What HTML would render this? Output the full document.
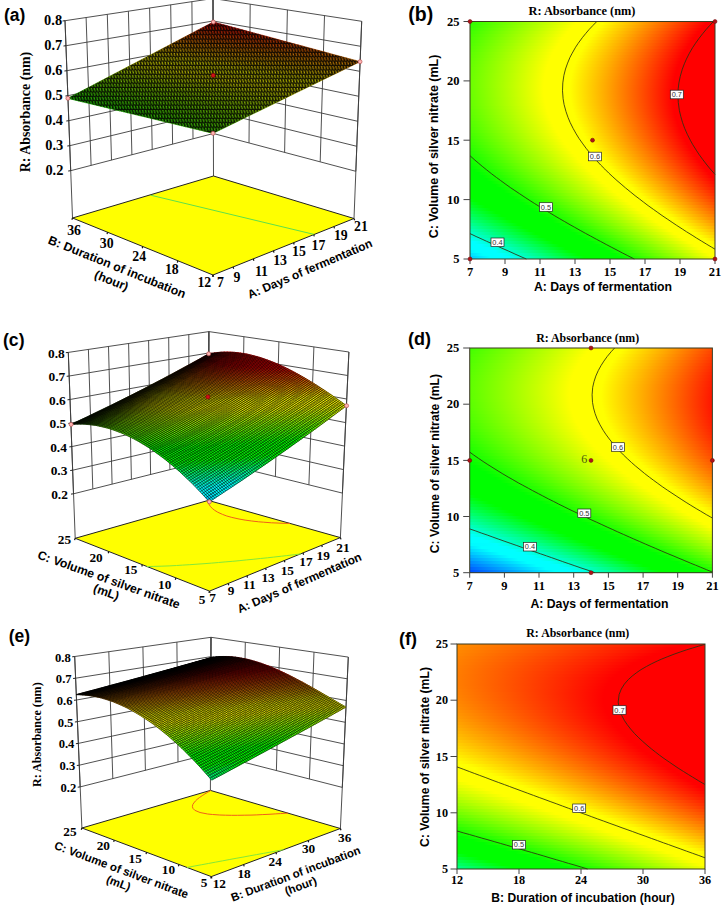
<!DOCTYPE html>
<html><head><meta charset="utf-8"><title>Response surface and contour plots</title>
<style>html,body{margin:0;padding:0;background:#fff}svg{display:block}</style></head>
<body><svg width="723" height="906" viewBox="0 0 723 906">
<defs><linearGradient id="a35" gradientUnits="userSpaceOnUse" x1="69.6" x2="215.1"><stop offset="0" stop-color="#14b800"/><stop offset=".232" stop-color="#66b800"/><stop offset=".453" stop-color="#b8b800"/><stop offset=".559" stop-color="#b8b800"/><stop offset=".775" stop-color="#b85c00"/><stop offset=".981" stop-color="#b80000"/><stop offset="1" stop-color="#b80000"/></linearGradient>
<linearGradient id="a34" gradientUnits="userSpaceOnUse" x1="73.2" x2="218.7"><stop offset="0" stop-color="#15b800"/><stop offset=".233" stop-color="#66b800"/><stop offset=".455" stop-color="#b8b800"/><stop offset=".562" stop-color="#b8b800"/><stop offset=".78" stop-color="#b85c00"/><stop offset=".988" stop-color="#b80000"/><stop offset="1" stop-color="#b80000"/></linearGradient>
<linearGradient id="a33" gradientUnits="userSpaceOnUse" x1="76.7" x2="222.4"><stop offset="0" stop-color="#16b800"/><stop offset=".234" stop-color="#67b800"/><stop offset=".457" stop-color="#b8b800"/><stop offset=".565" stop-color="#b8b800"/><stop offset=".785" stop-color="#b85c00"/><stop offset=".995" stop-color="#b80000"/><stop offset="1" stop-color="#b80000"/></linearGradient>
<linearGradient id="a32" gradientUnits="userSpaceOnUse" x1="80.3" x2="226.1"><stop offset="0" stop-color="#17b800"/><stop offset=".235" stop-color="#67b800"/><stop offset=".459" stop-color="#b8b800"/><stop offset=".568" stop-color="#b8b800"/><stop offset=".789" stop-color="#b85c00"/><stop offset="1" stop-color="#b80100"/></linearGradient>
<linearGradient id="a31" gradientUnits="userSpaceOnUse" x1="83.9" x2="229.8"><stop offset="0" stop-color="#18b800"/><stop offset=".236" stop-color="#68b800"/><stop offset=".461" stop-color="#b8b800"/><stop offset=".571" stop-color="#b8b800"/><stop offset=".791" stop-color="#b85e00"/><stop offset="1" stop-color="#b80400"/></linearGradient>
<linearGradient id="a30" gradientUnits="userSpaceOnUse" x1="87.5" x2="233.5"><stop offset="0" stop-color="#19b800"/><stop offset=".238" stop-color="#68b800"/><stop offset=".463" stop-color="#b8b800"/><stop offset=".574" stop-color="#b8b800"/><stop offset=".793" stop-color="#b85f00"/><stop offset="1" stop-color="#b80700"/></linearGradient>
<linearGradient id="a29" gradientUnits="userSpaceOnUse" x1="91.2" x2="237.2"><stop offset="0" stop-color="#1ab800"/><stop offset=".239" stop-color="#69b800"/><stop offset=".466" stop-color="#b8b800"/><stop offset=".578" stop-color="#b8b800"/><stop offset=".794" stop-color="#b86100"/><stop offset="1" stop-color="#b80a00"/></linearGradient>
<linearGradient id="a28" gradientUnits="userSpaceOnUse" x1="94.9" x2="241"><stop offset="0" stop-color="#1bb800"/><stop offset=".24" stop-color="#69b800"/><stop offset=".468" stop-color="#b8b800"/><stop offset=".581" stop-color="#b8b800"/><stop offset=".796" stop-color="#b86200"/><stop offset="1" stop-color="#b80d00"/></linearGradient>
<linearGradient id="a27" gradientUnits="userSpaceOnUse" x1="98.6" x2="244.8"><stop offset="0" stop-color="#1cb800"/><stop offset=".241" stop-color="#6ab800"/><stop offset=".47" stop-color="#b8b800"/><stop offset=".585" stop-color="#b8b800"/><stop offset=".797" stop-color="#b86400"/><stop offset="1" stop-color="#b81000"/></linearGradient>
<linearGradient id="a26" gradientUnits="userSpaceOnUse" x1="102.3" x2="248.7"><stop offset="0" stop-color="#1db800"/><stop offset=".242" stop-color="#6ab800"/><stop offset=".473" stop-color="#b8b800"/><stop offset=".588" stop-color="#b8b800"/><stop offset=".799" stop-color="#b86600"/><stop offset="1" stop-color="#b81400"/></linearGradient>
<linearGradient id="a25" gradientUnits="userSpaceOnUse" x1="106.1" x2="252.5"><stop offset="0" stop-color="#1db800"/><stop offset=".244" stop-color="#6bb800"/><stop offset=".475" stop-color="#b8b800"/><stop offset=".592" stop-color="#b8b800"/><stop offset=".801" stop-color="#b86700"/><stop offset="1" stop-color="#b81700"/></linearGradient>
<linearGradient id="a24" gradientUnits="userSpaceOnUse" x1="109.9" x2="256.4"><stop offset="0" stop-color="#1eb800"/><stop offset=".245" stop-color="#6bb800"/><stop offset=".477" stop-color="#b8b800"/><stop offset=".596" stop-color="#b8b800"/><stop offset=".803" stop-color="#b86900"/><stop offset="1" stop-color="#b81a00"/></linearGradient>
<linearGradient id="a23" gradientUnits="userSpaceOnUse" x1="113.7" x2="260.3"><stop offset="0" stop-color="#1fb800"/><stop offset=".246" stop-color="#6cb800"/><stop offset=".48" stop-color="#b8b800"/><stop offset=".599" stop-color="#b8b800"/><stop offset=".805" stop-color="#b86a00"/><stop offset="1" stop-color="#b81d00"/></linearGradient>
<linearGradient id="a22" gradientUnits="userSpaceOnUse" x1="117.6" x2="264.2"><stop offset="0" stop-color="#20b800"/><stop offset=".248" stop-color="#6cb800"/><stop offset=".482" stop-color="#b8b800"/><stop offset=".603" stop-color="#b8b800"/><stop offset=".806" stop-color="#b86c00"/><stop offset="1" stop-color="#b82000"/></linearGradient>
<linearGradient id="a21" gradientUnits="userSpaceOnUse" x1="121.5" x2="268.2"><stop offset="0" stop-color="#21b800"/><stop offset=".249" stop-color="#6cb800"/><stop offset=".485" stop-color="#b8b800"/><stop offset=".607" stop-color="#b8b800"/><stop offset=".808" stop-color="#b86d00"/><stop offset="1" stop-color="#b82300"/></linearGradient>
<linearGradient id="a20" gradientUnits="userSpaceOnUse" x1="125.4" x2="272.2"><stop offset="0" stop-color="#22b800"/><stop offset=".251" stop-color="#6db800"/><stop offset=".488" stop-color="#b8b800"/><stop offset=".611" stop-color="#b8b800"/><stop offset=".81" stop-color="#b86f00"/><stop offset="1" stop-color="#b82700"/></linearGradient>
<linearGradient id="a19" gradientUnits="userSpaceOnUse" x1="129.3" x2="276.2"><stop offset="0" stop-color="#23b800"/><stop offset=".252" stop-color="#6db800"/><stop offset=".49" stop-color="#b8b800"/><stop offset=".615" stop-color="#b8b800"/><stop offset=".812" stop-color="#b87100"/><stop offset="1" stop-color="#b82a00"/></linearGradient>
<linearGradient id="a18" gradientUnits="userSpaceOnUse" x1="133.3" x2="280.2"><stop offset="0" stop-color="#24b800"/><stop offset=".254" stop-color="#6eb800"/><stop offset=".493" stop-color="#b8b800"/><stop offset=".62" stop-color="#b8b800"/><stop offset=".814" stop-color="#b87200"/><stop offset="1" stop-color="#b82d00"/></linearGradient>
<linearGradient id="a17" gradientUnits="userSpaceOnUse" x1="137.3" x2="284.3"><stop offset="0" stop-color="#25b800"/><stop offset=".255" stop-color="#6eb800"/><stop offset=".496" stop-color="#b8b800"/><stop offset=".624" stop-color="#b8b800"/><stop offset=".816" stop-color="#b87400"/><stop offset="1" stop-color="#b83000"/></linearGradient>
<linearGradient id="a16" gradientUnits="userSpaceOnUse" x1="141.4" x2="288.3"><stop offset="0" stop-color="#26b800"/><stop offset=".257" stop-color="#6fb800"/><stop offset=".499" stop-color="#b8b800"/><stop offset=".628" stop-color="#b8b800"/><stop offset=".818" stop-color="#b87500"/><stop offset="1" stop-color="#b83300"/></linearGradient>
<linearGradient id="a15" gradientUnits="userSpaceOnUse" x1="145.5" x2="292.5"><stop offset="0" stop-color="#27b800"/><stop offset=".258" stop-color="#6fb800"/><stop offset=".502" stop-color="#b8b800"/><stop offset=".633" stop-color="#b8b800"/><stop offset=".821" stop-color="#b87700"/><stop offset="1" stop-color="#b83600"/></linearGradient>
<linearGradient id="a14" gradientUnits="userSpaceOnUse" x1="149.6" x2="296.6"><stop offset="0" stop-color="#28b800"/><stop offset=".26" stop-color="#70b800"/><stop offset=".505" stop-color="#b8b800"/><stop offset=".638" stop-color="#b8b800"/><stop offset=".823" stop-color="#b87900"/><stop offset="1" stop-color="#b83900"/></linearGradient>
<linearGradient id="a13" gradientUnits="userSpaceOnUse" x1="153.7" x2="300.8"><stop offset="0" stop-color="#29b800"/><stop offset=".262" stop-color="#70b800"/><stop offset=".508" stop-color="#b8b800"/><stop offset=".642" stop-color="#b8b800"/><stop offset=".825" stop-color="#b87a00"/><stop offset="1" stop-color="#b83d00"/></linearGradient>
<linearGradient id="a12" gradientUnits="userSpaceOnUse" x1="157.9" x2="305"><stop offset="0" stop-color="#2ab800"/><stop offset=".264" stop-color="#71b800"/><stop offset=".511" stop-color="#b8b800"/><stop offset=".647" stop-color="#b8b800"/><stop offset=".828" stop-color="#b87c00"/><stop offset="1" stop-color="#b84000"/></linearGradient>
<linearGradient id="a11" gradientUnits="userSpaceOnUse" x1="162.1" x2="309.2"><stop offset="0" stop-color="#2bb800"/><stop offset=".265" stop-color="#71b800"/><stop offset=".515" stop-color="#b8b800"/><stop offset=".652" stop-color="#b8b800"/><stop offset=".83" stop-color="#b87d00"/><stop offset="1" stop-color="#b84300"/></linearGradient>
<linearGradient id="a10" gradientUnits="userSpaceOnUse" x1="166.3" x2="313.5"><stop offset="0" stop-color="#2cb800"/><stop offset=".267" stop-color="#72b800"/><stop offset=".518" stop-color="#b8b800"/><stop offset=".657" stop-color="#b8b800"/><stop offset=".832" stop-color="#b87f00"/><stop offset="1" stop-color="#b84600"/></linearGradient>
<linearGradient id="a9" gradientUnits="userSpaceOnUse" x1="170.6" x2="317.8"><stop offset="0" stop-color="#2db800"/><stop offset=".269" stop-color="#72b800"/><stop offset=".522" stop-color="#b8b800"/><stop offset=".662" stop-color="#b8b800"/><stop offset=".835" stop-color="#b88000"/><stop offset="1" stop-color="#b84900"/></linearGradient>
<linearGradient id="a8" gradientUnits="userSpaceOnUse" x1="174.9" x2="322.1"><stop offset="0" stop-color="#2eb800"/><stop offset=".271" stop-color="#73b800"/><stop offset=".525" stop-color="#b8b800"/><stop offset=".668" stop-color="#b8b800"/><stop offset=".838" stop-color="#b88200"/><stop offset="1" stop-color="#b84c00"/></linearGradient>
<linearGradient id="a7" gradientUnits="userSpaceOnUse" x1="179.3" x2="326.4"><stop offset="0" stop-color="#2fb800"/><stop offset=".273" stop-color="#73b800"/><stop offset=".529" stop-color="#b8b800"/><stop offset=".673" stop-color="#b8b800"/><stop offset=".84" stop-color="#b88400"/><stop offset="1" stop-color="#b85000"/></linearGradient>
<linearGradient id="a6" gradientUnits="userSpaceOnUse" x1="183.6" x2="330.8"><stop offset="0" stop-color="#30b800"/><stop offset=".185" stop-color="#5db800"/><stop offset=".363" stop-color="#8ab800"/><stop offset=".533" stop-color="#b8b800"/><stop offset=".679" stop-color="#b8b800"/><stop offset=".843" stop-color="#b88500"/><stop offset="1" stop-color="#b85300"/></linearGradient>
<linearGradient id="a5" gradientUnits="userSpaceOnUse" x1="188.1" x2="335.2"><stop offset="0" stop-color="#31b800"/><stop offset=".187" stop-color="#5eb800"/><stop offset=".365" stop-color="#8bb800"/><stop offset=".537" stop-color="#b8b800"/><stop offset=".685" stop-color="#b8b800"/><stop offset=".846" stop-color="#b88700"/><stop offset="1" stop-color="#b85600"/></linearGradient>
<linearGradient id="a4" gradientUnits="userSpaceOnUse" x1="192.5" x2="339.7"><stop offset="0" stop-color="#32b800"/><stop offset=".188" stop-color="#5eb800"/><stop offset=".368" stop-color="#8bb800"/><stop offset=".541" stop-color="#b8b800"/><stop offset=".691" stop-color="#b8b800"/><stop offset=".849" stop-color="#b88800"/><stop offset="1" stop-color="#b85900"/></linearGradient>
<linearGradient id="a3" gradientUnits="userSpaceOnUse" x1="197" x2="344.1"><stop offset="0" stop-color="#33b800"/><stop offset=".19" stop-color="#5fb800"/><stop offset=".371" stop-color="#8bb800"/><stop offset=".545" stop-color="#b8b800"/><stop offset=".697" stop-color="#b8b800"/><stop offset=".852" stop-color="#b88a00"/><stop offset="1" stop-color="#b85c00"/></linearGradient>
<linearGradient id="a2" gradientUnits="userSpaceOnUse" x1="201.5" x2="348.6"><stop offset="0" stop-color="#34b800"/><stop offset=".191" stop-color="#60b800"/><stop offset=".374" stop-color="#8cb800"/><stop offset=".549" stop-color="#b8b800"/><stop offset=".703" stop-color="#b8b800"/><stop offset=".855" stop-color="#b88b00"/><stop offset="1" stop-color="#b85f00"/></linearGradient>
<linearGradient id="a1" gradientUnits="userSpaceOnUse" x1="206.1" x2="353.2"><stop offset="0" stop-color="#35b800"/><stop offset=".193" stop-color="#60b800"/><stop offset=".377" stop-color="#8cb800"/><stop offset=".553" stop-color="#b8b800"/><stop offset=".71" stop-color="#b8b800"/><stop offset=".858" stop-color="#b88d00"/><stop offset="1" stop-color="#b86200"/></linearGradient>
<linearGradient id="a0" gradientUnits="userSpaceOnUse" x1="210.7" x2="357.7"><stop offset="0" stop-color="#36b800"/><stop offset=".195" stop-color="#61b800"/><stop offset=".38" stop-color="#8cb800"/><stop offset=".558" stop-color="#b8b800"/><stop offset=".717" stop-color="#b8b800"/><stop offset=".861" stop-color="#b88f00"/><stop offset="1" stop-color="#b86600"/></linearGradient>
<pattern id="ha" width="2.9" height="8.8" patternUnits="userSpaceOnUse" patternTransform="skewX(16)"><path d="M0 0h1.6v4.4H0zM1.45 4.4h1.6v4.4h-1.6zM0 4.4h0.1499999999999999v4.4H0zM0 3.4000000000000004h2.9v1.0H0zM0 7.800000000000001h2.9v1.0H0z" fill="#000"/></pattern>
<linearGradient id="c39" gradientUnits="userSpaceOnUse" x1="72.6" x2="210.2"><stop offset="0" stop-color="#0a3400"/><stop offset=".234" stop-color="#274300"/><stop offset=".456" stop-color="#515100"/><stop offset=".564" stop-color="#585800"/><stop offset=".769" stop-color="#663500"/><stop offset=".964" stop-color="#750000"/><stop offset="1" stop-color="#700"/></linearGradient>
<linearGradient id="c38" gradientUnits="userSpaceOnUse" x1="75.6" x2="213.3"><stop offset="0" stop-color="#104500"/><stop offset=".222" stop-color="#325300"/><stop offset=".433" stop-color="#626200"/><stop offset=".542" stop-color="#696900"/><stop offset=".748" stop-color="#793e00"/><stop offset=".945" stop-color="#8a0000"/><stop offset="1" stop-color="#8f0000"/></linearGradient>
<linearGradient id="c37" gradientUnits="userSpaceOnUse" x1="78.7" x2="216.4"><stop offset="0" stop-color="#175500"/><stop offset=".211" stop-color="#3e6300"/><stop offset=".413" stop-color="#717100"/><stop offset=".522" stop-color="#797900"/><stop offset=".73" stop-color="#8a4700"/><stop offset=".928" stop-color="#9d0000"/><stop offset="1" stop-color="#a50000"/></linearGradient>
<linearGradient id="c36" gradientUnits="userSpaceOnUse" x1="81.7" x2="219.6"><stop offset="0" stop-color="#1f6500"/><stop offset=".201" stop-color="#4a7300"/><stop offset=".394" stop-color="#818100"/><stop offset=".504" stop-color="#898900"/><stop offset=".713" stop-color="#9b5000"/><stop offset=".913" stop-color="#af0000"/><stop offset="1" stop-color="#b90000"/></linearGradient>
<linearGradient id="c35" gradientUnits="userSpaceOnUse" x1="84.8" x2="222.8"><stop offset="0" stop-color="#277400"/><stop offset=".193" stop-color="#568200"/><stop offset=".378" stop-color="#909000"/><stop offset=".488" stop-color="#989800"/><stop offset=".699" stop-color="#ab5800"/><stop offset=".9" stop-color="#c00000"/><stop offset="1" stop-color="#cd0000"/></linearGradient>
<linearGradient id="c34" gradientUnits="userSpaceOnUse" x1="87.9" x2="226"><stop offset="0" stop-color="#2f8300"/><stop offset=".186" stop-color="#619100"/><stop offset=".364" stop-color="#9e9e00"/><stop offset=".475" stop-color="#a7a700"/><stop offset=".687" stop-color="#bb6000"/><stop offset=".888" stop-color="#d10000"/><stop offset="1" stop-color="#e00000"/></linearGradient>
<linearGradient id="c33" gradientUnits="userSpaceOnUse" x1="91" x2="229.2"><stop offset="0" stop-color="#379200"/><stop offset=".179" stop-color="#6da000"/><stop offset=".352" stop-color="#adad00"/><stop offset=".463" stop-color="#b6b600"/><stop offset=".676" stop-color="#ca6800"/><stop offset=".879" stop-color="#e10000"/><stop offset="1" stop-color="#f20000"/></linearGradient>
<linearGradient id="c32" gradientUnits="userSpaceOnUse" x1="94.2" x2="232.4"><stop offset="0" stop-color="#3fa000"/><stop offset=".175" stop-color="#78ae00"/><stop offset=".342" stop-color="#bb0"/><stop offset=".454" stop-color="#c5c500"/><stop offset=".668" stop-color="#d96f00"/><stop offset=".872" stop-color="#f10000"/><stop offset="1" stop-color="#f20000"/></linearGradient>
<linearGradient id="c31" gradientUnits="userSpaceOnUse" x1="97.4" x2="235.6"><stop offset="0" stop-color="#47af00"/><stop offset=".171" stop-color="#83bc00"/><stop offset=".335" stop-color="#caca00"/><stop offset=".447" stop-color="#d4d400"/><stop offset=".662" stop-color="#e87700"/><stop offset=".866" stop-color="#f20000"/><stop offset="1" stop-color="#f20000"/></linearGradient>
<linearGradient id="c30" gradientUnits="userSpaceOnUse" x1="100.6" x2="238.9"><stop offset="0" stop-color="#4ebd00"/><stop offset=".168" stop-color="#8ecb00"/><stop offset=".33" stop-color="#d8d800"/><stop offset=".442" stop-color="#e2e200"/><stop offset=".657" stop-color="#f27c00"/><stop offset=".862" stop-color="#f20000"/><stop offset="1" stop-color="#f20000"/></linearGradient>
<linearGradient id="c29" gradientUnits="userSpaceOnUse" x1="103.8" x2="242.2"><stop offset="0" stop-color="#54cb00"/><stop offset=".167" stop-color="#98d900"/><stop offset=".328" stop-color="#e7e700"/><stop offset=".439" stop-color="#f1f100"/><stop offset=".655" stop-color="#f27b00"/><stop offset=".86" stop-color="#f20000"/><stop offset="1" stop-color="#f20000"/></linearGradient>
<linearGradient id="c28" gradientUnits="userSpaceOnUse" x1="107.1" x2="245.5"><stop offset="0" stop-color="#59d800"/><stop offset=".167" stop-color="#a2e700"/><stop offset=".327" stop-color="#f2f200"/><stop offset=".439" stop-color="#f2f200"/><stop offset=".655" stop-color="#f27b00"/><stop offset=".86" stop-color="#f20000"/><stop offset="1" stop-color="#f20000"/></linearGradient>
<linearGradient id="c27" gradientUnits="userSpaceOnUse" x1="110.3" x2="248.8"><stop offset="0" stop-color="#5ee600"/><stop offset=".168" stop-color="#a9f200"/><stop offset=".329" stop-color="#f2f200"/><stop offset=".44" stop-color="#f2f200"/><stop offset=".656" stop-color="#f27b00"/><stop offset=".862" stop-color="#f20000"/><stop offset="1" stop-color="#f20000"/></linearGradient>
<linearGradient id="c26" gradientUnits="userSpaceOnUse" x1="113.6" x2="252.1"><stop offset="0" stop-color="#60f200"/><stop offset=".17" stop-color="#a8f200"/><stop offset=".333" stop-color="#f2f200"/><stop offset=".444" stop-color="#f2f200"/><stop offset=".66" stop-color="#f27b00"/><stop offset=".866" stop-color="#f20000"/><stop offset="1" stop-color="#f20000"/></linearGradient>
<linearGradient id="c25" gradientUnits="userSpaceOnUse" x1="117" x2="255.5"><stop offset="0" stop-color="#5df200"/><stop offset=".173" stop-color="#a6f200"/><stop offset=".339" stop-color="#f2f200"/><stop offset=".449" stop-color="#f2f200"/><stop offset=".666" stop-color="#f27a00"/><stop offset=".871" stop-color="#f20000"/><stop offset="1" stop-color="#f20000"/></linearGradient>
<linearGradient id="c24" gradientUnits="userSpaceOnUse" x1="120.3" x2="258.8"><stop offset="0" stop-color="#58f200"/><stop offset=".177" stop-color="#a4f200"/><stop offset=".348" stop-color="#f2f200"/><stop offset=".457" stop-color="#f2f200"/><stop offset=".673" stop-color="#f27a00"/><stop offset=".879" stop-color="#f20000"/><stop offset="1" stop-color="#f20000"/></linearGradient>
<linearGradient id="c23" gradientUnits="userSpaceOnUse" x1="123.7" x2="262.2"><stop offset="0" stop-color="#53f200"/><stop offset=".183" stop-color="#a1f200"/><stop offset=".358" stop-color="#f2f200"/><stop offset=".467" stop-color="#f2f200"/><stop offset=".683" stop-color="#f27a00"/><stop offset=".888" stop-color="#f20000"/><stop offset="1" stop-color="#f20000"/></linearGradient>
<linearGradient id="c22" gradientUnits="userSpaceOnUse" x1="127.1" x2="265.6"><stop offset="0" stop-color="#4cf200"/><stop offset=".189" stop-color="#9df200"/><stop offset=".37" stop-color="#f2f200"/><stop offset=".478" stop-color="#f2f200"/><stop offset=".694" stop-color="#f27a00"/><stop offset=".899" stop-color="#f20000"/><stop offset="1" stop-color="#f20000"/></linearGradient>
<linearGradient id="c21" gradientUnits="userSpaceOnUse" x1="130.5" x2="269"><stop offset="0" stop-color="#44f200"/><stop offset=".197" stop-color="#99f200"/><stop offset=".385" stop-color="#f2f200"/><stop offset=".492" stop-color="#f2f200"/><stop offset=".707" stop-color="#f27900"/><stop offset=".912" stop-color="#f20000"/><stop offset="1" stop-color="#f20000"/></linearGradient>
<linearGradient id="c20" gradientUnits="userSpaceOnUse" x1="133.9" x2="272.5"><stop offset="0" stop-color="#3bf200"/><stop offset=".205" stop-color="#95f200"/><stop offset=".401" stop-color="#f2f200"/><stop offset=".508" stop-color="#f2f200"/><stop offset=".722" stop-color="#f27900"/><stop offset=".926" stop-color="#f20000"/><stop offset="1" stop-color="#f20000"/></linearGradient>
<linearGradient id="c19" gradientUnits="userSpaceOnUse" x1="137.4" x2="275.9"><stop offset="0" stop-color="#32f200"/><stop offset=".215" stop-color="#90f200"/><stop offset=".42" stop-color="#f2f200"/><stop offset=".525" stop-color="#f2f200"/><stop offset=".739" stop-color="#f27900"/><stop offset=".942" stop-color="#f20000"/><stop offset="1" stop-color="#f20000"/></linearGradient>
<linearGradient id="c18" gradientUnits="userSpaceOnUse" x1="140.9" x2="279.4"><stop offset="0" stop-color="#27f200"/><stop offset=".226" stop-color="#8af200"/><stop offset=".44" stop-color="#f2f200"/><stop offset=".545" stop-color="#f2f200"/><stop offset=".758" stop-color="#f27800"/><stop offset=".961" stop-color="#f20000"/><stop offset="1" stop-color="#f20000"/></linearGradient>
<linearGradient id="c17" gradientUnits="userSpaceOnUse" x1="144.4" x2="282.9"><stop offset="0" stop-color="#1bf200"/><stop offset=".237" stop-color="#84f200"/><stop offset=".462" stop-color="#f2f200"/><stop offset=".566" stop-color="#f2f200"/><stop offset=".778" stop-color="#f27800"/><stop offset=".98" stop-color="#f20000"/><stop offset="1" stop-color="#f20000"/></linearGradient>
<linearGradient id="c16" gradientUnits="userSpaceOnUse" x1="147.9" x2="286.4"><stop offset="0" stop-color="#0ef200"/><stop offset=".25" stop-color="#7ef200"/><stop offset=".486" stop-color="#f2f200"/><stop offset=".588" stop-color="#f2f200"/><stop offset=".8" stop-color="#f27800"/><stop offset="1" stop-color="#f20100"/></linearGradient>
<linearGradient id="c15" gradientUnits="userSpaceOnUse" x1="151.5" x2="289.9"><stop offset="0" stop-color="#00f200"/><stop offset=".263" stop-color="#77f200"/><stop offset=".511" stop-color="#f2f200"/><stop offset=".613" stop-color="#f2f200"/><stop offset=".811" stop-color="#f27f00"/><stop offset="1" stop-color="#f20e00"/></linearGradient>
<linearGradient id="c14" gradientUnits="userSpaceOnUse" x1="155.1" x2="293.4"><stop offset="0" stop-color="#00f200"/><stop offset=".035" stop-color="#00f200"/><stop offset=".294" stop-color="#77f200"/><stop offset=".538" stop-color="#f2f200"/><stop offset=".639" stop-color="#f2f200"/><stop offset=".824" stop-color="#f28600"/><stop offset="1" stop-color="#f21d00"/></linearGradient>
<linearGradient id="c13" gradientUnits="userSpaceOnUse" x1="158.7" x2="297"><stop offset="0" stop-color="#00f200"/><stop offset=".072" stop-color="#00f200"/><stop offset=".326" stop-color="#77f200"/><stop offset=".567" stop-color="#f2f200"/><stop offset=".666" stop-color="#f2f200"/><stop offset=".837" stop-color="#f28e00"/><stop offset="1" stop-color="#f22c00"/></linearGradient>
<linearGradient id="c12" gradientUnits="userSpaceOnUse" x1="162.3" x2="300.5"><stop offset="0" stop-color="#00f200"/><stop offset=".11" stop-color="#00f200"/><stop offset=".36" stop-color="#77f200"/><stop offset=".596" stop-color="#f2f200"/><stop offset=".695" stop-color="#f2f200"/><stop offset=".85" stop-color="#f29600"/><stop offset="1" stop-color="#f23c00"/></linearGradient>
<linearGradient id="c11" gradientUnits="userSpaceOnUse" x1="166" x2="304.1"><stop offset="0" stop-color="#00f200"/><stop offset=".149" stop-color="#00f200"/><stop offset=".395" stop-color="#78f200"/><stop offset=".628" stop-color="#f2f200"/><stop offset=".725" stop-color="#f2f200"/><stop offset=".865" stop-color="#f29e00"/><stop offset="1" stop-color="#f24c00"/></linearGradient>
<linearGradient id="c10" gradientUnits="userSpaceOnUse" x1="169.6" x2="307.7"><stop offset="0" stop-color="#00f200"/><stop offset=".19" stop-color="#00f200"/><stop offset=".431" stop-color="#78f200"/><stop offset=".66" stop-color="#f2f200"/><stop offset=".756" stop-color="#f2f200"/><stop offset=".88" stop-color="#f2a700"/><stop offset="1" stop-color="#f25d00"/></linearGradient>
<linearGradient id="c9" gradientUnits="userSpaceOnUse" x1="173.3" x2="311.4"><stop offset="0" stop-color="#00f218"/><stop offset=".039" stop-color="#00f200"/><stop offset=".231" stop-color="#00f200"/><stop offset=".469" stop-color="#78f200"/><stop offset=".693" stop-color="#f2f200"/><stop offset=".788" stop-color="#f2f200"/><stop offset="1" stop-color="#f26f00"/></linearGradient>
<linearGradient id="c8" gradientUnits="userSpaceOnUse" x1="177" x2="315"><stop offset="0" stop-color="#00f236"/><stop offset=".086" stop-color="#00f200"/><stop offset=".274" stop-color="#00f200"/><stop offset=".507" stop-color="#78f200"/><stop offset=".727" stop-color="#f2f200"/><stop offset=".82" stop-color="#f2f200"/><stop offset="1" stop-color="#f28200"/></linearGradient>
<linearGradient id="c7" gradientUnits="userSpaceOnUse" x1="180.8" x2="318.7"><stop offset="0" stop-color="#00f256"/><stop offset=".134" stop-color="#00f200"/><stop offset=".317" stop-color="#00f200"/><stop offset=".546" stop-color="#78f200"/><stop offset=".762" stop-color="#f2f200"/><stop offset=".853" stop-color="#f2f200"/><stop offset="1" stop-color="#f29500"/></linearGradient>
<linearGradient id="c6" gradientUnits="userSpaceOnUse" x1="184.5" x2="322.3"><stop offset="0" stop-color="#00f277"/><stop offset=".183" stop-color="#00f200"/><stop offset=".362" stop-color="#00f200"/><stop offset=".585" stop-color="#78f200"/><stop offset=".797" stop-color="#f2f200"/><stop offset=".887" stop-color="#f2f200"/><stop offset="1" stop-color="#f2a800"/></linearGradient>
<linearGradient id="c5" gradientUnits="userSpaceOnUse" x1="188.3" x2="326"><stop offset="0" stop-color="#00f29a"/><stop offset=".232" stop-color="#00f200"/><stop offset=".407" stop-color="#00f200"/><stop offset=".625" stop-color="#78f200"/><stop offset=".832" stop-color="#f2f200"/><stop offset=".919" stop-color="#f2f200"/><stop offset="1" stop-color="#f2bc00"/></linearGradient>
<linearGradient id="c4" gradientUnits="userSpaceOnUse" x1="192.1" x2="329.7"><stop offset="0" stop-color="#00f2be"/><stop offset=".144" stop-color="#00f261"/><stop offset=".282" stop-color="#00f200"/><stop offset=".453" stop-color="#00f200"/><stop offset=".665" stop-color="#78f200"/><stop offset=".867" stop-color="#f2f200"/><stop offset=".952" stop-color="#f2f200"/><stop offset="1" stop-color="#f2d100"/></linearGradient>
<linearGradient id="c3" gradientUnits="userSpaceOnUse" x1="195.9" x2="333.4"><stop offset="0" stop-color="#00f2e4"/><stop offset=".17" stop-color="#00f274"/><stop offset=".333" stop-color="#00f200"/><stop offset=".498" stop-color="#00f200"/><stop offset=".705" stop-color="#78f200"/><stop offset=".901" stop-color="#f2f200"/><stop offset=".983" stop-color="#f2f200"/><stop offset="1" stop-color="#f2e600"/></linearGradient>
<linearGradient id="c2" gradientUnits="userSpaceOnUse" x1="199.8" x2="337.2"><stop offset="0" stop-color="#00f2f2"/><stop offset=".039" stop-color="#00f2f2"/><stop offset=".215" stop-color="#00f27b"/><stop offset=".383" stop-color="#00f200"/><stop offset=".544" stop-color="#00f200"/><stop offset=".744" stop-color="#77f200"/><stop offset=".934" stop-color="#f2f200"/><stop offset="1" stop-color="#f2f200"/></linearGradient>
<linearGradient id="c1" gradientUnits="userSpaceOnUse" x1="203.6" x2="340.9"><stop offset="0" stop-color="#00ecf2"/><stop offset=".1" stop-color="#00f2f2"/><stop offset=".271" stop-color="#00f27b"/><stop offset=".434" stop-color="#00f200"/><stop offset=".59" stop-color="#00f200"/><stop offset=".782" stop-color="#77f200"/><stop offset=".966" stop-color="#f2f200"/><stop offset="1" stop-color="#f2f200"/></linearGradient>
<linearGradient id="c0" gradientUnits="userSpaceOnUse" x1="207.5" x2="344.7"><stop offset="0" stop-color="#00ccf2"/><stop offset=".076" stop-color="#00f2f2"/><stop offset=".162" stop-color="#00f2f2"/><stop offset=".326" stop-color="#00f27b"/><stop offset=".484" stop-color="#00f200"/><stop offset=".635" stop-color="#00f200"/><stop offset=".819" stop-color="#77f200"/><stop offset=".996" stop-color="#f2f200"/><stop offset="1" stop-color="#f2f200"/></linearGradient>
<linearGradient id="e39" gradientUnits="userSpaceOnUse" x1="77.7" x2="212.4"><stop offset="0" stop-color="#110c00"/><stop offset=".247" stop-color="#000"/><stop offset=".481" stop-color="#000"/><stop offset=".703" stop-color="#000"/><stop offset=".913" stop-color="#000"/><stop offset="1" stop-color="#000"/></linearGradient>
<linearGradient id="e38" gradientUnits="userSpaceOnUse" x1="80.7" x2="215.4"><stop offset="0" stop-color="#271a00"/><stop offset=".232" stop-color="#110900"/><stop offset=".452" stop-color="#000"/><stop offset=".661" stop-color="#000"/><stop offset=".86" stop-color="#000"/><stop offset="1" stop-color="#000"/></linearGradient>
<linearGradient id="e37" gradientUnits="userSpaceOnUse" x1="83.7" x2="218.5"><stop offset="0" stop-color="#3b2500"/><stop offset=".219" stop-color="#281300"/><stop offset=".427" stop-color="#150700"/><stop offset=".626" stop-color="#000"/><stop offset=".815" stop-color="#000"/><stop offset="1" stop-color="#000"/></linearGradient>
<linearGradient id="e36" gradientUnits="userSpaceOnUse" x1="86.6" x2="221.6"><stop offset="0" stop-color="#4d2f00"/><stop offset=".208" stop-color="#3c1c00"/><stop offset=".406" stop-color="#2c0e00"/><stop offset=".596" stop-color="#1c0500"/><stop offset=".777" stop-color="#100000"/><stop offset="1" stop-color="#050000"/></linearGradient>
<linearGradient id="e35" gradientUnits="userSpaceOnUse" x1="89.7" x2="224.6"><stop offset="0" stop-color="#5e3800"/><stop offset=".263" stop-color="#491e00"/><stop offset=".511" stop-color="#360b00"/><stop offset=".745" stop-color="#280000"/><stop offset=".874" stop-color="#200"/><stop offset="1" stop-color="#200000"/></linearGradient>
<linearGradient id="e34" gradientUnits="userSpaceOnUse" x1="92.7" x2="227.8"><stop offset="0" stop-color="#6f4100"/><stop offset=".253" stop-color="#5b2400"/><stop offset=".493" stop-color="#490f00"/><stop offset=".719" stop-color="#3c0000"/><stop offset=".862" stop-color="#360000"/><stop offset="1" stop-color="#350000"/></linearGradient>
<linearGradient id="e33" gradientUnits="userSpaceOnUse" x1="95.8" x2="230.9"><stop offset="0" stop-color="#7f4a00"/><stop offset=".246" stop-color="#6c2a00"/><stop offset=".479" stop-color="#5b1200"/><stop offset=".699" stop-color="#4e0000"/><stop offset=".852" stop-color="#480000"/><stop offset="1" stop-color="#470000"/></linearGradient>
<linearGradient id="e32" gradientUnits="userSpaceOnUse" x1="98.8" x2="234"><stop offset="0" stop-color="#8f5300"/><stop offset=".241" stop-color="#7c3100"/><stop offset=".469" stop-color="#6b1500"/><stop offset=".685" stop-color="#5e0000"/><stop offset=".846" stop-color="#590000"/><stop offset="1" stop-color="#580000"/></linearGradient>
<linearGradient id="e31" gradientUnits="userSpaceOnUse" x1="102" x2="237.2"><stop offset="0" stop-color="#9f5d00"/><stop offset=".238" stop-color="#8c3700"/><stop offset=".463" stop-color="#7b1800"/><stop offset=".676" stop-color="#6e0000"/><stop offset=".842" stop-color="#680000"/><stop offset="1" stop-color="#670000"/></linearGradient>
<linearGradient id="e30" gradientUnits="userSpaceOnUse" x1="105.1" x2="240.4"><stop offset="0" stop-color="#ae6800"/><stop offset=".236" stop-color="#9c3e00"/><stop offset=".461" stop-color="#8a1b00"/><stop offset=".673" stop-color="#7d0000"/><stop offset=".84" stop-color="#760000"/><stop offset="1" stop-color="#750000"/></linearGradient>
<linearGradient id="e29" gradientUnits="userSpaceOnUse" x1="108.2" x2="243.6"><stop offset="0" stop-color="#be7400"/><stop offset=".237" stop-color="#aa4500"/><stop offset=".462" stop-color="#991e00"/><stop offset=".675" stop-color="#8b0000"/><stop offset=".841" stop-color="#840000"/><stop offset="1" stop-color="#830000"/></linearGradient>
<linearGradient id="e28" gradientUnits="userSpaceOnUse" x1="111.4" x2="246.8"><stop offset="0" stop-color="#cd8100"/><stop offset=".24" stop-color="#b94d00"/><stop offset=".467" stop-color="#a72200"/><stop offset=".682" stop-color="#900"/><stop offset=".844" stop-color="#920000"/><stop offset="1" stop-color="#8f0000"/></linearGradient>
<linearGradient id="e27" gradientUnits="userSpaceOnUse" x1="114.6" x2="250"><stop offset="0" stop-color="#dc8f00"/><stop offset=".244" stop-color="#c75500"/><stop offset=".475" stop-color="#b52600"/><stop offset=".694" stop-color="#a60000"/><stop offset=".85" stop-color="#9e0000"/><stop offset="1" stop-color="#9b0000"/></linearGradient>
<linearGradient id="e26" gradientUnits="userSpaceOnUse" x1="117.9" x2="253.3"><stop offset="0" stop-color="#ea9f00"/><stop offset=".251" stop-color="#d55f00"/><stop offset=".487" stop-color="#c22a00"/><stop offset=".711" stop-color="#b20000"/><stop offset=".858" stop-color="#a00"/><stop offset="1" stop-color="#a70000"/></linearGradient>
<linearGradient id="e25" gradientUnits="userSpaceOnUse" x1="121.1" x2="256.5"><stop offset="0" stop-color="#f2ac00"/><stop offset=".259" stop-color="#e36900"/><stop offset=".503" stop-color="#ce2e00"/><stop offset=".733" stop-color="#bd0000"/><stop offset=".869" stop-color="#b60000"/><stop offset="1" stop-color="#b20000"/></linearGradient>
<linearGradient id="e24" gradientUnits="userSpaceOnUse" x1="124.4" x2="259.8"><stop offset="0" stop-color="#f2b500"/><stop offset=".269" stop-color="#f07500"/><stop offset=".522" stop-color="#da3200"/><stop offset=".76" stop-color="#c80000"/><stop offset=".882" stop-color="#c10000"/><stop offset="1" stop-color="#bc0000"/></linearGradient>
<linearGradient id="e23" gradientUnits="userSpaceOnUse" x1="127.7" x2="263.1"><stop offset="0" stop-color="#f2bf00"/><stop offset=".213" stop-color="#f28c00"/><stop offset=".415" stop-color="#f15900"/><stop offset=".608" stop-color="#e02700"/><stop offset=".792" stop-color="#d20000"/><stop offset="1" stop-color="#c60000"/></linearGradient>
<linearGradient id="e22" gradientUnits="userSpaceOnUse" x1="131" x2="266.4"><stop offset="0" stop-color="#f2cb00"/><stop offset=".224" stop-color="#f29400"/><stop offset=".436" stop-color="#f25e00"/><stop offset=".638" stop-color="#eb2a00"/><stop offset=".83" stop-color="#db0000"/><stop offset="1" stop-color="#d00000"/></linearGradient>
<linearGradient id="e21" gradientUnits="userSpaceOnUse" x1="134.4" x2="269.8"><stop offset="0" stop-color="#f2d700"/><stop offset=".237" stop-color="#f29b00"/><stop offset=".461" stop-color="#f26100"/><stop offset=".674" stop-color="#f22c00"/><stop offset=".876" stop-color="#e30000"/><stop offset="1" stop-color="#d90000"/></linearGradient>
<linearGradient id="e20" gradientUnits="userSpaceOnUse" x1="137.7" x2="273.1"><stop offset="0" stop-color="#f2e500"/><stop offset=".253" stop-color="#f2a300"/><stop offset=".492" stop-color="#f26400"/><stop offset=".717" stop-color="#f22c00"/><stop offset=".93" stop-color="#e80000"/><stop offset="1" stop-color="#e30000"/></linearGradient>
<linearGradient id="e19" gradientUnits="userSpaceOnUse" x1="141.1" x2="276.5"><stop offset="0" stop-color="#f2f200"/><stop offset=".277" stop-color="#f2aa00"/><stop offset=".532" stop-color="#f26600"/><stop offset=".771" stop-color="#f22b00"/><stop offset=".997" stop-color="#ec0000"/><stop offset="1" stop-color="#eb0000"/></linearGradient>
<linearGradient id="e18" gradientUnits="userSpaceOnUse" x1="144.5" x2="279.9"><stop offset="0" stop-color="#f2f200"/><stop offset=".065" stop-color="#f2f200"/><stop offset=".32" stop-color="#f2ad00"/><stop offset=".56" stop-color="#f26b00"/><stop offset=".786" stop-color="#f23400"/><stop offset="1" stop-color="#f20c00"/></linearGradient>
<linearGradient id="e17" gradientUnits="userSpaceOnUse" x1="148" x2="283.3"><stop offset="0" stop-color="#f2f200"/><stop offset=".126" stop-color="#f2f200"/><stop offset=".363" stop-color="#f2b000"/><stop offset=".587" stop-color="#f27200"/><stop offset=".799" stop-color="#f23e00"/><stop offset="1" stop-color="#f21800"/></linearGradient>
<linearGradient id="e16" gradientUnits="userSpaceOnUse" x1="151.4" x2="286.7"><stop offset="0" stop-color="#f2f200"/><stop offset=".187" stop-color="#f2f200"/><stop offset=".406" stop-color="#f2b300"/><stop offset=".615" stop-color="#f27a00"/><stop offset=".812" stop-color="#f24900"/><stop offset="1" stop-color="#f22600"/></linearGradient>
<linearGradient id="e15" gradientUnits="userSpaceOnUse" x1="154.9" x2="290.2"><stop offset="0" stop-color="#e5f200"/><stop offset=".052" stop-color="#f2f200"/><stop offset=".249" stop-color="#f2f200"/><stop offset=".451" stop-color="#f2b700"/><stop offset=".643" stop-color="#f28200"/><stop offset=".826" stop-color="#f25500"/><stop offset="1" stop-color="#f23400"/></linearGradient>
<linearGradient id="e14" gradientUnits="userSpaceOnUse" x1="158.4" x2="293.6"><stop offset="0" stop-color="#d1f200"/><stop offset=".121" stop-color="#f2f200"/><stop offset=".312" stop-color="#f2f200"/><stop offset=".555" stop-color="#f2ab00"/><stop offset=".784" stop-color="#f26e00"/><stop offset="1" stop-color="#f24300"/></linearGradient>
<linearGradient id="e13" gradientUnits="userSpaceOnUse" x1="162" x2="297.1"><stop offset="0" stop-color="#bdf200"/><stop offset=".19" stop-color="#f2f200"/><stop offset=".377" stop-color="#f2f200"/><stop offset=".596" stop-color="#f2b100"/><stop offset=".803" stop-color="#f27a00"/><stop offset="1" stop-color="#f25200"/></linearGradient>
<linearGradient id="e12" gradientUnits="userSpaceOnUse" x1="165.5" x2="300.6"><stop offset="0" stop-color="#a8f200"/><stop offset=".259" stop-color="#f2f200"/><stop offset=".443" stop-color="#f2f200"/><stop offset=".638" stop-color="#f2b800"/><stop offset=".823" stop-color="#f28700"/><stop offset="1" stop-color="#f26200"/></linearGradient>
<linearGradient id="e11" gradientUnits="userSpaceOnUse" x1="169.1" x2="304.1"><stop offset="0" stop-color="#91f200"/><stop offset=".168" stop-color="#c2f200"/><stop offset=".329" stop-color="#f2f200"/><stop offset=".51" stop-color="#f2f200"/><stop offset=".68" stop-color="#f2bf00"/><stop offset=".844" stop-color="#f29400"/><stop offset="1" stop-color="#f27200"/></linearGradient>
<linearGradient id="e10" gradientUnits="userSpaceOnUse" x1="172.7" x2="307.7"><stop offset="0" stop-color="#7af200"/><stop offset=".204" stop-color="#b7f200"/><stop offset=".399" stop-color="#f2f200"/><stop offset=".578" stop-color="#f2f200"/><stop offset=".795" stop-color="#f2b300"/><stop offset="1" stop-color="#f28300"/></linearGradient>
<linearGradient id="e9" gradientUnits="userSpaceOnUse" x1="176.3" x2="311.2"><stop offset="0" stop-color="#61f200"/><stop offset=".242" stop-color="#abf200"/><stop offset=".47" stop-color="#f2f200"/><stop offset=".648" stop-color="#f2f200"/><stop offset=".828" stop-color="#f2bd00"/><stop offset="1" stop-color="#f29300"/></linearGradient>
<linearGradient id="e8" gradientUnits="userSpaceOnUse" x1="179.9" x2="314.8"><stop offset="0" stop-color="#48f200"/><stop offset=".189" stop-color="#82f200"/><stop offset=".369" stop-color="#bcf200"/><stop offset=".542" stop-color="#f2f200"/><stop offset=".719" stop-color="#f2f200"/><stop offset=".862" stop-color="#f2c800"/><stop offset="1" stop-color="#f2a500"/></linearGradient>
<linearGradient id="e7" gradientUnits="userSpaceOnUse" x1="183.6" x2="318.4"><stop offset="0" stop-color="#2df200"/><stop offset=".215" stop-color="#71f200"/><stop offset=".419" stop-color="#b4f200"/><stop offset=".613" stop-color="#f2f200"/><stop offset=".789" stop-color="#f2f200"/><stop offset="1" stop-color="#f2b600"/></linearGradient>
<linearGradient id="e6" gradientUnits="userSpaceOnUse" x1="187.3" x2="322"><stop offset="0" stop-color="#12f200"/><stop offset=".241" stop-color="#5ff200"/><stop offset=".469" stop-color="#abf200"/><stop offset=".684" stop-color="#f2f200"/><stop offset=".857" stop-color="#f2f200"/><stop offset="1" stop-color="#f2c800"/></linearGradient>
<linearGradient id="e5" gradientUnits="userSpaceOnUse" x1="191" x2="325.6"><stop offset="0" stop-color="#00f200"/><stop offset=".035" stop-color="#00f200"/><stop offset=".289" stop-color="#54f200"/><stop offset=".528" stop-color="#a6f200"/><stop offset=".753" stop-color="#f2f200"/><stop offset=".922" stop-color="#f2f200"/><stop offset="1" stop-color="#f2da00"/></linearGradient>
<linearGradient id="e4" gradientUnits="userSpaceOnUse" x1="194.7" x2="329.3"><stop offset="0" stop-color="#00f200"/><stop offset=".125" stop-color="#00f200"/><stop offset=".37" stop-color="#54f200"/><stop offset=".601" stop-color="#a6f200"/><stop offset=".819" stop-color="#f2f200"/><stop offset=".981" stop-color="#f2f200"/><stop offset="1" stop-color="#f2ec00"/></linearGradient>
<linearGradient id="e3" gradientUnits="userSpaceOnUse" x1="198.5" x2="333"><stop offset="0" stop-color="#00f200"/><stop offset=".212" stop-color="#00f200"/><stop offset=".447" stop-color="#54f200"/><stop offset=".669" stop-color="#a6f200"/><stop offset=".879" stop-color="#f2f200"/><stop offset="1" stop-color="#f2f200"/></linearGradient>
<linearGradient id="e2" gradientUnits="userSpaceOnUse" x1="202.2" x2="336.7"><stop offset="0" stop-color="#00f215"/><stop offset=".044" stop-color="#00f200"/><stop offset=".297" stop-color="#00f200"/><stop offset=".52" stop-color="#53f200"/><stop offset=".732" stop-color="#a5f200"/><stop offset=".933" stop-color="#f2f200"/><stop offset="1" stop-color="#f2f200"/></linearGradient>
<linearGradient id="e1" gradientUnits="userSpaceOnUse" x1="206" x2="340.4"><stop offset="0" stop-color="#00f244"/><stop offset=".137" stop-color="#00f200"/><stop offset=".379" stop-color="#00f200"/><stop offset=".59" stop-color="#52f200"/><stop offset=".789" stop-color="#a3f200"/><stop offset=".979" stop-color="#f2f200"/><stop offset="1" stop-color="#f2f200"/></linearGradient>
<linearGradient id="e0" gradientUnits="userSpaceOnUse" x1="209.8" x2="344.1"><stop offset="0" stop-color="#00f274"/><stop offset=".227" stop-color="#00f200"/><stop offset=".458" stop-color="#00f200"/><stop offset=".647" stop-color="#4ef200"/><stop offset=".828" stop-color="#9cf200"/><stop offset="1" stop-color="#eaf200"/></linearGradient>
<linearGradient id="b0"><stop offset="0" stop-color="#2fff00"/><stop offset=".144" stop-color="#71ff00"/><stop offset=".288" stop-color="#b7ff00"/><stop offset=".432" stop-color="#ff0"/><stop offset=".54" stop-color="#ff0"/><stop offset=".681" stop-color="#ffad00"/><stop offset=".822" stop-color="#ff5800"/><stop offset=".963" stop-color="#f00"/><stop offset="1" stop-color="#f00"/></linearGradient>
<linearGradient id="b1"><stop offset="0" stop-color="#35ff00"/><stop offset=".14" stop-color="#75ff00"/><stop offset=".28" stop-color="#b9ff00"/><stop offset=".42" stop-color="#ff0"/><stop offset=".528" stop-color="#ff0"/><stop offset=".669" stop-color="#ffad00"/><stop offset=".811" stop-color="#ff5800"/><stop offset=".952" stop-color="#f00"/><stop offset="1" stop-color="#f00"/></linearGradient>
<linearGradient id="b2"><stop offset="0" stop-color="#3aff00"/><stop offset=".136" stop-color="#79ff00"/><stop offset=".272" stop-color="#baff00"/><stop offset=".409" stop-color="#ff0"/><stop offset=".517" stop-color="#ff0"/><stop offset=".658" stop-color="#ffad00"/><stop offset=".8" stop-color="#ff5800"/><stop offset=".941" stop-color="#f00"/><stop offset="1" stop-color="#f00"/></linearGradient>
<linearGradient id="b3"><stop offset="0" stop-color="#3fff00"/><stop offset=".199" stop-color="#9cff00"/><stop offset=".398" stop-color="#ff0"/><stop offset=".506" stop-color="#ff0"/><stop offset=".648" stop-color="#ffad00"/><stop offset=".789" stop-color="#ff5800"/><stop offset=".931" stop-color="#f00"/><stop offset="1" stop-color="#f00"/></linearGradient>
<linearGradient id="b4"><stop offset="0" stop-color="#4f0"/><stop offset=".194" stop-color="#9fff00"/><stop offset=".388" stop-color="#ff0"/><stop offset=".496" stop-color="#ff0"/><stop offset=".638" stop-color="#ffad00"/><stop offset=".779" stop-color="#ff5800"/><stop offset=".921" stop-color="#f00"/><stop offset="1" stop-color="#f00"/></linearGradient>
<linearGradient id="b5"><stop offset="0" stop-color="#48ff00"/><stop offset=".189" stop-color="#a1ff00"/><stop offset=".378" stop-color="#ff0"/><stop offset=".486" stop-color="#ff0"/><stop offset=".628" stop-color="#ffad00"/><stop offset=".77" stop-color="#ff5800"/><stop offset=".912" stop-color="#f00"/><stop offset="1" stop-color="#f00"/></linearGradient>
<linearGradient id="b6"><stop offset="0" stop-color="#4dff00"/><stop offset=".185" stop-color="#a3ff00"/><stop offset=".369" stop-color="#ff0"/><stop offset=".477" stop-color="#ff0"/><stop offset=".619" stop-color="#ffad00"/><stop offset=".761" stop-color="#ff5800"/><stop offset=".903" stop-color="#f00"/><stop offset="1" stop-color="#f00"/></linearGradient>
<linearGradient id="b7"><stop offset="0" stop-color="#50ff00"/><stop offset=".18" stop-color="#a5ff00"/><stop offset=".361" stop-color="#ff0"/><stop offset=".469" stop-color="#ff0"/><stop offset=".611" stop-color="#ffad00"/><stop offset=".753" stop-color="#ff5800"/><stop offset=".895" stop-color="#f00"/><stop offset="1" stop-color="#f00"/></linearGradient>
<linearGradient id="b8"><stop offset="0" stop-color="#54ff00"/><stop offset=".176" stop-color="#a7ff00"/><stop offset=".353" stop-color="#ff0"/><stop offset=".461" stop-color="#ff0"/><stop offset=".603" stop-color="#ffad00"/><stop offset=".745" stop-color="#ff5800"/><stop offset=".887" stop-color="#f00"/><stop offset="1" stop-color="#f00"/></linearGradient>
<linearGradient id="b9"><stop offset="0" stop-color="#57ff00"/><stop offset=".173" stop-color="#a9ff00"/><stop offset=".345" stop-color="#ff0"/><stop offset=".454" stop-color="#ff0"/><stop offset=".596" stop-color="#ffad00"/><stop offset=".737" stop-color="#ff5800"/><stop offset=".879" stop-color="#f00"/><stop offset="1" stop-color="#f00"/></linearGradient>
<linearGradient id="b10"><stop offset="0" stop-color="#5bff00"/><stop offset=".169" stop-color="#abff00"/><stop offset=".338" stop-color="#ff0"/><stop offset=".447" stop-color="#ff0"/><stop offset=".589" stop-color="#ffad00"/><stop offset=".73" stop-color="#ff5800"/><stop offset=".872" stop-color="#f00"/><stop offset="1" stop-color="#f00"/></linearGradient>
<linearGradient id="b11"><stop offset="0" stop-color="#5dff00"/><stop offset=".166" stop-color="#acff00"/><stop offset=".332" stop-color="#ff0"/><stop offset=".441" stop-color="#ff0"/><stop offset=".582" stop-color="#ffad00"/><stop offset=".724" stop-color="#ff5800"/><stop offset=".866" stop-color="#f00"/><stop offset="1" stop-color="#f00"/></linearGradient>
<linearGradient id="b12"><stop offset="0" stop-color="#60ff00"/><stop offset=".163" stop-color="#adff00"/><stop offset=".327" stop-color="#ff0"/><stop offset=".435" stop-color="#ff0"/><stop offset=".577" stop-color="#ffad00"/><stop offset=".718" stop-color="#ff5800"/><stop offset=".86" stop-color="#f00"/><stop offset="1" stop-color="#f00"/></linearGradient>
<linearGradient id="b13"><stop offset="0" stop-color="#62ff00"/><stop offset=".161" stop-color="#afff00"/><stop offset=".322" stop-color="#ff0"/><stop offset=".43" stop-color="#ff0"/><stop offset=".571" stop-color="#ffad00"/><stop offset=".713" stop-color="#ff5800"/><stop offset=".855" stop-color="#f00"/><stop offset="1" stop-color="#f00"/></linearGradient>
<linearGradient id="b14"><stop offset="0" stop-color="#64ff00"/><stop offset=".159" stop-color="#b0ff00"/><stop offset=".317" stop-color="#ff0"/><stop offset=".425" stop-color="#ff0"/><stop offset=".567" stop-color="#ffad00"/><stop offset=".708" stop-color="#ff5800"/><stop offset=".85" stop-color="#f00"/><stop offset="1" stop-color="#f00"/></linearGradient>
<linearGradient id="b15"><stop offset="0" stop-color="#6f0"/><stop offset=".157" stop-color="#b0ff00"/><stop offset=".313" stop-color="#ff0"/><stop offset=".421" stop-color="#ff0"/><stop offset=".562" stop-color="#ffad00"/><stop offset=".704" stop-color="#ff5800"/><stop offset=".845" stop-color="#f00"/><stop offset="1" stop-color="#f00"/></linearGradient>
<linearGradient id="b16"><stop offset="0" stop-color="#67ff00"/><stop offset=".155" stop-color="#b1ff00"/><stop offset=".31" stop-color="#ff0"/><stop offset=".417" stop-color="#ff0"/><stop offset=".559" stop-color="#ffad00"/><stop offset=".7" stop-color="#ff5800"/><stop offset=".841" stop-color="#f00"/><stop offset="1" stop-color="#f00"/></linearGradient>
<linearGradient id="b17"><stop offset="0" stop-color="#68ff00"/><stop offset=".153" stop-color="#b2ff00"/><stop offset=".307" stop-color="#ff0"/><stop offset=".414" stop-color="#ff0"/><stop offset=".556" stop-color="#ffad00"/><stop offset=".697" stop-color="#ff5800"/><stop offset=".838" stop-color="#f00"/><stop offset="1" stop-color="#f00"/></linearGradient>
<linearGradient id="b18"><stop offset="0" stop-color="#69ff00"/><stop offset=".152" stop-color="#b2ff00"/><stop offset=".305" stop-color="#ff0"/><stop offset=".412" stop-color="#ff0"/><stop offset=".553" stop-color="#ffad00"/><stop offset=".694" stop-color="#ff5800"/><stop offset=".835" stop-color="#f00"/><stop offset="1" stop-color="#f00"/></linearGradient>
<linearGradient id="b19"><stop offset="0" stop-color="#6aff00"/><stop offset=".151" stop-color="#b2ff00"/><stop offset=".303" stop-color="#ff0"/><stop offset=".41" stop-color="#ff0"/><stop offset=".551" stop-color="#ffad00"/><stop offset=".691" stop-color="#ff5800"/><stop offset=".832" stop-color="#f00"/><stop offset="1" stop-color="#f00"/></linearGradient>
<linearGradient id="b20"><stop offset="0" stop-color="#6aff00"/><stop offset=".151" stop-color="#b3ff00"/><stop offset=".302" stop-color="#ff0"/><stop offset=".409" stop-color="#ff0"/><stop offset=".549" stop-color="#ffad00"/><stop offset=".69" stop-color="#ff5800"/><stop offset=".83" stop-color="#f00"/><stop offset="1" stop-color="#f00"/></linearGradient>
<linearGradient id="b21"><stop offset="0" stop-color="#6aff00"/><stop offset=".15" stop-color="#b3ff00"/><stop offset=".301" stop-color="#ff0"/><stop offset=".408" stop-color="#ff0"/><stop offset=".548" stop-color="#ffad00"/><stop offset=".688" stop-color="#ff5800"/><stop offset=".829" stop-color="#f00"/><stop offset="1" stop-color="#f00"/></linearGradient>
<linearGradient id="b22"><stop offset="0" stop-color="#69ff00"/><stop offset=".15" stop-color="#b2ff00"/><stop offset=".301" stop-color="#ff0"/><stop offset=".408" stop-color="#ff0"/><stop offset=".548" stop-color="#ffad00"/><stop offset=".687" stop-color="#ff5800"/><stop offset=".827" stop-color="#f00"/><stop offset="1" stop-color="#f00"/></linearGradient>
<linearGradient id="b23"><stop offset="0" stop-color="#69ff00"/><stop offset=".151" stop-color="#b2ff00"/><stop offset=".301" stop-color="#ff0"/><stop offset=".408" stop-color="#ff0"/><stop offset=".547" stop-color="#ffad00"/><stop offset=".687" stop-color="#ff5800"/><stop offset=".827" stop-color="#f00"/><stop offset="1" stop-color="#f00"/></linearGradient>
<linearGradient id="b24"><stop offset="0" stop-color="#68ff00"/><stop offset=".151" stop-color="#b2ff00"/><stop offset=".302" stop-color="#ff0"/><stop offset=".409" stop-color="#ff0"/><stop offset=".548" stop-color="#ffad00"/><stop offset=".687" stop-color="#ff5800"/><stop offset=".827" stop-color="#f00"/><stop offset="1" stop-color="#f00"/></linearGradient>
<linearGradient id="b25"><stop offset="0" stop-color="#67ff00"/><stop offset=".152" stop-color="#b1ff00"/><stop offset=".304" stop-color="#ff0"/><stop offset=".41" stop-color="#ff0"/><stop offset=".549" stop-color="#ffad00"/><stop offset=".688" stop-color="#ff5800"/><stop offset=".827" stop-color="#f00"/><stop offset="1" stop-color="#f00"/></linearGradient>
<linearGradient id="b26"><stop offset="0" stop-color="#65ff00"/><stop offset=".153" stop-color="#b0ff00"/><stop offset=".306" stop-color="#ff0"/><stop offset=".412" stop-color="#ff0"/><stop offset=".55" stop-color="#ffad00"/><stop offset=".689" stop-color="#ff5800"/><stop offset=".828" stop-color="#f00"/><stop offset="1" stop-color="#f00"/></linearGradient>
<linearGradient id="b27"><stop offset="0" stop-color="#64ff00"/><stop offset=".154" stop-color="#b0ff00"/><stop offset=".309" stop-color="#ff0"/><stop offset=".414" stop-color="#ff0"/><stop offset=".552" stop-color="#ffad00"/><stop offset=".691" stop-color="#ff5800"/><stop offset=".829" stop-color="#f00"/><stop offset="1" stop-color="#f00"/></linearGradient>
<linearGradient id="b28"><stop offset="0" stop-color="#62ff00"/><stop offset=".156" stop-color="#aeff00"/><stop offset=".312" stop-color="#ff0"/><stop offset=".417" stop-color="#ff0"/><stop offset=".555" stop-color="#ffad00"/><stop offset=".693" stop-color="#ff5800"/><stop offset=".831" stop-color="#f00"/><stop offset="1" stop-color="#f00"/></linearGradient>
<linearGradient id="b29"><stop offset="0" stop-color="#5fff00"/><stop offset=".158" stop-color="#adff00"/><stop offset=".315" stop-color="#ff0"/><stop offset=".42" stop-color="#ff0"/><stop offset=".558" stop-color="#ffad00"/><stop offset=".695" stop-color="#ff5800"/><stop offset=".833" stop-color="#f00"/><stop offset="1" stop-color="#f00"/></linearGradient>
<linearGradient id="b30"><stop offset="0" stop-color="#5dff00"/><stop offset=".16" stop-color="#acff00"/><stop offset=".319" stop-color="#ff0"/><stop offset=".424" stop-color="#ff0"/><stop offset=".561" stop-color="#ffad00"/><stop offset=".698" stop-color="#ff5800"/><stop offset=".835" stop-color="#f00"/><stop offset="1" stop-color="#f00"/></linearGradient>
<linearGradient id="b31"><stop offset="0" stop-color="#5aff00"/><stop offset=".162" stop-color="#af0"/><stop offset=".324" stop-color="#ff0"/><stop offset=".428" stop-color="#ff0"/><stop offset=".565" stop-color="#ffad00"/><stop offset=".702" stop-color="#ff5800"/><stop offset=".838" stop-color="#f00"/><stop offset="1" stop-color="#f00"/></linearGradient>
<linearGradient id="b32"><stop offset="0" stop-color="#57ff00"/><stop offset=".165" stop-color="#a9ff00"/><stop offset=".329" stop-color="#ff0"/><stop offset=".433" stop-color="#ff0"/><stop offset=".569" stop-color="#ffad00"/><stop offset=".706" stop-color="#ff5800"/><stop offset=".842" stop-color="#f00"/><stop offset="1" stop-color="#f00"/></linearGradient>
<linearGradient id="b33"><stop offset="0" stop-color="#53ff00"/><stop offset=".167" stop-color="#a7ff00"/><stop offset=".335" stop-color="#ff0"/><stop offset=".438" stop-color="#ff0"/><stop offset=".574" stop-color="#ffad00"/><stop offset=".71" stop-color="#ff5800"/><stop offset=".846" stop-color="#f00"/><stop offset="1" stop-color="#f00"/></linearGradient>
<linearGradient id="b34"><stop offset="0" stop-color="#50ff00"/><stop offset=".17" stop-color="#a5ff00"/><stop offset=".341" stop-color="#ff0"/><stop offset=".444" stop-color="#ff0"/><stop offset=".579" stop-color="#ffad00"/><stop offset=".715" stop-color="#ff5800"/><stop offset=".85" stop-color="#f00"/><stop offset="1" stop-color="#f00"/></linearGradient>
<linearGradient id="b35"><stop offset="0" stop-color="#4cff00"/><stop offset=".174" stop-color="#a3ff00"/><stop offset=".347" stop-color="#ff0"/><stop offset=".45" stop-color="#ff0"/><stop offset=".585" stop-color="#ffad00"/><stop offset=".72" stop-color="#ff5800"/><stop offset=".855" stop-color="#f00"/><stop offset="1" stop-color="#f00"/></linearGradient>
<linearGradient id="b36"><stop offset="0" stop-color="#48ff00"/><stop offset=".177" stop-color="#a1ff00"/><stop offset=".355" stop-color="#ff0"/><stop offset=".457" stop-color="#ff0"/><stop offset=".591" stop-color="#ffad00"/><stop offset=".726" stop-color="#ff5800"/><stop offset=".86" stop-color="#f00"/><stop offset="1" stop-color="#f00"/></linearGradient>
<linearGradient id="b37"><stop offset="0" stop-color="#43ff00"/><stop offset=".181" stop-color="#9eff00"/><stop offset=".362" stop-color="#ff0"/><stop offset=".464" stop-color="#ff0"/><stop offset=".598" stop-color="#ffad00"/><stop offset=".732" stop-color="#ff5800"/><stop offset=".866" stop-color="#f00"/><stop offset="1" stop-color="#f00"/></linearGradient>
<linearGradient id="b38"><stop offset="0" stop-color="#3eff00"/><stop offset=".185" stop-color="#9cff00"/><stop offset=".37" stop-color="#ff0"/><stop offset=".471" stop-color="#ff0"/><stop offset=".605" stop-color="#ffad00"/><stop offset=".738" stop-color="#ff5800"/><stop offset=".872" stop-color="#f00"/><stop offset="1" stop-color="#f00"/></linearGradient>
<linearGradient id="b39"><stop offset="0" stop-color="#39ff00"/><stop offset=".189" stop-color="#9f0"/><stop offset=".379" stop-color="#ff0"/><stop offset=".479" stop-color="#ff0"/><stop offset=".679" stop-color="#ff8300"/><stop offset=".879" stop-color="#f00"/><stop offset="1" stop-color="#f00"/></linearGradient>
<linearGradient id="b40"><stop offset="0" stop-color="#34ff00"/><stop offset=".194" stop-color="#96ff00"/><stop offset=".387" stop-color="#ff0"/><stop offset=".488" stop-color="#ff0"/><stop offset=".687" stop-color="#ff8300"/><stop offset=".885" stop-color="#f00"/><stop offset="1" stop-color="#f00"/></linearGradient>
<linearGradient id="b41"><stop offset="0" stop-color="#2eff00"/><stop offset=".198" stop-color="#93ff00"/><stop offset=".397" stop-color="#ff0"/><stop offset=".497" stop-color="#ff0"/><stop offset=".695" stop-color="#ff8300"/><stop offset=".893" stop-color="#f00"/><stop offset="1" stop-color="#f00"/></linearGradient>
<linearGradient id="b42"><stop offset="0" stop-color="#28ff00"/><stop offset=".136" stop-color="#6dff00"/><stop offset=".271" stop-color="#b5ff00"/><stop offset=".407" stop-color="#ff0"/><stop offset=".506" stop-color="#ff0"/><stop offset=".703" stop-color="#ff8300"/><stop offset=".9" stop-color="#f00"/><stop offset="1" stop-color="#f00"/></linearGradient>
<linearGradient id="b43"><stop offset="0" stop-color="#2f0"/><stop offset=".139" stop-color="#69ff00"/><stop offset=".278" stop-color="#b2ff00"/><stop offset=".417" stop-color="#ff0"/><stop offset=".516" stop-color="#ff0"/><stop offset=".712" stop-color="#ff8300"/><stop offset=".909" stop-color="#f00"/><stop offset="1" stop-color="#f00"/></linearGradient>
<linearGradient id="b44"><stop offset="0" stop-color="#1bff00"/><stop offset=".143" stop-color="#64ff00"/><stop offset=".285" stop-color="#b0ff00"/><stop offset=".428" stop-color="#ff0"/><stop offset=".526" stop-color="#ff0"/><stop offset=".721" stop-color="#ff8300"/><stop offset=".917" stop-color="#f00"/><stop offset="1" stop-color="#f00"/></linearGradient>
<linearGradient id="b45"><stop offset="0" stop-color="#15ff00"/><stop offset=".146" stop-color="#5fff00"/><stop offset=".292" stop-color="#aeff00"/><stop offset=".439" stop-color="#ff0"/><stop offset=".537" stop-color="#ff0"/><stop offset=".731" stop-color="#ff8300"/><stop offset=".926" stop-color="#f00"/><stop offset="1" stop-color="#f00"/></linearGradient>
<linearGradient id="b46"><stop offset="0" stop-color="#0dff00"/><stop offset=".15" stop-color="#5bff00"/><stop offset=".3" stop-color="#abff00"/><stop offset=".45" stop-color="#ff0"/><stop offset=".548" stop-color="#ff0"/><stop offset=".741" stop-color="#ff8300"/><stop offset=".935" stop-color="#f00"/><stop offset="1" stop-color="#f00"/></linearGradient>
<linearGradient id="b47"><stop offset="0" stop-color="#06ff00"/><stop offset=".154" stop-color="#5f0"/><stop offset=".308" stop-color="#a8ff00"/><stop offset=".462" stop-color="#ff0"/><stop offset=".559" stop-color="#ff0"/><stop offset=".752" stop-color="#ff8300"/><stop offset=".945" stop-color="#f00"/><stop offset="1" stop-color="#f00"/></linearGradient>
<linearGradient id="b48"><stop offset="0" stop-color="#0f0"/><stop offset=".16" stop-color="#51ff00"/><stop offset=".317" stop-color="#a6ff00"/><stop offset=".474" stop-color="#ff0"/><stop offset=".571" stop-color="#ff0"/><stop offset=".763" stop-color="#ff8300"/><stop offset=".955" stop-color="#f00"/><stop offset="1" stop-color="#f00"/></linearGradient>
<linearGradient id="b49"><stop offset="0" stop-color="#0f0"/><stop offset=".019" stop-color="#0f0"/><stop offset=".175" stop-color="#51ff00"/><stop offset=".331" stop-color="#a6ff00"/><stop offset=".487" stop-color="#ff0"/><stop offset=".583" stop-color="#ff0"/><stop offset=".774" stop-color="#ff8300"/><stop offset=".965" stop-color="#f00"/><stop offset="1" stop-color="#f00"/></linearGradient>
<linearGradient id="b50"><stop offset="0" stop-color="#0f0"/><stop offset=".035" stop-color="#0f0"/><stop offset=".19" stop-color="#51ff00"/><stop offset=".345" stop-color="#a6ff00"/><stop offset=".5" stop-color="#ff0"/><stop offset=".596" stop-color="#ff0"/><stop offset=".786" stop-color="#ff8200"/><stop offset=".976" stop-color="#f00"/><stop offset="1" stop-color="#f00"/></linearGradient>
<linearGradient id="b51"><stop offset="0" stop-color="#0f0"/><stop offset=".051" stop-color="#0f0"/><stop offset=".205" stop-color="#51ff00"/><stop offset=".359" stop-color="#a6ff00"/><stop offset=".514" stop-color="#ff0"/><stop offset=".609" stop-color="#ff0"/><stop offset=".798" stop-color="#ff8200"/><stop offset=".987" stop-color="#f00"/><stop offset="1" stop-color="#f00"/></linearGradient>
<linearGradient id="b52"><stop offset="0" stop-color="#0f0"/><stop offset=".068" stop-color="#0f0"/><stop offset=".221" stop-color="#51ff00"/><stop offset=".374" stop-color="#a6ff00"/><stop offset=".528" stop-color="#ff0"/><stop offset=".622" stop-color="#ff0"/><stop offset=".81" stop-color="#ff8200"/><stop offset=".999" stop-color="#f00"/><stop offset="1" stop-color="#f00"/></linearGradient>
<linearGradient id="b53"><stop offset="0" stop-color="#0f0"/><stop offset=".085" stop-color="#0f0"/><stop offset=".237" stop-color="#51ff00"/><stop offset=".39" stop-color="#a6ff00"/><stop offset=".542" stop-color="#ff0"/><stop offset=".636" stop-color="#ff0"/><stop offset=".818" stop-color="#ff8600"/><stop offset="1" stop-color="#ff0800"/></linearGradient>
<linearGradient id="b54"><stop offset="0" stop-color="#0f0"/><stop offset=".103" stop-color="#0f0"/><stop offset=".254" stop-color="#51ff00"/><stop offset=".405" stop-color="#a6ff00"/><stop offset=".556" stop-color="#ff0"/><stop offset=".65" stop-color="#ff0"/><stop offset=".825" stop-color="#ff8a00"/><stop offset="1" stop-color="#ff1000"/></linearGradient>
<linearGradient id="b55"><stop offset="0" stop-color="#0f0"/><stop offset=".121" stop-color="#0f0"/><stop offset=".271" stop-color="#52ff00"/><stop offset=".421" stop-color="#a7ff00"/><stop offset=".571" stop-color="#ff0"/><stop offset=".664" stop-color="#ff0"/><stop offset=".832" stop-color="#ff8e00"/><stop offset="1" stop-color="#ff1900"/></linearGradient>
<linearGradient id="b56"><stop offset="0" stop-color="#0f0"/><stop offset=".139" stop-color="#0f0"/><stop offset=".288" stop-color="#52ff00"/><stop offset=".437" stop-color="#a7ff00"/><stop offset=".587" stop-color="#ff0"/><stop offset=".679" stop-color="#ff0"/><stop offset=".839" stop-color="#ff9300"/><stop offset="1" stop-color="#ff2300"/></linearGradient>
<linearGradient id="b57"><stop offset="0" stop-color="#0f0"/><stop offset=".157" stop-color="#0f0"/><stop offset=".306" stop-color="#52ff00"/><stop offset=".454" stop-color="#a7ff00"/><stop offset=".602" stop-color="#ff0"/><stop offset=".694" stop-color="#ff0"/><stop offset=".847" stop-color="#ff9800"/><stop offset="1" stop-color="#ff2c00"/></linearGradient>
<linearGradient id="b58"><stop offset="0" stop-color="#0f0"/><stop offset=".176" stop-color="#0f0"/><stop offset=".324" stop-color="#52ff00"/><stop offset=".471" stop-color="#a7ff00"/><stop offset=".618" stop-color="#ff0"/><stop offset=".709" stop-color="#ff0"/><stop offset=".855" stop-color="#ff9c00"/><stop offset="1" stop-color="#ff3600"/></linearGradient>
<linearGradient id="b59"><stop offset="0" stop-color="#00ff0e"/><stop offset=".02" stop-color="#0f0"/><stop offset=".196" stop-color="#0f0"/><stop offset=".342" stop-color="#52ff00"/><stop offset=".488" stop-color="#a7ff00"/><stop offset=".635" stop-color="#ff0"/><stop offset=".725" stop-color="#ff0"/><stop offset=".863" stop-color="#ffa100"/><stop offset="1" stop-color="#ff4000"/></linearGradient>
<linearGradient id="b60"><stop offset="0" stop-color="#00ff1e"/><stop offset=".041" stop-color="#0f0"/><stop offset=".215" stop-color="#0f0"/><stop offset=".361" stop-color="#52ff00"/><stop offset=".506" stop-color="#a7ff00"/><stop offset=".651" stop-color="#ff0"/><stop offset=".741" stop-color="#ff0"/><stop offset=".871" stop-color="#ffa600"/><stop offset="1" stop-color="#ff4b00"/></linearGradient>
<linearGradient id="b61"><stop offset="0" stop-color="#00ff2e"/><stop offset=".062" stop-color="#0f0"/><stop offset=".235" stop-color="#0f0"/><stop offset=".38" stop-color="#52ff00"/><stop offset=".524" stop-color="#a7ff00"/><stop offset=".668" stop-color="#ff0"/><stop offset=".758" stop-color="#ff0"/><stop offset=".879" stop-color="#ffac00"/><stop offset="1" stop-color="#ff5600"/></linearGradient>
<linearGradient id="b62"><stop offset="0" stop-color="#00ff3f"/><stop offset=".084" stop-color="#0f0"/><stop offset=".256" stop-color="#0f0"/><stop offset=".399" stop-color="#52ff00"/><stop offset=".542" stop-color="#a7ff00"/><stop offset=".685" stop-color="#ff0"/><stop offset=".774" stop-color="#ff0"/><stop offset=".887" stop-color="#ffb100"/><stop offset="1" stop-color="#ff6100"/></linearGradient>
<linearGradient id="b63"><stop offset="0" stop-color="#00ff4f"/><stop offset=".106" stop-color="#0f0"/><stop offset=".276" stop-color="#0f0"/><stop offset=".418" stop-color="#52ff00"/><stop offset=".561" stop-color="#a7ff00"/><stop offset=".703" stop-color="#ff0"/><stop offset=".792" stop-color="#ff0"/><stop offset=".896" stop-color="#ffb600"/><stop offset="1" stop-color="#ff6c00"/></linearGradient>
<linearGradient id="b64"><stop offset="0" stop-color="#00ff61"/><stop offset=".128" stop-color="#0f0"/><stop offset=".297" stop-color="#0f0"/><stop offset=".438" stop-color="#52ff00"/><stop offset=".58" stop-color="#a7ff00"/><stop offset=".721" stop-color="#ff0"/><stop offset=".809" stop-color="#ff0"/><stop offset="1" stop-color="#ff7800"/></linearGradient>
<linearGradient id="b65"><stop offset="0" stop-color="#00ff72"/><stop offset=".15" stop-color="#0f0"/><stop offset=".318" stop-color="#0f0"/><stop offset=".458" stop-color="#52ff00"/><stop offset=".599" stop-color="#a7ff00"/><stop offset=".739" stop-color="#ff0"/><stop offset=".827" stop-color="#ff0"/><stop offset="1" stop-color="#ff8400"/></linearGradient>
<linearGradient id="b66"><stop offset="0" stop-color="#00ff84"/><stop offset=".173" stop-color="#0f0"/><stop offset=".339" stop-color="#0f0"/><stop offset=".479" stop-color="#52ff00"/><stop offset=".618" stop-color="#a7ff00"/><stop offset=".758" stop-color="#ff0"/><stop offset=".845" stop-color="#ff0"/><stop offset="1" stop-color="#ff9000"/></linearGradient>
<linearGradient id="b67"><stop offset="0" stop-color="#00ff97"/><stop offset=".196" stop-color="#0f0"/><stop offset=".361" stop-color="#0f0"/><stop offset=".5" stop-color="#52ff00"/><stop offset=".638" stop-color="#a7ff00"/><stop offset=".776" stop-color="#ff0"/><stop offset=".863" stop-color="#ff0"/><stop offset="1" stop-color="#ff9d00"/></linearGradient>
<linearGradient id="b68"><stop offset="0" stop-color="#00ffa9"/><stop offset=".11" stop-color="#00ff56"/><stop offset=".22" stop-color="#0f0"/><stop offset=".383" stop-color="#0f0"/><stop offset=".521" stop-color="#52ff00"/><stop offset=".658" stop-color="#a7ff00"/><stop offset=".795" stop-color="#ff0"/><stop offset=".881" stop-color="#ff0"/><stop offset="1" stop-color="#fa0"/></linearGradient>
<linearGradient id="b69"><stop offset="0" stop-color="#00ffbd"/><stop offset=".122" stop-color="#00ff60"/><stop offset=".243" stop-color="#0f0"/><stop offset=".405" stop-color="#0f0"/><stop offset=".542" stop-color="#52ff00"/><stop offset=".678" stop-color="#a7ff00"/><stop offset=".815" stop-color="#ff0"/><stop offset=".9" stop-color="#ff0"/><stop offset="1" stop-color="#ffb700"/></linearGradient>
<linearGradient id="b70"><stop offset="0" stop-color="#00ffd0"/><stop offset=".133" stop-color="#00ff6a"/><stop offset=".267" stop-color="#0f0"/><stop offset=".428" stop-color="#0f0"/><stop offset=".563" stop-color="#52ff00"/><stop offset=".699" stop-color="#a7ff00"/><stop offset=".834" stop-color="#ff0"/><stop offset=".919" stop-color="#ff0"/><stop offset="1" stop-color="#ffc500"/></linearGradient>
<linearGradient id="b71"><stop offset="0" stop-color="#00ffe4"/><stop offset=".145" stop-color="#00ff74"/><stop offset=".291" stop-color="#0f0"/><stop offset=".451" stop-color="#0f0"/><stop offset=".585" stop-color="#52ff00"/><stop offset=".72" stop-color="#a7ff00"/><stop offset=".854" stop-color="#ff0"/><stop offset=".939" stop-color="#ff0"/><stop offset="1" stop-color="#ffd200"/></linearGradient>
<linearGradient id="b72"><stop offset="0" stop-color="#00fff9"/><stop offset=".158" stop-color="#00ff7f"/><stop offset=".315" stop-color="#0f0"/><stop offset=".474" stop-color="#0f0"/><stop offset=".607" stop-color="#52ff00"/><stop offset=".741" stop-color="#a7ff00"/><stop offset=".874" stop-color="#ff0"/><stop offset=".958" stop-color="#ff0"/><stop offset="1" stop-color="#ffe000"/></linearGradient>
<linearGradient id="b73"><stop offset="0" stop-color="#0ff"/><stop offset=".019" stop-color="#0ff"/><stop offset=".179" stop-color="#00ff82"/><stop offset=".34" stop-color="#0f0"/><stop offset=".497" stop-color="#0f0"/><stop offset=".696" stop-color="#7cff00"/><stop offset=".895" stop-color="#ff0"/><stop offset=".978" stop-color="#ff0"/><stop offset="1" stop-color="#ffef00"/></linearGradient>
<linearGradient id="b74"><stop offset="0" stop-color="#0ff"/><stop offset=".047" stop-color="#0ff"/><stop offset=".206" stop-color="#00ff82"/><stop offset=".364" stop-color="#0f0"/><stop offset=".52" stop-color="#0f0"/><stop offset=".718" stop-color="#7cff00"/><stop offset=".916" stop-color="#ff0"/><stop offset=".998" stop-color="#ff0"/><stop offset="1" stop-color="#fffe00"/></linearGradient>
<linearGradient id="b75"><stop offset="0" stop-color="#0ff"/><stop offset=".075" stop-color="#0ff"/><stop offset=".232" stop-color="#00ff82"/><stop offset=".389" stop-color="#0f0"/><stop offset=".544" stop-color="#0f0"/><stop offset=".74" stop-color="#7dff00"/><stop offset=".936" stop-color="#ff0"/><stop offset="1" stop-color="#ff0"/></linearGradient>
<linearGradient id="b76"><stop offset="0" stop-color="#00f1ff"/><stop offset=".024" stop-color="#0ff"/><stop offset=".103" stop-color="#0ff"/><stop offset=".259" stop-color="#00ff82"/><stop offset=".415" stop-color="#0f0"/><stop offset=".568" stop-color="#0f0"/><stop offset=".763" stop-color="#7dff00"/><stop offset=".958" stop-color="#ff0"/><stop offset="1" stop-color="#ff0"/></linearGradient>
<linearGradient id="b77"><stop offset="0" stop-color="#00dfff"/><stop offset=".053" stop-color="#0ff"/><stop offset=".131" stop-color="#0ff"/><stop offset=".286" stop-color="#00ff82"/><stop offset=".44" stop-color="#0f0"/><stop offset=".592" stop-color="#0f0"/><stop offset=".785" stop-color="#7dff00"/><stop offset=".979" stop-color="#ff0"/><stop offset="1" stop-color="#ff0"/></linearGradient>
<linearGradient id="b78"><stop offset="0" stop-color="#00ceff"/><stop offset=".082" stop-color="#0ff"/><stop offset=".159" stop-color="#0ff"/><stop offset=".312" stop-color="#00ff82"/><stop offset=".466" stop-color="#0f0"/><stop offset=".616" stop-color="#0f0"/><stop offset=".808" stop-color="#7cff00"/><stop offset="1" stop-color="#ff0"/></linearGradient>
<linearGradient id="d0"><stop offset="0" stop-color="#43ff00"/><stop offset=".165" stop-color="#7eff00"/><stop offset=".331" stop-color="#bcff00"/><stop offset=".496" stop-color="#ff0"/><stop offset=".629" stop-color="#ff0"/><stop offset=".814" stop-color="#ffa600"/><stop offset="1" stop-color="#ff4800"/></linearGradient>
<linearGradient id="d1"><stop offset="0" stop-color="#47ff00"/><stop offset=".162" stop-color="#80ff00"/><stop offset=".323" stop-color="#beff00"/><stop offset=".485" stop-color="#ff0"/><stop offset=".618" stop-color="#ff0"/><stop offset=".809" stop-color="#ffa400"/><stop offset="1" stop-color="#ff4200"/></linearGradient>
<linearGradient id="d2"><stop offset="0" stop-color="#4bff00"/><stop offset=".158" stop-color="#83ff00"/><stop offset=".316" stop-color="#bfff00"/><stop offset=".475" stop-color="#ff0"/><stop offset=".607" stop-color="#ff0"/><stop offset=".804" stop-color="#ffa100"/><stop offset="1" stop-color="#ff3d00"/></linearGradient>
<linearGradient id="d3"><stop offset="0" stop-color="#4eff00"/><stop offset=".155" stop-color="#85ff00"/><stop offset=".31" stop-color="#c0ff00"/><stop offset=".465" stop-color="#ff0"/><stop offset=".598" stop-color="#ff0"/><stop offset=".732" stop-color="#ffc000"/><stop offset=".866" stop-color="#ff7d00"/><stop offset="1" stop-color="#ff3800"/></linearGradient>
<linearGradient id="d4"><stop offset="0" stop-color="#51ff00"/><stop offset=".152" stop-color="#8f0"/><stop offset=".304" stop-color="#c2ff00"/><stop offset=".456" stop-color="#ff0"/><stop offset=".589" stop-color="#ff0"/><stop offset=".726" stop-color="#ffbe00"/><stop offset=".863" stop-color="#ff7a00"/><stop offset="1" stop-color="#ff3400"/></linearGradient>
<linearGradient id="d5"><stop offset="0" stop-color="#54ff00"/><stop offset=".149" stop-color="#8aff00"/><stop offset=".299" stop-color="#c3ff00"/><stop offset=".448" stop-color="#ff0"/><stop offset=".581" stop-color="#ff0"/><stop offset=".721" stop-color="#ffbd00"/><stop offset=".86" stop-color="#ff7800"/><stop offset="1" stop-color="#ff2f00"/></linearGradient>
<linearGradient id="d6"><stop offset="0" stop-color="#56ff00"/><stop offset=".147" stop-color="#8bff00"/><stop offset=".294" stop-color="#c4ff00"/><stop offset=".441" stop-color="#ff0"/><stop offset=".574" stop-color="#ff0"/><stop offset=".716" stop-color="#ffbc00"/><stop offset=".858" stop-color="#ff7500"/><stop offset="1" stop-color="#ff2b00"/></linearGradient>
<linearGradient id="d7"><stop offset="0" stop-color="#58ff00"/><stop offset=".145" stop-color="#8dff00"/><stop offset=".29" stop-color="#c4ff00"/><stop offset=".434" stop-color="#ff0"/><stop offset=".567" stop-color="#ff0"/><stop offset=".711" stop-color="#ffba00"/><stop offset=".856" stop-color="#ff7300"/><stop offset="1" stop-color="#ff2800"/></linearGradient>
<linearGradient id="d8"><stop offset="0" stop-color="#5aff00"/><stop offset=".143" stop-color="#8eff00"/><stop offset=".286" stop-color="#c5ff00"/><stop offset=".429" stop-color="#ff0"/><stop offset=".561" stop-color="#ff0"/><stop offset=".708" stop-color="#ffb900"/><stop offset=".854" stop-color="#ff7100"/><stop offset="1" stop-color="#ff2400"/></linearGradient>
<linearGradient id="d9"><stop offset="0" stop-color="#5cff00"/><stop offset=".141" stop-color="#8fff00"/><stop offset=".283" stop-color="#c6ff00"/><stop offset=".424" stop-color="#ff0"/><stop offset=".556" stop-color="#ff0"/><stop offset=".704" stop-color="#ffb900"/><stop offset=".852" stop-color="#ff6f00"/><stop offset="1" stop-color="#ff2100"/></linearGradient>
<linearGradient id="d10"><stop offset="0" stop-color="#5dff00"/><stop offset=".14" stop-color="#90ff00"/><stop offset=".28" stop-color="#c6ff00"/><stop offset=".42" stop-color="#ff0"/><stop offset=".552" stop-color="#ff0"/><stop offset=".701" stop-color="#ffb800"/><stop offset=".851" stop-color="#ff6d00"/><stop offset="1" stop-color="#ff1f00"/></linearGradient>
<linearGradient id="d11"><stop offset="0" stop-color="#5eff00"/><stop offset=".139" stop-color="#91ff00"/><stop offset=".278" stop-color="#c6ff00"/><stop offset=".416" stop-color="#ff0"/><stop offset=".548" stop-color="#ff0"/><stop offset=".699" stop-color="#ffb700"/><stop offset=".849" stop-color="#ff6c00"/><stop offset="1" stop-color="#ff1c00"/></linearGradient>
<linearGradient id="d12"><stop offset="0" stop-color="#5eff00"/><stop offset=".138" stop-color="#91ff00"/><stop offset=".276" stop-color="#c7ff00"/><stop offset=".414" stop-color="#ff0"/><stop offset=".545" stop-color="#ff0"/><stop offset=".697" stop-color="#ffb600"/><stop offset=".848" stop-color="#ff6a00"/><stop offset="1" stop-color="#ff1b00"/></linearGradient>
<linearGradient id="d13"><stop offset="0" stop-color="#5fff00"/><stop offset=".137" stop-color="#91ff00"/><stop offset=".275" stop-color="#c7ff00"/><stop offset=".412" stop-color="#ff0"/><stop offset=".543" stop-color="#ff0"/><stop offset=".695" stop-color="#ffb600"/><stop offset=".848" stop-color="#ff6900"/><stop offset="1" stop-color="#ff1900"/></linearGradient>
<linearGradient id="d14"><stop offset="0" stop-color="#5fff00"/><stop offset=".137" stop-color="#91ff00"/><stop offset=".274" stop-color="#c7ff00"/><stop offset=".411" stop-color="#ff0"/><stop offset=".542" stop-color="#ff0"/><stop offset=".694" stop-color="#ffb500"/><stop offset=".847" stop-color="#ff6800"/><stop offset="1" stop-color="#ff1800"/></linearGradient>
<linearGradient id="d15"><stop offset="0" stop-color="#5eff00"/><stop offset=".137" stop-color="#91ff00"/><stop offset=".274" stop-color="#c7ff00"/><stop offset=".41" stop-color="#ff0"/><stop offset=".541" stop-color="#ff0"/><stop offset=".694" stop-color="#ffb500"/><stop offset=".847" stop-color="#ff6800"/><stop offset="1" stop-color="#ff1700"/></linearGradient>
<linearGradient id="d16"><stop offset="0" stop-color="#5eff00"/><stop offset=".137" stop-color="#91ff00"/><stop offset=".274" stop-color="#c6ff00"/><stop offset=".411" stop-color="#ff0"/><stop offset=".541" stop-color="#ff0"/><stop offset=".694" stop-color="#ffb500"/><stop offset=".847" stop-color="#ff6700"/><stop offset="1" stop-color="#ff1600"/></linearGradient>
<linearGradient id="d17"><stop offset="0" stop-color="#5dff00"/><stop offset=".137" stop-color="#90ff00"/><stop offset=".274" stop-color="#c6ff00"/><stop offset=".412" stop-color="#ff0"/><stop offset=".542" stop-color="#ff0"/><stop offset=".694" stop-color="#ffb500"/><stop offset=".847" stop-color="#ff6700"/><stop offset="1" stop-color="#ff1600"/></linearGradient>
<linearGradient id="d18"><stop offset="0" stop-color="#5bff00"/><stop offset=".138" stop-color="#8fff00"/><stop offset=".276" stop-color="#c6ff00"/><stop offset=".414" stop-color="#ff0"/><stop offset=".543" stop-color="#ff0"/><stop offset=".695" stop-color="#ffb500"/><stop offset=".848" stop-color="#ff6700"/><stop offset="1" stop-color="#ff1600"/></linearGradient>
<linearGradient id="d19"><stop offset="0" stop-color="#5aff00"/><stop offset=".139" stop-color="#8eff00"/><stop offset=".277" stop-color="#c5ff00"/><stop offset=".416" stop-color="#ff0"/><stop offset=".545" stop-color="#ff0"/><stop offset=".697" stop-color="#ffb500"/><stop offset=".848" stop-color="#ff6700"/><stop offset="1" stop-color="#ff1600"/></linearGradient>
<linearGradient id="d20"><stop offset="0" stop-color="#58ff00"/><stop offset=".14" stop-color="#8dff00"/><stop offset=".28" stop-color="#c4ff00"/><stop offset=".419" stop-color="#ff0"/><stop offset=".548" stop-color="#ff0"/><stop offset=".699" stop-color="#ffb500"/><stop offset=".849" stop-color="#ff6800"/><stop offset="1" stop-color="#ff1700"/></linearGradient>
<linearGradient id="d21"><stop offset="0" stop-color="#56ff00"/><stop offset=".141" stop-color="#8bff00"/><stop offset=".282" stop-color="#c4ff00"/><stop offset=".423" stop-color="#ff0"/><stop offset=".551" stop-color="#ff0"/><stop offset=".701" stop-color="#ffb500"/><stop offset=".85" stop-color="#ff6800"/><stop offset="1" stop-color="#ff1800"/></linearGradient>
<linearGradient id="d22"><stop offset="0" stop-color="#53ff00"/><stop offset=".143" stop-color="#89ff00"/><stop offset=".285" stop-color="#c3ff00"/><stop offset=".428" stop-color="#ff0"/><stop offset=".555" stop-color="#ff0"/><stop offset=".704" stop-color="#ffb600"/><stop offset=".852" stop-color="#ff6900"/><stop offset="1" stop-color="#ff1900"/></linearGradient>
<linearGradient id="d23"><stop offset="0" stop-color="#50ff00"/><stop offset=".144" stop-color="#87ff00"/><stop offset=".289" stop-color="#c2ff00"/><stop offset=".433" stop-color="#ff0"/><stop offset=".56" stop-color="#ff0"/><stop offset=".707" stop-color="#ffb600"/><stop offset=".853" stop-color="#ff6a00"/><stop offset="1" stop-color="#ff1b00"/></linearGradient>
<linearGradient id="d24"><stop offset="0" stop-color="#4dff00"/><stop offset=".146" stop-color="#85ff00"/><stop offset=".293" stop-color="#c1ff00"/><stop offset=".439" stop-color="#ff0"/><stop offset=".565" stop-color="#ff0"/><stop offset=".71" stop-color="#ffb700"/><stop offset=".855" stop-color="#ff6c00"/><stop offset="1" stop-color="#ff1d00"/></linearGradient>
<linearGradient id="d25"><stop offset="0" stop-color="#49ff00"/><stop offset=".149" stop-color="#83ff00"/><stop offset=".297" stop-color="#bfff00"/><stop offset=".446" stop-color="#ff0"/><stop offset=".572" stop-color="#ff0"/><stop offset=".714" stop-color="#ffb800"/><stop offset=".857" stop-color="#ff6d00"/><stop offset="1" stop-color="#ff1f00"/></linearGradient>
<linearGradient id="d26"><stop offset="0" stop-color="#46ff00"/><stop offset=".151" stop-color="#80ff00"/><stop offset=".302" stop-color="#beff00"/><stop offset=".453" stop-color="#ff0"/><stop offset=".578" stop-color="#ff0"/><stop offset=".719" stop-color="#ffb800"/><stop offset=".859" stop-color="#ff6f00"/><stop offset="1" stop-color="#f20"/></linearGradient>
<linearGradient id="d27"><stop offset="0" stop-color="#42ff00"/><stop offset=".154" stop-color="#7dff00"/><stop offset=".307" stop-color="#bcff00"/><stop offset=".461" stop-color="#ff0"/><stop offset=".586" stop-color="#ff0"/><stop offset=".724" stop-color="#ffb900"/><stop offset=".862" stop-color="#ff7100"/><stop offset="1" stop-color="#ff2500"/></linearGradient>
<linearGradient id="d28"><stop offset="0" stop-color="#3dff00"/><stop offset=".157" stop-color="#7aff00"/><stop offset=".313" stop-color="#bf0"/><stop offset=".47" stop-color="#ff0"/><stop offset=".593" stop-color="#ff0"/><stop offset=".729" stop-color="#ffba00"/><stop offset=".864" stop-color="#ff7300"/><stop offset="1" stop-color="#ff2800"/></linearGradient>
<linearGradient id="d29"><stop offset="0" stop-color="#38ff00"/><stop offset=".16" stop-color="#7f0"/><stop offset=".319" stop-color="#b9ff00"/><stop offset=".479" stop-color="#ff0"/><stop offset=".602" stop-color="#ff0"/><stop offset=".801" stop-color="#f90"/><stop offset="1" stop-color="#ff2c00"/></linearGradient>
<linearGradient id="d30"><stop offset="0" stop-color="#3f0"/><stop offset=".163" stop-color="#73ff00"/><stop offset=".326" stop-color="#b7ff00"/><stop offset=".489" stop-color="#ff0"/><stop offset=".611" stop-color="#ff0"/><stop offset=".806" stop-color="#ff9b00"/><stop offset="1" stop-color="#ff3000"/></linearGradient>
<linearGradient id="d31"><stop offset="0" stop-color="#2eff00"/><stop offset=".166" stop-color="#70ff00"/><stop offset=".333" stop-color="#b5ff00"/><stop offset=".499" stop-color="#ff0"/><stop offset=".621" stop-color="#ff0"/><stop offset=".81" stop-color="#ff9d00"/><stop offset="1" stop-color="#ff3500"/></linearGradient>
<linearGradient id="d32"><stop offset="0" stop-color="#28ff00"/><stop offset=".17" stop-color="#6cff00"/><stop offset=".34" stop-color="#b3ff00"/><stop offset=".51" stop-color="#ff0"/><stop offset=".631" stop-color="#ff0"/><stop offset=".816" stop-color="#ff9f00"/><stop offset="1" stop-color="#ff3900"/></linearGradient>
<linearGradient id="d33"><stop offset="0" stop-color="#2f0"/><stop offset=".174" stop-color="#68ff00"/><stop offset=".348" stop-color="#b1ff00"/><stop offset=".522" stop-color="#ff0"/><stop offset=".642" stop-color="#ff0"/><stop offset=".821" stop-color="#ffa100"/><stop offset="1" stop-color="#ff3e00"/></linearGradient>
<linearGradient id="d34"><stop offset="0" stop-color="#1cff00"/><stop offset=".178" stop-color="#63ff00"/><stop offset=".356" stop-color="#afff00"/><stop offset=".534" stop-color="#ff0"/><stop offset=".653" stop-color="#ff0"/><stop offset=".827" stop-color="#ffa400"/><stop offset="1" stop-color="#f40"/></linearGradient>
<linearGradient id="d35"><stop offset="0" stop-color="#16ff00"/><stop offset=".182" stop-color="#5fff00"/><stop offset=".364" stop-color="#acff00"/><stop offset=".547" stop-color="#ff0"/><stop offset=".665" stop-color="#ff0"/><stop offset=".833" stop-color="#ffa600"/><stop offset="1" stop-color="#ff4900"/></linearGradient>
<linearGradient id="d36"><stop offset="0" stop-color="#0fff00"/><stop offset=".187" stop-color="#5aff00"/><stop offset=".373" stop-color="#af0"/><stop offset=".56" stop-color="#ff0"/><stop offset=".678" stop-color="#ff0"/><stop offset=".839" stop-color="#ffa900"/><stop offset="1" stop-color="#ff4f00"/></linearGradient>
<linearGradient id="d37"><stop offset="0" stop-color="#07ff00"/><stop offset=".191" stop-color="#5f0"/><stop offset=".382" stop-color="#a7ff00"/><stop offset=".574" stop-color="#ff0"/><stop offset=".691" stop-color="#ff0"/><stop offset=".845" stop-color="#ffac00"/><stop offset="1" stop-color="#ff5600"/></linearGradient>
<linearGradient id="d38"><stop offset="0" stop-color="#0f0"/><stop offset=".196" stop-color="#4fff00"/><stop offset=".392" stop-color="#a4ff00"/><stop offset=".588" stop-color="#ff0"/><stop offset=".704" stop-color="#ff0"/><stop offset=".852" stop-color="#ffaf00"/><stop offset="1" stop-color="#ff5c00"/></linearGradient>
<linearGradient id="d39"><stop offset="0" stop-color="#0f0"/><stop offset=".02" stop-color="#0f0"/><stop offset=".214" stop-color="#50ff00"/><stop offset=".409" stop-color="#a5ff00"/><stop offset=".603" stop-color="#ff0"/><stop offset=".718" stop-color="#ff0"/><stop offset=".859" stop-color="#ffb300"/><stop offset="1" stop-color="#ff6300"/></linearGradient>
<linearGradient id="d40"><stop offset="0" stop-color="#0f0"/><stop offset=".041" stop-color="#0f0"/><stop offset=".233" stop-color="#50ff00"/><stop offset=".426" stop-color="#a5ff00"/><stop offset=".618" stop-color="#ff0"/><stop offset=".733" stop-color="#ff0"/><stop offset=".866" stop-color="#ffb600"/><stop offset="1" stop-color="#ff6b00"/></linearGradient>
<linearGradient id="d41"><stop offset="0" stop-color="#0f0"/><stop offset=".062" stop-color="#0f0"/><stop offset=".252" stop-color="#50ff00"/><stop offset=".443" stop-color="#a5ff00"/><stop offset=".634" stop-color="#ff0"/><stop offset=".748" stop-color="#ff0"/><stop offset=".874" stop-color="#ffba00"/><stop offset="1" stop-color="#ff7200"/></linearGradient>
<linearGradient id="d42"><stop offset="0" stop-color="#0f0"/><stop offset=".083" stop-color="#0f0"/><stop offset=".272" stop-color="#50ff00"/><stop offset=".461" stop-color="#a5ff00"/><stop offset=".65" stop-color="#ff0"/><stop offset=".763" stop-color="#ff0"/><stop offset=".882" stop-color="#ffbe00"/><stop offset="1" stop-color="#ff7a00"/></linearGradient>
<linearGradient id="d43"><stop offset="0" stop-color="#0f0"/><stop offset=".105" stop-color="#0f0"/><stop offset=".292" stop-color="#50ff00"/><stop offset=".48" stop-color="#a5ff00"/><stop offset=".667" stop-color="#ff0"/><stop offset=".779" stop-color="#ff0"/><stop offset=".89" stop-color="#ffc200"/><stop offset="1" stop-color="#ff8300"/></linearGradient>
<linearGradient id="d44"><stop offset="0" stop-color="#0f0"/><stop offset=".127" stop-color="#0f0"/><stop offset=".313" stop-color="#50ff00"/><stop offset=".499" stop-color="#a5ff00"/><stop offset=".684" stop-color="#ff0"/><stop offset=".796" stop-color="#ff0"/><stop offset=".898" stop-color="#ffc600"/><stop offset="1" stop-color="#ff8c00"/></linearGradient>
<linearGradient id="d45"><stop offset="0" stop-color="#0f0"/><stop offset=".15" stop-color="#0f0"/><stop offset=".334" stop-color="#50ff00"/><stop offset=".518" stop-color="#a5ff00"/><stop offset=".702" stop-color="#ff0"/><stop offset=".812" stop-color="#ff0"/><stop offset="1" stop-color="#ff9500"/></linearGradient>
<linearGradient id="d46"><stop offset="0" stop-color="#0f0"/><stop offset=".173" stop-color="#0f0"/><stop offset=".355" stop-color="#50ff00"/><stop offset=".538" stop-color="#a5ff00"/><stop offset=".72" stop-color="#ff0"/><stop offset=".83" stop-color="#ff0"/><stop offset="1" stop-color="#ff9e00"/></linearGradient>
<linearGradient id="d47"><stop offset="0" stop-color="#0f0"/><stop offset=".197" stop-color="#0f0"/><stop offset=".377" stop-color="#50ff00"/><stop offset=".558" stop-color="#a5ff00"/><stop offset=".739" stop-color="#ff0"/><stop offset=".848" stop-color="#ff0"/><stop offset="1" stop-color="#ffa800"/></linearGradient>
<linearGradient id="d48"><stop offset="0" stop-color="#0f0"/><stop offset=".11" stop-color="#0f0"/><stop offset=".221" stop-color="#0f0"/><stop offset=".4" stop-color="#50ff00"/><stop offset=".579" stop-color="#a5ff00"/><stop offset=".758" stop-color="#ff0"/><stop offset=".866" stop-color="#ff0"/><stop offset="1" stop-color="#ffb200"/></linearGradient>
<linearGradient id="d49"><stop offset="0" stop-color="#00ff0e"/><stop offset=".024" stop-color="#0f0"/><stop offset=".134" stop-color="#0f0"/><stop offset=".245" stop-color="#0f0"/><stop offset=".422" stop-color="#50ff00"/><stop offset=".6" stop-color="#a5ff00"/><stop offset=".777" stop-color="#ff0"/><stop offset=".884" stop-color="#ff0"/><stop offset="1" stop-color="#ffbc00"/></linearGradient>
<linearGradient id="d50"><stop offset="0" stop-color="#00ff1e"/><stop offset=".051" stop-color="#0f0"/><stop offset=".16" stop-color="#0f0"/><stop offset=".27" stop-color="#0f0"/><stop offset=".445" stop-color="#51ff00"/><stop offset=".621" stop-color="#a6ff00"/><stop offset=".797" stop-color="#ff0"/><stop offset=".903" stop-color="#ff0"/><stop offset="1" stop-color="#ffc700"/></linearGradient>
<linearGradient id="d51"><stop offset="0" stop-color="#00ff2e"/><stop offset=".078" stop-color="#0f0"/><stop offset=".187" stop-color="#0f0"/><stop offset=".295" stop-color="#0f0"/><stop offset=".469" stop-color="#51ff00"/><stop offset=".643" stop-color="#a6ff00"/><stop offset=".817" stop-color="#ff0"/><stop offset=".922" stop-color="#ff0"/><stop offset="1" stop-color="#ffd200"/></linearGradient>
<linearGradient id="d52"><stop offset="0" stop-color="#00ff3f"/><stop offset=".106" stop-color="#0f0"/><stop offset=".213" stop-color="#0f0"/><stop offset=".32" stop-color="#0f0"/><stop offset=".493" stop-color="#51ff00"/><stop offset=".665" stop-color="#a6ff00"/><stop offset=".837" stop-color="#ff0"/><stop offset=".942" stop-color="#ff0"/><stop offset="1" stop-color="#fd0"/></linearGradient>
<linearGradient id="d53"><stop offset="0" stop-color="#00ff50"/><stop offset=".135" stop-color="#0f0"/><stop offset=".24" stop-color="#0f0"/><stop offset=".346" stop-color="#0f0"/><stop offset=".517" stop-color="#51ff00"/><stop offset=".688" stop-color="#a6ff00"/><stop offset=".858" stop-color="#ff0"/><stop offset=".962" stop-color="#ff0"/><stop offset="1" stop-color="#ffe900"/></linearGradient>
<linearGradient id="d54"><stop offset="0" stop-color="#00ff62"/><stop offset=".163" stop-color="#0f0"/><stop offset=".268" stop-color="#0f0"/><stop offset=".372" stop-color="#0f0"/><stop offset=".541" stop-color="#51ff00"/><stop offset=".71" stop-color="#a6ff00"/><stop offset=".88" stop-color="#ff0"/><stop offset=".983" stop-color="#ff0"/><stop offset="1" stop-color="#fff500"/></linearGradient>
<linearGradient id="d55"><stop offset="0" stop-color="#00ff74"/><stop offset=".192" stop-color="#0f0"/><stop offset=".295" stop-color="#0f0"/><stop offset=".398" stop-color="#0f0"/><stop offset=".566" stop-color="#51ff00"/><stop offset=".734" stop-color="#a6ff00"/><stop offset=".901" stop-color="#ff0"/><stop offset="1" stop-color="#ff0"/></linearGradient>
<linearGradient id="d56"><stop offset="0" stop-color="#00ff87"/><stop offset=".111" stop-color="#00ff45"/><stop offset=".221" stop-color="#0f0"/><stop offset=".323" stop-color="#0f0"/><stop offset=".425" stop-color="#0f0"/><stop offset=".591" stop-color="#51ff00"/><stop offset=".757" stop-color="#a6ff00"/><stop offset=".923" stop-color="#ff0"/><stop offset="1" stop-color="#ff0"/></linearGradient>
<linearGradient id="d57"><stop offset="0" stop-color="#00ff9a"/><stop offset=".125" stop-color="#00ff4f"/><stop offset=".25" stop-color="#0f0"/><stop offset=".351" stop-color="#0f0"/><stop offset=".452" stop-color="#0f0"/><stop offset=".617" stop-color="#51ff00"/><stop offset=".781" stop-color="#a6ff00"/><stop offset=".946" stop-color="#ff0"/><stop offset="1" stop-color="#ff0"/></linearGradient>
<linearGradient id="d58"><stop offset="0" stop-color="#00ffad"/><stop offset=".14" stop-color="#00ff59"/><stop offset=".28" stop-color="#0f0"/><stop offset=".479" stop-color="#0f0"/><stop offset=".642" stop-color="#51ff00"/><stop offset=".805" stop-color="#a6ff00"/><stop offset=".968" stop-color="#ff0"/><stop offset="1" stop-color="#ff0"/></linearGradient>
<linearGradient id="d59"><stop offset="0" stop-color="#00ffc1"/><stop offset=".155" stop-color="#00ff63"/><stop offset=".31" stop-color="#0f0"/><stop offset=".507" stop-color="#0f0"/><stop offset=".668" stop-color="#51ff00"/><stop offset=".83" stop-color="#a6ff00"/><stop offset=".991" stop-color="#ff0"/><stop offset="1" stop-color="#ff0"/></linearGradient>
<linearGradient id="d60"><stop offset="0" stop-color="#00ffd6"/><stop offset=".17" stop-color="#00ff6e"/><stop offset=".34" stop-color="#0f0"/><stop offset=".535" stop-color="#0f0"/><stop offset=".69" stop-color="#4fff00"/><stop offset=".845" stop-color="#a1ff00"/><stop offset="1" stop-color="#f7ff00"/></linearGradient>
<linearGradient id="d61"><stop offset="0" stop-color="#00ffeb"/><stop offset=".185" stop-color="#00ff79"/><stop offset=".37" stop-color="#0f0"/><stop offset=".563" stop-color="#0f0"/><stop offset=".708" stop-color="#4bff00"/><stop offset=".854" stop-color="#9f0"/><stop offset="1" stop-color="#e9ff00"/></linearGradient>
<linearGradient id="d62"><stop offset="0" stop-color="#0ff"/><stop offset=".201" stop-color="#00ff84"/><stop offset=".401" stop-color="#0f0"/><stop offset=".591" stop-color="#0f0"/><stop offset=".727" stop-color="#47ff00"/><stop offset=".864" stop-color="#90ff00"/><stop offset="1" stop-color="#dcff00"/></linearGradient>
<linearGradient id="d63"><stop offset="0" stop-color="#0ff"/><stop offset=".037" stop-color="#0ff"/><stop offset=".234" stop-color="#00ff84"/><stop offset=".431" stop-color="#0f0"/><stop offset=".62" stop-color="#0f0"/><stop offset=".81" stop-color="#64ff00"/><stop offset="1" stop-color="#ceff00"/></linearGradient>
<linearGradient id="d64"><stop offset="0" stop-color="#0ff"/><stop offset=".074" stop-color="#0ff"/><stop offset=".268" stop-color="#00ff83"/><stop offset=".462" stop-color="#0f0"/><stop offset=".648" stop-color="#0f0"/><stop offset=".824" stop-color="#5dff00"/><stop offset="1" stop-color="#bfff00"/></linearGradient>
<linearGradient id="d65"><stop offset="0" stop-color="#00faff"/><stop offset=".11" stop-color="#0ff"/><stop offset=".302" stop-color="#00ff83"/><stop offset=".493" stop-color="#0f0"/><stop offset=".677" stop-color="#0f0"/><stop offset=".839" stop-color="#56ff00"/><stop offset="1" stop-color="#b1ff00"/></linearGradient>
<linearGradient id="d66"><stop offset="0" stop-color="#00e8ff"/><stop offset=".048" stop-color="#0ff"/><stop offset=".146" stop-color="#0ff"/><stop offset=".335" stop-color="#00ff83"/><stop offset=".525" stop-color="#0f0"/><stop offset=".707" stop-color="#0f0"/><stop offset=".853" stop-color="#4fff00"/><stop offset="1" stop-color="#a2ff00"/></linearGradient>
<linearGradient id="d67"><stop offset="0" stop-color="#00d6ff"/><stop offset=".086" stop-color="#0ff"/><stop offset=".182" stop-color="#0ff"/><stop offset=".369" stop-color="#00ff83"/><stop offset=".556" stop-color="#0f0"/><stop offset=".736" stop-color="#0f0"/><stop offset=".868" stop-color="#48ff00"/><stop offset="1" stop-color="#92ff00"/></linearGradient>
<linearGradient id="d68"><stop offset="0" stop-color="#00c4ff"/><stop offset=".124" stop-color="#0ff"/><stop offset=".219" stop-color="#0ff"/><stop offset=".403" stop-color="#00ff83"/><stop offset=".588" stop-color="#0f0"/><stop offset=".766" stop-color="#0f0"/><stop offset=".883" stop-color="#40ff00"/><stop offset="1" stop-color="#83ff00"/></linearGradient>
<linearGradient id="d69"><stop offset="0" stop-color="#00b1ff"/><stop offset=".162" stop-color="#0ff"/><stop offset=".255" stop-color="#0ff"/><stop offset=".437" stop-color="#00ff83"/><stop offset=".619" stop-color="#0f0"/><stop offset=".796" stop-color="#0f0"/><stop offset=".898" stop-color="#39ff00"/><stop offset="1" stop-color="#73ff00"/></linearGradient>
<linearGradient id="d70"><stop offset="0" stop-color="#009eff"/><stop offset=".2" stop-color="#0ff"/><stop offset=".292" stop-color="#0ff"/><stop offset=".471" stop-color="#00ff83"/><stop offset=".651" stop-color="#0f0"/><stop offset=".826" stop-color="#0f0"/><stop offset="1" stop-color="#62ff00"/></linearGradient>
<linearGradient id="d71"><stop offset="0" stop-color="#008aff"/><stop offset=".119" stop-color="#00c4ff"/><stop offset=".237" stop-color="#0ff"/><stop offset=".328" stop-color="#0ff"/><stop offset=".506" stop-color="#00ff83"/><stop offset=".683" stop-color="#0f0"/><stop offset=".856" stop-color="#0f0"/><stop offset="1" stop-color="#52ff00"/></linearGradient>
<linearGradient id="d72"><stop offset="0" stop-color="#07f"/><stop offset=".138" stop-color="#00b9ff"/><stop offset=".275" stop-color="#0ff"/><stop offset=".365" stop-color="#0ff"/><stop offset=".54" stop-color="#00ff83"/><stop offset=".716" stop-color="#0f0"/><stop offset=".886" stop-color="#0f0"/><stop offset="1" stop-color="#41ff00"/></linearGradient>
<linearGradient id="d73"><stop offset="0" stop-color="#0062ff"/><stop offset=".157" stop-color="#00afff"/><stop offset=".313" stop-color="#0ff"/><stop offset=".401" stop-color="#0ff"/><stop offset=".575" stop-color="#00ff83"/><stop offset=".748" stop-color="#0f0"/><stop offset=".917" stop-color="#0f0"/><stop offset="1" stop-color="#30ff00"/></linearGradient>
<linearGradient id="d74"><stop offset="0" stop-color="#004eff"/><stop offset=".176" stop-color="#00a4ff"/><stop offset=".351" stop-color="#0ff"/><stop offset=".438" stop-color="#0ff"/><stop offset=".609" stop-color="#00ff83"/><stop offset=".781" stop-color="#0f0"/><stop offset=".948" stop-color="#0f0"/><stop offset="1" stop-color="#1eff00"/></linearGradient>
<linearGradient id="f0"><stop offset="0" stop-color="#ff8e00"/><stop offset=".18" stop-color="#ff7400"/><stop offset=".361" stop-color="#ff5900"/><stop offset=".541" stop-color="#ff3d00"/><stop offset=".722" stop-color="#ff1f00"/><stop offset=".902" stop-color="#f00"/><stop offset="1" stop-color="#f00"/></linearGradient>
<linearGradient id="f1"><stop offset="0" stop-color="#ff8b00"/><stop offset=".173" stop-color="#ff7100"/><stop offset=".345" stop-color="#ff5700"/><stop offset=".518" stop-color="#ff3b00"/><stop offset=".69" stop-color="#ff1e00"/><stop offset=".863" stop-color="#f00"/><stop offset="1" stop-color="#f00"/></linearGradient>
<linearGradient id="f2"><stop offset="0" stop-color="#f80"/><stop offset=".165" stop-color="#ff6f00"/><stop offset=".331" stop-color="#f50"/><stop offset=".496" stop-color="#ff3900"/><stop offset=".661" stop-color="#ff1d00"/><stop offset=".827" stop-color="#f00"/><stop offset="1" stop-color="#f00"/></linearGradient>
<linearGradient id="f3"><stop offset="0" stop-color="#ff8600"/><stop offset=".198" stop-color="#f60"/><stop offset=".397" stop-color="#ff4600"/><stop offset=".595" stop-color="#ff2400"/><stop offset=".794" stop-color="#f00"/><stop offset=".897" stop-color="#f00"/><stop offset="1" stop-color="#f00"/></linearGradient>
<linearGradient id="f4"><stop offset="0" stop-color="#ff8300"/><stop offset=".191" stop-color="#ff6400"/><stop offset=".382" stop-color="#f40"/><stop offset=".573" stop-color="#ff2300"/><stop offset=".764" stop-color="#f00"/><stop offset=".882" stop-color="#f00"/><stop offset="1" stop-color="#f00"/></linearGradient>
<linearGradient id="f5"><stop offset="0" stop-color="#ff8100"/><stop offset=".184" stop-color="#ff6300"/><stop offset=".368" stop-color="#ff4300"/><stop offset=".553" stop-color="#f20"/><stop offset=".737" stop-color="#f00"/><stop offset=".868" stop-color="#f00"/><stop offset="1" stop-color="#f00"/></linearGradient>
<linearGradient id="f6"><stop offset="0" stop-color="#ff8000"/><stop offset=".178" stop-color="#ff6100"/><stop offset=".356" stop-color="#ff4200"/><stop offset=".534" stop-color="#f20"/><stop offset=".712" stop-color="#f00"/><stop offset=".856" stop-color="#f00"/><stop offset="1" stop-color="#f00"/></linearGradient>
<linearGradient id="f7"><stop offset="0" stop-color="#ff7e00"/><stop offset=".173" stop-color="#ff6000"/><stop offset=".345" stop-color="#ff4100"/><stop offset=".518" stop-color="#ff2100"/><stop offset=".691" stop-color="#f00"/><stop offset=".845" stop-color="#f00"/><stop offset="1" stop-color="#f00"/></linearGradient>
<linearGradient id="f8"><stop offset="0" stop-color="#ff7d00"/><stop offset=".168" stop-color="#ff5f00"/><stop offset=".336" stop-color="#ff4100"/><stop offset=".504" stop-color="#ff2100"/><stop offset=".671" stop-color="#f00"/><stop offset=".836" stop-color="#f00"/><stop offset="1" stop-color="#f00"/></linearGradient>
<linearGradient id="f9"><stop offset="0" stop-color="#ff7d00"/><stop offset=".164" stop-color="#ff5f00"/><stop offset=".327" stop-color="#ff4000"/><stop offset=".491" stop-color="#ff2100"/><stop offset=".655" stop-color="#f00"/><stop offset=".827" stop-color="#f00"/><stop offset="1" stop-color="#f00"/></linearGradient>
<linearGradient id="f10"><stop offset="0" stop-color="#ff7c00"/><stop offset=".16" stop-color="#ff5f00"/><stop offset=".32" stop-color="#ff4000"/><stop offset=".48" stop-color="#ff2000"/><stop offset=".64" stop-color="#f00"/><stop offset=".82" stop-color="#f00"/><stop offset="1" stop-color="#f00"/></linearGradient>
<linearGradient id="f11"><stop offset="0" stop-color="#ff7c00"/><stop offset=".157" stop-color="#ff5f00"/><stop offset=".314" stop-color="#ff4000"/><stop offset=".47" stop-color="#ff2000"/><stop offset=".627" stop-color="#f00"/><stop offset=".814" stop-color="#f00"/><stop offset="1" stop-color="#f00"/></linearGradient>
<linearGradient id="f12"><stop offset="0" stop-color="#ff7d00"/><stop offset=".154" stop-color="#ff5f00"/><stop offset=".308" stop-color="#ff4000"/><stop offset=".463" stop-color="#ff2000"/><stop offset=".617" stop-color="#f00"/><stop offset=".808" stop-color="#f00"/><stop offset="1" stop-color="#f00"/></linearGradient>
<linearGradient id="f13"><stop offset="0" stop-color="#ff7d00"/><stop offset=".152" stop-color="#ff5f00"/><stop offset=".304" stop-color="#ff4000"/><stop offset=".456" stop-color="#ff2100"/><stop offset=".608" stop-color="#f00"/><stop offset=".804" stop-color="#f00"/><stop offset="1" stop-color="#f00"/></linearGradient>
<linearGradient id="f14"><stop offset="0" stop-color="#ff7e00"/><stop offset=".15" stop-color="#ff6000"/><stop offset=".301" stop-color="#ff4100"/><stop offset=".451" stop-color="#ff2100"/><stop offset=".601" stop-color="#f00"/><stop offset=".801" stop-color="#f00"/><stop offset="1" stop-color="#f00"/></linearGradient>
<linearGradient id="f15"><stop offset="0" stop-color="#ff8000"/><stop offset=".199" stop-color="#ff5600"/><stop offset=".397" stop-color="#ff2c00"/><stop offset=".596" stop-color="#f00"/><stop offset=".731" stop-color="#f00"/><stop offset=".865" stop-color="#f00"/><stop offset="1" stop-color="#f00"/></linearGradient>
<linearGradient id="f16"><stop offset="0" stop-color="#ff8100"/><stop offset=".198" stop-color="#ff5800"/><stop offset=".395" stop-color="#ff2c00"/><stop offset=".593" stop-color="#f00"/><stop offset=".728" stop-color="#f00"/><stop offset=".864" stop-color="#f00"/><stop offset="1" stop-color="#f00"/></linearGradient>
<linearGradient id="f17"><stop offset="0" stop-color="#ff8300"/><stop offset=".197" stop-color="#ff5900"/><stop offset=".394" stop-color="#ff2d00"/><stop offset=".591" stop-color="#f00"/><stop offset=".727" stop-color="#f00"/><stop offset=".864" stop-color="#f00"/><stop offset="1" stop-color="#f00"/></linearGradient>
<linearGradient id="f18"><stop offset="0" stop-color="#ff8500"/><stop offset=".197" stop-color="#ff5a00"/><stop offset=".393" stop-color="#ff2e00"/><stop offset=".59" stop-color="#f00"/><stop offset=".727" stop-color="#f00"/><stop offset=".863" stop-color="#f00"/><stop offset="1" stop-color="#f00"/></linearGradient>
<linearGradient id="f19"><stop offset="0" stop-color="#f80"/><stop offset=".197" stop-color="#ff5c00"/><stop offset=".394" stop-color="#ff2f00"/><stop offset=".591" stop-color="#f00"/><stop offset=".727" stop-color="#f00"/><stop offset=".864" stop-color="#f00"/><stop offset="1" stop-color="#f00"/></linearGradient>
<linearGradient id="f20"><stop offset="0" stop-color="#ff8b00"/><stop offset=".198" stop-color="#ff5e00"/><stop offset=".395" stop-color="#ff3000"/><stop offset=".593" stop-color="#f00"/><stop offset=".729" stop-color="#f00"/><stop offset=".864" stop-color="#f00"/><stop offset="1" stop-color="#f00"/></linearGradient>
<linearGradient id="f21"><stop offset="0" stop-color="#ff8e00"/><stop offset=".199" stop-color="#ff6000"/><stop offset=".398" stop-color="#ff3100"/><stop offset=".597" stop-color="#f00"/><stop offset=".731" stop-color="#f00"/><stop offset=".866" stop-color="#f00"/><stop offset="1" stop-color="#f00"/></linearGradient>
<linearGradient id="f22"><stop offset="0" stop-color="#ff9200"/><stop offset=".15" stop-color="#ff6f00"/><stop offset=".301" stop-color="#ff4b00"/><stop offset=".451" stop-color="#ff2600"/><stop offset=".601" stop-color="#f00"/><stop offset=".801" stop-color="#f00"/><stop offset="1" stop-color="#f00"/></linearGradient>
<linearGradient id="f23"><stop offset="0" stop-color="#ff9600"/><stop offset=".152" stop-color="#ff7200"/><stop offset=".303" stop-color="#ff4d00"/><stop offset=".455" stop-color="#ff2700"/><stop offset=".607" stop-color="#f00"/><stop offset=".803" stop-color="#f00"/><stop offset="1" stop-color="#f00"/></linearGradient>
<linearGradient id="f24"><stop offset="0" stop-color="#ff9a00"/><stop offset=".153" stop-color="#ff7500"/><stop offset=".307" stop-color="#ff4f00"/><stop offset=".46" stop-color="#ff2800"/><stop offset=".614" stop-color="#f00"/><stop offset=".807" stop-color="#f00"/><stop offset="1" stop-color="#f00"/></linearGradient>
<linearGradient id="f25"><stop offset="0" stop-color="#ff9f00"/><stop offset=".155" stop-color="#ff7800"/><stop offset=".311" stop-color="#ff5100"/><stop offset=".466" stop-color="#ff2900"/><stop offset=".622" stop-color="#f00"/><stop offset=".811" stop-color="#f00"/><stop offset="1" stop-color="#f00"/></linearGradient>
<linearGradient id="f26"><stop offset="0" stop-color="#ffa400"/><stop offset=".158" stop-color="#ff7c00"/><stop offset=".315" stop-color="#ff5400"/><stop offset=".473" stop-color="#ff2a00"/><stop offset=".63" stop-color="#f00"/><stop offset=".815" stop-color="#f00"/><stop offset="1" stop-color="#f00"/></linearGradient>
<linearGradient id="f27"><stop offset="0" stop-color="#ffa900"/><stop offset=".16" stop-color="#ff8000"/><stop offset=".32" stop-color="#ff5600"/><stop offset=".48" stop-color="#ff2c00"/><stop offset=".64" stop-color="#f00"/><stop offset=".82" stop-color="#f00"/><stop offset="1" stop-color="#f00"/></linearGradient>
<linearGradient id="f28"><stop offset="0" stop-color="#ffaf00"/><stop offset=".163" stop-color="#ff8400"/><stop offset=".325" stop-color="#ff5900"/><stop offset=".488" stop-color="#ff2d00"/><stop offset=".651" stop-color="#f00"/><stop offset=".825" stop-color="#f00"/><stop offset="1" stop-color="#f00"/></linearGradient>
<linearGradient id="f29"><stop offset="0" stop-color="#ffb500"/><stop offset=".166" stop-color="#ff8900"/><stop offset=".331" stop-color="#ff5c00"/><stop offset=".497" stop-color="#ff2f00"/><stop offset=".662" stop-color="#f00"/><stop offset=".831" stop-color="#f00"/><stop offset="1" stop-color="#f00"/></linearGradient>
<linearGradient id="f30"><stop offset="0" stop-color="#fb0"/><stop offset=".169" stop-color="#ff8e00"/><stop offset=".337" stop-color="#ff5f00"/><stop offset=".506" stop-color="#ff3000"/><stop offset=".674" stop-color="#f00"/><stop offset=".837" stop-color="#f00"/><stop offset="1" stop-color="#f00"/></linearGradient>
<linearGradient id="f31"><stop offset="0" stop-color="#ffc100"/><stop offset=".172" stop-color="#ff9300"/><stop offset=".344" stop-color="#ff6300"/><stop offset=".516" stop-color="#ff3200"/><stop offset=".687" stop-color="#f00"/><stop offset=".844" stop-color="#f00"/><stop offset="1" stop-color="#f00"/></linearGradient>
<linearGradient id="f32"><stop offset="0" stop-color="#ffc800"/><stop offset=".175" stop-color="#ff9800"/><stop offset=".351" stop-color="#f60"/><stop offset=".526" stop-color="#ff3400"/><stop offset=".701" stop-color="#f00"/><stop offset=".851" stop-color="#f00"/><stop offset="1" stop-color="#f00"/></linearGradient>
<linearGradient id="f33"><stop offset="0" stop-color="#ffd000"/><stop offset=".179" stop-color="#ff9d00"/><stop offset=".358" stop-color="#ff6a00"/><stop offset=".537" stop-color="#ff3600"/><stop offset=".716" stop-color="#f00"/><stop offset=".858" stop-color="#f00"/><stop offset="1" stop-color="#f00"/></linearGradient>
<linearGradient id="f34"><stop offset="0" stop-color="#ffd700"/><stop offset=".183" stop-color="#ffa300"/><stop offset=".365" stop-color="#ff6e00"/><stop offset=".548" stop-color="#ff3800"/><stop offset=".731" stop-color="#f00"/><stop offset=".865" stop-color="#f00"/><stop offset="1" stop-color="#f00"/></linearGradient>
<linearGradient id="f35"><stop offset="0" stop-color="#ffdf00"/><stop offset=".187" stop-color="#ffa900"/><stop offset=".373" stop-color="#ff7200"/><stop offset=".56" stop-color="#ff3a00"/><stop offset=".746" stop-color="#f00"/><stop offset=".873" stop-color="#f00"/><stop offset="1" stop-color="#f00"/></linearGradient>
<linearGradient id="f36"><stop offset="0" stop-color="#ffe700"/><stop offset=".191" stop-color="#ffb000"/><stop offset=".381" stop-color="#ff7600"/><stop offset=".572" stop-color="#ff3c00"/><stop offset=".763" stop-color="#f00"/><stop offset=".881" stop-color="#f00"/><stop offset="1" stop-color="#f00"/></linearGradient>
<linearGradient id="f37"><stop offset="0" stop-color="#fff000"/><stop offset=".195" stop-color="#ffb600"/><stop offset=".39" stop-color="#ff7b00"/><stop offset=".585" stop-color="#ff3e00"/><stop offset=".78" stop-color="#f00"/><stop offset=".89" stop-color="#f00"/><stop offset="1" stop-color="#f00"/></linearGradient>
<linearGradient id="f38"><stop offset="0" stop-color="#fff900"/><stop offset=".199" stop-color="#ffbd00"/><stop offset=".399" stop-color="#ff7f00"/><stop offset=".598" stop-color="#ff4000"/><stop offset=".797" stop-color="#f00"/><stop offset=".899" stop-color="#f00"/><stop offset="1" stop-color="#f00"/></linearGradient>
<linearGradient id="f39"><stop offset="0" stop-color="#ff0"/><stop offset=".171" stop-color="#ffce00"/><stop offset=".332" stop-color="#ff9c00"/><stop offset=".493" stop-color="#ff6900"/><stop offset=".654" stop-color="#ff3500"/><stop offset=".815" stop-color="#f00"/><stop offset="1" stop-color="#f00"/></linearGradient>
<linearGradient id="f40"><stop offset="0" stop-color="#ff0"/><stop offset=".041" stop-color="#ff0"/><stop offset=".239" stop-color="#ffc100"/><stop offset=".437" stop-color="#ff8200"/><stop offset=".635" stop-color="#ff4200"/><stop offset=".834" stop-color="#f00"/><stop offset="1" stop-color="#f00"/></linearGradient>
<linearGradient id="f41"><stop offset="0" stop-color="#ff0"/><stop offset=".072" stop-color="#ff0"/><stop offset=".267" stop-color="#ffc100"/><stop offset=".462" stop-color="#ff8200"/><stop offset=".657" stop-color="#ff4200"/><stop offset=".853" stop-color="#f00"/><stop offset="1" stop-color="#f00"/></linearGradient>
<linearGradient id="f42"><stop offset="0" stop-color="#ff0"/><stop offset=".104" stop-color="#ff0"/><stop offset=".296" stop-color="#ffc100"/><stop offset=".488" stop-color="#ff8200"/><stop offset=".68" stop-color="#ff4200"/><stop offset=".872" stop-color="#f00"/><stop offset="1" stop-color="#f00"/></linearGradient>
<linearGradient id="f43"><stop offset="0" stop-color="#ff0"/><stop offset=".135" stop-color="#ff0"/><stop offset=".324" stop-color="#ffc100"/><stop offset=".513" stop-color="#ff8200"/><stop offset=".703" stop-color="#ff4200"/><stop offset=".892" stop-color="#f00"/><stop offset="1" stop-color="#f00"/></linearGradient>
<linearGradient id="f44"><stop offset="0" stop-color="#ff0"/><stop offset=".167" stop-color="#ff0"/><stop offset=".353" stop-color="#ffc100"/><stop offset=".539" stop-color="#ff8200"/><stop offset=".726" stop-color="#ff4200"/><stop offset=".912" stop-color="#f00"/><stop offset="1" stop-color="#f00"/></linearGradient>
<linearGradient id="f45"><stop offset="0" stop-color="#faff00"/><stop offset=".016" stop-color="#ff0"/><stop offset=".198" stop-color="#ff0"/><stop offset=".382" stop-color="#ffc100"/><stop offset=".565" stop-color="#ff8200"/><stop offset=".749" stop-color="#ff4200"/><stop offset=".933" stop-color="#f00"/><stop offset="1" stop-color="#f00"/></linearGradient>
<linearGradient id="f46"><stop offset="0" stop-color="#efff00"/><stop offset=".051" stop-color="#ff0"/><stop offset=".23" stop-color="#ff0"/><stop offset=".411" stop-color="#ffc100"/><stop offset=".592" stop-color="#ff8200"/><stop offset=".773" stop-color="#ff4200"/><stop offset=".954" stop-color="#f00"/><stop offset="1" stop-color="#f00"/></linearGradient>
<linearGradient id="f47"><stop offset="0" stop-color="#e4ff00"/><stop offset=".085" stop-color="#ff0"/><stop offset=".262" stop-color="#ff0"/><stop offset=".44" stop-color="#ffc100"/><stop offset=".619" stop-color="#ff8200"/><stop offset=".797" stop-color="#ff4100"/><stop offset=".975" stop-color="#f00"/><stop offset="1" stop-color="#f00"/></linearGradient>
<linearGradient id="f48"><stop offset="0" stop-color="#d9ff00"/><stop offset=".12" stop-color="#ff0"/><stop offset=".293" stop-color="#ff0"/><stop offset=".469" stop-color="#ffc100"/><stop offset=".645" stop-color="#ff8200"/><stop offset=".821" stop-color="#ff4100"/><stop offset=".997" stop-color="#f00"/><stop offset="1" stop-color="#f00"/></linearGradient>
<linearGradient id="f49"><stop offset="0" stop-color="#cdff00"/><stop offset=".154" stop-color="#ff0"/><stop offset=".325" stop-color="#ff0"/><stop offset=".494" stop-color="#ffc300"/><stop offset=".663" stop-color="#ff8500"/><stop offset=".831" stop-color="#ff4700"/><stop offset="1" stop-color="#ff0700"/></linearGradient>
<linearGradient id="f50"><stop offset="0" stop-color="#c1ff00"/><stop offset=".189" stop-color="#ff0"/><stop offset=".358" stop-color="#ff0"/><stop offset=".518" stop-color="#ffc500"/><stop offset=".679" stop-color="#ff8900"/><stop offset=".839" stop-color="#ff4d00"/><stop offset="1" stop-color="#ff1000"/></linearGradient>
<linearGradient id="f51"><stop offset="0" stop-color="#b5ff00"/><stop offset=".112" stop-color="#daff00"/><stop offset=".224" stop-color="#ff0"/><stop offset=".39" stop-color="#ff0"/><stop offset=".542" stop-color="#ffc700"/><stop offset=".695" stop-color="#ff8e00"/><stop offset=".847" stop-color="#ff5400"/><stop offset="1" stop-color="#ff1900"/></linearGradient>
<linearGradient id="f52"><stop offset="0" stop-color="#a8ff00"/><stop offset=".129" stop-color="#d3ff00"/><stop offset=".258" stop-color="#ff0"/><stop offset=".422" stop-color="#ff0"/><stop offset=".615" stop-color="#ffb700"/><stop offset=".807" stop-color="#ff6d00"/><stop offset="1" stop-color="#ff2300"/></linearGradient>
<linearGradient id="f53"><stop offset="0" stop-color="#9bff00"/><stop offset=".146" stop-color="#cdff00"/><stop offset=".293" stop-color="#ff0"/><stop offset=".454" stop-color="#ff0"/><stop offset=".636" stop-color="#ffba00"/><stop offset=".818" stop-color="#ff7400"/><stop offset="1" stop-color="#ff2c00"/></linearGradient>
<linearGradient id="f54"><stop offset="0" stop-color="#8eff00"/><stop offset=".164" stop-color="#c6ff00"/><stop offset=".327" stop-color="#ff0"/><stop offset=".486" stop-color="#ff0"/><stop offset=".658" stop-color="#ffbd00"/><stop offset=".829" stop-color="#ff7a00"/><stop offset="1" stop-color="#ff3600"/></linearGradient>
<linearGradient id="f55"><stop offset="0" stop-color="#80ff00"/><stop offset=".181" stop-color="#bfff00"/><stop offset=".362" stop-color="#ff0"/><stop offset=".519" stop-color="#ff0"/><stop offset=".679" stop-color="#ffc100"/><stop offset=".84" stop-color="#ff8100"/><stop offset="1" stop-color="#ff4100"/></linearGradient>
<linearGradient id="f56"><stop offset="0" stop-color="#72ff00"/><stop offset=".198" stop-color="#b8ff00"/><stop offset=".397" stop-color="#ff0"/><stop offset=".551" stop-color="#ff0"/><stop offset=".701" stop-color="#ffc400"/><stop offset=".85" stop-color="#f80"/><stop offset="1" stop-color="#ff4c00"/></linearGradient>
<linearGradient id="f57"><stop offset="0" stop-color="#64ff00"/><stop offset=".144" stop-color="#97ff00"/><stop offset=".288" stop-color="#cbff00"/><stop offset=".431" stop-color="#ff0"/><stop offset=".584" stop-color="#ff0"/><stop offset=".723" stop-color="#ffc800"/><stop offset=".861" stop-color="#ff8f00"/><stop offset="1" stop-color="#ff5700"/></linearGradient>
<linearGradient id="f58"><stop offset="0" stop-color="#5f0"/><stop offset=".155" stop-color="#8dff00"/><stop offset=".311" stop-color="#c6ff00"/><stop offset=".466" stop-color="#ff0"/><stop offset=".617" stop-color="#ff0"/><stop offset=".808" stop-color="#ffb100"/><stop offset="1" stop-color="#ff6200"/></linearGradient>
<linearGradient id="f59"><stop offset="0" stop-color="#47ff00"/><stop offset=".167" stop-color="#83ff00"/><stop offset=".334" stop-color="#c1ff00"/><stop offset=".501" stop-color="#ff0"/><stop offset=".649" stop-color="#ff0"/><stop offset=".825" stop-color="#ffb700"/><stop offset="1" stop-color="#ff6e00"/></linearGradient>
<linearGradient id="f60"><stop offset="0" stop-color="#37ff00"/><stop offset=".178" stop-color="#79ff00"/><stop offset=".357" stop-color="#bf0"/><stop offset=".535" stop-color="#ff0"/><stop offset=".682" stop-color="#ff0"/><stop offset=".841" stop-color="#ffbd00"/><stop offset="1" stop-color="#ff7a00"/></linearGradient>
<linearGradient id="f61"><stop offset="0" stop-color="#28ff00"/><stop offset=".19" stop-color="#6eff00"/><stop offset=".38" stop-color="#b6ff00"/><stop offset=".57" stop-color="#ff0"/><stop offset=".715" stop-color="#ff0"/><stop offset=".857" stop-color="#ffc300"/><stop offset="1" stop-color="#ff8600"/></linearGradient>
<linearGradient id="f62"><stop offset="0" stop-color="#18ff00"/><stop offset=".151" stop-color="#51ff00"/><stop offset=".302" stop-color="#8aff00"/><stop offset=".453" stop-color="#c4ff00"/><stop offset=".605" stop-color="#ff0"/><stop offset=".747" stop-color="#ff0"/><stop offset=".874" stop-color="#ffc900"/><stop offset="1" stop-color="#ff9300"/></linearGradient>
<linearGradient id="f63"><stop offset="0" stop-color="#08ff00"/><stop offset=".16" stop-color="#45ff00"/><stop offset=".32" stop-color="#82ff00"/><stop offset=".479" stop-color="#c0ff00"/><stop offset=".639" stop-color="#ff0"/><stop offset=".78" stop-color="#ff0"/><stop offset=".89" stop-color="#ffd000"/><stop offset="1" stop-color="#ffa000"/></linearGradient>
<linearGradient id="f64"><stop offset="0" stop-color="#0f0"/><stop offset=".022" stop-color="#0f0"/><stop offset=".185" stop-color="#3eff00"/><stop offset=".348" stop-color="#7eff00"/><stop offset=".511" stop-color="#beff00"/><stop offset=".674" stop-color="#ff0"/><stop offset=".813" stop-color="#ff0"/><stop offset="1" stop-color="#ffad00"/></linearGradient>
<linearGradient id="f65"><stop offset="0" stop-color="#0f0"/><stop offset=".065" stop-color="#0f0"/><stop offset=".226" stop-color="#3eff00"/><stop offset=".387" stop-color="#7eff00"/><stop offset=".548" stop-color="#beff00"/><stop offset=".708" stop-color="#ff0"/><stop offset=".846" stop-color="#ff0"/><stop offset="1" stop-color="#fb0"/></linearGradient>
<linearGradient id="f66"><stop offset="0" stop-color="#0f0"/><stop offset=".108" stop-color="#0f0"/><stop offset=".267" stop-color="#3eff00"/><stop offset=".425" stop-color="#7eff00"/><stop offset=".584" stop-color="#beff00"/><stop offset=".743" stop-color="#ff0"/><stop offset=".879" stop-color="#ff0"/><stop offset="1" stop-color="#ffc900"/></linearGradient>
<linearGradient id="f67"><stop offset="0" stop-color="#0f0"/><stop offset=".15" stop-color="#0f0"/><stop offset=".307" stop-color="#3eff00"/><stop offset=".464" stop-color="#7eff00"/><stop offset=".621" stop-color="#beff00"/><stop offset=".778" stop-color="#ff0"/><stop offset=".912" stop-color="#ff0"/><stop offset="1" stop-color="#ffd700"/></linearGradient>
<linearGradient id="f68"><stop offset="0" stop-color="#0f0"/><stop offset=".193" stop-color="#0f0"/><stop offset=".348" stop-color="#3fff00"/><stop offset=".503" stop-color="#7eff00"/><stop offset=".658" stop-color="#beff00"/><stop offset=".812" stop-color="#ff0"/><stop offset=".945" stop-color="#ff0"/><stop offset="1" stop-color="#ffe600"/></linearGradient>
<linearGradient id="f69"><stop offset="0" stop-color="#00ff01"/><stop offset=".119" stop-color="#0f0"/><stop offset=".235" stop-color="#0f0"/><stop offset=".388" stop-color="#3fff00"/><stop offset=".541" stop-color="#7eff00"/><stop offset=".694" stop-color="#beff00"/><stop offset=".847" stop-color="#ff0"/><stop offset=".978" stop-color="#ff0"/><stop offset="1" stop-color="#fff500"/></linearGradient>
<linearGradient id="f70"><stop offset="0" stop-color="#00ff1b"/><stop offset=".047" stop-color="#0f0"/><stop offset=".162" stop-color="#0f0"/><stop offset=".277" stop-color="#0f0"/><stop offset=".429" stop-color="#3fff00"/><stop offset=".58" stop-color="#7eff00"/><stop offset=".731" stop-color="#beff00"/><stop offset=".882" stop-color="#ff0"/><stop offset="1" stop-color="#ff0"/></linearGradient>
<linearGradient id="f71"><stop offset="0" stop-color="#00ff35"/><stop offset=".092" stop-color="#0f0"/><stop offset=".206" stop-color="#0f0"/><stop offset=".319" stop-color="#0f0"/><stop offset=".518" stop-color="#54ff00"/><stop offset=".717" stop-color="#a9ff00"/><stop offset=".916" stop-color="#ff0"/><stop offset="1" stop-color="#ff0"/></linearGradient>
<linearGradient id="f72"><stop offset="0" stop-color="#00ff50"/><stop offset=".137" stop-color="#0f0"/><stop offset=".249" stop-color="#0f0"/><stop offset=".361" stop-color="#0f0"/><stop offset=".558" stop-color="#54ff00"/><stop offset=".755" stop-color="#a9ff00"/><stop offset=".951" stop-color="#ff0"/><stop offset="1" stop-color="#ff0"/></linearGradient>
<linearGradient id="f73"><stop offset="0" stop-color="#00ff6b"/><stop offset=".181" stop-color="#0f0"/><stop offset=".292" stop-color="#0f0"/><stop offset=".403" stop-color="#0f0"/><stop offset=".597" stop-color="#54ff00"/><stop offset=".792" stop-color="#a9ff00"/><stop offset=".986" stop-color="#ff0"/><stop offset="1" stop-color="#ff0"/></linearGradient>
<linearGradient id="f74"><stop offset="0" stop-color="#00ff87"/><stop offset=".113" stop-color="#0f4"/><stop offset=".225" stop-color="#0f0"/><stop offset=".335" stop-color="#0f0"/><stop offset=".444" stop-color="#0f0"/><stop offset=".63" stop-color="#51ff00"/><stop offset=".815" stop-color="#a3ff00"/><stop offset="1" stop-color="#f6ff00"/></linearGradient></defs>
<rect width="723" height="906" fill="#fff"/>
<g><path d="M70.7 170.7L213.4 133.5L355.8 171.3M69.8 145.7L213.3 111L356.8 146.3M68.8 120.7L213.3 88.5L357.8 121.3M67.9 95.7L213.2 66L358.8 96.3M66.9 70.7L213.1 43.5L359.7 71.3M66 45.7L213.1 21L360.7 46.3M65 20.7L213 -1.5L361.7 21.3M70.7 170.7L65 20.7M91.1 165.4L86.1 17.5M111.5 160.1L107.3 14.4M131.9 154.8L128.4 11.2M152.2 149.4L149.6 8M172.6 144.1L170.7 4.8M193 138.8L191.9 1.7M213.4 133.5L213 -1.5M355.8 171.3L361.7 21.3M320.2 161.8L324.5 15.6M284.6 152.4L287.4 9.9M249 142.9L250.2 4.2M213.4 133.5L213 -1.5M72.5 218L65 20.7M213.5 176L213 -1.5M354 218.5L361.7 21.3" fill="none" stroke="#3c3c3c" stroke-width=".9"/><path d="M72.5 218L213.5 176L354 218.5L213 275Z" fill="#ff0" stroke="#222" stroke-width="1"/><path d="M150.7 195.2L314 234.4" fill="none" stroke="#5ee04a" stroke-width="1"/><path d="M213 275L213.6 276.8" stroke="#111" stroke-width="1.2"/><text x="220.4" y="286.6" font-family="Liberation Serif,serif" font-weight="bold" font-size="13.8" text-anchor="middle">7</text><path d="M233.1 266.9L233.7 268.7" stroke="#111" stroke-width="1.2"/><text x="236.9" y="281.5" font-family="Liberation Serif,serif" font-weight="bold" font-size="13.8" text-anchor="middle">9</text><path d="M253.3 258.9L253.9 260.7" stroke="#111" stroke-width="1.2"/><text x="261.5" y="275.9" font-family="Liberation Serif,serif" font-weight="bold" font-size="13.8" text-anchor="middle">11</text><path d="M273.4 250.8L274 252.6" stroke="#111" stroke-width="1.2"/><text x="280.1" y="265.1" font-family="Liberation Serif,serif" font-weight="bold" font-size="13.8" text-anchor="middle">13</text><path d="M293.6 242.7L294.2 244.5" stroke="#111" stroke-width="1.2"/><text x="298.9" y="255.5" font-family="Liberation Serif,serif" font-weight="bold" font-size="13.8" text-anchor="middle">15</text><path d="M313.7 234.6L314.3 236.4" stroke="#111" stroke-width="1.2"/><text x="318.4" y="249.5" font-family="Liberation Serif,serif" font-weight="bold" font-size="13.8" text-anchor="middle">17</text><path d="M333.9 226.6L334.5 228.4" stroke="#111" stroke-width="1.2"/><text x="340.8" y="239.9" font-family="Liberation Serif,serif" font-weight="bold" font-size="13.8" text-anchor="middle">19</text><path d="M354 218.5L354.6 220.3" stroke="#111" stroke-width="1.2"/><text x="360.9" y="231.1" font-family="Liberation Serif,serif" font-weight="bold" font-size="13.8" text-anchor="middle">21</text><path d="M213 275L212.4 276.8" stroke="#111" stroke-width="1.2"/><text x="204.3" y="287" font-family="Liberation Serif,serif" font-weight="bold" font-size="13.8" text-anchor="middle">12</text><path d="M177.9 260.8L177.3 262.6" stroke="#111" stroke-width="1.2"/><text x="171.8" y="274" font-family="Liberation Serif,serif" font-weight="bold" font-size="13.8" text-anchor="middle">18</text><path d="M142.8 246.5L142.2 248.3" stroke="#111" stroke-width="1.2"/><text x="139.2" y="260.9" font-family="Liberation Serif,serif" font-weight="bold" font-size="13.8" text-anchor="middle">24</text><path d="M107.6 232.2L107 234.1" stroke="#111" stroke-width="1.2"/><text x="106.7" y="247.9" font-family="Liberation Serif,serif" font-weight="bold" font-size="13.8" text-anchor="middle">30</text><path d="M72.5 218L71.9 219.8" stroke="#111" stroke-width="1.2"/><text x="74.1" y="234.8" font-family="Liberation Serif,serif" font-weight="bold" font-size="13.8" text-anchor="middle">36</text><text x="63.4" y="175" font-family="Liberation Serif,serif" font-weight="bold" font-size="14.4" text-anchor="end">0.2</text><path d="M68.2 171L70.7 170.7" stroke="#222" stroke-width="1"/><text x="63.2" y="150" font-family="Liberation Serif,serif" font-weight="bold" font-size="14.4" text-anchor="end">0.3</text><path d="M67.3 146L69.8 145.7" stroke="#222" stroke-width="1"/><text x="63" y="125" font-family="Liberation Serif,serif" font-weight="bold" font-size="14.4" text-anchor="end">0.4</text><path d="M66.3 121L68.8 120.7" stroke="#222" stroke-width="1"/><text x="62.8" y="100" font-family="Liberation Serif,serif" font-weight="bold" font-size="14.4" text-anchor="end">0.5</text><path d="M65.4 96L67.9 95.7" stroke="#222" stroke-width="1"/><text x="62.5" y="75" font-family="Liberation Serif,serif" font-weight="bold" font-size="14.4" text-anchor="end">0.6</text><path d="M64.4 71L66.9 70.7" stroke="#222" stroke-width="1"/><text x="62.3" y="50" font-family="Liberation Serif,serif" font-weight="bold" font-size="14.4" text-anchor="end">0.7</text><path d="M63.5 46L66 45.7" stroke="#222" stroke-width="1"/><text x="62.1" y="25" font-family="Liberation Serif,serif" font-weight="bold" font-size="14.4" text-anchor="end">0.8</text><path d="M62.5 21L65 20.7" stroke="#222" stroke-width="1"/><g stroke-width=".7" stroke-linejoin="round"><path d="M71.4 99.2l5.8 -3l5.7 -3l5.7 -3l5.6 -3l5.6 -2.9l5.6 -2.9l5.5 -2.9l5.4 -2.8l5.4 -2.9l5.4 -2.8l5.3 -2.8l5.3 -2.7l5.2 -2.8l5.2 -2.7l5.2 -2.7l5.1 -2.7l5.1 -2.6l5 -2.7l5.1 -2.6l4.9 -2.6l4.9 -2.6l4.9 -2.5l4.9 -2.6l4.8 -2.5l4.8 -2.5l4.7 -2.5l4.7 -2.4l4.7 -2.5l-3.6 -1l-4.7 2.5l-4.7 2.5l-4.8 2.4l-4.7 2.5l-4.8 2.6l-4.9 2.5l-4.9 2.6l-4.9 2.6l-5 2.6l-5 2.6l-5 2.6l-5.1 2.7l-5.1 2.7l-5.1 2.7l-5.2 2.7l-5.3 2.8l-5.3 2.7l-5.3 2.8l-5.3 2.8l-5.5 2.9l-5.4 2.8l-5.5 2.9l-5.5 2.9l-5.6 3l-5.7 2.9l-5.6 3l-5.8 3l-5.7 3z" fill="url(#a35)" stroke="url(#a35)"/><path d="M74.9 100l5.8 -3l5.8 -3l5.6 -3l5.7 -2.9l5.6 -2.9l5.5 -2.9l5.5 -2.9l5.5 -2.8l5.4 -2.9l5.4 -2.8l5.3 -2.8l5.3 -2.7l5.3 -2.8l5.2 -2.7l5.1 -2.7l5.1 -2.7l5.1 -2.6l5.1 -2.6l5 -2.7l4.9 -2.6l5 -2.5l4.9 -2.6l4.8 -2.5l4.8 -2.5l4.8 -2.5l4.8 -2.5l4.7 -2.5l4.6 -2.4l-3.6 -1l-4.7 2.5l-4.7 2.4l-4.7 2.5l-4.8 2.5l-4.8 2.5l-4.9 2.6l-4.9 2.5l-4.9 2.6l-4.9 2.6l-5.1 2.6l-5 2.7l-5.1 2.6l-5.1 2.7l-5.2 2.7l-5.2 2.7l-5.2 2.8l-5.3 2.7l-5.3 2.8l-5.4 2.8l-5.4 2.9l-5.4 2.8l-5.5 2.9l-5.6 2.9l-5.6 2.9l-5.6 3l-5.7 3l-5.7 3l-5.8 3z" fill="url(#a34)" stroke="url(#a34)"/><path d="M78.5 100.9l5.8 -3l5.7 -3l5.7 -3l5.7 -2.9l5.6 -2.9l5.5 -2.9l5.5 -2.9l5.5 -2.9l5.4 -2.8l5.4 -2.8l5.4 -2.8l5.2 -2.7l5.3 -2.8l5.2 -2.7l5.2 -2.7l5.1 -2.6l5.1 -2.7l5 -2.6l5 -2.6l5 -2.6l4.9 -2.6l4.9 -2.5l4.9 -2.6l4.8 -2.5l4.8 -2.4l4.7 -2.5l4.7 -2.5l4.7 -2.4l-3.7 -1l-4.6 2.4l-4.7 2.5l-4.8 2.5l-4.8 2.5l-4.8 2.5l-4.8 2.5l-4.9 2.6l-5 2.5l-4.9 2.6l-5 2.7l-5.1 2.6l-5.1 2.6l-5.1 2.7l-5.1 2.7l-5.2 2.7l-5.3 2.8l-5.3 2.7l-5.3 2.8l-5.4 2.8l-5.4 2.9l-5.5 2.8l-5.5 2.9l-5.5 2.9l-5.6 2.9l-5.7 2.9l-5.6 3l-5.8 3l-5.8 3z" fill="url(#a33)" stroke="url(#a33)"/><path d="M82.1 101.8l5.8 -3.1l5.7 -2.9l5.7 -3l5.7 -2.9l5.6 -3l5.6 -2.8l5.5 -2.9l5.5 -2.9l5.4 -2.8l5.4 -2.8l5.3 -2.8l5.3 -2.7l5.3 -2.7l5.2 -2.7l5.1 -2.7l5.2 -2.7l5.1 -2.6l5 -2.7l5 -2.6l5 -2.5l4.9 -2.6l4.9 -2.6l4.9 -2.5l4.8 -2.5l4.8 -2.5l4.7 -2.4l4.7 -2.5l4.7 -2.4l-3.7 -1l-4.7 2.4l-4.7 2.5l-4.7 2.5l-4.8 2.4l-4.8 2.5l-4.9 2.6l-4.9 2.5l-4.9 2.6l-5 2.6l-5 2.6l-5 2.6l-5.1 2.7l-5.1 2.6l-5.2 2.7l-5.2 2.7l-5.3 2.8l-5.2 2.7l-5.4 2.8l-5.4 2.8l-5.4 2.8l-5.5 2.9l-5.5 2.9l-5.5 2.9l-5.6 2.9l-5.7 2.9l-5.7 3l-5.7 3l-5.8 3z" fill="url(#a32)" stroke="url(#a32)"/><path d="M85.7 102.6l5.8 -3l5.8 -3l5.7 -2.9l5.6 -3l5.7 -2.9l5.5 -2.9l5.5 -2.8l5.5 -2.9l5.5 -2.8l5.3 -2.8l5.4 -2.7l5.3 -2.8l5.2 -2.7l5.3 -2.7l5.1 -2.7l5.2 -2.7l5.1 -2.6l5 -2.6l5 -2.6l5 -2.6l4.9 -2.5l4.9 -2.6l4.9 -2.5l4.8 -2.5l4.8 -2.5l4.7 -2.4l4.7 -2.5l4.7 -2.4l-3.7 -1l-4.7 2.4l-4.7 2.5l-4.7 2.4l-4.8 2.5l-4.8 2.5l-4.9 2.5l-4.9 2.6l-4.9 2.6l-5 2.5l-5 2.6l-5 2.7l-5.1 2.6l-5.2 2.7l-5.1 2.7l-5.2 2.7l-5.3 2.7l-5.3 2.7l-5.3 2.8l-5.4 2.8l-5.4 2.8l-5.5 2.9l-5.5 2.9l-5.6 2.8l-5.6 3l-5.7 2.9l-5.7 3l-5.7 2.9l-5.8 3.1z" fill="url(#a31)" stroke="url(#a31)"/><path d="M89.3 103.5l5.9 -3l5.7 -3l5.7 -2.9l5.7 -3l5.6 -2.9l5.6 -2.9l5.5 -2.8l5.5 -2.8l5.4 -2.9l5.4 -2.7l5.4 -2.8l5.3 -2.8l5.3 -2.7l5.2 -2.7l5.2 -2.6l5.1 -2.7l5.1 -2.6l5 -2.7l5.1 -2.5l4.9 -2.6l5 -2.6l4.9 -2.5l4.8 -2.5l4.8 -2.5l4.8 -2.5l4.8 -2.4l4.7 -2.5l4.7 -2.4l-3.8 -1l-4.7 2.4l-4.7 2.5l-4.7 2.4l-4.8 2.5l-4.8 2.5l-4.9 2.5l-4.9 2.6l-4.9 2.5l-5 2.6l-5 2.6l-5 2.6l-5.1 2.6l-5.2 2.7l-5.1 2.7l-5.3 2.7l-5.2 2.7l-5.3 2.8l-5.4 2.7l-5.3 2.8l-5.5 2.8l-5.5 2.9l-5.5 2.8l-5.5 2.9l-5.7 2.9l-5.6 3l-5.7 2.9l-5.8 3l-5.8 3z" fill="url(#a30)" stroke="url(#a30)"/><path d="M93 104.4l5.8 -3l5.8 -3l5.7 -2.9l5.7 -3l5.6 -2.9l5.6 -2.8l5.5 -2.9l5.5 -2.8l5.5 -2.8l5.4 -2.8l5.3 -2.8l5.3 -2.7l5.3 -2.7l5.2 -2.7l5.2 -2.7l5.1 -2.6l5.1 -2.7l5.1 -2.6l5 -2.6l5 -2.5l4.9 -2.6l4.9 -2.5l4.9 -2.5l4.8 -2.5l4.8 -2.5l4.7 -2.4l4.8 -2.5l4.6 -2.4l-3.7 -1l-4.7 2.4l-4.7 2.5l-4.8 2.4l-4.8 2.5l-4.8 2.5l-4.8 2.5l-4.9 2.5l-5 2.6l-4.9 2.6l-5.1 2.5l-5 2.7l-5.1 2.6l-5.1 2.7l-5.2 2.6l-5.2 2.7l-5.3 2.7l-5.3 2.8l-5.4 2.8l-5.4 2.7l-5.4 2.9l-5.5 2.8l-5.5 2.8l-5.6 2.9l-5.6 2.9l-5.7 3l-5.7 2.9l-5.7 3l-5.9 3z" fill="url(#a29)" stroke="url(#a29)"/><path d="M96.7 105.3l5.9 -3l5.7 -3l5.8 -2.9l5.6 -3l5.7 -2.9l5.5 -2.8l5.6 -2.9l5.5 -2.8l5.4 -2.8l5.4 -2.8l5.4 -2.7l5.3 -2.8l5.3 -2.7l5.2 -2.7l5.2 -2.6l5.1 -2.7l5.1 -2.6l5.1 -2.6l5 -2.6l5 -2.6l4.9 -2.5l4.9 -2.5l4.9 -2.5l4.8 -2.5l4.8 -2.5l4.7 -2.4l4.7 -2.4l4.7 -2.5l-3.8 -1l-4.6 2.4l-4.8 2.5l-4.7 2.4l-4.8 2.5l-4.8 2.5l-4.9 2.5l-4.9 2.5l-4.9 2.6l-5 2.5l-5 2.6l-5.1 2.6l-5.1 2.7l-5.1 2.6l-5.2 2.7l-5.2 2.7l-5.3 2.7l-5.3 2.7l-5.3 2.8l-5.4 2.8l-5.5 2.8l-5.5 2.8l-5.5 2.9l-5.6 2.8l-5.6 2.9l-5.7 3l-5.7 2.9l-5.8 3l-5.8 3z" fill="url(#a28)" stroke="url(#a28)"/><path d="M100.5 106.2l5.8 -3l5.8 -3l5.7 -2.9l5.7 -2.9l5.6 -2.9l5.6 -2.9l5.6 -2.8l5.4 -2.9l5.5 -2.8l5.4 -2.7l5.4 -2.8l5.3 -2.7l5.2 -2.7l5.3 -2.7l5.2 -2.7l5.1 -2.6l5.1 -2.6l5.1 -2.6l5 -2.6l5 -2.6l4.9 -2.5l4.9 -2.5l4.9 -2.5l4.8 -2.5l4.8 -2.5l4.7 -2.4l4.8 -2.4l4.6 -2.4l-3.8 -1.1l-4.7 2.5l-4.7 2.4l-4.7 2.4l-4.8 2.5l-4.8 2.5l-4.9 2.5l-4.9 2.5l-4.9 2.5l-5 2.6l-5 2.6l-5.1 2.6l-5.1 2.6l-5.1 2.7l-5.2 2.6l-5.2 2.7l-5.3 2.7l-5.3 2.8l-5.4 2.7l-5.4 2.8l-5.4 2.8l-5.5 2.8l-5.6 2.9l-5.5 2.8l-5.7 2.9l-5.6 3l-5.8 2.9l-5.7 3l-5.9 3z" fill="url(#a27)" stroke="url(#a27)"/><path d="M104.2 107.1l5.8 -3l5.8 -3l5.8 -2.9l5.7 -2.9l5.6 -2.9l5.6 -2.9l5.5 -2.8l5.5 -2.8l5.5 -2.8l5.4 -2.8l5.4 -2.7l5.3 -2.8l5.3 -2.7l5.2 -2.6l5.2 -2.7l5.1 -2.6l5.1 -2.7l5.1 -2.6l5 -2.5l5 -2.6l5 -2.5l4.9 -2.5l4.8 -2.5l4.8 -2.5l4.8 -2.4l4.8 -2.5l4.7 -2.4l4.7 -2.4l-3.9 -1l-4.6 2.4l-4.8 2.4l-4.7 2.4l-4.8 2.5l-4.8 2.5l-4.9 2.5l-4.9 2.5l-4.9 2.5l-5 2.6l-5 2.6l-5.1 2.6l-5.1 2.6l-5.1 2.6l-5.2 2.7l-5.3 2.7l-5.2 2.7l-5.3 2.7l-5.4 2.8l-5.4 2.7l-5.5 2.8l-5.4 2.9l-5.6 2.8l-5.6 2.9l-5.6 2.9l-5.7 2.9l-5.7 2.9l-5.8 3l-5.8 3z" fill="url(#a26)" stroke="url(#a26)"/><path d="M108 108l5.8 -3l5.8 -2.9l5.8 -3l5.7 -2.9l5.6 -2.9l5.6 -2.8l5.6 -2.9l5.5 -2.8l5.4 -2.8l5.4 -2.7l5.4 -2.8l5.3 -2.7l5.3 -2.7l5.2 -2.7l5.2 -2.6l5.2 -2.7l5.1 -2.6l5.1 -2.6l5 -2.5l5 -2.6l4.9 -2.5l4.9 -2.5l4.9 -2.5l4.8 -2.5l4.8 -2.4l4.7 -2.4l4.8 -2.4l4.6 -2.4l-3.8 -1.1l-4.7 2.4l-4.7 2.4l-4.8 2.5l-4.8 2.4l-4.8 2.5l-4.8 2.5l-4.9 2.5l-5 2.5l-5 2.6l-5 2.5l-5.1 2.6l-5.1 2.7l-5.1 2.6l-5.2 2.7l-5.2 2.6l-5.3 2.7l-5.3 2.8l-5.4 2.7l-5.4 2.8l-5.5 2.8l-5.5 2.8l-5.5 2.8l-5.6 2.9l-5.6 2.9l-5.7 2.9l-5.8 2.9l-5.8 3l-5.8 3z" fill="url(#a25)" stroke="url(#a25)"/><path d="M111.8 108.9l5.9 -3l5.8 -2.9l5.7 -2.9l5.7 -3l5.7 -2.8l5.6 -2.9l5.5 -2.8l5.5 -2.8l5.5 -2.8l5.4 -2.8l5.4 -2.7l5.3 -2.7l5.3 -2.7l5.2 -2.7l5.2 -2.6l5.2 -2.7l5.1 -2.6l5 -2.6l5.1 -2.5l5 -2.6l4.9 -2.5l4.9 -2.5l4.9 -2.5l4.8 -2.4l4.8 -2.5l4.7 -2.4l4.8 -2.4l4.6 -2.4l-3.9 -1l-4.6 2.4l-4.8 2.4l-4.7 2.4l-4.8 2.4l-4.8 2.5l-4.9 2.5l-4.9 2.5l-4.9 2.5l-5 2.6l-5 2.5l-5.1 2.6l-5.1 2.6l-5.2 2.7l-5.2 2.6l-5.2 2.7l-5.3 2.7l-5.3 2.7l-5.4 2.8l-5.4 2.7l-5.4 2.8l-5.5 2.8l-5.6 2.9l-5.6 2.8l-5.6 2.9l-5.7 2.9l-5.8 3l-5.8 2.9l-5.8 3z" fill="url(#a24)" stroke="url(#a24)"/><path d="M115.7 109.9l5.8 -3l5.8 -3l5.8 -2.9l5.7 -2.9l5.6 -2.9l5.6 -2.8l5.6 -2.9l5.5 -2.8l5.5 -2.8l5.4 -2.7l5.4 -2.7l5.3 -2.8l5.3 -2.6l5.2 -2.7l5.2 -2.7l5.2 -2.6l5.1 -2.6l5.1 -2.6l5 -2.5l5 -2.6l4.9 -2.5l4.9 -2.5l4.9 -2.4l4.8 -2.5l4.8 -2.4l4.8 -2.5l4.7 -2.4l4.6 -2.3l-3.9 -1.1l-4.6 2.4l-4.8 2.4l-4.7 2.4l-4.8 2.5l-4.8 2.4l-4.9 2.5l-4.9 2.5l-4.9 2.5l-5 2.6l-5.1 2.5l-5 2.6l-5.1 2.6l-5.2 2.7l-5.2 2.6l-5.2 2.7l-5.3 2.7l-5.3 2.7l-5.4 2.7l-5.4 2.8l-5.5 2.8l-5.5 2.8l-5.5 2.8l-5.6 2.9l-5.7 2.8l-5.7 3l-5.7 2.9l-5.8 2.9l-5.9 3z" fill="url(#a23)" stroke="url(#a23)"/><path d="M119.5 110.8l5.9 -3l5.8 -2.9l5.8 -3l5.7 -2.9l5.6 -2.8l5.6 -2.9l5.6 -2.8l5.5 -2.8l5.5 -2.8l5.4 -2.7l5.4 -2.8l5.3 -2.7l5.3 -2.7l5.3 -2.6l5.2 -2.7l5.1 -2.6l5.1 -2.6l5.1 -2.5l5 -2.6l5 -2.5l5 -2.5l4.9 -2.5l4.8 -2.5l4.9 -2.5l4.7 -2.4l4.8 -2.4l4.7 -2.4l4.7 -2.4l-4 -1l-4.6 2.3l-4.7 2.4l-4.8 2.5l-4.8 2.4l-4.8 2.5l-4.9 2.4l-4.9 2.5l-4.9 2.5l-5 2.6l-5 2.5l-5.1 2.6l-5.1 2.6l-5.2 2.6l-5.2 2.7l-5.2 2.7l-5.3 2.6l-5.3 2.8l-5.4 2.7l-5.4 2.7l-5.5 2.8l-5.5 2.8l-5.6 2.9l-5.6 2.8l-5.6 2.9l-5.7 2.9l-5.8 2.9l-5.8 3l-5.8 3z" fill="url(#a22)" stroke="url(#a22)"/><path d="M123.4 111.7l5.9 -2.9l5.8 -3l5.8 -2.9l5.7 -2.9l5.7 -2.9l5.6 -2.8l5.5 -2.8l5.6 -2.8l5.4 -2.8l5.5 -2.8l5.3 -2.7l5.4 -2.7l5.3 -2.7l5.2 -2.6l5.2 -2.7l5.2 -2.6l5.1 -2.6l5.1 -2.5l5 -2.6l5 -2.5l4.9 -2.5l4.9 -2.5l4.9 -2.5l4.8 -2.4l4.8 -2.4l4.8 -2.4l4.7 -2.4l4.7 -2.4l-4 -1.1l-4.7 2.4l-4.7 2.4l-4.8 2.4l-4.7 2.4l-4.9 2.5l-4.8 2.5l-4.9 2.5l-5 2.5l-5 2.5l-5 2.6l-5.1 2.5l-5.1 2.6l-5.1 2.6l-5.2 2.7l-5.3 2.6l-5.3 2.7l-5.3 2.7l-5.4 2.8l-5.4 2.7l-5.5 2.8l-5.5 2.8l-5.6 2.8l-5.6 2.9l-5.6 2.8l-5.7 2.9l-5.8 3l-5.8 2.9l-5.9 3z" fill="url(#a21)" stroke="url(#a21)"/><path d="M127.4 112.7l5.8 -3l5.9 -2.9l5.7 -3l5.8 -2.8l5.6 -2.9l5.6 -2.9l5.6 -2.8l5.5 -2.8l5.5 -2.7l5.4 -2.8l5.4 -2.7l5.4 -2.7l5.3 -2.7l5.2 -2.6l5.2 -2.6l5.2 -2.6l5.1 -2.6l5 -2.6l5.1 -2.5l5 -2.6l4.9 -2.5l4.9 -2.4l4.9 -2.5l4.8 -2.4l4.8 -2.5l4.8 -2.4l4.7 -2.4l4.7 -2.3l-4 -1.1l-4.7 2.4l-4.7 2.4l-4.8 2.4l-4.8 2.4l-4.8 2.4l-4.9 2.5l-4.9 2.5l-4.9 2.5l-5 2.5l-5 2.6l-5.1 2.5l-5.1 2.6l-5.2 2.6l-5.2 2.7l-5.2 2.6l-5.3 2.7l-5.4 2.7l-5.3 2.7l-5.5 2.8l-5.4 2.8l-5.6 2.8l-5.5 2.8l-5.6 2.8l-5.7 2.9l-5.7 2.9l-5.8 2.9l-5.8 3l-5.9 2.9z" fill="url(#a20)" stroke="url(#a20)"/><path d="M131.3 113.6l5.9 -2.9l5.8 -3l5.8 -2.9l5.7 -2.9l5.7 -2.8l5.6 -2.9l5.6 -2.8l5.5 -2.8l5.5 -2.7l5.5 -2.8l5.3 -2.7l5.4 -2.7l5.3 -2.7l5.2 -2.6l5.2 -2.6l5.2 -2.6l5.1 -2.6l5.1 -2.6l5 -2.5l5 -2.5l4.9 -2.5l5 -2.5l4.8 -2.4l4.8 -2.5l4.8 -2.4l4.8 -2.4l4.7 -2.4l4.7 -2.3l-4 -1.1l-4.7 2.3l-4.7 2.4l-4.8 2.4l-4.8 2.5l-4.8 2.4l-4.9 2.5l-4.9 2.4l-4.9 2.5l-5 2.6l-5.1 2.5l-5 2.6l-5.1 2.6l-5.2 2.6l-5.2 2.6l-5.2 2.6l-5.3 2.7l-5.4 2.7l-5.4 2.7l-5.4 2.8l-5.5 2.7l-5.5 2.8l-5.6 2.8l-5.6 2.9l-5.6 2.9l-5.8 2.8l-5.7 3l-5.9 2.9l-5.8 3z" fill="url(#a19)" stroke="url(#a19)"/><path d="M135.3 114.6l5.9 -3l5.8 -2.9l5.8 -2.9l5.8 -2.9l5.6 -2.9l5.7 -2.8l5.5 -2.8l5.6 -2.8l5.5 -2.7l5.4 -2.8l5.4 -2.7l5.3 -2.7l5.3 -2.6l5.3 -2.7l5.2 -2.6l5.1 -2.6l5.1 -2.6l5.1 -2.5l5.1 -2.6l4.9 -2.5l5 -2.5l4.9 -2.4l4.9 -2.5l4.8 -2.4l4.8 -2.4l4.7 -2.4l4.8 -2.4l4.6 -2.3l-4 -1.1l-4.7 2.3l-4.7 2.4l-4.8 2.4l-4.8 2.4l-4.8 2.5l-4.8 2.4l-5 2.5l-4.9 2.5l-5 2.5l-5 2.5l-5.1 2.6l-5.1 2.6l-5.2 2.6l-5.2 2.6l-5.2 2.6l-5.3 2.7l-5.4 2.7l-5.3 2.7l-5.5 2.8l-5.5 2.7l-5.5 2.8l-5.6 2.8l-5.6 2.9l-5.7 2.8l-5.7 2.9l-5.8 2.9l-5.8 3l-5.9 2.9z" fill="url(#a18)" stroke="url(#a18)"/><path d="M139.4 115.6l5.8 -3l5.9 -2.9l5.8 -2.9l5.7 -2.9l5.7 -2.9l5.6 -2.8l5.6 -2.8l5.5 -2.8l5.5 -2.7l5.5 -2.8l5.3 -2.7l5.4 -2.6l5.3 -2.7l5.2 -2.6l5.2 -2.7l5.2 -2.6l5.1 -2.5l5.1 -2.6l5 -2.5l5 -2.5l5 -2.5l4.9 -2.5l4.8 -2.4l4.9 -2.4l4.8 -2.4l4.7 -2.4l4.7 -2.4l4.7 -2.3l-4.1 -1.1l-4.6 2.3l-4.8 2.4l-4.7 2.4l-4.8 2.4l-4.8 2.4l-4.9 2.5l-4.9 2.4l-5 2.5l-4.9 2.5l-5.1 2.6l-5.1 2.5l-5.1 2.6l-5.1 2.6l-5.2 2.6l-5.3 2.7l-5.3 2.6l-5.3 2.7l-5.4 2.7l-5.4 2.8l-5.5 2.7l-5.6 2.8l-5.5 2.8l-5.7 2.8l-5.6 2.9l-5.8 2.9l-5.8 2.9l-5.8 2.9l-5.9 3z" fill="url(#a17)" stroke="url(#a17)"/><path d="M143.4 116.5l5.9 -2.9l5.9 -2.9l5.7 -2.9l5.8 -2.9l5.7 -2.9l5.6 -2.8l5.6 -2.8l5.5 -2.8l5.5 -2.7l5.4 -2.7l5.4 -2.7l5.4 -2.7l5.3 -2.7l5.2 -2.6l5.2 -2.6l5.2 -2.6l5.1 -2.6l5.1 -2.5l5 -2.5l5 -2.5l5 -2.5l4.9 -2.5l4.9 -2.4l4.8 -2.4l4.8 -2.4l4.7 -2.4l4.7 -2.4l4.7 -2.3l-4.1 -1.1l-4.7 2.3l-4.7 2.4l-4.7 2.4l-4.8 2.4l-4.9 2.4l-4.8 2.4l-4.9 2.5l-5 2.5l-5 2.5l-5 2.5l-5.1 2.6l-5.1 2.5l-5.2 2.6l-5.2 2.7l-5.2 2.6l-5.3 2.7l-5.4 2.6l-5.3 2.7l-5.5 2.8l-5.5 2.7l-5.5 2.8l-5.6 2.8l-5.6 2.8l-5.7 2.9l-5.7 2.9l-5.8 2.9l-5.9 2.9l-5.8 3z" fill="url(#a16)" stroke="url(#a16)"/><path d="M147.5 117.5l5.9 -2.9l5.9 -2.9l5.7 -2.9l5.8 -2.9l5.7 -2.9l5.6 -2.8l5.6 -2.8l5.5 -2.7l5.5 -2.8l5.5 -2.7l5.4 -2.7l5.3 -2.7l5.3 -2.6l5.3 -2.7l5.2 -2.6l5.1 -2.6l5.2 -2.5l5 -2.6l5.1 -2.5l5 -2.5l4.9 -2.4l4.9 -2.5l4.9 -2.4l4.8 -2.4l4.8 -2.4l4.8 -2.4l4.7 -2.4l4.6 -2.3l-4.1 -1.1l-4.7 2.3l-4.7 2.4l-4.7 2.4l-4.8 2.4l-4.8 2.4l-4.9 2.4l-4.9 2.5l-5 2.5l-5 2.5l-5 2.5l-5.1 2.5l-5.1 2.6l-5.2 2.6l-5.2 2.6l-5.2 2.6l-5.3 2.7l-5.4 2.7l-5.4 2.7l-5.4 2.7l-5.5 2.7l-5.5 2.8l-5.6 2.8l-5.6 2.8l-5.7 2.9l-5.8 2.9l-5.7 2.9l-5.9 2.9l-5.9 2.9z" fill="url(#a15)" stroke="url(#a15)"/><path d="M151.6 118.5l5.9 -2.9l5.9 -2.9l5.8 -2.9l5.7 -2.9l5.7 -2.8l5.7 -2.9l5.6 -2.8l5.5 -2.7l5.5 -2.8l5.4 -2.7l5.4 -2.7l5.4 -2.6l5.3 -2.7l5.2 -2.6l5.2 -2.6l5.2 -2.6l5.1 -2.5l5.1 -2.6l5 -2.5l5 -2.5l5 -2.5l4.9 -2.4l4.9 -2.4l4.8 -2.4l4.8 -2.4l4.7 -2.4l4.7 -2.4l4.7 -2.3l-4.2 -1.1l-4.6 2.3l-4.7 2.4l-4.8 2.4l-4.8 2.4l-4.8 2.4l-4.9 2.4l-4.9 2.5l-4.9 2.4l-5 2.5l-5.1 2.5l-5 2.6l-5.2 2.5l-5.1 2.6l-5.2 2.6l-5.3 2.7l-5.3 2.6l-5.3 2.7l-5.4 2.7l-5.5 2.7l-5.5 2.8l-5.5 2.7l-5.6 2.8l-5.6 2.8l-5.7 2.9l-5.8 2.9l-5.7 2.9l-5.9 2.9l-5.9 2.9z" fill="url(#a14)" stroke="url(#a14)"/><path d="M155.8 119.5l5.9 -2.9l5.9 -2.9l5.8 -2.9l5.7 -2.9l5.7 -2.8l5.6 -2.8l5.6 -2.8l5.6 -2.8l5.5 -2.7l5.4 -2.7l5.4 -2.7l5.4 -2.7l5.3 -2.6l5.2 -2.7l5.2 -2.5l5.2 -2.6l5.1 -2.6l5.1 -2.5l5 -2.5l5 -2.5l5 -2.5l4.9 -2.4l4.9 -2.4l4.8 -2.4l4.8 -2.4l4.7 -2.4l4.7 -2.3l4.7 -2.4l-4.2 -1.1l-4.7 2.3l-4.7 2.4l-4.7 2.4l-4.8 2.4l-4.8 2.4l-4.9 2.4l-4.9 2.4l-5 2.5l-5 2.5l-5 2.5l-5.1 2.6l-5.1 2.5l-5.2 2.6l-5.2 2.6l-5.2 2.6l-5.3 2.7l-5.4 2.6l-5.4 2.7l-5.4 2.7l-5.5 2.8l-5.5 2.7l-5.6 2.8l-5.7 2.9l-5.7 2.8l-5.7 2.9l-5.8 2.9l-5.9 2.9l-5.9 2.9z" fill="url(#a13)" stroke="url(#a13)"/><path d="M160 120.5l5.9 -2.9l5.9 -2.9l5.8 -2.9l5.7 -2.9l5.7 -2.8l5.7 -2.8l5.6 -2.8l5.5 -2.7l5.5 -2.8l5.4 -2.7l5.4 -2.7l5.4 -2.6l5.3 -2.7l5.3 -2.6l5.2 -2.6l5.1 -2.5l5.2 -2.6l5 -2.5l5.1 -2.5l5 -2.5l4.9 -2.5l4.9 -2.4l4.9 -2.4l4.8 -2.4l4.8 -2.4l4.7 -2.4l4.7 -2.3l4.7 -2.3l-4.2 -1.2l-4.7 2.4l-4.7 2.3l-4.7 2.4l-4.8 2.4l-4.8 2.4l-4.9 2.4l-4.9 2.4l-5 2.5l-5 2.5l-5 2.5l-5.1 2.5l-5.1 2.6l-5.2 2.6l-5.2 2.5l-5.2 2.7l-5.3 2.6l-5.4 2.7l-5.4 2.7l-5.4 2.7l-5.5 2.7l-5.6 2.8l-5.6 2.8l-5.6 2.8l-5.7 2.8l-5.7 2.9l-5.8 2.9l-5.9 2.9l-5.9 2.9z" fill="url(#a12)" stroke="url(#a12)"/><path d="M164.2 121.6l5.9 -3l5.9 -2.9l5.8 -2.9l5.7 -2.8l5.8 -2.9l5.6 -2.8l5.6 -2.7l5.6 -2.8l5.4 -2.7l5.5 -2.7l5.4 -2.7l5.3 -2.7l5.4 -2.6l5.2 -2.6l5.2 -2.6l5.2 -2.6l5.1 -2.5l5.1 -2.5l5 -2.5l5 -2.5l5 -2.5l4.9 -2.4l4.8 -2.4l4.9 -2.4l4.7 -2.4l4.8 -2.3l4.7 -2.4l4.6 -2.3l-4.2 -1.1l-4.7 2.3l-4.7 2.3l-4.7 2.4l-4.8 2.4l-4.8 2.4l-4.9 2.4l-4.9 2.4l-4.9 2.5l-5 2.5l-5.1 2.5l-5 2.5l-5.2 2.6l-5.1 2.5l-5.2 2.6l-5.3 2.6l-5.3 2.7l-5.4 2.6l-5.4 2.7l-5.4 2.7l-5.5 2.8l-5.5 2.7l-5.6 2.8l-5.7 2.8l-5.7 2.8l-5.7 2.9l-5.8 2.9l-5.9 2.9l-5.9 2.9z" fill="url(#a11)" stroke="url(#a11)"/><path d="M168.5 122.6l5.9 -3l5.9 -2.9l5.8 -2.8l5.7 -2.9l5.7 -2.8l5.7 -2.8l5.6 -2.8l5.5 -2.7l5.5 -2.8l5.5 -2.7l5.4 -2.6l5.3 -2.7l5.3 -2.6l5.3 -2.6l5.2 -2.6l5.2 -2.6l5.1 -2.5l5.1 -2.5l5 -2.5l5 -2.5l4.9 -2.4l5 -2.5l4.8 -2.4l4.8 -2.4l4.8 -2.3l4.8 -2.4l4.7 -2.3l4.6 -2.3l-4.3 -1.2l-4.6 2.3l-4.7 2.4l-4.8 2.3l-4.7 2.4l-4.9 2.4l-4.8 2.4l-4.9 2.4l-5 2.5l-5 2.5l-5 2.5l-5.1 2.5l-5.1 2.5l-5.2 2.6l-5.2 2.6l-5.2 2.6l-5.4 2.6l-5.3 2.7l-5.4 2.7l-5.5 2.7l-5.4 2.7l-5.6 2.8l-5.6 2.7l-5.6 2.8l-5.8 2.9l-5.7 2.8l-5.8 2.9l-5.9 2.9l-5.9 3z" fill="url(#a10)" stroke="url(#a10)"/><path d="M172.8 123.6l5.9 -2.9l5.9 -2.9l5.8 -2.9l5.7 -2.8l5.7 -2.9l5.7 -2.8l5.6 -2.7l5.5 -2.8l5.5 -2.7l5.5 -2.7l5.4 -2.7l5.4 -2.6l5.3 -2.6l5.2 -2.6l5.2 -2.6l5.2 -2.6l5.1 -2.5l5.1 -2.5l5 -2.5l5 -2.5l5 -2.4l4.9 -2.4l4.8 -2.4l4.8 -2.4l4.8 -2.4l4.8 -2.3l4.7 -2.3l4.6 -2.4l-4.3 -1.1l-4.6 2.3l-4.7 2.3l-4.8 2.4l-4.8 2.3l-4.8 2.4l-4.8 2.4l-5 2.5l-4.9 2.4l-5 2.5l-5 2.5l-5.1 2.5l-5.1 2.5l-5.2 2.6l-5.2 2.6l-5.3 2.6l-5.3 2.6l-5.3 2.7l-5.4 2.6l-5.5 2.7l-5.5 2.8l-5.5 2.7l-5.6 2.8l-5.7 2.8l-5.7 2.8l-5.7 2.9l-5.8 2.8l-5.9 2.9l-5.9 3z" fill="url(#a9)" stroke="url(#a9)"/><path d="M177.1 124.7l5.9 -3l5.9 -2.9l5.8 -2.8l5.8 -2.9l5.7 -2.8l5.6 -2.8l5.6 -2.8l5.6 -2.7l5.5 -2.7l5.5 -2.7l5.4 -2.7l5.3 -2.6l5.3 -2.6l5.3 -2.6l5.2 -2.6l5.2 -2.6l5.1 -2.5l5 -2.5l5.1 -2.5l5 -2.4l4.9 -2.5l4.9 -2.4l4.9 -2.4l4.8 -2.4l4.8 -2.3l4.7 -2.4l4.7 -2.3l4.7 -2.3l-4.4 -1.2l-4.6 2.4l-4.7 2.3l-4.8 2.3l-4.8 2.4l-4.8 2.4l-4.8 2.4l-4.9 2.4l-5 2.4l-5 2.5l-5 2.5l-5.1 2.5l-5.1 2.5l-5.2 2.6l-5.2 2.6l-5.2 2.6l-5.3 2.6l-5.4 2.6l-5.4 2.7l-5.5 2.7l-5.5 2.7l-5.5 2.8l-5.6 2.7l-5.7 2.8l-5.7 2.9l-5.7 2.8l-5.8 2.9l-5.9 2.9l-5.9 2.9z" fill="url(#a8)" stroke="url(#a8)"/><path d="M181.4 125.7l6 -2.9l5.9 -2.9l5.8 -2.9l5.7 -2.8l5.8 -2.8l5.6 -2.8l5.6 -2.8l5.6 -2.7l5.5 -2.7l5.4 -2.7l5.4 -2.7l5.4 -2.6l5.3 -2.6l5.3 -2.6l5.2 -2.6l5.1 -2.5l5.2 -2.6l5 -2.5l5.1 -2.4l4.9 -2.5l5 -2.4l4.9 -2.4l4.8 -2.4l4.9 -2.4l4.7 -2.4l4.8 -2.3l4.7 -2.3l4.6 -2.3l-4.3 -1.2l-4.7 2.3l-4.7 2.3l-4.7 2.4l-4.8 2.3l-4.8 2.4l-4.9 2.4l-4.9 2.4l-4.9 2.5l-5 2.4l-5.1 2.5l-5 2.5l-5.1 2.5l-5.2 2.6l-5.2 2.6l-5.3 2.6l-5.3 2.6l-5.3 2.6l-5.4 2.7l-5.5 2.7l-5.5 2.7l-5.6 2.7l-5.6 2.8l-5.6 2.8l-5.7 2.8l-5.8 2.9l-5.8 2.8l-5.9 2.9l-5.9 3z" fill="url(#a7)" stroke="url(#a7)"/><path d="M185.8 126.8l6 -2.9l5.9 -2.9l5.8 -2.9l5.8 -2.8l5.7 -2.9l5.6 -2.7l5.6 -2.8l5.6 -2.7l5.5 -2.7l5.5 -2.7l5.4 -2.7l5.3 -2.6l5.3 -2.6l5.3 -2.6l5.2 -2.6l5.2 -2.5l5.1 -2.5l5 -2.5l5.1 -2.5l5 -2.5l4.9 -2.4l4.9 -2.4l4.9 -2.4l4.8 -2.3l4.7 -2.4l4.8 -2.3l4.7 -2.3l4.6 -2.3l-4.4 -1.2l-4.6 2.3l-4.7 2.3l-4.8 2.3l-4.7 2.4l-4.9 2.4l-4.8 2.4l-4.9 2.4l-5 2.4l-4.9 2.5l-5.1 2.4l-5 2.5l-5.2 2.6l-5.1 2.5l-5.2 2.6l-5.3 2.6l-5.3 2.6l-5.4 2.6l-5.4 2.7l-5.4 2.7l-5.5 2.7l-5.6 2.7l-5.6 2.8l-5.6 2.8l-5.8 2.8l-5.7 2.8l-5.8 2.9l-5.9 2.9l-6 2.9z" fill="url(#a6)" stroke="url(#a6)"/><path d="M190.3 127.8l5.9 -2.9l5.9 -2.9l5.8 -2.8l5.8 -2.9l5.7 -2.8l5.7 -2.7l5.6 -2.8l5.5 -2.7l5.6 -2.7l5.4 -2.7l5.4 -2.7l5.4 -2.6l5.3 -2.6l5.2 -2.6l5.2 -2.5l5.2 -2.6l5.1 -2.5l5.1 -2.5l5 -2.5l5 -2.4l4.9 -2.4l4.9 -2.4l4.9 -2.4l4.8 -2.4l4.8 -2.3l4.7 -2.3l4.7 -2.3l4.6 -2.3l-4.4 -1.2l-4.6 2.3l-4.7 2.3l-4.8 2.3l-4.7 2.4l-4.8 2.3l-4.9 2.4l-4.9 2.4l-4.9 2.4l-5 2.5l-5.1 2.5l-5 2.5l-5.1 2.5l-5.2 2.5l-5.2 2.6l-5.3 2.6l-5.3 2.6l-5.3 2.6l-5.4 2.7l-5.5 2.7l-5.5 2.7l-5.6 2.7l-5.6 2.8l-5.6 2.7l-5.7 2.9l-5.8 2.8l-5.8 2.9l-5.9 2.9l-6 2.9z" fill="url(#a5)" stroke="url(#a5)"/><path d="M194.8 128.9l5.9 -2.9l5.9 -2.9l5.8 -2.8l5.8 -2.9l5.7 -2.8l5.7 -2.7l5.6 -2.8l5.5 -2.7l5.5 -2.7l5.5 -2.7l5.4 -2.6l5.4 -2.7l5.3 -2.6l5.2 -2.6l5.2 -2.5l5.2 -2.5l5.1 -2.5l5.1 -2.5l5 -2.5l5 -2.4l4.9 -2.5l4.9 -2.4l4.9 -2.3l4.8 -2.4l4.7 -2.3l4.8 -2.3l4.6 -2.3l4.7 -2.3l-4.5 -1.2l-4.6 2.3l-4.7 2.3l-4.7 2.3l-4.8 2.3l-4.8 2.4l-4.9 2.4l-4.9 2.4l-4.9 2.4l-5 2.4l-5 2.5l-5.1 2.5l-5.1 2.5l-5.2 2.6l-5.2 2.5l-5.2 2.6l-5.3 2.6l-5.4 2.6l-5.4 2.7l-5.4 2.7l-5.6 2.7l-5.5 2.7l-5.6 2.8l-5.7 2.7l-5.7 2.8l-5.8 2.9l-5.8 2.8l-5.9 2.9l-5.9 2.9z" fill="url(#a4)" stroke="url(#a4)"/><path d="M199.3 130l5.9 -2.9l5.9 -2.9l5.8 -2.8l5.8 -2.9l5.7 -2.8l5.7 -2.7l5.6 -2.8l5.6 -2.7l5.5 -2.7l5.4 -2.7l5.4 -2.6l5.4 -2.6l5.3 -2.6l5.2 -2.6l5.2 -2.6l5.2 -2.5l5.1 -2.5l5.1 -2.5l5 -2.4l5 -2.5l4.9 -2.4l4.9 -2.4l4.9 -2.3l4.8 -2.4l4.7 -2.3l4.8 -2.3l4.6 -2.3l4.7 -2.3l-4.5 -1.2l-4.7 2.3l-4.6 2.3l-4.8 2.3l-4.7 2.3l-4.8 2.4l-4.9 2.3l-4.9 2.4l-4.9 2.5l-5 2.4l-5 2.5l-5.1 2.5l-5.1 2.5l-5.2 2.5l-5.2 2.5l-5.2 2.6l-5.3 2.6l-5.4 2.7l-5.4 2.6l-5.5 2.7l-5.5 2.7l-5.5 2.7l-5.6 2.8l-5.7 2.7l-5.7 2.8l-5.8 2.9l-5.8 2.8l-5.9 2.9l-5.9 2.9z" fill="url(#a3)" stroke="url(#a3)"/><path d="M203.8 131.1l6 -2.9l5.8 -2.9l5.9 -2.8l5.8 -2.9l5.7 -2.8l5.6 -2.7l5.7 -2.8l5.5 -2.7l5.5 -2.7l5.5 -2.6l5.4 -2.7l5.3 -2.6l5.3 -2.6l5.3 -2.6l5.2 -2.5l5.2 -2.5l5.1 -2.5l5 -2.5l5.1 -2.5l4.9 -2.4l5 -2.4l4.9 -2.4l4.8 -2.4l4.8 -2.3l4.8 -2.3l4.7 -2.3l4.7 -2.3l4.6 -2.3l-4.5 -1.2l-4.7 2.3l-4.6 2.3l-4.8 2.3l-4.7 2.3l-4.8 2.4l-4.9 2.3l-4.9 2.4l-4.9 2.4l-5 2.5l-5 2.4l-5.1 2.5l-5.1 2.5l-5.2 2.5l-5.2 2.6l-5.2 2.6l-5.3 2.6l-5.4 2.6l-5.4 2.6l-5.4 2.7l-5.5 2.7l-5.6 2.7l-5.6 2.8l-5.7 2.7l-5.7 2.8l-5.8 2.9l-5.8 2.8l-5.9 2.9l-5.9 2.9z" fill="url(#a2)" stroke="url(#a2)"/><path d="M208.4 132.2l5.9 -2.9l5.9 -2.9l5.9 -2.8l5.8 -2.8l5.7 -2.8l5.6 -2.8l5.7 -2.7l5.5 -2.7l5.5 -2.7l5.5 -2.7l5.4 -2.6l5.3 -2.6l5.3 -2.6l5.3 -2.6l5.2 -2.5l5.2 -2.6l5.1 -2.5l5 -2.4l5 -2.5l5 -2.4l4.9 -2.4l4.9 -2.4l4.9 -2.4l4.8 -2.3l4.7 -2.3l4.7 -2.3l4.7 -2.3l4.6 -2.3l-4.5 -1.2l-4.6 2.3l-4.7 2.3l-4.7 2.3l-4.8 2.3l-4.8 2.3l-4.8 2.4l-4.9 2.4l-5 2.4l-4.9 2.4l-5.1 2.5l-5 2.5l-5.1 2.5l-5.2 2.5l-5.2 2.5l-5.3 2.6l-5.3 2.6l-5.3 2.6l-5.4 2.7l-5.5 2.6l-5.5 2.7l-5.5 2.7l-5.7 2.8l-5.6 2.7l-5.7 2.8l-5.8 2.9l-5.9 2.8l-5.8 2.9l-6 2.9z" fill="url(#a1)" stroke="url(#a1)"/><path d="M213 133.3l6 -2.9l5.9 -2.8l5.8 -2.9l5.8 -2.8l5.7 -2.8l5.7 -2.8l5.6 -2.7l5.5 -2.7l5.6 -2.7l5.4 -2.6l5.4 -2.7l5.4 -2.6l5.3 -2.6l5.2 -2.5l5.2 -2.6l5.2 -2.5l5.1 -2.5l5 -2.4l5.1 -2.5l4.9 -2.4l5 -2.4l4.8 -2.4l4.9 -2.3l4.8 -2.4l4.7 -2.3l4.7 -2.3l4.7 -2.3l4.6 -2.2l-4.6 -1.3l-4.6 2.3l-4.7 2.3l-4.7 2.3l-4.7 2.3l-4.8 2.3l-4.9 2.4l-4.9 2.4l-4.9 2.4l-5 2.4l-5 2.5l-5 2.4l-5.1 2.5l-5.2 2.6l-5.2 2.5l-5.3 2.6l-5.3 2.6l-5.3 2.6l-5.4 2.6l-5.5 2.7l-5.5 2.7l-5.5 2.7l-5.7 2.7l-5.6 2.8l-5.7 2.8l-5.8 2.8l-5.9 2.8l-5.9 2.9l-5.9 2.9z" fill="url(#a0)" stroke="url(#a0)"/></g><g fill="none" stroke="#000" stroke-width="0.7" stroke-opacity="0.2"><path d="M213 133.3l-40.2 -9.7l-37.5 -9l-34.8 -8.4l-32.6 -7.9M226.3 126.9l-40.3 -9.8l-37.6 -9.1l-35 -8.5l-32.7 -7.9M239.2 120.5l-40.3 -9.8l-37.6 -9.2l-35.1 -8.5l-32.8 -8M251.9 114.4l-40.4 -10l-37.6 -9.2l-35.2 -8.7l-32.9 -8M264.3 108.3l-40.4 -10l-37.7 -9.3l-35.2 -8.8l-33.1 -8.1M276.5 102.4l-40.4 -10.1l-37.8 -9.4l-35.3 -8.8l-33.1 -8.3M288.4 96.6l-40.4 -10.2l-37.8 -9.5l-35.3 -8.9l-33.2 -8.4M300 90.9l-40.3 -10.3l-37.8 -9.6l-35.4 -9l-33.3 -8.4M311.4 85.4l-40.3 -10.4l-37.8 -9.7l-35.4 -9.1l-33.4 -8.6M322.6 79.9l-40.3 -10.5l-37.8 -9.8l-35.4 -9.2l-33.4 -8.6M333.6 74.6l-40.3 -10.6l-37.7 -9.9l-35.5 -9.3l-33.4 -8.8M344.3 69.3l-40.2 -10.6l-37.7 -10.1l-35.5 -9.4l-33.5 -8.9M354.8 64.2l-40.1 -10.8l-37.7 -10.1l-35.5 -9.5l-33.5 -9"/><path d="M216.4 131.7l-40.3 -9.7l-37.5 -9.1l-34.9 -8.4l-32.6 -7.9M229.5 125.3l-40.3 -9.8l-37.5 -9.1l-35 -8.5l-32.8 -8M242.4 119l-40.3 -9.9l-37.6 -9.2l-35.2 -8.5l-32.8 -8.1M255 112.8l-40.3 -9.9l-37.7 -9.3l-35.2 -8.6l-33 -8.2M267.4 106.8l-40.4 -10l-37.7 -9.4l-35.3 -8.7l-33.1 -8.2M279.5 100.9l-40.4 -10.1l-37.8 -9.4l-35.3 -8.9l-33.1 -8.3M291.3 95.2l-40.4 -10.2l-37.7 -9.6l-35.4 -8.9l-33.2 -8.4M302.9 89.5l-40.4 -10.3l-37.7 -9.6l-35.5 -9l-33.2 -8.5M314.3 84l-40.4 -10.4l-37.8 -9.7l-35.4 -9.2l-33.4 -8.6M325.4 78.6l-40.3 -10.5l-37.8 -9.9l-35.5 -9.2l-33.3 -8.7M336.3 73.3l-40.3 -10.6l-37.7 -10l-35.5 -9.3l-33.4 -8.8M347 68l-40.2 -10.7l-37.8 -10l-35.5 -9.5l-33.4 -8.9M357.4 62.9l-40.1 -10.8l-37.7 -10.1l-35.5 -9.6l-33.4 -9"/><path d="M219.7 130.1l-40.3 -9.8l-37.5 -9l-34.9 -8.5l-32.7 -7.9M232.8 123.7l-40.4 -9.8l-37.5 -9.2l-35 -8.5l-32.8 -7.9M245.6 117.4l-40.4 -9.8l-37.6 -9.3l-35.1 -8.6l-32.9 -8M258.2 111.3l-40.4 -9.9l-37.7 -9.3l-35.2 -8.7l-33 -8.2M270.4 105.3l-40.4 -10l-37.7 -9.4l-35.3 -8.8l-33.1 -8.2M282.5 99.5l-40.4 -10.2l-37.8 -9.4l-35.3 -8.9l-33.2 -8.3M294.2 93.7l-40.4 -10.2l-37.7 -9.5l-35.4 -9l-33.3 -8.4M305.8 88.1l-40.4 -10.3l-37.8 -9.7l-35.4 -9l-33.3 -8.5M317.1 82.6l-40.4 -10.4l-37.7 -9.8l-35.5 -9.1l-33.4 -8.6M328.1 77.2l-40.3 -10.5l-37.7 -9.9l-35.5 -9.2l-33.4 -8.7M339 71.9l-40.3 -10.6l-37.7 -9.9l-35.5 -9.4l-33.4 -8.8M349.6 66.8l-40.2 -10.8l-37.7 -10l-35.5 -9.5l-33.4 -8.9M360 61.7l-40.1 -10.9l-37.7 -10.1l-35.5 -9.6l-33.4 -9.1"/><path d="M223 128.5l-40.3 -9.8l-37.5 -9.1l-35 -8.4l-32.7 -7.9M236 122.1l-40.3 -9.8l-37.6 -9.2l-35.1 -8.5l-32.8 -8M248.8 115.9l-40.4 -9.9l-37.6 -9.2l-35.2 -8.7l-32.9 -8M261.3 109.8l-40.4 -10l-37.7 -9.3l-35.3 -8.7l-33 -8.2M273.5 103.9l-40.4 -10.1l-37.8 -9.4l-35.3 -8.8l-33.1 -8.3M285.4 98l-40.4 -10.1l-37.7 -9.5l-35.4 -8.9l-33.2 -8.4M297.1 92.3l-40.3 -10.2l-37.8 -9.6l-35.4 -9l-33.3 -8.4M308.6 86.7l-40.3 -10.3l-37.8 -9.7l-35.5 -9.1l-33.3 -8.5M319.8 81.3l-40.3 -10.5l-37.7 -9.8l-35.5 -9.2l-33.4 -8.6M330.9 75.9l-40.3 -10.5l-37.8 -9.9l-35.5 -9.3l-33.4 -8.8M341.7 70.6l-40.3 -10.6l-37.7 -10l-35.5 -9.4l-33.4 -8.9M352.2 65.5l-40.1 -10.8l-37.7 -10.1l-35.5 -9.5l-33.5 -8.9"/><path d="M213 133.3l40.5 -19.7l37.8 -18.4l35.5 -17.3l33.2 -16.2M199.8 130.1l40.4 -19.8l37.9 -18.5l35.5 -17.3l33.3 -16.4M186.9 127l40.4 -19.8l37.8 -18.6l35.6 -17.5l33.4 -16.4M174.3 124l40.4 -19.9l37.8 -18.7l35.5 -17.6l33.5 -16.5M162 121l40.3 -20l37.8 -18.8l35.5 -17.6l33.5 -16.7M150 118.1l40.2 -20.1l37.8 -18.8l35.5 -17.8l33.5 -16.7M138.2 115.3l40.2 -20.2l37.7 -18.9l35.5 -17.9l33.6 -16.8M126.7 112.5l40.1 -20.2l37.7 -19.1l35.5 -17.9l33.5 -17M115.5 109.8l39.9 -20.3l37.7 -19.2l35.5 -18l33.5 -17.1M104.5 107.2l39.9 -20.4l37.5 -19.3l35.5 -18.1l33.5 -17.2M93.8 104.6l39.7 -20.5l37.5 -19.3l35.4 -18.3l33.5 -17.3M83.2 102l39.7 -20.5l37.3 -19.4l35.4 -18.4l33.5 -17.4M72.9 99.6l39.5 -20.7l37.3 -19.5l35.3 -18.5l33.5 -17.5"/><path d="M209.7 132.5l40.4 -19.7l37.9 -18.5l35.4 -17.3l33.3 -16.2M196.6 129.4l40.4 -19.9l37.8 -18.5l35.5 -17.4l33.4 -16.3M183.7 126.3l40.4 -19.9l37.9 -18.6l35.5 -17.5l33.4 -16.5M171.2 123.2l40.3 -19.9l37.9 -18.7l35.5 -17.6l33.5 -16.6M159 120.3l40.2 -20l37.8 -18.8l35.6 -17.7l33.5 -16.7M147 117.4l40.2 -20.1l37.8 -18.9l35.5 -17.8l33.5 -16.7M135.3 114.6l40.1 -20.2l37.8 -19l35.5 -17.9l33.5 -16.8M123.9 111.8l40 -20.2l37.7 -19.1l35.5 -18l33.5 -17M112.7 109.1l40 -20.3l37.6 -19.2l35.4 -18l33.6 -17.1M101.8 106.5l39.8 -20.4l37.5 -19.3l35.5 -18.2l33.5 -17.1M91.1 103.9l39.7 -20.5l37.5 -19.3l35.4 -18.3l33.5 -17.3M80.6 101.4l39.6 -20.6l37.4 -19.4l35.3 -18.4l33.5 -17.4M70.4 98.9l39.5 -20.6l37.2 -19.6l35.3 -18.4l33.5 -17.6"/><path d="M206.4 131.7l40.4 -19.7l37.9 -18.5l35.4 -17.3l33.3 -16.3M193.3 128.6l40.4 -19.9l37.9 -18.5l35.5 -17.4l33.4 -16.4M180.6 125.5l40.3 -19.9l37.9 -18.6l35.5 -17.6l33.4 -16.4M168.1 122.5l40.3 -20l37.9 -18.7l35.5 -17.6l33.5 -16.6M156 119.6l40.2 -20.1l37.8 -18.8l35.5 -17.7l33.5 -16.7M144.1 116.7l40.1 -20.1l37.8 -18.9l35.5 -17.9l33.6 -16.7M132.4 113.9l40.1 -20.2l37.7 -19l35.6 -17.9l33.5 -16.9M121.1 111.2l40 -20.3l37.6 -19.1l35.5 -18l33.6 -17M110 108.5l39.9 -20.4l37.6 -19.2l35.4 -18.1l33.6 -17.1M99.1 105.9l39.8 -20.5l37.5 -19.3l35.4 -18.2l33.6 -17.2M88.5 103.3l39.6 -20.5l37.5 -19.4l35.4 -18.3l33.5 -17.3M78.1 100.8l39.5 -20.6l37.4 -19.5l35.3 -18.4l33.5 -17.4M67.9 98.3l39.4 -20.7l37.3 -19.5l35.2 -18.5l33.5 -17.6"/><path d="M203.1 130.9l40.4 -19.7l37.9 -18.5l35.4 -17.4l33.4 -16.3M190.1 127.8l40.4 -19.8l37.9 -18.6l35.5 -17.5l33.4 -16.4M177.4 124.7l40.4 -19.9l37.8 -18.6l35.6 -17.6l33.4 -16.5M165.1 121.8l40.3 -20l37.8 -18.8l35.5 -17.6l33.5 -16.6M153 118.8l40.2 -20l37.8 -18.9l35.5 -17.7l33.5 -16.7M141.1 116l40.2 -20.2l37.7 -18.9l35.6 -17.8l33.5 -16.8M129.6 113.2l40.1 -20.2l37.6 -19l35.6 -18l33.5 -16.9M118.3 110.5l40 -20.3l37.6 -19.1l35.5 -18.1l33.5 -17M107.2 107.8l39.9 -20.4l37.6 -19.2l35.4 -18.1l33.6 -17.1M96.4 105.2l39.8 -20.4l37.5 -19.3l35.4 -18.3l33.5 -17.2M85.8 102.7l39.7 -20.6l37.4 -19.4l35.4 -18.3l33.5 -17.4M75.5 100.2l39.5 -20.7l37.3 -19.4l35.4 -18.5l33.4 -17.4"/></g><path d="M67.9 98.3L213.3 22L360 61.7L213 133.3Z" fill="url(#ha)" fill-opacity="0.88"/><circle cx="67.9" cy="98.3" r="2" fill="#ffb4b4" stroke="#b85050" stroke-width=".7"/><circle cx="213.3" cy="22" r="2" fill="#ffb4b4" stroke="#b85050" stroke-width=".7"/><circle cx="360" cy="61.7" r="2" fill="#ffb4b4" stroke="#b85050" stroke-width=".7"/><circle cx="213" cy="133.3" r="2" fill="#ffb4b4" stroke="#b85050" stroke-width=".7"/><circle cx="213.2" cy="75.4" r="2.1" fill="#d01018" stroke="#700" stroke-width=".6"/><text transform="translate(311.5 272.5) rotate(-23.1)" font-family="Liberation Sans,sans-serif" font-weight="bold" font-size="11.9" text-anchor="middle">A: Days of fermentation</text><text transform="translate(115.5 270.7) rotate(22)" font-family="Liberation Sans,sans-serif" font-weight="bold" font-size="12.25" text-anchor="middle">B: Duration of incubation</text><text transform="translate(110 284.5) rotate(22)" font-family="Liberation Sans,sans-serif" font-weight="bold" font-size="12.25" text-anchor="middle">(hour)</text><text transform="translate(30.4 112) rotate(-90)" font-family="Liberation Serif,serif" font-weight="bold" font-size="13.9" text-anchor="middle">R: Absorbance (nm)</text><text x="4" y="21.3" font-family="Liberation Sans,sans-serif" font-weight="bold" font-size="17.5">(a)</text></g>
<g><path d="M73.5 493.8L208.4 460L342.4 493.1M72.7 470.2L208.5 438.6L343.5 469.6M71.8 446.6L208.6 417.2L344.6 446.1M70.9 423.1L208.7 395.8L345.7 422.6M70 399.5L208.7 374.4L346.7 399M69.2 376L208.8 353L347.8 375.5M68.3 352.4L208.9 331.6L348.9 352M73.5 493.8L68.3 352.4M92.8 488.9L88.4 349.4M112.1 484.1L108.5 346.5M131.4 479.3L128.6 343.5M150.6 474.5L148.6 340.5M169.9 469.6L168.7 337.5M189.2 464.8L188.8 334.6M208.4 460L208.9 331.6M342.4 493.1L348.9 352M308.9 484.8L313.9 346.9M275.4 476.6L278.9 341.8M241.9 468.3L243.9 336.7M208.4 460L208.9 331.6M75.2 538.3L68.3 352.4M208.3 500.4L208.9 331.6M340.4 537.6L348.9 352" fill="none" stroke="#3c3c3c" stroke-width=".9"/><path d="M75.2 538.3L208.3 500.4L340.4 537.6L209.5 591.1Z" fill="#ff0" stroke="#222" stroke-width="1"/><path d="M146.7 566.6L153.6 566.4L161.1 566.2L169.1 565.9L176.5 565.5L182.7 565.1L189.8 564.7L198 564.1L204 563.7L211.7 563.1L218.6 562.5L225.2 561.9L232.8 561.3L239.1 560.7L246.7 559.9L253.1 559.3L260.3 558.5L267.4 557.8L273.6 557.1L281.5 556.2L286.7 555.6L294.4 554.7L301.2 553.9" fill="none" stroke="#84e838" stroke-width="1"/><path d="M207.4 499.5L207.7 501.2L208.3 502.9L209.4 505L210.6 506.7L212.7 508.8L214.7 510.3L217.7 512.2L222.5 514.4L226.8 516L231.8 517.4L239 519L245.1 520.1L251.7 521L258.7 521.8L263.7 522.2L271.5 522.8L277 523L283 523.3L289.9 523.4" fill="none" stroke="#f0601a" stroke-width="1"/><path d="M209.5 591.1L210.1 592.9" stroke="#111" stroke-width="1.2"/><text x="212.5" y="602.1" font-family="Liberation Serif,serif" font-weight="bold" font-size="13.3" text-anchor="middle">7</text><path d="M228.2 583.5L228.8 585.3" stroke="#111" stroke-width="1.2"/><text x="231.2" y="595.4" font-family="Liberation Serif,serif" font-weight="bold" font-size="13.3" text-anchor="middle">9</text><path d="M246.9 575.8L247.5 577.6" stroke="#111" stroke-width="1.2"/><text x="249.4" y="589.3" font-family="Liberation Serif,serif" font-weight="bold" font-size="13.3" text-anchor="middle">11</text><path d="M265.6 568.2L266.2 570" stroke="#111" stroke-width="1.2"/><text x="268.1" y="581.6" font-family="Liberation Serif,serif" font-weight="bold" font-size="13.3" text-anchor="middle">13</text><path d="M284.3 560.5L284.9 562.3" stroke="#111" stroke-width="1.2"/><text x="287.3" y="574.6" font-family="Liberation Serif,serif" font-weight="bold" font-size="13.3" text-anchor="middle">15</text><path d="M303 552.9L303.6 554.7" stroke="#111" stroke-width="1.2"/><text x="306" y="566.4" font-family="Liberation Serif,serif" font-weight="bold" font-size="13.3" text-anchor="middle">17</text><path d="M321.7 545.2L322.3 547" stroke="#111" stroke-width="1.2"/><text x="323.2" y="559.9" font-family="Liberation Serif,serif" font-weight="bold" font-size="13.3" text-anchor="middle">19</text><path d="M340.4 537.6L341 539.4" stroke="#111" stroke-width="1.2"/><text x="342.9" y="552.1" font-family="Liberation Serif,serif" font-weight="bold" font-size="13.3" text-anchor="middle">21</text><path d="M209.5 591.1L208.9 592.9" stroke="#111" stroke-width="1.2"/><text x="202" y="603.9" font-family="Liberation Serif,serif" font-weight="bold" font-size="13.3" text-anchor="middle">5</text><path d="M175.9 577.9L175.3 579.7" stroke="#111" stroke-width="1.2"/><text x="164.7" y="589.2" font-family="Liberation Serif,serif" font-weight="bold" font-size="13.3" text-anchor="middle">10</text><path d="M142.3 564.7L141.8 566.5" stroke="#111" stroke-width="1.2"/><text x="130.8" y="574" font-family="Liberation Serif,serif" font-weight="bold" font-size="13.3" text-anchor="middle">15</text><path d="M108.8 551.5L108.2 553.3" stroke="#111" stroke-width="1.2"/><text x="96.1" y="561.8" font-family="Liberation Serif,serif" font-weight="bold" font-size="13.3" text-anchor="middle">20</text><path d="M75.2 538.3L74.6 540.1" stroke="#111" stroke-width="1.2"/><text x="64.5" y="544.4" font-family="Liberation Serif,serif" font-weight="bold" font-size="13.3" text-anchor="middle">25</text><text x="67.9" y="498.9" font-family="Liberation Serif,serif" font-weight="bold" font-size="13.4" text-anchor="end">0.2</text><path d="M71 494.1L73.5 493.8" stroke="#222" stroke-width="1"/><text x="67.4" y="475.3" font-family="Liberation Serif,serif" font-weight="bold" font-size="13.4" text-anchor="end">0.3</text><path d="M70.2 470.5L72.7 470.2" stroke="#222" stroke-width="1"/><text x="66.9" y="451.8" font-family="Liberation Serif,serif" font-weight="bold" font-size="13.4" text-anchor="end">0.4</text><path d="M69.3 446.9L71.8 446.6" stroke="#222" stroke-width="1"/><text x="66.3" y="428.2" font-family="Liberation Serif,serif" font-weight="bold" font-size="13.4" text-anchor="end">0.5</text><path d="M68.4 423.4L70.9 423.1" stroke="#222" stroke-width="1"/><text x="65.8" y="404.7" font-family="Liberation Serif,serif" font-weight="bold" font-size="13.4" text-anchor="end">0.6</text><path d="M67.5 399.8L70 399.5" stroke="#222" stroke-width="1"/><text x="65.2" y="381.1" font-family="Liberation Serif,serif" font-weight="bold" font-size="13.4" text-anchor="end">0.7</text><path d="M66.7 376.3L69.2 376" stroke="#222" stroke-width="1"/><text x="64.7" y="357.5" font-family="Liberation Serif,serif" font-weight="bold" font-size="13.4" text-anchor="end">0.8</text><path d="M65.8 352.7L68.3 352.4" stroke="#222" stroke-width="1"/><g stroke-width=".7" stroke-linejoin="round"><path d="M74.1 424.1l5.5 -2.6l5.4 -2.5l5.4 -2.6l5.4 -2.6l5.3 -2.5l5.2 -2.6l5.3 -2.6l5.1 -2.5l5.2 -2.6l5 -2.5l5.1 -2.6l5 -2.5l4.9 -2.5l5 -2.6l4.8 -2.5l4.9 -2.5l4.8 -2.5l4.7 -2.6l4.8 -2.5l4.6 -2.5l4.7 -2.5l4.6 -2.5l4.6 -2.5l4.5 -2.5l4.5 -2.5l4.5 -2.5l4.4 -2.5l4.5 -2.5l-3.1 .6l-4.5 2.5l-4.4 2.5l-4.5 2.5l-4.5 2.5l-4.5 2.4l-4.6 2.5l-4.6 2.5l-4.6 2.5l-4.7 2.5l-4.7 2.5l-4.8 2.5l-4.8 2.5l-4.8 2.5l-4.9 2.6l-4.9 2.5l-5 2.5l-5 2.5l-5 2.5l-5.1 2.6l-5.1 2.5l-5.2 2.6l-5.2 2.5l-5.2 2.5l-5.3 2.6l-5.4 2.6l-5.4 2.5l-5.4 2.6l-5.5 2.6z" fill="url(#c39)" stroke="url(#c39)"/><path d="M77.1 424l5.5 -2.6l5.5 -2.6l5.4 -2.6l5.3 -2.6l5.3 -2.6l5.3 -2.5l5.2 -2.6l5.2 -2.6l5.1 -2.5l5.1 -2.6l5.1 -2.5l5 -2.6l4.9 -2.5l4.9 -2.6l4.9 -2.5l4.9 -2.6l4.8 -2.5l4.7 -2.5l4.8 -2.6l4.6 -2.5l4.7 -2.5l4.6 -2.5l4.6 -2.5l4.5 -2.5l4.5 -2.5l4.5 -2.5l4.5 -2.5l4.4 -2.5l-3.1 .4l-4.5 2.5l-4.4 2.5l-4.5 2.5l-4.5 2.5l-4.5 2.5l-4.6 2.5l-4.6 2.5l-4.7 2.5l-4.6 2.5l-4.8 2.5l-4.7 2.6l-4.8 2.5l-4.9 2.5l-4.8 2.5l-5 2.6l-4.9 2.5l-5 2.5l-5.1 2.6l-5 2.5l-5.2 2.6l-5.1 2.5l-5.3 2.6l-5.2 2.6l-5.3 2.5l-5.4 2.6l-5.4 2.6l-5.4 2.5l-5.5 2.6z" fill="url(#c38)" stroke="url(#c38)"/><path d="M80.2 424l5.5 -2.6l5.4 -2.6l5.4 -2.7l5.4 -2.6l5.3 -2.6l5.3 -2.5l5.2 -2.6l5.2 -2.6l5.1 -2.6l5.1 -2.6l5 -2.5l5.1 -2.6l4.9 -2.6l4.9 -2.5l4.9 -2.6l4.9 -2.5l4.8 -2.6l4.7 -2.5l4.8 -2.5l4.7 -2.6l4.6 -2.5l4.6 -2.5l4.6 -2.5l4.6 -2.6l4.5 -2.5l4.5 -2.5l4.4 -2.5l4.4 -2.5l-3.1 .4l-4.4 2.5l-4.5 2.5l-4.5 2.5l-4.5 2.5l-4.5 2.5l-4.6 2.5l-4.6 2.5l-4.7 2.5l-4.6 2.5l-4.8 2.6l-4.7 2.5l-4.8 2.5l-4.9 2.6l-4.9 2.5l-4.9 2.6l-4.9 2.5l-5 2.6l-5.1 2.5l-5.1 2.6l-5.1 2.5l-5.2 2.6l-5.2 2.6l-5.3 2.5l-5.3 2.6l-5.3 2.6l-5.4 2.6l-5.5 2.6l-5.5 2.6z" fill="url(#c37)" stroke="url(#c37)"/><path d="M83.3 424.1l5.5 -2.7l5.4 -2.6l5.4 -2.6l5.4 -2.6l5.3 -2.7l5.3 -2.6l5.2 -2.6l5.2 -2.6l5.1 -2.6l5.1 -2.6l5.1 -2.5l5 -2.6l4.9 -2.6l5 -2.6l4.9 -2.5l4.8 -2.6l4.8 -2.5l4.8 -2.6l4.7 -2.5l4.7 -2.6l4.7 -2.5l4.6 -2.5l4.6 -2.6l4.5 -2.5l4.5 -2.5l4.5 -2.5l4.5 -2.5l4.4 -2.5l-3.2 .2l-4.4 2.5l-4.4 2.5l-4.5 2.5l-4.5 2.5l-4.6 2.6l-4.6 2.5l-4.6 2.5l-4.6 2.5l-4.7 2.6l-4.8 2.5l-4.7 2.5l-4.8 2.6l-4.9 2.5l-4.9 2.6l-4.9 2.5l-4.9 2.6l-5.1 2.6l-5 2.5l-5.1 2.6l-5.1 2.6l-5.2 2.6l-5.2 2.6l-5.3 2.5l-5.3 2.6l-5.4 2.6l-5.4 2.7l-5.4 2.6l-5.5 2.6z" fill="url(#c36)" stroke="url(#c36)"/><path d="M86.3 424.2l5.6 -2.6l5.4 -2.7l5.4 -2.6l5.4 -2.6l5.3 -2.7l5.3 -2.6l5.2 -2.6l5.2 -2.6l5.2 -2.6l5 -2.6l5.1 -2.6l5 -2.6l5 -2.6l4.9 -2.6l4.9 -2.6l4.9 -2.5l4.8 -2.6l4.7 -2.6l4.8 -2.5l4.7 -2.6l4.6 -2.5l4.7 -2.5l4.5 -2.6l4.6 -2.5l4.5 -2.5l4.5 -2.6l4.4 -2.5l4.5 -2.5l-3.2 .2l-4.4 2.5l-4.5 2.5l-4.5 2.5l-4.5 2.5l-4.5 2.5l-4.6 2.6l-4.6 2.5l-4.7 2.5l-4.7 2.6l-4.7 2.5l-4.8 2.6l-4.8 2.5l-4.8 2.6l-4.9 2.5l-5 2.6l-4.9 2.6l-5 2.6l-5.1 2.5l-5.1 2.6l-5.1 2.6l-5.2 2.6l-5.2 2.6l-5.3 2.6l-5.3 2.7l-5.4 2.6l-5.4 2.6l-5.4 2.6l-5.5 2.7z" fill="url(#c35)" stroke="url(#c35)"/><path d="M89.5 424.5l5.5 -2.7l5.4 -2.6l5.5 -2.7l5.3 -2.6l5.4 -2.7l5.2 -2.6l5.3 -2.6l5.2 -2.7l5.1 -2.6l5.1 -2.6l5.1 -2.6l5 -2.6l5 -2.6l4.9 -2.6l4.9 -2.6l4.8 -2.6l4.8 -2.6l4.8 -2.5l4.8 -2.6l4.7 -2.6l4.6 -2.5l4.6 -2.6l4.6 -2.5l4.6 -2.5l4.5 -2.6l4.5 -2.5l4.4 -2.5l4.5 -2.5l-3.2 0l-4.5 2.5l-4.4 2.5l-4.5 2.6l-4.5 2.5l-4.6 2.5l-4.5 2.6l-4.7 2.5l-4.6 2.5l-4.7 2.6l-4.8 2.5l-4.7 2.6l-4.8 2.6l-4.9 2.5l-4.9 2.6l-4.9 2.6l-5 2.6l-5 2.6l-5.1 2.6l-5 2.6l-5.2 2.6l-5.2 2.6l-5.2 2.6l-5.3 2.6l-5.3 2.7l-5.4 2.6l-5.4 2.6l-5.4 2.7l-5.6 2.6z" fill="url(#c34)" stroke="url(#c34)"/><path d="M92.6 424.9l5.5 -2.7l5.5 -2.7l5.4 -2.6l5.4 -2.7l5.3 -2.7l5.3 -2.6l5.2 -2.7l5.2 -2.6l5.2 -2.7l5.1 -2.6l5 -2.6l5.1 -2.6l4.9 -2.7l5 -2.6l4.9 -2.6l4.8 -2.6l4.8 -2.5l4.8 -2.6l4.8 -2.6l4.7 -2.6l4.6 -2.5l4.7 -2.6l4.5 -2.5l4.6 -2.5l4.5 -2.6l4.5 -2.5l4.5 -2.5l4.4 -2.5l-3.2 -.1l-4.5 2.5l-4.4 2.5l-4.5 2.5l-4.5 2.6l-4.6 2.5l-4.6 2.5l-4.6 2.6l-4.6 2.5l-4.7 2.6l-4.8 2.6l-4.8 2.5l-4.8 2.6l-4.8 2.6l-4.9 2.6l-4.9 2.6l-5 2.6l-5 2.6l-5.1 2.6l-5.1 2.6l-5.1 2.6l-5.2 2.7l-5.3 2.6l-5.2 2.6l-5.4 2.7l-5.3 2.6l-5.5 2.7l-5.4 2.6l-5.5 2.7z" fill="url(#c33)" stroke="url(#c33)"/><path d="M95.8 425.4l5.5 -2.7l5.5 -2.7l5.4 -2.7l5.4 -2.7l5.3 -2.7l5.3 -2.7l5.2 -2.6l5.2 -2.7l5.2 -2.6l5.1 -2.7l5.1 -2.6l5 -2.7l5 -2.6l4.9 -2.6l4.9 -2.6l4.8 -2.6l4.9 -2.6l4.7 -2.6l4.8 -2.6l4.7 -2.5l4.7 -2.6l4.6 -2.6l4.6 -2.5l4.5 -2.5l4.5 -2.6l4.5 -2.5l4.5 -2.5l4.4 -2.5l-3.2 -.2l-4.4 2.5l-4.5 2.5l-4.5 2.5l-4.5 2.6l-4.6 2.5l-4.5 2.5l-4.7 2.6l-4.6 2.5l-4.7 2.6l-4.8 2.6l-4.8 2.6l-4.8 2.5l-4.8 2.6l-4.9 2.6l-5 2.6l-4.9 2.7l-5.1 2.6l-5 2.6l-5.1 2.6l-5.2 2.7l-5.2 2.6l-5.2 2.7l-5.3 2.6l-5.3 2.7l-5.4 2.7l-5.4 2.6l-5.5 2.7l-5.5 2.7z" fill="url(#c32)" stroke="url(#c32)"/><path d="M99 426l5.5 -2.7l5.5 -2.8l5.4 -2.7l5.4 -2.7l5.3 -2.7l5.3 -2.7l5.3 -2.7l5.2 -2.6l5.1 -2.7l5.1 -2.7l5.1 -2.6l5 -2.7l5 -2.6l4.9 -2.6l4.9 -2.7l4.9 -2.6l4.8 -2.6l4.8 -2.6l4.7 -2.6l4.7 -2.5l4.7 -2.6l4.6 -2.6l4.6 -2.5l4.6 -2.5l4.5 -2.6l4.5 -2.5l4.4 -2.5l4.5 -2.5l-3.3 -.3l-4.4 2.5l-4.5 2.5l-4.5 2.5l-4.5 2.6l-4.5 2.5l-4.6 2.5l-4.6 2.6l-4.7 2.6l-4.7 2.5l-4.8 2.6l-4.7 2.6l-4.9 2.6l-4.8 2.6l-4.9 2.6l-4.9 2.6l-5 2.6l-5 2.7l-5.1 2.6l-5.1 2.7l-5.2 2.6l-5.2 2.7l-5.2 2.6l-5.3 2.7l-5.3 2.7l-5.4 2.7l-5.4 2.7l-5.5 2.7l-5.5 2.7z" fill="url(#c31)" stroke="url(#c31)"/><path d="M102.2 426.7l5.5 -2.8l5.5 -2.7l5.4 -2.7l5.4 -2.8l5.4 -2.7l5.2 -2.7l5.3 -2.7l5.2 -2.7l5.2 -2.7l5.1 -2.6l5 -2.7l5.1 -2.7l4.9 -2.6l5 -2.7l4.9 -2.6l4.8 -2.6l4.9 -2.6l4.7 -2.6l4.8 -2.6l4.7 -2.6l4.7 -2.6l4.6 -2.6l4.6 -2.5l4.5 -2.5l4.6 -2.6l4.5 -2.5l4.4 -2.5l4.4 -2.5l-3.2 -.4l-4.5 2.5l-4.4 2.5l-4.5 2.5l-4.5 2.6l-4.6 2.5l-4.6 2.5l-4.6 2.6l-4.7 2.6l-4.7 2.5l-4.7 2.6l-4.8 2.6l-4.8 2.6l-4.9 2.6l-4.9 2.7l-4.9 2.6l-5 2.6l-5 2.7l-5.1 2.6l-5.1 2.7l-5.1 2.7l-5.2 2.6l-5.3 2.7l-5.3 2.7l-5.3 2.7l-5.4 2.7l-5.4 2.7l-5.5 2.8l-5.5 2.7z" fill="url(#c30)" stroke="url(#c30)"/><path d="M105.4 427.5l5.6 -2.8l5.4 -2.7l5.5 -2.8l5.4 -2.7l5.3 -2.8l5.3 -2.7l5.3 -2.7l5.2 -2.7l5.1 -2.7l5.1 -2.7l5.1 -2.7l5 -2.7l5 -2.6l5 -2.7l4.9 -2.6l4.8 -2.7l4.8 -2.6l4.8 -2.6l4.8 -2.6l4.7 -2.6l4.7 -2.6l4.6 -2.5l4.6 -2.6l4.5 -2.5l4.6 -2.6l4.4 -2.5l4.5 -2.5l4.4 -2.5l-3.3 -.5l-4.4 2.5l-4.4 2.5l-4.5 2.5l-4.6 2.6l-4.5 2.5l-4.6 2.5l-4.6 2.6l-4.7 2.6l-4.7 2.6l-4.8 2.6l-4.7 2.6l-4.9 2.6l-4.8 2.6l-4.9 2.6l-5 2.7l-4.9 2.6l-5.1 2.7l-5 2.7l-5.1 2.6l-5.2 2.7l-5.2 2.7l-5.3 2.7l-5.2 2.7l-5.4 2.7l-5.4 2.8l-5.4 2.7l-5.5 2.7l-5.5 2.8z" fill="url(#c29)" stroke="url(#c29)"/><path d="M108.7 428.4l5.5 -2.8l5.5 -2.8l5.5 -2.7l5.4 -2.8l5.3 -2.8l5.3 -2.7l5.2 -2.7l5.2 -2.8l5.2 -2.7l5.1 -2.7l5.1 -2.7l5 -2.7l5 -2.7l5 -2.6l4.9 -2.7l4.8 -2.6l4.8 -2.7l4.8 -2.6l4.8 -2.6l4.7 -2.6l4.7 -2.6l4.6 -2.5l4.6 -2.6l4.5 -2.5l4.6 -2.6l4.4 -2.5l4.5 -2.5l4.4 -2.5l-3.3 -.6l-4.4 2.5l-4.5 2.5l-4.4 2.5l-4.6 2.6l-4.5 2.5l-4.6 2.6l-4.6 2.5l-4.7 2.6l-4.7 2.6l-4.8 2.6l-4.8 2.6l-4.8 2.6l-4.8 2.7l-4.9 2.6l-5 2.7l-5 2.6l-5 2.7l-5.1 2.7l-5.1 2.7l-5.1 2.7l-5.2 2.7l-5.3 2.7l-5.3 2.7l-5.3 2.8l-5.4 2.7l-5.5 2.8l-5.4 2.7l-5.6 2.8z" fill="url(#c28)" stroke="url(#c28)"/><path d="M112 429.4l5.5 -2.8l5.5 -2.8l5.5 -2.8l5.3 -2.8l5.4 -2.7l5.3 -2.8l5.2 -2.8l5.3 -2.7l5.1 -2.7l5.1 -2.8l5.1 -2.7l5 -2.7l5 -2.7l5 -2.7l4.9 -2.6l4.8 -2.7l4.9 -2.6l4.8 -2.7l4.7 -2.6l4.7 -2.6l4.7 -2.6l4.6 -2.5l4.6 -2.6l4.6 -2.5l4.5 -2.6l4.5 -2.5l4.4 -2.5l4.4 -2.4l-3.3 -.8l-4.4 2.5l-4.5 2.5l-4.4 2.5l-4.6 2.6l-4.5 2.5l-4.6 2.6l-4.6 2.5l-4.7 2.6l-4.7 2.6l-4.8 2.6l-4.8 2.6l-4.8 2.7l-4.8 2.6l-4.9 2.7l-5 2.6l-5 2.7l-5 2.7l-5.1 2.7l-5.1 2.7l-5.2 2.7l-5.2 2.8l-5.2 2.7l-5.3 2.7l-5.3 2.8l-5.4 2.8l-5.5 2.7l-5.5 2.8l-5.5 2.8z" fill="url(#c27)" stroke="url(#c27)"/><path d="M115.3 430.6l5.5 -2.9l5.5 -2.8l5.5 -2.8l5.4 -2.8l5.3 -2.8l5.3 -2.8l5.3 -2.8l5.2 -2.7l5.1 -2.8l5.2 -2.7l5 -2.8l5.1 -2.7l5 -2.7l4.9 -2.7l4.9 -2.7l4.9 -2.6l4.8 -2.7l4.8 -2.6l4.7 -2.6l4.8 -2.6l4.6 -2.6l4.7 -2.6l4.5 -2.6l4.6 -2.5l4.5 -2.5l4.5 -2.6l4.5 -2.4l4.4 -2.5l-3.4 -.8l-4.4 2.4l-4.4 2.5l-4.5 2.5l-4.5 2.6l-4.6 2.5l-4.6 2.6l-4.6 2.5l-4.7 2.6l-4.7 2.6l-4.7 2.6l-4.8 2.7l-4.9 2.6l-4.8 2.7l-4.9 2.6l-5 2.7l-5 2.7l-5 2.7l-5.1 2.7l-5.1 2.8l-5.1 2.7l-5.3 2.7l-5.2 2.8l-5.3 2.8l-5.4 2.7l-5.3 2.8l-5.5 2.8l-5.5 2.8l-5.5 2.8z" fill="url(#c26)" stroke="url(#c26)"/><path d="M118.6 431.8l5.6 -2.8l5.5 -2.9l5.4 -2.8l5.4 -2.8l5.4 -2.9l5.3 -2.8l5.2 -2.8l5.2 -2.7l5.2 -2.8l5.1 -2.8l5.1 -2.7l5 -2.8l5 -2.7l5 -2.7l4.9 -2.7l4.8 -2.7l4.9 -2.6l4.8 -2.7l4.7 -2.6l4.7 -2.6l4.7 -2.6l4.6 -2.6l4.6 -2.6l4.6 -2.5l4.5 -2.5l4.5 -2.5l4.4 -2.5l4.4 -2.5l-3.3 -.9l-4.4 2.5l-4.5 2.4l-4.5 2.6l-4.5 2.5l-4.6 2.5l-4.5 2.6l-4.7 2.6l-4.6 2.6l-4.8 2.6l-4.7 2.6l-4.8 2.6l-4.8 2.7l-4.9 2.6l-4.9 2.7l-4.9 2.7l-5 2.7l-5.1 2.7l-5 2.8l-5.2 2.7l-5.1 2.8l-5.2 2.7l-5.3 2.8l-5.3 2.8l-5.3 2.8l-5.4 2.8l-5.5 2.8l-5.5 2.8l-5.5 2.9z" fill="url(#c25)" stroke="url(#c25)"/><path d="M122 433.2l5.5 -2.9l5.5 -2.9l5.5 -2.8l5.4 -2.9l5.3 -2.8l5.3 -2.8l5.3 -2.9l5.2 -2.8l5.2 -2.8l5.1 -2.7l5.1 -2.8l5 -2.7l5 -2.8l5 -2.7l4.9 -2.7l4.8 -2.7l4.9 -2.7l4.7 -2.6l4.8 -2.7l4.7 -2.6l4.7 -2.6l4.6 -2.6l4.6 -2.6l4.5 -2.5l4.6 -2.5l4.4 -2.5l4.5 -2.5l4.4 -2.5l-3.4 -1l-4.4 2.5l-4.4 2.5l-4.5 2.5l-4.5 2.5l-4.6 2.5l-4.6 2.6l-4.6 2.6l-4.7 2.6l-4.7 2.6l-4.7 2.6l-4.8 2.7l-4.9 2.6l-4.8 2.7l-4.9 2.7l-5 2.7l-5 2.7l-5 2.8l-5.1 2.7l-5.1 2.8l-5.2 2.8l-5.2 2.7l-5.2 2.8l-5.3 2.8l-5.4 2.9l-5.4 2.8l-5.4 2.8l-5.5 2.9l-5.6 2.8z" fill="url(#c24)" stroke="url(#c24)"/><path d="M125.4 434.6l5.5 -2.9l5.5 -2.8l5.5 -2.9l5.4 -2.9l5.3 -2.9l5.3 -2.8l5.3 -2.8l5.2 -2.9l5.2 -2.8l5.1 -2.8l5.1 -2.8l5 -2.7l5 -2.8l5 -2.7l4.9 -2.7l4.8 -2.7l4.9 -2.7l4.7 -2.7l4.8 -2.7l4.7 -2.6l4.7 -2.6l4.6 -2.6l4.6 -2.6l4.5 -2.5l4.6 -2.5l4.4 -2.5l4.5 -2.5l4.4 -2.5l-3.4 -1.1l-4.4 2.5l-4.5 2.5l-4.4 2.5l-4.6 2.5l-4.5 2.5l-4.6 2.6l-4.6 2.6l-4.7 2.6l-4.7 2.6l-4.8 2.7l-4.7 2.6l-4.9 2.7l-4.8 2.7l-4.9 2.7l-5 2.7l-5 2.8l-5 2.7l-5.1 2.8l-5.1 2.7l-5.2 2.8l-5.2 2.8l-5.3 2.9l-5.3 2.8l-5.3 2.8l-5.4 2.9l-5.5 2.8l-5.5 2.9l-5.5 2.9z" fill="url(#c23)" stroke="url(#c23)"/><path d="M128.8 436.2l5.5 -2.9l5.5 -2.9l5.5 -2.9l5.4 -2.9l5.3 -2.9l5.4 -2.9l5.2 -2.8l5.2 -2.9l5.2 -2.8l5.1 -2.8l5.1 -2.8l5 -2.8l5 -2.8l5 -2.7l4.9 -2.8l4.8 -2.7l4.9 -2.7l4.8 -2.7l4.7 -2.6l4.7 -2.7l4.7 -2.6l4.6 -2.6l4.6 -2.6l4.6 -2.5l4.5 -2.5l4.5 -2.5l4.4 -2.5l4.4 -2.5l-3.4 -1.2l-4.4 2.5l-4.5 2.5l-4.4 2.5l-4.6 2.5l-4.5 2.5l-4.6 2.6l-4.6 2.6l-4.7 2.6l-4.7 2.6l-4.8 2.7l-4.7 2.7l-4.9 2.7l-4.8 2.7l-4.9 2.7l-5 2.7l-5 2.8l-5 2.7l-5.1 2.8l-5.1 2.8l-5.2 2.8l-5.2 2.9l-5.3 2.8l-5.3 2.8l-5.3 2.9l-5.4 2.9l-5.5 2.9l-5.5 2.8l-5.5 2.9z" fill="url(#c22)" stroke="url(#c22)"/><path d="M132.2 437.9l5.6 -2.9l5.5 -2.9l5.4 -3l5.4 -2.9l5.4 -2.9l5.3 -2.9l5.2 -2.9l5.3 -2.8l5.1 -2.9l5.2 -2.8l5 -2.9l5.1 -2.8l5 -2.7l4.9 -2.8l4.9 -2.8l4.9 -2.7l4.8 -2.7l4.8 -2.7l4.7 -2.7l4.7 -2.6l4.7 -2.7l4.6 -2.6l4.6 -2.6l4.6 -2.5l4.5 -2.5l4.5 -2.6l4.4 -2.4l4.4 -2.5l-3.4 -1.3l-4.4 2.5l-4.4 2.5l-4.5 2.5l-4.5 2.5l-4.6 2.5l-4.6 2.6l-4.6 2.6l-4.7 2.6l-4.7 2.7l-4.7 2.6l-4.8 2.7l-4.9 2.7l-4.8 2.7l-4.9 2.8l-5 2.7l-5 2.8l-5 2.8l-5.1 2.8l-5.1 2.8l-5.2 2.8l-5.2 2.9l-5.2 2.8l-5.4 2.9l-5.3 2.9l-5.4 2.9l-5.5 2.9l-5.5 2.9l-5.5 2.9z" fill="url(#c21)" stroke="url(#c21)"/><path d="M135.7 439.8l5.5 -3l5.5 -3l5.5 -2.9l5.4 -3l5.3 -2.9l5.3 -2.9l5.3 -2.9l5.2 -2.9l5.2 -2.9l5.1 -2.8l5.1 -2.9l5 -2.8l5 -2.8l5 -2.8l4.9 -2.8l4.8 -2.7l4.9 -2.8l4.8 -2.7l4.7 -2.6l4.7 -2.7l4.7 -2.6l4.6 -2.7l4.6 -2.6l4.5 -2.5l4.6 -2.6l4.4 -2.5l4.5 -2.5l4.4 -2.4l-3.5 -1.4l-4.4 2.5l-4.4 2.4l-4.5 2.6l-4.5 2.5l-4.6 2.5l-4.6 2.6l-4.6 2.6l-4.7 2.7l-4.7 2.6l-4.7 2.7l-4.8 2.7l-4.8 2.7l-4.9 2.7l-4.9 2.8l-4.9 2.8l-5 2.7l-5.1 2.8l-5 2.9l-5.2 2.8l-5.1 2.9l-5.3 2.8l-5.2 2.9l-5.3 2.9l-5.4 2.9l-5.4 2.9l-5.4 3l-5.5 2.9l-5.6 2.9z" fill="url(#c20)" stroke="url(#c20)"/><path d="M139.1 441.7l5.6 -3l5.5 -3l5.5 -3l5.4 -2.9l5.3 -3l5.3 -2.9l5.3 -3l5.2 -2.9l5.2 -2.9l5.1 -2.8l5.1 -2.9l5 -2.9l5 -2.8l5 -2.8l4.9 -2.8l4.8 -2.7l4.8 -2.8l4.8 -2.7l4.8 -2.7l4.7 -2.7l4.6 -2.6l4.7 -2.7l4.6 -2.6l4.5 -2.5l4.5 -2.6l4.5 -2.5l4.4 -2.5l4.4 -2.5l-3.4 -1.4l-4.4 2.4l-4.5 2.5l-4.4 2.5l-4.6 2.6l-4.5 2.5l-4.6 2.6l-4.6 2.7l-4.7 2.6l-4.7 2.7l-4.7 2.6l-4.8 2.7l-4.9 2.8l-4.8 2.7l-4.9 2.8l-5 2.8l-5 2.8l-5 2.8l-5.1 2.9l-5.1 2.8l-5.2 2.9l-5.2 2.9l-5.3 2.9l-5.3 2.9l-5.3 2.9l-5.4 3l-5.5 2.9l-5.5 3l-5.5 3z" fill="url(#c19)" stroke="url(#c19)"/><path d="M142.6 443.7l5.6 -3l5.5 -3l5.5 -3l5.4 -3l5.3 -3l5.3 -2.9l5.3 -3l5.2 -2.9l5.2 -2.9l5.1 -2.9l5.1 -2.9l5 -2.9l5 -2.8l5 -2.9l4.9 -2.8l4.8 -2.8l4.8 -2.7l4.8 -2.8l4.8 -2.7l4.7 -2.7l4.6 -2.6l4.7 -2.7l4.5 -2.6l4.6 -2.6l4.5 -2.5l4.5 -2.5l4.4 -2.5l4.4 -2.5l-3.5 -1.6l-4.4 2.5l-4.4 2.5l-4.5 2.5l-4.5 2.6l-4.5 2.5l-4.6 2.6l-4.7 2.7l-4.6 2.6l-4.7 2.7l-4.8 2.7l-4.8 2.7l-4.8 2.8l-4.8 2.7l-4.9 2.8l-5 2.8l-5 2.8l-5 2.9l-5.1 2.9l-5.1 2.8l-5.2 2.9l-5.2 2.9l-5.3 3l-5.3 2.9l-5.3 3l-5.4 2.9l-5.5 3l-5.5 3l-5.6 3z" fill="url(#c18)" stroke="url(#c18)"/><path d="M146.2 445.9l5.5 -3l5.5 -3.1l5.5 -3l5.4 -3l5.3 -3l5.4 -3l5.2 -3l5.2 -3l5.2 -2.9l5.1 -2.9l5.1 -2.9l5 -2.9l5 -2.9l5 -2.8l4.9 -2.9l4.8 -2.8l4.9 -2.7l4.7 -2.8l4.8 -2.7l4.7 -2.7l4.6 -2.7l4.7 -2.7l4.6 -2.6l4.5 -2.6l4.5 -2.6l4.5 -2.5l4.4 -2.5l4.4 -2.5l-3.5 -1.6l-4.4 2.5l-4.4 2.5l-4.5 2.5l-4.5 2.5l-4.6 2.6l-4.5 2.6l-4.7 2.7l-4.6 2.6l-4.7 2.7l-4.8 2.7l-4.8 2.8l-4.8 2.7l-4.8 2.8l-4.9 2.8l-5 2.9l-5 2.8l-5 2.9l-5.1 2.9l-5.1 2.9l-5.2 2.9l-5.2 2.9l-5.3 3l-5.3 2.9l-5.3 3l-5.4 3l-5.5 3l-5.5 3l-5.6 3z" fill="url(#c17)" stroke="url(#c17)"/><path d="M149.7 448.2l5.6 -3.1l5.5 -3l5.4 -3.1l5.4 -3l5.4 -3.1l5.3 -3l5.3 -3l5.2 -3l5.1 -2.9l5.2 -3l5 -2.9l5.1 -2.9l5 -2.9l4.9 -2.9l4.9 -2.8l4.9 -2.9l4.8 -2.8l4.8 -2.7l4.7 -2.8l4.7 -2.7l4.7 -2.7l4.6 -2.7l4.6 -2.6l4.5 -2.6l4.5 -2.6l4.5 -2.6l4.4 -2.5l4.4 -2.5l-3.5 -1.7l-4.4 2.5l-4.4 2.5l-4.5 2.5l-4.5 2.6l-4.5 2.6l-4.6 2.6l-4.7 2.7l-4.6 2.7l-4.7 2.7l-4.8 2.7l-4.7 2.8l-4.9 2.7l-4.8 2.8l-4.9 2.9l-5 2.8l-5 2.9l-5 2.9l-5.1 2.9l-5.1 2.9l-5.2 2.9l-5.2 3l-5.2 3l-5.4 3l-5.3 3l-5.4 3l-5.5 3l-5.5 3.1l-5.5 3z" fill="url(#c16)" stroke="url(#c16)"/><path d="M153.3 450.6l5.5 -3.1l5.5 -3.1l5.5 -3.1l5.4 -3l5.4 -3.1l5.3 -3l5.2 -3.1l5.2 -3l5.2 -3l5.1 -2.9l5.1 -3l5 -2.9l5 -2.9l5 -2.9l4.9 -2.9l4.8 -2.8l4.8 -2.9l4.8 -2.8l4.8 -2.7l4.7 -2.8l4.6 -2.7l4.6 -2.7l4.6 -2.6l4.6 -2.7l4.5 -2.6l4.4 -2.5l4.5 -2.6l4.4 -2.5l-3.6 -1.8l-4.4 2.5l-4.4 2.5l-4.5 2.6l-4.5 2.6l-4.5 2.6l-4.6 2.6l-4.6 2.7l-4.7 2.7l-4.7 2.7l-4.7 2.8l-4.8 2.7l-4.8 2.8l-4.9 2.9l-4.9 2.8l-4.9 2.9l-5 2.9l-5.1 2.9l-5 2.9l-5.2 3l-5.1 2.9l-5.2 3l-5.3 3l-5.3 3l-5.4 3.1l-5.4 3l-5.4 3.1l-5.5 3l-5.6 3.1z" fill="url(#c15)" stroke="url(#c15)"/><path d="M156.9 453.2l5.5 -3.2l5.5 -3.1l5.5 -3.1l5.4 -3.1l5.3 -3.1l5.4 -3.1l5.2 -3l5.2 -3.1l5.2 -3l5.1 -3l5.1 -3l5 -2.9l5 -3l4.9 -2.9l4.9 -2.9l4.9 -2.8l4.8 -2.9l4.8 -2.8l4.7 -2.8l4.7 -2.8l4.7 -2.7l4.6 -2.7l4.6 -2.7l4.5 -2.6l4.5 -2.6l4.5 -2.6l4.4 -2.6l4.4 -2.5l-3.5 -1.9l-4.4 2.5l-4.5 2.6l-4.4 2.5l-4.5 2.6l-4.6 2.7l-4.6 2.6l-4.6 2.7l-4.6 2.7l-4.7 2.8l-4.8 2.7l-4.8 2.8l-4.8 2.9l-4.8 2.8l-4.9 2.9l-5 2.9l-5 2.9l-5 2.9l-5.1 3l-5.1 2.9l-5.2 3l-5.2 3l-5.2 3.1l-5.3 3l-5.4 3.1l-5.4 3l-5.5 3.1l-5.5 3.1l-5.5 3.1z" fill="url(#c14)" stroke="url(#c14)"/><path d="M160.5 455.8l5.5 -3.2l5.6 -3.1l5.4 -3.1l5.4 -3.2l5.4 -3.1l5.3 -3.1l5.2 -3.1l5.2 -3l5.2 -3.1l5.1 -3l5.1 -3l5 -3l5 -3l4.9 -2.9l4.9 -2.9l4.9 -2.9l4.8 -2.9l4.8 -2.8l4.7 -2.8l4.7 -2.8l4.7 -2.8l4.6 -2.7l4.5 -2.7l4.6 -2.7l4.5 -2.6l4.4 -2.6l4.5 -2.6l4.4 -2.6l-3.6 -1.9l-4.4 2.5l-4.4 2.6l-4.5 2.6l-4.5 2.6l-4.5 2.6l-4.6 2.7l-4.6 2.7l-4.7 2.7l-4.7 2.8l-4.7 2.8l-4.8 2.8l-4.8 2.9l-4.9 2.8l-4.9 2.9l-4.9 2.9l-5 3l-5 2.9l-5.1 3l-5.1 3l-5.2 3l-5.2 3.1l-5.2 3l-5.4 3.1l-5.3 3.1l-5.4 3.1l-5.5 3.1l-5.5 3.1l-5.5 3.2z" fill="url(#c13)" stroke="url(#c13)"/><path d="M164.1 458.6l5.6 -3.2l5.5 -3.2l5.4 -3.2l5.4 -3.1l5.4 -3.2l5.3 -3.1l5.2 -3.1l5.3 -3.1l5.1 -3.1l5.1 -3l5.1 -3l5 -3.1l5 -3l5 -2.9l4.8 -3l4.9 -2.9l4.8 -2.9l4.8 -2.8l4.7 -2.9l4.7 -2.8l4.7 -2.8l4.6 -2.8l4.5 -2.7l4.6 -2.7l4.5 -2.6l4.4 -2.7l4.5 -2.6l4.3 -2.5l-3.5 -2.1l-4.4 2.6l-4.5 2.6l-4.4 2.6l-4.5 2.6l-4.6 2.7l-4.5 2.7l-4.6 2.7l-4.7 2.8l-4.7 2.8l-4.7 2.8l-4.8 2.8l-4.8 2.9l-4.9 2.9l-4.9 2.9l-4.9 2.9l-5 3l-5 3l-5.1 3l-5.1 3l-5.2 3.1l-5.2 3l-5.2 3.1l-5.3 3.1l-5.4 3.1l-5.4 3.2l-5.4 3.1l-5.6 3.1l-5.5 3.2z" fill="url(#c12)" stroke="url(#c12)"/><path d="M167.8 461.5l5.5 -3.2l5.5 -3.2l5.5 -3.2l5.4 -3.2l5.3 -3.2l5.3 -3.2l5.3 -3.1l5.2 -3.1l5.2 -3.1l5.1 -3.1l5 -3.1l5.1 -3l4.9 -3l5 -3l4.9 -3l4.8 -3l4.8 -2.9l4.8 -2.9l4.7 -2.8l4.7 -2.9l4.7 -2.8l4.6 -2.8l4.6 -2.7l4.5 -2.8l4.5 -2.7l4.4 -2.6l4.5 -2.7l4.3 -2.6l-3.6 -2l-4.3 2.5l-4.5 2.6l-4.4 2.7l-4.5 2.6l-4.6 2.7l-4.5 2.7l-4.6 2.8l-4.7 2.8l-4.7 2.8l-4.7 2.9l-4.8 2.8l-4.8 2.9l-4.9 2.9l-4.8 3l-5 2.9l-5 3l-5 3.1l-5.1 3l-5.1 3l-5.1 3.1l-5.3 3.1l-5.2 3.1l-5.3 3.1l-5.4 3.2l-5.4 3.1l-5.4 3.2l-5.5 3.2l-5.6 3.2z" fill="url(#c11)" stroke="url(#c11)"/><path d="M171.5 464.5l5.5 -3.2l5.5 -3.3l5.5 -3.2l5.4 -3.2l5.3 -3.2l5.3 -3.2l5.3 -3.2l5.2 -3.1l5.1 -3.2l5.1 -3.1l5.1 -3.1l5 -3l5 -3.1l4.9 -3l4.9 -3l4.9 -3l4.8 -3l4.8 -2.9l4.7 -2.9l4.7 -2.9l4.6 -2.8l4.6 -2.8l4.6 -2.8l4.5 -2.8l4.5 -2.7l4.5 -2.7l4.4 -2.7l4.3 -2.6l-3.6 -2.2l-4.3 2.6l-4.5 2.7l-4.4 2.6l-4.5 2.7l-4.5 2.8l-4.6 2.7l-4.6 2.8l-4.7 2.8l-4.7 2.9l-4.7 2.8l-4.8 2.9l-4.8 2.9l-4.8 3l-4.9 3l-5 3l-4.9 3l-5.1 3l-5 3.1l-5.1 3.1l-5.2 3.1l-5.2 3.1l-5.3 3.1l-5.3 3.2l-5.3 3.2l-5.4 3.2l-5.5 3.2l-5.5 3.2l-5.5 3.2z" fill="url(#c10)" stroke="url(#c10)"/><path d="M175.2 467.7l5.5 -3.3l5.5 -3.3l5.5 -3.3l5.4 -3.2l5.3 -3.2l5.3 -3.3l5.3 -3.2l5.2 -3.1l5.1 -3.2l5.1 -3.1l5.1 -3.2l5 -3.1l5 -3.1l4.9 -3l4.9 -3l4.8 -3.1l4.8 -2.9l4.8 -3l4.7 -2.9l4.7 -3l4.7 -2.8l4.6 -2.9l4.5 -2.8l4.5 -2.8l4.5 -2.8l4.5 -2.7l4.4 -2.7l4.4 -2.7l-3.7 -2.2l-4.3 2.6l-4.4 2.7l-4.5 2.7l-4.5 2.7l-4.5 2.8l-4.6 2.8l-4.6 2.8l-4.6 2.8l-4.7 2.9l-4.7 2.9l-4.8 2.9l-4.8 3l-4.9 3l-4.9 3l-4.9 3l-5 3.1l-5 3l-5.1 3.1l-5.1 3.1l-5.1 3.2l-5.2 3.1l-5.3 3.2l-5.3 3.2l-5.3 3.2l-5.4 3.2l-5.5 3.2l-5.5 3.3l-5.5 3.2z" fill="url(#c9)" stroke="url(#c9)"/><path d="M178.9 470.9l5.5 -3.3l5.5 -3.3l5.5 -3.3l5.4 -3.3l5.3 -3.2l5.3 -3.3l5.3 -3.2l5.2 -3.2l5.1 -3.2l5.1 -3.2l5.1 -3.1l5 -3.2l5 -3.1l4.9 -3.1l4.9 -3.1l4.8 -3l4.8 -3l4.8 -3l4.7 -3l4.7 -2.9l4.6 -3l4.6 -2.8l4.6 -2.9l4.5 -2.8l4.5 -2.9l4.4 -2.7l4.4 -2.8l4.4 -2.7l-3.6 -2.3l-4.4 2.7l-4.4 2.7l-4.5 2.7l-4.5 2.8l-4.5 2.8l-4.5 2.8l-4.6 2.9l-4.7 2.8l-4.7 3l-4.7 2.9l-4.8 3l-4.8 2.9l-4.8 3.1l-4.9 3l-4.9 3l-5 3.1l-5 3.1l-5.1 3.2l-5.1 3.1l-5.1 3.2l-5.2 3.1l-5.3 3.2l-5.3 3.3l-5.3 3.2l-5.4 3.2l-5.5 3.3l-5.5 3.3l-5.5 3.3z" fill="url(#c8)" stroke="url(#c8)"/><path d="M182.6 474.4l5.6 -3.4l5.5 -3.3l5.4 -3.4l5.4 -3.3l5.3 -3.3l5.3 -3.3l5.3 -3.2l5.2 -3.3l5.1 -3.2l5.1 -3.2l5.1 -3.2l5 -3.2l5 -3.1l4.9 -3.1l4.9 -3.2l4.8 -3l4.8 -3.1l4.8 -3l4.7 -3l4.7 -3l4.6 -3l4.6 -2.9l4.6 -2.9l4.5 -2.9l4.5 -2.9l4.4 -2.8l4.4 -2.8l4.4 -2.7l-3.7 -2.4l-4.4 2.7l-4.4 2.8l-4.4 2.7l-4.5 2.9l-4.5 2.8l-4.6 2.9l-4.6 2.8l-4.6 3l-4.7 2.9l-4.7 3l-4.8 3l-4.8 3l-4.8 3l-4.9 3.1l-4.9 3.1l-5 3.1l-5 3.2l-5.1 3.1l-5.1 3.2l-5.1 3.2l-5.2 3.2l-5.3 3.2l-5.3 3.3l-5.3 3.2l-5.4 3.3l-5.5 3.3l-5.5 3.3l-5.5 3.3z" fill="url(#c7)" stroke="url(#c7)"/><path d="M186.4 477.9l5.5 -3.4l5.5 -3.4l5.5 -3.3l5.4 -3.4l5.3 -3.3l5.3 -3.3l5.2 -3.3l5.2 -3.3l5.2 -3.3l5.1 -3.2l5 -3.2l5 -3.2l5 -3.2l4.9 -3.2l4.9 -3.1l4.8 -3.2l4.8 -3.1l4.8 -3l4.7 -3.1l4.7 -3l4.6 -3l4.6 -3l4.6 -3l4.5 -2.9l4.5 -2.9l4.4 -2.9l4.4 -2.8l4.4 -2.8l-3.7 -2.4l-4.4 2.7l-4.4 2.8l-4.4 2.8l-4.5 2.9l-4.5 2.9l-4.6 2.9l-4.6 2.9l-4.6 3l-4.7 3l-4.7 3l-4.8 3l-4.8 3.1l-4.8 3l-4.9 3.2l-4.9 3.1l-5 3.1l-5 3.2l-5.1 3.2l-5.1 3.2l-5.1 3.2l-5.2 3.3l-5.3 3.2l-5.3 3.3l-5.3 3.3l-5.4 3.3l-5.4 3.4l-5.5 3.3l-5.6 3.4z" fill="url(#c6)" stroke="url(#c6)"/><path d="M190.2 481.5l5.5 -3.4l5.5 -3.4l5.5 -3.4l5.3 -3.4l5.4 -3.3l5.3 -3.4l5.2 -3.3l5.2 -3.3l5.1 -3.3l5.1 -3.3l5.1 -3.3l5 -3.2l4.9 -3.2l5 -3.2l4.8 -3.2l4.9 -3.2l4.8 -3.1l4.7 -3.1l4.7 -3.1l4.7 -3.1l4.6 -3.1l4.6 -3l4.6 -3l4.5 -3l4.5 -2.9l4.4 -3l4.4 -2.9l4.4 -2.9l-3.7 -2.4l-4.4 2.8l-4.4 2.8l-4.4 2.9l-4.5 2.9l-4.5 2.9l-4.6 3l-4.6 3l-4.6 3l-4.7 3l-4.7 3.1l-4.8 3l-4.8 3.1l-4.8 3.2l-4.9 3.1l-4.9 3.2l-5 3.2l-5 3.2l-5 3.2l-5.1 3.2l-5.2 3.3l-5.2 3.3l-5.2 3.3l-5.3 3.3l-5.3 3.3l-5.4 3.4l-5.5 3.3l-5.5 3.4l-5.5 3.4z" fill="url(#c5)" stroke="url(#c5)"/><path d="M194 485.3l5.5 -3.4l5.5 -3.5l5.5 -3.4l5.3 -3.4l5.4 -3.4l5.2 -3.4l5.3 -3.4l5.2 -3.3l5.1 -3.4l5.1 -3.3l5 -3.3l5.1 -3.3l4.9 -3.2l4.9 -3.3l4.9 -3.2l4.8 -3.2l4.8 -3.2l4.8 -3.1l4.7 -3.2l4.6 -3.1l4.7 -3.1l4.6 -3.1l4.5 -3.1l4.5 -3l4.5 -3l4.4 -3l4.4 -3l4.4 -2.9l-3.7 -2.6l-4.4 2.9l-4.4 2.9l-4.4 3l-4.5 2.9l-4.5 3l-4.6 3l-4.6 3l-4.6 3.1l-4.7 3.1l-4.7 3.1l-4.7 3.1l-4.8 3.1l-4.9 3.2l-4.8 3.2l-5 3.2l-4.9 3.2l-5 3.2l-5.1 3.3l-5.1 3.3l-5.1 3.3l-5.2 3.3l-5.2 3.3l-5.3 3.4l-5.4 3.3l-5.3 3.4l-5.5 3.4l-5.5 3.4l-5.5 3.4z" fill="url(#c4)" stroke="url(#c4)"/><path d="M197.8 489.3l5.6 -3.5l5.4 -3.5l5.5 -3.5l5.3 -3.4l5.4 -3.5l5.3 -3.4l5.2 -3.4l5.2 -3.4l5.1 -3.4l5.1 -3.3l5 -3.4l5 -3.3l5 -3.3l4.9 -3.3l4.9 -3.2l4.8 -3.3l4.8 -3.2l4.7 -3.2l4.7 -3.2l4.7 -3.2l4.6 -3.2l4.6 -3.1l4.5 -3.1l4.6 -3.2l4.4 -3l4.5 -3.1l4.4 -3l4.3 -3.1l-3.7 -2.5l-4.4 2.9l-4.4 3l-4.4 3l-4.5 3l-4.5 3l-4.5 3.1l-4.6 3.1l-4.7 3.1l-4.6 3.1l-4.7 3.2l-4.8 3.1l-4.8 3.2l-4.8 3.2l-4.9 3.2l-4.9 3.3l-4.9 3.2l-5.1 3.3l-5 3.3l-5.1 3.3l-5.1 3.4l-5.2 3.3l-5.3 3.4l-5.2 3.4l-5.4 3.4l-5.3 3.4l-5.5 3.4l-5.5 3.5l-5.5 3.4z" fill="url(#c3)" stroke="url(#c3)"/><path d="M201.7 493.3l5.5 -3.5l5.5 -3.5l5.4 -3.5l5.4 -3.5l5.3 -3.5l5.3 -3.5l5.2 -3.4l5.2 -3.4l5.1 -3.4l5.1 -3.4l5 -3.4l5 -3.4l5 -3.3l4.9 -3.4l4.9 -3.3l4.8 -3.3l4.8 -3.3l4.7 -3.2l4.7 -3.3l4.7 -3.2l4.6 -3.3l4.6 -3.2l4.5 -3.1l4.5 -3.2l4.5 -3.2l4.4 -3.1l4.4 -3.1l4.4 -3.1l-3.8 -2.7l-4.3 3.1l-4.4 3l-4.5 3.1l-4.4 3l-4.6 3.2l-4.5 3.1l-4.6 3.1l-4.6 3.2l-4.7 3.2l-4.7 3.2l-4.7 3.2l-4.8 3.2l-4.8 3.3l-4.9 3.2l-4.9 3.3l-5 3.3l-5 3.3l-5 3.4l-5.1 3.3l-5.1 3.4l-5.2 3.4l-5.2 3.4l-5.3 3.4l-5.4 3.5l-5.3 3.4l-5.5 3.5l-5.4 3.5l-5.6 3.5z" fill="url(#c2)" stroke="url(#c2)"/><path d="M205.5 497.5l5.6 -3.6l5.4 -3.5l5.5 -3.6l5.3 -3.5l5.4 -3.5l5.2 -3.5l5.2 -3.5l5.2 -3.5l5.1 -3.4l5.1 -3.4l5.1 -3.5l5 -3.4l4.9 -3.4l4.9 -3.4l4.9 -3.3l4.8 -3.4l4.8 -3.3l4.7 -3.3l4.7 -3.4l4.7 -3.3l4.6 -3.2l4.5 -3.3l4.6 -3.3l4.5 -3.2l4.5 -3.2l4.4 -3.3l4.4 -3.2l4.3 -3.2l-3.7 -2.6l-4.4 3.1l-4.4 3.1l-4.4 3.1l-4.5 3.2l-4.5 3.2l-4.5 3.1l-4.6 3.2l-4.6 3.3l-4.7 3.2l-4.7 3.3l-4.7 3.2l-4.8 3.3l-4.8 3.3l-4.9 3.3l-4.9 3.4l-5 3.3l-5 3.4l-5 3.4l-5.1 3.4l-5.1 3.4l-5.2 3.4l-5.2 3.4l-5.3 3.5l-5.3 3.5l-5.4 3.5l-5.4 3.5l-5.5 3.5l-5.5 3.5z" fill="url(#c1)" stroke="url(#c1)"/><path d="M209.4 501.8l5.6 -3.6l5.4 -3.6l5.4 -3.6l5.4 -3.5l5.3 -3.6l5.3 -3.5l5.2 -3.5l5.2 -3.6l5.1 -3.4l5.1 -3.5l5 -3.5l5 -3.5l4.9 -3.4l4.9 -3.4l4.9 -3.4l4.8 -3.5l4.8 -3.4l4.7 -3.3l4.7 -3.4l4.7 -3.4l4.6 -3.3l4.5 -3.4l4.6 -3.3l4.5 -3.3l4.4 -3.3l4.5 -3.4l4.4 -3.2l4.3 -3.3l-3.8 -2.8l-4.3 3.2l-4.4 3.2l-4.4 3.3l-4.5 3.2l-4.5 3.2l-4.6 3.3l-4.5 3.3l-4.6 3.2l-4.7 3.3l-4.7 3.4l-4.7 3.3l-4.8 3.3l-4.8 3.4l-4.9 3.3l-4.9 3.4l-4.9 3.4l-5 3.4l-5.1 3.5l-5.1 3.4l-5.1 3.4l-5.2 3.5l-5.2 3.5l-5.2 3.5l-5.4 3.5l-5.3 3.5l-5.5 3.6l-5.4 3.5l-5.6 3.6z" fill="url(#c0)" stroke="url(#c0)"/></g><g fill="none" stroke="#000" stroke-width="0.54" stroke-opacity="1"><path d="M209.4 501.8l-15.4 -16.5l-15.1 -14.4l-14.8 -12.3l-14.4 -10.4l-14 -8.4l-13.7 -6.6l-13.3 -4.8l-12.9 -3l-12.5 -1.3l-12.2 .3M216.8 497l-15.4 -16.3l-15.1 -14.2l-14.8 -12.2l-14.4 -10.2l-14 -8.3l-13.7 -6.5l-13.3 -4.6l-13 -2.9l-12.5 -1.3l-12.2 .4M224 492.2l-15.4 -16.1l-15 -14l-14.8 -12l-14.4 -10.1l-14 -8.1l-13.7 -6.4l-13.3 -4.5l-13 -2.8l-12.6 -1.2l-12.2 .5M231.2 487.5l-15.4 -15.9l-15 -13.9l-14.8 -11.8l-14.4 -9.9l-14 -8.1l-13.7 -6.2l-13.3 -4.4l-13 -2.7l-12.6 -1l-12.2 .5M238.3 482.7l-15.4 -15.6l-15 -13.7l-14.7 -11.7l-14.4 -9.8l-14.1 -7.9l-13.7 -6.1l-13.3 -4.3l-13 -2.6l-12.6 -.9l-12.3 .6M245.3 478l-15.4 -15.4l-15 -13.5l-14.7 -11.6l-14.4 -9.6l-14 -7.8l-13.7 -5.9l-13.4 -4.2l-13 -2.5l-12.6 -.9l-12.3 .7M252.2 473.3l-15.3 -15.2l-15 -13.3l-14.7 -11.4l-14.4 -9.5l-14.1 -7.6l-13.7 -5.9l-13.4 -4.1l-13 -2.4l-12.6 -.8l-12.3 .8M259 468.7l-15.3 -15.1l-15 -13.1l-14.7 -11.2l-14.3 -9.3l-14.1 -7.5l-13.7 -5.8l-13.4 -4l-13 -2.3l-12.7 -.7l-12.3 .8M265.7 464.1l-15.2 -14.9l-15 -12.9l-14.7 -11l-14.3 -9.2l-14.1 -7.4l-13.7 -5.7l-13.4 -3.9l-13 -2.2l-12.7 -.7l-12.3 1M272.4 459.4l-15.2 -14.6l-15 -12.7l-14.7 -10.9l-14.3 -9l-14.1 -7.3l-13.7 -5.5l-13.4 -3.9l-13 -2.2l-12.7 -.5l-12.4 1M279 454.9l-15.2 -14.4l-15 -12.5l-14.6 -10.7l-14.4 -9l-14 -7.1l-13.7 -5.5l-13.4 -3.8l-13.1 -2.1l-12.7 -.4l-12.4 1M285.5 450.3l-15.2 -14.1l-14.9 -12.3l-14.7 -10.6l-14.3 -8.8l-14.1 -7.1l-13.7 -5.3l-13.4 -3.7l-13 -2l-12.8 -.5l-12.4 1.2M291.9 445.7l-15.2 -13.8l-14.9 -12.1l-14.6 -10.4l-14.3 -8.7l-14.1 -6.9l-13.7 -5.3l-13.4 -3.6l-13.1 -2l-12.7 -.4l-12.4 1.2M298.3 441.2l-15.2 -13.5l-14.9 -11.9l-14.6 -10.2l-14.3 -8.6l-14 -6.9l-13.7 -5.2l-13.5 -3.5l-13 -2l-12.8 -.3l-12.4 1.3M304.5 436.7l-15.1 -13.2l-14.9 -11.7l-14.6 -10l-14.3 -8.5l-14 -6.8l-13.7 -5.1l-13.4 -3.5l-13.1 -1.9l-12.8 -.3l-12.4 1.4M310.8 432.2l-15.2 -12.9l-14.8 -11.4l-14.6 -9.9l-14.3 -8.3l-14 -6.7l-13.7 -5.1l-13.4 -3.5l-13.1 -1.8l-12.8 -.3l-12.4 1.4M316.9 427.7l-15.1 -12.6l-14.8 -11.1l-14.6 -9.7l-14.3 -8.2l-14 -6.6l-13.7 -5.1l-13.4 -3.4l-13.1 -1.9l-12.8 -.2l-12.5 1.5M323 423.3l-15.1 -12.2l-14.8 -11l-14.6 -9.5l-14.2 -8l-14 -6.6l-13.7 -5l-13.4 -3.4l-13.2 -1.9l-12.7 -.1l-12.5 1.5M329 418.9l-15.1 -11.9l-14.8 -10.6l-14.5 -9.4l-14.3 -7.9l-14 -6.5l-13.7 -5l-13.4 -3.4l-13.1 -1.8l-12.8 -.2l-12.5 1.6M334.9 414.4l-15 -11.4l-14.8 -10.4l-14.5 -9.1l-14.3 -7.9l-13.9 -6.4l-13.7 -5l-13.4 -3.4l-13.2 -1.8l-12.8 -.1l-12.5 1.5M340.8 410.1l-15 -11.1l-14.8 -10.1l-14.5 -8.9l-14.2 -7.7l-14 -6.4l-13.7 -5l-13.4 -3.4l-13.1 -1.9l-12.8 -.1l-12.5 1.6M346.6 405.7l-15 -10.6l-14.8 -9.8l-14.5 -8.7l-14.2 -7.7l-13.9 -6.3l-13.7 -5l-13.4 -3.5l-13.1 -1.8l-12.8 -.1l-12.5 1.6"/><path d="M211.3 500.6l-15.4 -16.4l-15.1 -14.4l-14.8 -12.3l-14.4 -10.3l-14.1 -8.4l-13.7 -6.6l-13.3 -4.7l-12.9 -3l-12.5 -1.3l-12.1 .3M218.6 495.8l-15.4 -16.2l-15.1 -14.2l-14.7 -12.1l-14.4 -10.2l-14.1 -8.3l-13.7 -6.4l-13.3 -4.6l-12.9 -2.9l-12.6 -1.2l-12.2 .4M225.8 491l-15.3 -16l-15.1 -14l-14.8 -12l-14.4 -10l-14 -8.1l-13.7 -6.3l-13.3 -4.5l-13 -2.8l-12.6 -1.1l-12.2 .5M233 486.3l-15.4 -15.8l-15 -13.8l-14.8 -11.9l-14.4 -9.9l-14 -8l-13.7 -6.1l-13.4 -4.4l-12.9 -2.7l-12.6 -1l-12.3 .6M240 481.6l-15.3 -15.7l-15 -13.6l-14.8 -11.6l-14.4 -9.8l-14 -7.8l-13.7 -6.1l-13.4 -4.3l-13 -2.6l-12.6 -.9l-12.2 .7M247 476.9l-15.3 -15.5l-15 -13.4l-14.8 -11.5l-14.3 -9.6l-14.1 -7.7l-13.7 -6l-13.4 -4.1l-13 -2.5l-12.6 -.9l-12.3 .8M253.9 472.2l-15.3 -15.2l-15 -13.3l-14.7 -11.3l-14.4 -9.5l-14 -7.6l-13.8 -5.8l-13.3 -4.1l-13 -2.4l-12.7 -.7l-12.3 .8M260.7 467.5l-15.3 -15l-15 -13l-14.7 -11.2l-14.3 -9.3l-14.1 -7.5l-13.7 -5.7l-13.4 -4l-13 -2.3l-12.7 -.7l-12.3 .9M267.4 462.9l-15.3 -14.8l-14.9 -12.8l-14.7 -11l-14.4 -9.2l-14 -7.4l-13.7 -5.6l-13.4 -3.9l-13 -2.2l-12.7 -.6l-12.4 .9M274 458.3l-15.2 -14.5l-14.9 -12.7l-14.7 -10.9l-14.4 -9l-14 -7.2l-13.7 -5.6l-13.4 -3.8l-13.1 -2.1l-12.7 -.6l-12.3 1.1M280.6 453.7l-15.2 -14.3l-14.9 -12.5l-14.7 -10.6l-14.3 -8.9l-14.1 -7.2l-13.7 -5.4l-13.4 -3.7l-13 -2.1l-12.8 -.5l-12.3 1.1M287.1 449.2l-15.2 -14.1l-14.9 -12.3l-14.7 -10.5l-14.3 -8.7l-14 -7.1l-13.7 -5.3l-13.4 -3.7l-13.1 -2l-12.7 -.4l-12.4 1.1M293.5 444.6l-15.2 -13.8l-14.9 -12l-14.6 -10.4l-14.3 -8.6l-14 -6.9l-13.8 -5.3l-13.4 -3.6l-13 -2l-12.8 -.3l-12.4 1.2M299.8 440.1l-15.1 -13.5l-14.9 -11.8l-14.6 -10.2l-14.3 -8.5l-14 -6.9l-13.8 -5.2l-13.4 -3.5l-13 -1.9l-12.8 -.3l-12.4 1.3M306.1 435.6l-15.1 -13.2l-14.9 -11.6l-14.6 -10l-14.3 -8.4l-14 -6.7l-13.7 -5.2l-13.4 -3.5l-13.1 -1.9l-12.8 -.2l-12.4 1.3M312.3 431.1l-15.1 -12.9l-14.9 -11.3l-14.5 -9.8l-14.3 -8.3l-14 -6.7l-13.7 -5.1l-13.5 -3.4l-13.1 -1.9l-12.7 -.2l-12.5 1.4M318.4 426.6l-15.1 -12.5l-14.8 -11.1l-14.6 -9.6l-14.2 -8.2l-14 -6.6l-13.7 -5l-13.5 -3.5l-13.1 -1.8l-12.7 -.2l-12.5 1.5M324.5 422.2l-15.1 -12.2l-14.8 -10.8l-14.6 -9.5l-14.2 -8l-14 -6.6l-13.7 -5l-13.4 -3.4l-13.1 -1.8l-12.8 -.2l-12.5 1.5M330.5 417.8l-15.1 -11.8l-14.8 -10.6l-14.5 -9.3l-14.3 -7.9l-14 -6.5l-13.6 -5l-13.5 -3.4l-13.1 -1.8l-12.8 -.1l-12.5 1.5M336.4 413.3l-15.1 -11.3l-14.7 -10.3l-14.6 -9.1l-14.2 -7.8l-14 -6.4l-13.6 -5l-13.4 -3.4l-13.2 -1.9l-12.8 -.1l-12.5 1.6M342.3 409l-15.1 -11l-14.8 -10l-14.4 -8.9l-14.3 -7.7l-13.9 -6.4l-13.7 -4.9l-13.4 -3.5l-13.1 -1.8l-12.8 -.1l-12.6 1.6"/><path d="M213.1 499.4l-15.4 -16.4l-15.1 -14.3l-14.8 -12.2l-14.4 -10.3l-14 -8.4l-13.7 -6.5l-13.3 -4.8l-12.9 -2.9l-12.6 -1.3l-12.1 .3M220.4 494.6l-15.4 -16.2l-15.1 -14.1l-14.7 -12.1l-14.4 -10.1l-14.1 -8.3l-13.7 -6.4l-13.3 -4.6l-12.9 -2.8l-12.6 -1.2l-12.2 .4M227.6 489.8l-15.3 -15.9l-15.1 -14l-14.8 -11.9l-14.4 -10l-14 -8.1l-13.7 -6.3l-13.3 -4.5l-13 -2.7l-12.6 -1.1l-12.2 .5M234.8 485.1l-15.4 -15.8l-15.1 -13.7l-14.7 -11.8l-14.4 -9.9l-14 -7.9l-13.7 -6.2l-13.4 -4.3l-13 -2.7l-12.6 -1l-12.2 .6M241.8 480.4l-15.4 -15.6l-15 -13.6l-14.7 -11.6l-14.4 -9.7l-14.1 -7.8l-13.7 -6l-13.3 -4.3l-13 -2.6l-12.6 -.9l-12.3 .7M248.7 475.7l-15.3 -15.4l-15 -13.4l-14.7 -11.4l-14.4 -9.6l-14 -7.7l-13.8 -5.9l-13.3 -4.1l-13 -2.5l-12.7 -.8l-12.2 .7M255.6 471l-15.3 -15.1l-15 -13.2l-14.7 -11.3l-14.4 -9.4l-14 -7.6l-13.7 -5.8l-13.4 -4.1l-13 -2.4l-12.7 -.7l-12.3 .8M262.4 466.4l-15.3 -15l-15 -13l-14.7 -11.1l-14.3 -9.3l-14.1 -7.4l-13.7 -5.7l-13.4 -4l-13 -2.3l-12.7 -.7l-12.3 .9M269.1 461.8l-15.3 -14.8l-14.9 -12.8l-14.7 -11l-14.4 -9.1l-14 -7.3l-13.7 -5.6l-13.4 -3.9l-13.1 -2.2l-12.7 -.6l-12.3 1M275.7 457.2l-15.2 -14.5l-15 -12.7l-14.6 -10.8l-14.4 -9l-14 -7.2l-13.8 -5.5l-13.3 -3.8l-13.1 -2.1l-12.7 -.5l-12.4 1M282.2 452.6l-15.2 -14.3l-14.9 -12.4l-14.6 -10.6l-14.4 -8.9l-14 -7.1l-13.7 -5.4l-13.4 -3.7l-13.1 -2.1l-12.7 -.5l-12.4 1.2M288.7 448l-15.2 -14l-14.9 -12.2l-14.6 -10.4l-14.4 -8.8l-14 -7l-13.7 -5.3l-13.4 -3.7l-13.1 -2l-12.7 -.4l-12.4 1.2M295.1 443.5l-15.2 -13.7l-14.9 -12l-14.6 -10.3l-14.3 -8.6l-14 -6.9l-13.8 -5.3l-13.4 -3.6l-13 -1.9l-12.8 -.4l-12.4 1.3M301.4 439l-15.1 -13.4l-14.9 -11.8l-14.6 -10.1l-14.3 -8.5l-14 -6.9l-13.8 -5.1l-13.4 -3.6l-13.1 -1.9l-12.7 -.3l-12.4 1.3M307.7 434.5l-15.2 -13.1l-14.8 -11.6l-14.6 -9.9l-14.3 -8.4l-14 -6.7l-13.7 -5.2l-13.4 -3.5l-13.1 -1.8l-12.8 -.3l-12.5 1.4M313.8 430l-15.1 -12.8l-14.8 -11.3l-14.6 -9.8l-14.3 -8.2l-14 -6.7l-13.7 -5l-13.4 -3.5l-13.1 -1.9l-12.8 -.2l-12.4 1.5M319.9 425.5l-15 -12.4l-14.9 -11l-14.5 -9.7l-14.3 -8.1l-14 -6.6l-13.7 -5l-13.4 -3.4l-13.1 -1.9l-12.8 -.1l-12.5 1.4M326 421.1l-15.1 -12.1l-14.8 -10.8l-14.5 -9.4l-14.3 -8l-14 -6.5l-13.7 -5l-13.4 -3.4l-13.1 -1.9l-12.8 -.1l-12.5 1.5M332 416.7l-15.1 -11.7l-14.8 -10.5l-14.5 -9.3l-14.3 -7.8l-13.9 -6.5l-13.7 -5l-13.4 -3.4l-13.2 -1.8l-12.8 -.2l-12.5 1.6M337.9 412.2l-15.1 -11.2l-14.8 -10.2l-14.5 -9.1l-14.2 -7.8l-14 -6.4l-13.7 -4.9l-13.4 -3.5l-13.1 -1.8l-12.8 -.1l-12.5 1.6M343.7 407.9l-15 -10.9l-14.8 -9.9l-14.5 -8.8l-14.2 -7.7l-14 -6.4l-13.6 -5l-13.4 -3.4l-13.1 -1.8l-12.9 -.2l-12.5 1.7"/><path d="M215 498.2l-15.5 -16.3l-15.1 -14.3l-14.7 -12.2l-14.4 -10.3l-14.1 -8.3l-13.7 -6.5l-13.3 -4.7l-12.9 -2.9l-12.5 -1.3l-12.2 .4M222.2 493.4l-15.4 -16.1l-15 -14.1l-14.8 -12l-14.4 -10.2l-14 -8.2l-13.7 -6.3l-13.4 -4.6l-12.9 -2.8l-12.6 -1.2l-12.2 .5M229.4 488.6l-15.4 -15.9l-15 -13.9l-14.8 -11.9l-14.4 -9.9l-14 -8.1l-13.7 -6.2l-13.3 -4.5l-13 -2.7l-12.6 -1.1l-12.2 .6M236.5 483.9l-15.3 -15.7l-15.1 -13.7l-14.7 -11.8l-14.4 -9.8l-14.1 -7.9l-13.7 -6.1l-13.3 -4.4l-13 -2.6l-12.6 -1l-12.2 .6M243.5 479.2l-15.3 -15.5l-15 -13.5l-14.8 -11.6l-14.3 -9.7l-14.1 -7.8l-13.7 -6l-13.4 -4.2l-12.9 -2.5l-12.7 -.9l-12.2 .7M250.5 474.5l-15.4 -15.3l-15 -13.3l-14.7 -11.5l-14.4 -9.5l-14 -7.6l-13.7 -5.9l-13.4 -4.2l-13 -2.4l-12.6 -.8l-12.3 .8M257.3 469.9l-15.3 -15.2l-15 -13.1l-14.7 -11.3l-14.4 -9.3l-14 -7.6l-13.7 -5.8l-13.4 -4l-13 -2.3l-12.7 -.8l-12.3 .9M264.1 465.2l-15.3 -14.9l-15 -12.9l-14.7 -11.1l-14.3 -9.3l-14.1 -7.4l-13.7 -5.7l-13.4 -3.9l-13 -2.3l-12.7 -.6l-12.3 .9M270.7 460.6l-15.2 -14.7l-15 -12.7l-14.6 -11l-14.4 -9.1l-14 -7.3l-13.8 -5.5l-13.3 -3.9l-13.1 -2.2l-12.7 -.6l-12.3 1M277.3 456l-15.2 -14.4l-14.9 -12.6l-14.7 -10.8l-14.3 -8.9l-14.1 -7.2l-13.7 -5.5l-13.4 -3.8l-13 -2.1l-12.8 -.5l-12.3 1.1M283.9 451.4l-15.2 -14.1l-15 -12.4l-14.6 -10.6l-14.4 -8.8l-14 -7.1l-13.7 -5.4l-13.4 -3.7l-13.1 -2.1l-12.7 -.4l-12.4 1.1M290.3 446.9l-15.2 -13.9l-14.9 -12.2l-14.6 -10.4l-14.3 -8.7l-14.1 -7l-13.7 -5.3l-13.4 -3.7l-13.1 -1.9l-12.7 -.4l-12.4 1.2M296.7 442.3l-15.2 -13.6l-14.9 -11.9l-14.6 -10.3l-14.3 -8.6l-14 -6.9l-13.7 -5.2l-13.5 -3.6l-13 -1.9l-12.8 -.3l-12.4 1.2M303 437.8l-15.2 -13.3l-14.8 -11.7l-14.6 -10.1l-14.3 -8.4l-14.1 -6.9l-13.7 -5.1l-13.4 -3.6l-13.1 -1.9l-12.7 -.2l-12.5 1.3M309.2 433.3l-15.1 -13l-14.9 -11.5l-14.6 -9.9l-14.3 -8.3l-14 -6.7l-13.7 -5.1l-13.4 -3.5l-13.1 -1.9l-12.7 -.2l-12.5 1.4M315.4 428.9l-15.1 -12.7l-14.9 -11.3l-14.5 -9.7l-14.3 -8.2l-14 -6.6l-13.7 -5.1l-13.4 -3.5l-13.1 -1.8l-12.8 -.2l-12.5 1.4M321.5 424.4l-15.1 -12.3l-14.9 -11l-14.5 -9.6l-14.3 -8.1l-14 -6.5l-13.7 -5.1l-13.4 -3.4l-13.1 -1.8l-12.8 -.2l-12.5 1.5M327.5 420l-15.1 -12l-14.8 -10.7l-14.5 -9.4l-14.3 -8l-14 -6.5l-13.7 -5l-13.4 -3.4l-13.1 -1.8l-12.8 -.2l-12.5 1.6M333.4 415.6l-15 -11.6l-14.8 -10.5l-14.5 -9.1l-14.3 -7.9l-13.9 -6.5l-13.7 -4.9l-13.4 -3.5l-13.2 -1.8l-12.8 -.1l-12.5 1.6M339.3 411.1l-15 -11.1l-14.8 -10.1l-14.5 -9l-14.2 -7.8l-14 -6.4l-13.7 -5l-13.4 -3.4l-13.1 -1.8l-12.8 -.2l-12.5 1.7M345.2 406.8l-15.1 -10.8l-14.7 -9.8l-14.5 -8.8l-14.2 -7.6l-14 -6.4l-13.7 -5l-13.4 -3.4l-13.1 -1.9l-12.8 -.1l-12.5 1.7"/><path d="M209.4 501.8l15.4 -10.1l14.9 -9.9l14.5 -9.9l14.2 -9.7l13.8 -9.6l13.5 -9.6l13.2 -9.4l12.9 -9.4l12.5 -9.3l12.3 -9.2M202 493.7l15.4 -9.9l14.9 -9.7l14.6 -9.6l14.2 -9.5l13.9 -9.4l13.5 -9.3l13.2 -9.1l12.8 -9l12.6 -8.9l12.3 -8.8M194.7 486.1l15.4 -9.7l15 -9.5l14.6 -9.5l14.2 -9.3l13.8 -9.1l13.6 -9l13.2 -8.9l12.9 -8.7l12.6 -8.5l12.3 -8.3M187.5 478.9l15.4 -9.5l15 -9.3l14.6 -9.3l14.2 -9.1l13.9 -8.9l13.5 -8.8l13.3 -8.6l12.9 -8.4l12.6 -8.2l12.3 -8M180.3 472.2l15.4 -9.3l15 -9.2l14.6 -9l14.3 -8.9l13.9 -8.8l13.6 -8.6l13.2 -8.3l13 -8.2l12.6 -8l12.3 -7.7M173.2 466l15.4 -9.1l15.1 -9l14.6 -8.9l14.3 -8.8l13.9 -8.5l13.6 -8.4l13.2 -8.2l13 -8l12.6 -7.7l12.4 -7.5M166.2 460.2l15.4 -8.9l15.1 -8.9l14.6 -8.7l14.3 -8.6l13.9 -8.4l13.6 -8.2l13.3 -8.1l13 -7.8l12.6 -7.5l12.4 -7.4M159.3 454.9l15.4 -8.8l15 -8.7l14.7 -8.6l14.3 -8.4l13.9 -8.3l13.6 -8.1l13.3 -7.8l13 -7.7l12.7 -7.4l12.4 -7.2M152.4 450l15.5 -8.6l15 -8.6l14.7 -8.4l14.3 -8.3l13.9 -8.1l13.6 -8l13.3 -7.8l13 -7.5l12.7 -7.3l12.4 -7.1M145.7 445.6l15.4 -8.5l15 -8.4l14.7 -8.3l14.3 -8.2l14 -8l13.6 -7.8l13.3 -7.7l13 -7.5l12.7 -7.2l12.4 -7M139 441.6l15.4 -8.4l15 -8.2l14.7 -8.2l14.3 -8.1l14 -7.9l13.6 -7.7l13.3 -7.6l13 -7.4l12.8 -7.2l12.4 -6.9M132.4 438l15.4 -8.2l15 -8.2l14.7 -8l14.3 -7.9l14 -7.8l13.6 -7.7l13.3 -7.5l13 -7.3l12.8 -7.2l12.4 -6.9M125.9 434.9l15.4 -8.1l15 -8.1l14.7 -7.9l14.3 -7.8l13.9 -7.7l13.7 -7.6l13.3 -7.5l13 -7.3l12.7 -7.1l12.5 -6.9M119.4 432.1l15.4 -8l15.1 -7.9l14.6 -7.8l14.3 -7.7l14 -7.6l13.6 -7.6l13.3 -7.4l13.1 -7.2l12.7 -7.1l12.4 -7M113.1 429.8l15.4 -7.9l15 -7.8l14.6 -7.7l14.3 -7.6l14 -7.6l13.6 -7.4l13.3 -7.4l13.1 -7.2l12.7 -7.1l12.4 -7M106.8 427.9l15.4 -7.8l15 -7.7l14.6 -7.6l14.3 -7.6l14 -7.4l13.6 -7.4l13.3 -7.3l13 -7.2l12.8 -7.1l12.4 -7M100.7 426.3l15.3 -7.6l15 -7.6l14.6 -7.5l14.3 -7.5l13.9 -7.4l13.7 -7.3l13.3 -7.3l13 -7.2l12.7 -7.1l12.5 -7M94.6 425.2l15.3 -7.6l15 -7.4l14.6 -7.5l14.2 -7.4l14 -7.3l13.6 -7.3l13.3 -7.2l13 -7.2l12.7 -7.1l12.5 -7M88.6 424.4l15.3 -7.4l14.9 -7.4l14.6 -7.4l14.3 -7.3l13.9 -7.3l13.6 -7.2l13.3 -7.2l13 -7.1l12.7 -7.1l12.4 -7M82.7 424l15.3 -7.3l14.9 -7.3l14.5 -7.3l14.3 -7.2l13.9 -7.2l13.6 -7.2l13.2 -7.1l13 -7.1l12.7 -7.1l12.5 -7M76.8 424l15.3 -7.3l14.9 -7.2l14.6 -7.2l14.2 -7.1l13.8 -7.2l13.6 -7.1l13.3 -7l13 -7.1l12.6 -7l12.5 -7M71.1 424.4l15.3 -7.2l14.8 -7.2l14.5 -7.1l14.2 -7.1l13.9 -7l13.5 -7.1l13.3 -7l12.9 -7l12.7 -6.9l12.5 -7"/><path d="M207.6 499.7l15.3 -10l14.9 -9.9l14.6 -9.8l14.2 -9.6l13.8 -9.6l13.5 -9.5l13.2 -9.4l12.9 -9.2l12.5 -9.2l12.3 -9.1M200.2 491.7l15.4 -9.8l14.9 -9.7l14.6 -9.5l14.2 -9.5l13.8 -9.3l13.6 -9.2l13.2 -9.1l12.8 -8.9l12.6 -8.8l12.3 -8.6M192.9 484.2l15.4 -9.6l15 -9.5l14.5 -9.4l14.3 -9.2l13.9 -9.1l13.5 -9l13.2 -8.7l12.9 -8.7l12.6 -8.4l12.3 -8.3M185.7 477.2l15.4 -9.4l15 -9.4l14.6 -9.1l14.2 -9.1l13.9 -8.9l13.6 -8.7l13.2 -8.6l12.9 -8.3l12.6 -8.2l12.4 -7.9M178.5 470.6l15.4 -9.2l15 -9.2l14.7 -9l14.2 -8.9l13.9 -8.7l13.6 -8.5l13.3 -8.3l12.9 -8.1l12.6 -7.9l12.4 -7.7M171.5 464.5l15.4 -9.1l15 -8.9l14.6 -8.9l14.3 -8.7l13.9 -8.5l13.6 -8.4l13.3 -8.1l12.9 -8l12.7 -7.6l12.3 -7.5M164.5 458.9l15.4 -9l15 -8.8l14.7 -8.7l14.3 -8.5l13.9 -8.4l13.6 -8.2l13.3 -8l12.9 -7.7l12.7 -7.6l12.4 -7.2M157.6 453.6l15.4 -8.7l15 -8.7l14.7 -8.5l14.3 -8.4l13.9 -8.2l13.6 -8.1l13.3 -7.9l13 -7.6l12.7 -7.4l12.4 -7.1M150.7 448.9l15.5 -8.6l15 -8.5l14.7 -8.4l14.3 -8.3l13.9 -8.1l13.6 -7.9l13.3 -7.8l13 -7.5l12.7 -7.3l12.4 -7.1M144 444.6l15.4 -8.5l15.1 -8.4l14.6 -8.3l14.3 -8.1l14 -8l13.6 -7.8l13.3 -7.6l13 -7.5l12.7 -7.2l12.4 -7M137.3 440.7l15.4 -8.4l15.1 -8.2l14.7 -8.2l14.3 -8l13.9 -7.8l13.7 -7.8l13.3 -7.5l13 -7.4l12.7 -7.2l12.4 -6.9M130.7 437.2l15.5 -8.2l15 -8.1l14.7 -8l14.3 -7.9l13.9 -7.8l13.7 -7.7l13.3 -7.5l13 -7.3l12.7 -7.1l12.5 -7M124.2 434.1l15.5 -8l15 -8l14.6 -7.9l14.3 -7.8l14 -7.7l13.7 -7.6l13.3 -7.4l13 -7.3l12.7 -7.1l12.5 -7M117.8 431.5l15.4 -7.9l15.1 -7.9l14.6 -7.8l14.3 -7.7l14 -7.6l13.6 -7.5l13.3 -7.4l13.1 -7.3l12.7 -7.1l12.4 -6.9M111.5 429.3l15.4 -7.9l15 -7.7l14.6 -7.7l14.3 -7.6l14 -7.6l13.6 -7.4l13.4 -7.3l13 -7.3l12.7 -7.1l12.5 -6.9M105.3 427.4l15.3 -7.7l15 -7.6l14.7 -7.6l14.3 -7.6l13.9 -7.4l13.6 -7.4l13.3 -7.3l13.1 -7.2l12.7 -7.1l12.5 -7M99.1 426l15.4 -7.6l15 -7.6l14.6 -7.5l14.2 -7.4l14 -7.4l13.6 -7.3l13.3 -7.3l13 -7.2l12.8 -7.1l12.4 -7M93.1 425l15.3 -7.6l15 -7.4l14.6 -7.4l14.2 -7.4l13.9 -7.3l13.6 -7.3l13.3 -7.2l13.1 -7.2l12.7 -7l12.4 -7.1M87.1 424.3l15.3 -7.4l14.9 -7.4l14.6 -7.3l14.3 -7.3l13.9 -7.3l13.6 -7.2l13.3 -7.2l13 -7.1l12.7 -7.1l12.4 -7M81.2 424l15.3 -7.3l14.9 -7.3l14.6 -7.3l14.2 -7.2l13.9 -7.2l13.6 -7.1l13.2 -7.1l13 -7.1l12.7 -7.1l12.5 -7M75.4 424.1l15.3 -7.3l14.9 -7.2l14.5 -7.2l14.2 -7.1l13.9 -7.1l13.5 -7.1l13.3 -7.1l13 -7l12.7 -7l12.4 -7"/><path d="M205.7 497.7l15.4 -10l14.9 -9.8l14.6 -9.7l14.1 -9.7l13.9 -9.5l13.5 -9.4l13.2 -9.3l12.8 -9.2l12.6 -9l12.3 -9M198.4 489.8l15.3 -9.7l15 -9.7l14.6 -9.5l14.2 -9.4l13.8 -9.3l13.6 -9.1l13.2 -9l12.9 -8.8l12.5 -8.7l12.3 -8.6M191.1 482.4l15.4 -9.5l15 -9.5l14.5 -9.3l14.3 -9.2l13.9 -9.1l13.5 -8.9l13.2 -8.7l12.9 -8.5l12.6 -8.4l12.3 -8.2M183.9 475.5l15.4 -9.4l15 -9.3l14.6 -9.1l14.2 -9l13.9 -8.8l13.6 -8.7l13.2 -8.5l13 -8.3l12.6 -8.1l12.3 -7.8M176.8 469.1l15.4 -9.3l15 -9.1l14.6 -8.9l14.3 -8.9l13.9 -8.6l13.6 -8.5l13.2 -8.3l13 -8l12.6 -7.9l12.3 -7.6M169.7 463.1l15.4 -9.1l15 -8.9l14.7 -8.8l14.3 -8.7l13.9 -8.5l13.6 -8.3l13.3 -8.1l12.9 -7.9l12.7 -7.6l12.3 -7.4M162.7 457.5l15.5 -8.9l15 -8.7l14.6 -8.7l14.3 -8.5l14 -8.3l13.6 -8.2l13.3 -7.9l12.9 -7.8l12.7 -7.5l12.4 -7.2M155.9 452.4l15.4 -8.7l15 -8.6l14.7 -8.5l14.3 -8.4l13.9 -8.2l13.6 -8l13.3 -7.8l13 -7.6l12.7 -7.4l12.4 -7.1M149 447.8l15.5 -8.6l15 -8.5l14.7 -8.4l14.3 -8.2l13.9 -8.1l13.7 -7.9l13.3 -7.7l13 -7.5l12.7 -7.3l12.4 -7M142.3 443.5l15.4 -8.4l15.1 -8.3l14.6 -8.3l14.4 -8.1l13.9 -7.9l13.6 -7.8l13.4 -7.6l13 -7.5l12.7 -7.2l12.4 -7M135.7 439.8l15.4 -8.3l15 -8.3l14.7 -8.1l14.3 -8l14 -7.8l13.6 -7.7l13.3 -7.5l13 -7.4l12.8 -7.2l12.4 -6.9M129.1 436.4l15.4 -8.2l15.1 -8.1l14.6 -8l14.3 -7.8l14 -7.8l13.6 -7.6l13.4 -7.5l13 -7.3l12.7 -7.1l12.4 -7M122.6 433.4l15.4 -8l15.1 -8l14.6 -7.8l14.3 -7.8l14 -7.7l13.6 -7.5l13.4 -7.5l13 -7.2l12.7 -7.1l12.5 -7M116.2 430.9l15.4 -7.9l15.1 -7.9l14.6 -7.7l14.3 -7.7l14 -7.6l13.6 -7.5l13.3 -7.4l13.1 -7.2l12.7 -7.1l12.4 -7M109.9 428.8l15.4 -7.8l15 -7.8l14.7 -7.6l14.3 -7.6l13.9 -7.5l13.6 -7.5l13.4 -7.3l13 -7.2l12.7 -7.1l12.5 -7M103.7 427.1l15.4 -7.7l15 -7.7l14.6 -7.6l14.3 -7.5l13.9 -7.4l13.7 -7.4l13.3 -7.3l13 -7.1l12.7 -7.1l12.5 -7.1M97.6 425.7l15.4 -7.6l14.9 -7.5l14.6 -7.5l14.3 -7.4l13.9 -7.4l13.7 -7.3l13.3 -7.2l13 -7.2l12.7 -7.1l12.5 -7M91.6 424.8l15.3 -7.5l14.9 -7.5l14.6 -7.4l14.3 -7.3l13.9 -7.3l13.6 -7.3l13.3 -7.2l13 -7.1l12.7 -7.1l12.5 -7M85.6 424.2l15.3 -7.4l14.9 -7.4l14.6 -7.3l14.3 -7.3l13.9 -7.2l13.6 -7.2l13.2 -7.1l13 -7.1l12.8 -7.1l12.4 -7M79.7 424l15.3 -7.3l14.9 -7.3l14.6 -7.2l14.2 -7.2l13.9 -7.2l13.6 -7.1l13.2 -7.1l13 -7.1l12.7 -7l12.5 -7M74 424.1l15.2 -7.2l14.9 -7.2l14.5 -7.1l14.2 -7.2l13.9 -7l13.6 -7.1l13.2 -7.1l13 -7l12.7 -7l12.4 -6.9"/><path d="M203.9 495.7l15.3 -9.9l15 -9.8l14.5 -9.7l14.2 -9.6l13.9 -9.4l13.5 -9.4l13.2 -9.2l12.8 -9.1l12.6 -8.9l12.3 -8.9M196.6 487.9l15.3 -9.7l15 -9.6l14.6 -9.5l14.2 -9.3l13.8 -9.2l13.6 -9.1l13.2 -8.9l12.9 -8.8l12.6 -8.6l12.3 -8.4M189.3 480.7l15.4 -9.6l15 -9.4l14.6 -9.3l14.2 -9.1l13.9 -9l13.5 -8.8l13.2 -8.7l13 -8.5l12.6 -8.3l12.3 -8M182.1 473.9l15.4 -9.4l15 -9.2l14.6 -9.1l14.3 -9l13.9 -8.8l13.5 -8.6l13.3 -8.4l12.9 -8.3l12.6 -8l12.4 -7.8M175 467.5l15.4 -9.2l15 -9l14.6 -8.9l14.3 -8.8l13.9 -8.6l13.6 -8.5l13.3 -8.2l12.9 -8l12.7 -7.8l12.3 -7.6M168 461.6l15.4 -9l15 -8.9l14.6 -8.7l14.3 -8.7l14 -8.4l13.6 -8.3l13.2 -8l13 -7.9l12.6 -7.6l12.4 -7.4M161 456.2l15.4 -8.8l15.1 -8.8l14.6 -8.6l14.3 -8.5l14 -8.3l13.6 -8.1l13.2 -7.9l13 -7.7l12.7 -7.5l12.4 -7.2M154.1 451.2l15.5 -8.7l15 -8.6l14.7 -8.4l14.3 -8.4l13.9 -8.1l13.6 -8l13.3 -7.8l13 -7.6l12.7 -7.3l12.4 -7.1M147.4 446.7l15.4 -8.6l15 -8.4l14.7 -8.4l14.3 -8.1l13.9 -8.1l13.7 -7.9l13.3 -7.7l13 -7.4l12.7 -7.3l12.4 -7M140.6 442.6l15.5 -8.4l15 -8.4l14.7 -8.2l14.3 -8l13.9 -8l13.7 -7.7l13.3 -7.6l13 -7.4l12.7 -7.2l12.4 -7M134 438.9l15.4 -8.3l15.1 -8.2l14.6 -8l14.4 -8l13.9 -7.8l13.7 -7.7l13.3 -7.5l13 -7.4l12.7 -7.1l12.4 -7M127.5 435.6l15.4 -8.1l15 -8.1l14.7 -7.9l14.3 -7.9l14 -7.7l13.6 -7.6l13.3 -7.5l13 -7.3l12.8 -7.1l12.4 -7M121 432.8l15.4 -8l15.1 -8l14.6 -7.8l14.3 -7.8l14 -7.6l13.6 -7.6l13.3 -7.4l13.1 -7.2l12.7 -7.1l12.4 -7M114.7 430.3l15.4 -7.8l15 -7.9l14.6 -7.7l14.3 -7.7l14 -7.6l13.6 -7.4l13.3 -7.4l13.1 -7.2l12.7 -7.1l12.4 -7M108.4 428.3l15.4 -7.8l15 -7.7l14.6 -7.6l14.3 -7.6l13.9 -7.5l13.7 -7.4l13.3 -7.3l13 -7.2l12.7 -7.1l12.5 -7M102.2 426.7l15.4 -7.7l14.9 -7.6l14.7 -7.6l14.2 -7.4l14 -7.5l13.6 -7.3l13.3 -7.3l13 -7.2l12.8 -7.1l12.4 -7M96.1 425.4l15.3 -7.5l15 -7.5l14.6 -7.5l14.3 -7.4l13.9 -7.4l13.6 -7.3l13.3 -7.2l13 -7.2l12.8 -7.1l12.4 -7M90.1 424.6l15.3 -7.5l14.9 -7.4l14.6 -7.4l14.3 -7.3l13.9 -7.3l13.6 -7.2l13.3 -7.2l13 -7.2l12.7 -7l12.5 -7.1M84.1 424.1l15.3 -7.4l15 -7.3l14.5 -7.3l14.3 -7.3l13.9 -7.2l13.6 -7.2l13.2 -7.1l13 -7.1l12.7 -7.1l12.5 -7M78.3 424l15.3 -7.3l14.9 -7.3l14.5 -7.2l14.2 -7.1l13.9 -7.2l13.6 -7.1l13.3 -7.1l12.9 -7.1l12.7 -7l12.5 -7M72.5 424.2l15.3 -7.2l14.9 -7.1l14.5 -7.2l14.2 -7.1l13.8 -7.1l13.6 -7l13.3 -7l12.9 -7l12.7 -7l12.4 -7"/></g><circle cx="71.1" cy="424.4" r="2" fill="#ffb4b4" stroke="#b85050" stroke-width=".7"/><circle cx="208.7" cy="353.8" r="2" fill="#ffb4b4" stroke="#b85050" stroke-width=".7"/><circle cx="346.6" cy="405.7" r="2" fill="#ffb4b4" stroke="#b85050" stroke-width=".7"/><circle cx="209.4" cy="501.8" r="2" fill="#ffb4b4" stroke="#b85050" stroke-width=".7"/><circle cx="207.9" cy="396.9" r="2.1" fill="#d01018" stroke="#700" stroke-width=".6"/><text transform="translate(301 586.5) rotate(-23.5)" font-family="Liberation Sans,sans-serif" font-weight="bold" font-size="11.9" text-anchor="middle">A: Days of fermentation</text><text transform="translate(107.5 583.5) rotate(19.7)" font-family="Liberation Sans,sans-serif" font-weight="bold" font-size="12.2" text-anchor="middle">C: Volume of silver nitrate</text><text transform="translate(105 596) rotate(19.7)" font-family="Liberation Sans,sans-serif" font-weight="bold" font-size="12.2" text-anchor="middle">(mL)</text><text x="3" y="346" font-family="Liberation Sans,sans-serif" font-weight="bold" font-size="17.6">(c)</text></g>
<g><path d="M80.2 786.9L210.5 753.7L342.3 787.4M79.3 765.2L210.6 734.3L343.3 765.7M78.4 743.4L210.7 714.9L344.3 744M77.4 721.7L210.8 695.5L345.3 722.3M76.5 700L210.8 676.1L346.3 700.5M75.6 678.2L210.9 656.7L347.3 678.8M74.7 656.5L211 637.3L348.3 657.1M80.2 786.9L74.7 656.5M112.8 778.6L108.8 651.7M145.4 770.3L142.9 646.9M178 762L176.9 642.1M210.5 753.7L211 637.3M342.3 787.4L348.3 657.1M309.4 779L314 652.1M276.4 770.6L279.6 647.2M243.5 762.2L245.3 642.2M210.5 753.7L211 637.3M81.9 828L74.7 656.5M210.4 790.4L211 637.3M340.4 828.5L348.3 657.1" fill="none" stroke="#3c3c3c" stroke-width=".9"/><path d="M81.9 828L210.4 790.4L340.4 828.5L211.3 876.6Z" fill="#ff0" stroke="#222" stroke-width="1"/><path d="M187 867.5L194.1 866.1L201.2 864.8L208.3 863.5L215.3 862.2L222.3 860.9L229.2 859.6L236.1 858.3L243 857.1L249.8 855.8L256.6 854.6L263.3 853.4L270 852.2L276.8 850.9L283.5 849.7" fill="none" stroke="#84e838" stroke-width="1"/><path d="M210.7 790.5L207.8 792.2L204.9 793.9L202.2 795.7L199.5 797.5L197.1 799.4L195.5 800.9L193.8 803L192.8 804.5L192.4 806.4L192.9 808.3L194.8 810.3L200 812.5L207.6 814L212.6 814.5L219.8 815L225.5 815.2L231.4 815.3L237.7 815.3L244.2 815.2L251 815.1L256.8 814.9L262.2 814.6L269 814.3L275.2 813.9L280.4 813.6L287.9 813.1" fill="none" stroke="#f0601a" stroke-width="1"/><path d="M211.3 876.6L211.9 878.4" stroke="#111" stroke-width="1.2"/><text x="219.3" y="887.6" font-family="Liberation Serif,serif" font-weight="bold" font-size="13.3" text-anchor="middle">12</text><path d="M243.6 864.6L244.2 866.4" stroke="#111" stroke-width="1.2"/><text x="244.1" y="878" font-family="Liberation Serif,serif" font-weight="bold" font-size="13.3" text-anchor="middle">18</text><path d="M275.9 852.5L276.5 854.3" stroke="#111" stroke-width="1.2"/><text x="275.2" y="865.5" font-family="Liberation Serif,serif" font-weight="bold" font-size="13.3" text-anchor="middle">24</text><path d="M308.1 840.5L308.7 842.3" stroke="#111" stroke-width="1.2"/><text x="308.6" y="853.2" font-family="Liberation Serif,serif" font-weight="bold" font-size="13.3" text-anchor="middle">30</text><path d="M340.4 828.5L341 830.3" stroke="#111" stroke-width="1.2"/><text x="344.7" y="841.5" font-family="Liberation Serif,serif" font-weight="bold" font-size="13.3" text-anchor="middle">36</text><path d="M211.3 876.6L210.7 878.4" stroke="#111" stroke-width="1.2"/><text x="204.1" y="887.2" font-family="Liberation Serif,serif" font-weight="bold" font-size="13.3" text-anchor="middle">5</text><path d="M179 864.5L178.4 866.2" stroke="#111" stroke-width="1.2"/><text x="168.5" y="874" font-family="Liberation Serif,serif" font-weight="bold" font-size="13.3" text-anchor="middle">10</text><path d="M146.6 852.3L146 854.1" stroke="#111" stroke-width="1.2"/><text x="135.2" y="862.5" font-family="Liberation Serif,serif" font-weight="bold" font-size="13.3" text-anchor="middle">15</text><path d="M114.2 840.1L113.7 841.9" stroke="#111" stroke-width="1.2"/><text x="103.3" y="850" font-family="Liberation Serif,serif" font-weight="bold" font-size="13.3" text-anchor="middle">20</text><path d="M81.9 828L81.3 829.8" stroke="#111" stroke-width="1.2"/><text x="70" y="835.9" font-family="Liberation Serif,serif" font-weight="bold" font-size="13.3" text-anchor="middle">25</text><text x="76.2" y="791.9" font-family="Liberation Serif,serif" font-weight="bold" font-size="12.6" text-anchor="end">0.2</text><path d="M77.7 787.2L80.2 786.9" stroke="#222" stroke-width="1"/><text x="75.3" y="770.1" font-family="Liberation Serif,serif" font-weight="bold" font-size="12.6" text-anchor="end">0.3</text><path d="M76.8 765.5L79.3 765.2" stroke="#222" stroke-width="1"/><text x="74.4" y="748.4" font-family="Liberation Serif,serif" font-weight="bold" font-size="12.6" text-anchor="end">0.4</text><path d="M75.9 743.7L78.4 743.4" stroke="#222" stroke-width="1"/><text x="73.4" y="726.7" font-family="Liberation Serif,serif" font-weight="bold" font-size="12.6" text-anchor="end">0.5</text><path d="M74.9 722L77.4 721.7" stroke="#222" stroke-width="1"/><text x="72.5" y="704.9" font-family="Liberation Serif,serif" font-weight="bold" font-size="12.6" text-anchor="end">0.6</text><path d="M74 700.3L76.5 700" stroke="#222" stroke-width="1"/><text x="71.6" y="683.2" font-family="Liberation Serif,serif" font-weight="bold" font-size="12.6" text-anchor="end">0.7</text><path d="M73.1 678.5L75.6 678.2" stroke="#222" stroke-width="1"/><text x="70.7" y="661.5" font-family="Liberation Serif,serif" font-weight="bold" font-size="12.6" text-anchor="end">0.8</text><path d="M72.2 656.8L74.7 656.5" stroke="#222" stroke-width="1"/><g stroke-width=".7" stroke-linejoin="round"><path d="M79.2 694.6l5.4 -1.4l5.4 -1.5l5.3 -1.4l5.2 -1.4l5.2 -1.4l5.2 -1.4l5.1 -1.4l5 -1.4l5.1 -1.4l5 -1.4l4.9 -1.3l4.9 -1.4l4.8 -1.4l4.9 -1.3l4.7 -1.3l4.8 -1.3l4.7 -1.4l4.6 -1.3l4.6 -1.3l4.6 -1.3l4.5 -1.2l4.6 -1.3l4.4 -1.3l4.4 -1.3l4.4 -1.2l4.4 -1.3l4.3 -1.2l4.3 -1.2l-3 .4l-4.3 1.2l-4.3 1.3l-4.4 1.2l-4.4 1.2l-4.4 1.3l-4.5 1.2l-4.5 1.3l-4.5 1.3l-4.6 1.3l-4.6 1.2l-4.6 1.3l-4.7 1.3l-4.8 1.3l-4.7 1.3l-4.8 1.4l-4.9 1.3l-4.9 1.3l-4.9 1.4l-5 1.3l-5 1.4l-5.1 1.3l-5.1 1.4l-5.1 1.4l-5.2 1.4l-5.3 1.4l-5.3 1.4l-5.3 1.4l-5.4 1.5z" fill="url(#e39)" stroke="url(#e39)"/><path d="M82.2 694.8l5.4 -1.5l5.3 -1.5l5.3 -1.4l5.3 -1.5l5.2 -1.4l5.1 -1.4l5.2 -1.4l5 -1.5l5.1 -1.4l4.9 -1.3l5 -1.4l4.9 -1.4l4.8 -1.4l4.9 -1.3l4.7 -1.4l4.8 -1.3l4.7 -1.4l4.6 -1.3l4.6 -1.3l4.6 -1.3l4.6 -1.3l4.5 -1.3l4.4 -1.3l4.5 -1.3l4.4 -1.2l4.3 -1.3l4.4 -1.2l4.3 -1.3l-3.1 .4l-4.3 1.2l-4.3 1.2l-4.4 1.3l-4.4 1.2l-4.4 1.3l-4.4 1.3l-4.6 1.3l-4.5 1.2l-4.6 1.3l-4.6 1.3l-4.6 1.3l-4.7 1.4l-4.8 1.3l-4.7 1.3l-4.9 1.3l-4.8 1.4l-4.9 1.4l-4.9 1.3l-5 1.4l-5.1 1.4l-5 1.4l-5.1 1.4l-5.2 1.4l-5.2 1.4l-5.2 1.4l-5.3 1.4l-5.4 1.5l-5.4 1.4z" fill="url(#e38)" stroke="url(#e38)"/><path d="M85.1 695l5.4 -1.5l5.4 -1.5l5.3 -1.4l5.3 -1.5l5.2 -1.5l5.1 -1.4l5.2 -1.5l5 -1.4l5.1 -1.4l5 -1.4l4.9 -1.4l4.9 -1.4l4.9 -1.4l4.8 -1.4l4.8 -1.3l4.7 -1.4l4.7 -1.3l4.7 -1.4l4.6 -1.3l4.6 -1.3l4.5 -1.4l4.5 -1.3l4.5 -1.3l4.4 -1.2l4.4 -1.3l4.4 -1.3l4.3 -1.3l4.3 -1.2l-3 .2l-4.3 1.3l-4.4 1.2l-4.3 1.3l-4.4 1.2l-4.5 1.3l-4.4 1.3l-4.5 1.3l-4.6 1.3l-4.6 1.3l-4.6 1.3l-4.6 1.3l-4.7 1.4l-4.8 1.3l-4.7 1.4l-4.9 1.3l-4.8 1.4l-4.9 1.4l-5 1.4l-4.9 1.3l-5.1 1.4l-5 1.5l-5.2 1.4l-5.1 1.4l-5.2 1.4l-5.3 1.5l-5.3 1.4l-5.3 1.5l-5.4 1.5z" fill="url(#e37)" stroke="url(#e37)"/><path d="M88.1 695.4l5.5 -1.6l5.3 -1.5l5.3 -1.5l5.3 -1.5l5.2 -1.4l5.2 -1.5l5.1 -1.5l5.1 -1.4l5 -1.5l5 -1.4l5 -1.4l4.9 -1.4l4.8 -1.4l4.8 -1.4l4.8 -1.4l4.8 -1.4l4.7 -1.3l4.6 -1.4l4.7 -1.3l4.5 -1.4l4.6 -1.3l4.5 -1.3l4.5 -1.3l4.4 -1.3l4.4 -1.3l4.4 -1.3l4.3 -1.3l4.3 -1.2l-3.1 .1l-4.3 1.2l-4.3 1.3l-4.4 1.3l-4.4 1.3l-4.4 1.2l-4.5 1.3l-4.5 1.3l-4.5 1.4l-4.6 1.3l-4.6 1.3l-4.7 1.4l-4.7 1.3l-4.7 1.4l-4.8 1.3l-4.8 1.4l-4.9 1.4l-4.9 1.4l-4.9 1.4l-5 1.4l-5.1 1.4l-5 1.4l-5.2 1.5l-5.1 1.4l-5.2 1.5l-5.3 1.5l-5.3 1.4l-5.4 1.5l-5.4 1.5z" fill="url(#e36)" stroke="url(#e36)"/><path d="M91.2 695.8l5.4 -1.5l5.3 -1.6l5.4 -1.5l5.2 -1.5l5.2 -1.5l5.2 -1.5l5.1 -1.5l5.1 -1.5l5.1 -1.4l5 -1.5l4.9 -1.4l4.9 -1.5l4.9 -1.4l4.8 -1.4l4.8 -1.4l4.7 -1.4l4.7 -1.4l4.7 -1.3l4.6 -1.4l4.6 -1.3l4.6 -1.4l4.5 -1.3l4.5 -1.3l4.4 -1.3l4.4 -1.3l4.4 -1.3l4.3 -1.3l4.3 -1.2l-3.1 0l-4.3 1.2l-4.3 1.3l-4.4 1.3l-4.4 1.3l-4.4 1.3l-4.5 1.3l-4.5 1.3l-4.6 1.3l-4.5 1.4l-4.7 1.3l-4.6 1.4l-4.7 1.3l-4.8 1.4l-4.8 1.4l-4.8 1.4l-4.8 1.4l-4.9 1.4l-5 1.4l-5 1.4l-5 1.5l-5.1 1.4l-5.1 1.5l-5.2 1.5l-5.2 1.4l-5.3 1.5l-5.3 1.5l-5.3 1.5l-5.5 1.6z" fill="url(#e35)" stroke="url(#e35)"/><path d="M94.2 696.4l5.4 -1.6l5.4 -1.6l5.3 -1.5l5.3 -1.6l5.2 -1.5l5.2 -1.5l5.1 -1.5l5.1 -1.5l5 -1.5l5 -1.5l5 -1.4l4.9 -1.5l4.9 -1.4l4.8 -1.5l4.8 -1.4l4.7 -1.4l4.7 -1.4l4.7 -1.3l4.6 -1.4l4.6 -1.4l4.6 -1.3l4.5 -1.4l4.5 -1.3l4.4 -1.3l4.4 -1.3l4.4 -1.3l4.3 -1.2l4.3 -1.3l-3.1 -.1l-4.3 1.2l-4.3 1.3l-4.4 1.3l-4.4 1.3l-4.4 1.3l-4.5 1.3l-4.5 1.3l-4.6 1.4l-4.6 1.3l-4.6 1.4l-4.7 1.3l-4.7 1.4l-4.7 1.4l-4.8 1.4l-4.8 1.4l-4.9 1.4l-4.9 1.5l-4.9 1.4l-5 1.5l-5.1 1.4l-5.1 1.5l-5.1 1.5l-5.2 1.5l-5.2 1.5l-5.2 1.5l-5.4 1.5l-5.3 1.6l-5.4 1.5z" fill="url(#e34)" stroke="url(#e34)"/><path d="M97.3 697l5.4 -1.6l5.4 -1.6l5.3 -1.6l5.3 -1.5l5.2 -1.6l5.2 -1.5l5.1 -1.6l5.1 -1.5l5.1 -1.5l5 -1.5l4.9 -1.5l4.9 -1.4l4.9 -1.5l4.8 -1.4l4.8 -1.5l4.8 -1.4l4.7 -1.4l4.6 -1.4l4.7 -1.4l4.6 -1.3l4.5 -1.4l4.5 -1.3l4.5 -1.3l4.4 -1.4l4.4 -1.3l4.4 -1.2l4.4 -1.3l4.2 -1.3l-3.1 -.2l-4.3 1.3l-4.3 1.2l-4.4 1.3l-4.4 1.3l-4.4 1.3l-4.5 1.3l-4.5 1.4l-4.6 1.3l-4.6 1.4l-4.6 1.4l-4.7 1.3l-4.7 1.4l-4.7 1.4l-4.8 1.4l-4.8 1.5l-4.9 1.4l-4.9 1.5l-5 1.4l-5 1.5l-5 1.5l-5.1 1.5l-5.1 1.5l-5.2 1.5l-5.2 1.5l-5.3 1.6l-5.3 1.5l-5.4 1.6l-5.4 1.6z" fill="url(#e33)" stroke="url(#e33)"/><path d="M100.4 697.7l5.4 -1.6l5.4 -1.6l5.3 -1.6l5.3 -1.6l5.2 -1.6l5.2 -1.5l5.1 -1.6l5.1 -1.5l5.1 -1.6l5 -1.5l4.9 -1.5l5 -1.5l4.8 -1.4l4.9 -1.5l4.8 -1.4l4.7 -1.5l4.7 -1.4l4.7 -1.4l4.6 -1.4l4.6 -1.4l4.6 -1.3l4.5 -1.4l4.5 -1.3l4.4 -1.3l4.4 -1.3l4.4 -1.3l4.3 -1.3l4.3 -1.2l-3.2 -.4l-4.2 1.3l-4.4 1.3l-4.4 1.2l-4.4 1.3l-4.4 1.4l-4.5 1.3l-4.5 1.3l-4.5 1.4l-4.6 1.3l-4.7 1.4l-4.6 1.4l-4.7 1.4l-4.8 1.4l-4.8 1.5l-4.8 1.4l-4.9 1.5l-4.9 1.4l-4.9 1.5l-5 1.5l-5.1 1.5l-5.1 1.5l-5.1 1.6l-5.2 1.5l-5.2 1.6l-5.3 1.5l-5.3 1.6l-5.4 1.6l-5.4 1.6z" fill="url(#e32)" stroke="url(#e32)"/><path d="M103.5 698.6l5.4 -1.7l5.4 -1.6l5.3 -1.6l5.3 -1.7l5.3 -1.6l5.1 -1.5l5.2 -1.6l5.1 -1.6l5 -1.5l5 -1.6l5 -1.5l4.9 -1.5l4.9 -1.5l4.8 -1.5l4.8 -1.4l4.8 -1.5l4.7 -1.4l4.6 -1.4l4.7 -1.4l4.6 -1.4l4.5 -1.4l4.5 -1.3l4.5 -1.4l4.5 -1.3l4.4 -1.3l4.3 -1.3l4.4 -1.2l4.3 -1.3l-3.2 -.4l-4.3 1.2l-4.3 1.3l-4.4 1.3l-4.4 1.3l-4.4 1.3l-4.5 1.3l-4.5 1.4l-4.6 1.3l-4.6 1.4l-4.6 1.4l-4.7 1.4l-4.7 1.4l-4.7 1.5l-4.8 1.4l-4.9 1.5l-4.8 1.4l-5 1.5l-4.9 1.5l-5 1.5l-5.1 1.6l-5.1 1.5l-5.1 1.6l-5.2 1.5l-5.2 1.6l-5.3 1.6l-5.3 1.6l-5.4 1.6l-5.4 1.6z" fill="url(#e31)" stroke="url(#e31)"/><path d="M106.7 699.5l5.4 -1.7l5.4 -1.6l5.3 -1.7l5.3 -1.6l5.2 -1.6l5.2 -1.7l5.1 -1.6l5.1 -1.6l5.1 -1.5l5 -1.6l5 -1.5l4.9 -1.6l4.9 -1.5l4.8 -1.5l4.8 -1.4l4.7 -1.5l4.8 -1.5l4.6 -1.4l4.7 -1.4l4.6 -1.4l4.5 -1.4l4.5 -1.3l4.5 -1.4l4.5 -1.3l4.4 -1.3l4.3 -1.2l4.4 -1.3l4.3 -1.2l-3.2 -.6l-4.3 1.3l-4.4 1.2l-4.3 1.3l-4.4 1.3l-4.5 1.3l-4.5 1.4l-4.5 1.3l-4.5 1.4l-4.6 1.4l-4.7 1.4l-4.6 1.4l-4.7 1.4l-4.8 1.5l-4.8 1.4l-4.8 1.5l-4.9 1.5l-4.9 1.5l-5 1.5l-5 1.6l-5 1.5l-5.1 1.6l-5.2 1.6l-5.1 1.5l-5.3 1.6l-5.3 1.7l-5.3 1.6l-5.4 1.6l-5.4 1.7z" fill="url(#e30)" stroke="url(#e30)"/><path d="M109.8 700.6l5.5 -1.7l5.3 -1.7l5.4 -1.7l5.3 -1.7l5.2 -1.6l5.2 -1.7l5.1 -1.6l5.1 -1.6l5.1 -1.6l5 -1.6l5 -1.6l4.9 -1.5l4.9 -1.5l4.8 -1.6l4.8 -1.4l4.7 -1.5l4.8 -1.5l4.6 -1.4l4.7 -1.4l4.6 -1.4l4.5 -1.4l4.5 -1.4l4.5 -1.3l4.5 -1.3l4.4 -1.3l4.3 -1.3l4.4 -1.3l4.3 -1.2l-3.2 -.6l-4.3 1.2l-4.4 1.3l-4.3 1.2l-4.4 1.3l-4.5 1.3l-4.5 1.4l-4.5 1.3l-4.5 1.4l-4.6 1.4l-4.7 1.4l-4.6 1.4l-4.8 1.5l-4.7 1.5l-4.8 1.4l-4.8 1.5l-4.9 1.5l-4.9 1.6l-5 1.5l-5 1.6l-5.1 1.5l-5.1 1.6l-5.1 1.6l-5.2 1.7l-5.2 1.6l-5.3 1.6l-5.3 1.7l-5.4 1.6l-5.4 1.7z" fill="url(#e29)" stroke="url(#e29)"/><path d="M113 701.7l5.5 -1.7l5.3 -1.7l5.4 -1.7l5.3 -1.7l5.2 -1.7l5.2 -1.7l5.1 -1.6l5.1 -1.7l5.1 -1.6l5 -1.6l5 -1.6l4.9 -1.6l4.9 -1.5l4.8 -1.5l4.8 -1.6l4.8 -1.5l4.7 -1.4l4.7 -1.5l4.6 -1.4l4.6 -1.4l4.5 -1.4l4.6 -1.4l4.4 -1.3l4.5 -1.3l4.4 -1.3l4.4 -1.3l4.3 -1.2l4.3 -1.3l-3.2 -.7l-4.3 1.2l-4.4 1.3l-4.3 1.3l-4.4 1.3l-4.5 1.3l-4.5 1.3l-4.5 1.4l-4.5 1.4l-4.6 1.4l-4.7 1.4l-4.6 1.4l-4.8 1.5l-4.7 1.5l-4.8 1.4l-4.8 1.6l-4.9 1.5l-4.9 1.5l-5 1.6l-5 1.6l-5.1 1.6l-5.1 1.6l-5.1 1.6l-5.2 1.7l-5.2 1.6l-5.3 1.7l-5.4 1.7l-5.3 1.7l-5.5 1.7z" fill="url(#e28)" stroke="url(#e28)"/><path d="M116.2 703l5.5 -1.8l5.4 -1.7l5.3 -1.8l5.3 -1.7l5.2 -1.7l5.2 -1.7l5.2 -1.7l5.1 -1.6l5 -1.7l5 -1.6l5 -1.6l4.9 -1.6l4.9 -1.6l4.9 -1.5l4.8 -1.6l4.7 -1.5l4.7 -1.5l4.7 -1.4l4.6 -1.5l4.6 -1.4l4.6 -1.4l4.5 -1.4l4.5 -1.3l4.4 -1.3l4.4 -1.3l4.4 -1.3l4.3 -1.2l4.3 -1.2l-3.2 -.9l-4.3 1.3l-4.3 1.2l-4.4 1.3l-4.4 1.3l-4.5 1.3l-4.4 1.3l-4.6 1.4l-4.5 1.4l-4.6 1.4l-4.6 1.4l-4.7 1.5l-4.7 1.4l-4.8 1.5l-4.8 1.6l-4.8 1.5l-4.9 1.5l-4.9 1.6l-5 1.6l-5 1.6l-5.1 1.6l-5.1 1.7l-5.1 1.6l-5.2 1.7l-5.2 1.7l-5.3 1.7l-5.4 1.7l-5.3 1.7l-5.5 1.7z" fill="url(#e27)" stroke="url(#e27)"/><path d="M119.5 704.4l5.4 -1.8l5.4 -1.8l5.4 -1.8l5.2 -1.8l5.3 -1.7l5.2 -1.7l5.1 -1.7l5.1 -1.7l5.1 -1.7l5 -1.6l5 -1.7l4.9 -1.6l4.9 -1.6l4.8 -1.5l4.8 -1.6l4.8 -1.5l4.7 -1.5l4.7 -1.5l4.6 -1.4l4.6 -1.5l4.6 -1.4l4.5 -1.3l4.5 -1.4l4.4 -1.3l4.4 -1.3l4.4 -1.3l4.3 -1.2l4.3 -1.2l-3.3 -.9l-4.3 1.2l-4.3 1.2l-4.4 1.3l-4.4 1.3l-4.4 1.3l-4.5 1.3l-4.5 1.4l-4.6 1.4l-4.6 1.4l-4.6 1.5l-4.7 1.4l-4.7 1.5l-4.7 1.5l-4.8 1.6l-4.9 1.5l-4.9 1.6l-4.9 1.6l-5 1.6l-5 1.6l-5 1.7l-5.1 1.6l-5.2 1.7l-5.2 1.7l-5.2 1.7l-5.3 1.7l-5.3 1.8l-5.4 1.7l-5.5 1.8z" fill="url(#e26)" stroke="url(#e26)"/><path d="M122.7 705.8l5.5 -1.8l5.4 -1.8l5.3 -1.8l5.3 -1.8l5.3 -1.8l5.2 -1.7l5.1 -1.8l5.1 -1.7l5.1 -1.7l5 -1.7l5 -1.6l4.9 -1.6l4.9 -1.7l4.8 -1.5l4.8 -1.6l4.8 -1.5l4.7 -1.6l4.7 -1.5l4.6 -1.4l4.6 -1.5l4.5 -1.4l4.6 -1.3l4.4 -1.4l4.5 -1.3l4.4 -1.3l4.3 -1.3l4.4 -1.2l4.3 -1.2l-3.3 -1l-4.3 1.2l-4.3 1.2l-4.4 1.3l-4.4 1.3l-4.4 1.3l-4.5 1.4l-4.5 1.3l-4.6 1.4l-4.6 1.5l-4.6 1.4l-4.7 1.5l-4.7 1.5l-4.8 1.5l-4.8 1.6l-4.8 1.5l-4.9 1.6l-4.9 1.6l-5 1.7l-5 1.6l-5.1 1.7l-5.1 1.7l-5.1 1.7l-5.2 1.7l-5.3 1.7l-5.2 1.8l-5.4 1.8l-5.4 1.8l-5.4 1.8z" fill="url(#e25)" stroke="url(#e25)"/><path d="M126 707.4l5.5 -1.8l5.4 -1.9l5.3 -1.8l5.3 -1.8l5.3 -1.8l5.2 -1.8l5.1 -1.8l5.1 -1.7l5.1 -1.8l5 -1.7l5 -1.6l4.9 -1.7l4.9 -1.6l4.8 -1.6l4.8 -1.6l4.8 -1.6l4.7 -1.5l4.7 -1.5l4.6 -1.5l4.6 -1.4l4.5 -1.5l4.6 -1.3l4.4 -1.4l4.5 -1.3l4.4 -1.3l4.3 -1.3l4.4 -1.2l4.3 -1.2l-3.3 -1.1l-4.3 1.2l-4.4 1.2l-4.3 1.3l-4.4 1.3l-4.5 1.3l-4.4 1.4l-4.6 1.3l-4.5 1.4l-4.6 1.5l-4.6 1.4l-4.7 1.5l-4.7 1.6l-4.8 1.5l-4.8 1.6l-4.8 1.5l-4.9 1.7l-4.9 1.6l-5 1.6l-5 1.7l-5.1 1.7l-5.1 1.7l-5.1 1.8l-5.2 1.7l-5.3 1.8l-5.3 1.8l-5.3 1.8l-5.4 1.8l-5.5 1.8z" fill="url(#e24)" stroke="url(#e24)"/><path d="M129.4 709.1l5.4 -1.9l5.4 -1.9l5.3 -1.8l5.3 -1.9l5.3 -1.8l5.2 -1.8l5.1 -1.8l5.1 -1.8l5.1 -1.7l5 -1.8l5 -1.7l4.9 -1.7l4.9 -1.6l4.8 -1.6l4.8 -1.7l4.8 -1.5l4.7 -1.6l4.7 -1.5l4.6 -1.5l4.6 -1.4l4.6 -1.5l4.5 -1.4l4.5 -1.3l4.4 -1.4l4.4 -1.2l4.4 -1.3l4.3 -1.2l4.3 -1.2l-3.3 -1.2l-4.3 1.2l-4.4 1.2l-4.3 1.3l-4.4 1.3l-4.5 1.3l-4.4 1.4l-4.6 1.3l-4.5 1.5l-4.6 1.4l-4.6 1.5l-4.7 1.5l-4.7 1.5l-4.8 1.6l-4.8 1.6l-4.8 1.6l-4.9 1.6l-4.9 1.7l-5 1.6l-5 1.7l-5.1 1.8l-5.1 1.7l-5.1 1.8l-5.2 1.8l-5.3 1.8l-5.3 1.8l-5.3 1.8l-5.4 1.9l-5.5 1.8z" fill="url(#e23)" stroke="url(#e23)"/><path d="M132.7 710.9l5.4 -1.9l5.4 -1.9l5.4 -1.9l5.3 -1.9l5.2 -1.9l5.2 -1.8l5.2 -1.8l5.1 -1.8l5 -1.8l5.1 -1.8l4.9 -1.7l5 -1.7l4.8 -1.7l4.9 -1.7l4.8 -1.6l4.7 -1.6l4.8 -1.5l4.6 -1.6l4.7 -1.5l4.6 -1.5l4.5 -1.4l4.5 -1.4l4.5 -1.4l4.4 -1.3l4.4 -1.3l4.4 -1.2l4.3 -1.3l4.3 -1.2l-3.3 -1.2l-4.3 1.2l-4.3 1.2l-4.4 1.3l-4.4 1.2l-4.4 1.4l-4.5 1.3l-4.5 1.4l-4.6 1.5l-4.6 1.4l-4.6 1.5l-4.7 1.5l-4.7 1.6l-4.8 1.5l-4.8 1.7l-4.8 1.6l-4.9 1.6l-4.9 1.7l-5 1.7l-5 1.8l-5.1 1.7l-5.1 1.8l-5.1 1.8l-5.2 1.8l-5.3 1.8l-5.3 1.9l-5.3 1.8l-5.4 1.9l-5.4 1.9z" fill="url(#e22)" stroke="url(#e22)"/><path d="M136 712.8l5.5 -1.9l5.4 -2l5.3 -1.9l5.3 -1.9l5.3 -1.9l5.2 -1.9l5.1 -1.9l5.1 -1.8l5.1 -1.8l5 -1.8l5 -1.7l4.9 -1.8l4.9 -1.7l4.8 -1.7l4.8 -1.6l4.8 -1.6l4.7 -1.6l4.7 -1.6l4.6 -1.5l4.6 -1.5l4.6 -1.4l4.5 -1.4l4.5 -1.4l4.4 -1.3l4.4 -1.3l4.3 -1.3l4.4 -1.2l4.3 -1.2l-3.4 -1.4l-4.3 1.2l-4.3 1.3l-4.4 1.2l-4.4 1.3l-4.4 1.3l-4.5 1.4l-4.5 1.4l-4.5 1.4l-4.6 1.5l-4.7 1.5l-4.6 1.6l-4.8 1.5l-4.7 1.6l-4.8 1.6l-4.9 1.7l-4.8 1.7l-5 1.7l-4.9 1.7l-5.1 1.8l-5 1.8l-5.1 1.8l-5.2 1.8l-5.2 1.8l-5.2 1.9l-5.3 1.9l-5.4 1.9l-5.4 1.9l-5.4 1.9z" fill="url(#e21)" stroke="url(#e21)"/><path d="M139.4 714.9l5.5 -2l5.4 -2l5.3 -2l5.3 -1.9l5.3 -2l5.2 -1.9l5.1 -1.9l5.1 -1.8l5.1 -1.9l5 -1.8l5 -1.8l4.9 -1.7l4.9 -1.8l4.8 -1.7l4.8 -1.6l4.8 -1.7l4.7 -1.6l4.7 -1.6l4.6 -1.5l4.6 -1.5l4.5 -1.5l4.6 -1.4l4.4 -1.4l4.5 -1.3l4.4 -1.3l4.3 -1.3l4.3 -1.2l4.3 -1.2l-3.3 -1.4l-4.3 1.2l-4.4 1.2l-4.3 1.3l-4.4 1.3l-4.4 1.3l-4.5 1.4l-4.5 1.4l-4.6 1.4l-4.6 1.5l-4.6 1.5l-4.7 1.6l-4.7 1.6l-4.8 1.6l-4.8 1.6l-4.8 1.7l-4.9 1.7l-4.9 1.8l-5 1.7l-5 1.8l-5.1 1.8l-5.1 1.8l-5.1 1.9l-5.2 1.9l-5.3 1.9l-5.3 1.9l-5.3 1.9l-5.4 2l-5.5 1.9z" fill="url(#e20)" stroke="url(#e20)"/><path d="M142.8 717l5.5 -2l5.4 -2.1l5.3 -2l5.3 -1.9l5.3 -2l5.2 -2l5.1 -1.9l5.1 -1.9l5.1 -1.8l5 -1.9l5 -1.8l4.9 -1.8l4.9 -1.8l4.8 -1.7l4.8 -1.7l4.8 -1.6l4.7 -1.7l4.7 -1.6l4.6 -1.5l4.6 -1.5l4.5 -1.5l4.6 -1.5l4.4 -1.4l4.5 -1.3l4.4 -1.3l4.3 -1.3l4.3 -1.2l4.3 -1.2l-3.4 -1.5l-4.3 1.2l-4.3 1.2l-4.3 1.3l-4.4 1.3l-4.5 1.3l-4.4 1.4l-4.6 1.4l-4.5 1.5l-4.6 1.5l-4.6 1.5l-4.7 1.6l-4.7 1.6l-4.8 1.7l-4.8 1.6l-4.8 1.7l-4.9 1.8l-4.9 1.7l-5 1.8l-5 1.8l-5.1 1.9l-5.1 1.8l-5.1 1.9l-5.2 1.9l-5.3 2l-5.3 1.9l-5.3 2l-5.4 2l-5.5 2z" fill="url(#e19)" stroke="url(#e19)"/><path d="M146.3 719.3l5.4 -2.1l5.4 -2.1l5.4 -2l5.2 -2l5.3 -2l5.2 -2l5.2 -2l5.1 -1.9l5 -1.9l5 -1.9l5 -1.8l4.9 -1.8l4.9 -1.8l4.9 -1.8l4.8 -1.7l4.7 -1.7l4.7 -1.6l4.7 -1.7l4.6 -1.5l4.6 -1.6l4.6 -1.5l4.5 -1.4l4.4 -1.5l4.5 -1.3l4.4 -1.4l4.3 -1.2l4.3 -1.3l4.3 -1.2l-3.4 -1.5l-4.3 1.2l-4.3 1.2l-4.3 1.3l-4.4 1.3l-4.5 1.3l-4.4 1.4l-4.6 1.5l-4.5 1.5l-4.6 1.5l-4.6 1.5l-4.7 1.6l-4.7 1.7l-4.8 1.6l-4.8 1.7l-4.8 1.7l-4.9 1.8l-4.9 1.8l-5 1.8l-5 1.9l-5.1 1.8l-5.1 1.9l-5.1 1.9l-5.2 2l-5.3 2l-5.3 1.9l-5.3 2l-5.4 2.1l-5.5 2z" fill="url(#e18)" stroke="url(#e18)"/><path d="M149.7 721.6l5.5 -2.1l5.4 -2.1l5.3 -2.1l5.3 -2l5.2 -2.1l5.2 -2l5.2 -2l5.1 -1.9l5.1 -2l5 -1.9l5 -1.9l4.9 -1.8l4.9 -1.8l4.8 -1.8l4.8 -1.7l4.7 -1.8l4.8 -1.6l4.6 -1.7l4.7 -1.6l4.5 -1.5l4.6 -1.6l4.5 -1.4l4.5 -1.5l4.4 -1.4l4.4 -1.3l4.3 -1.3l4.3 -1.3l4.3 -1.2l-3.4 -1.6l-4.3 1.2l-4.3 1.3l-4.3 1.2l-4.4 1.4l-4.5 1.3l-4.4 1.5l-4.5 1.4l-4.6 1.5l-4.6 1.6l-4.6 1.5l-4.7 1.7l-4.7 1.6l-4.7 1.7l-4.8 1.7l-4.9 1.8l-4.9 1.8l-4.9 1.8l-5 1.8l-5 1.9l-5 1.9l-5.1 1.9l-5.2 2l-5.2 2l-5.3 2l-5.2 2l-5.4 2l-5.4 2.1l-5.4 2.1z" fill="url(#e17)" stroke="url(#e17)"/><path d="M153.2 724.1l5.4 -2.1l5.4 -2.2l5.4 -2.1l5.3 -2.1l5.2 -2.1l5.2 -2l5.2 -2l5.1 -2l5 -2l5.1 -2l4.9 -1.9l4.9 -1.8l4.9 -1.9l4.9 -1.8l4.8 -1.8l4.7 -1.7l4.7 -1.7l4.7 -1.7l4.6 -1.6l4.6 -1.6l4.5 -1.6l4.6 -1.5l4.4 -1.4l4.4 -1.4l4.4 -1.4l4.4 -1.3l4.3 -1.3l4.3 -1.2l-3.5 -1.7l-4.3 1.2l-4.3 1.3l-4.3 1.3l-4.4 1.3l-4.4 1.4l-4.5 1.5l-4.5 1.4l-4.6 1.6l-4.5 1.5l-4.7 1.6l-4.6 1.7l-4.8 1.6l-4.7 1.8l-4.8 1.7l-4.8 1.8l-4.9 1.8l-4.9 1.8l-5 1.9l-5 1.9l-5.1 2l-5.1 1.9l-5.2 2l-5.2 2l-5.2 2.1l-5.3 2l-5.3 2.1l-5.4 2.1l-5.5 2.1z" fill="url(#e16)" stroke="url(#e16)"/><path d="M156.7 726.7l5.4 -2.2l5.4 -2.2l5.4 -2.1l5.3 -2.2l5.2 -2.1l5.2 -2.1l5.2 -2l5.1 -2l5 -2.1l5 -1.9l5 -2l4.9 -1.9l4.9 -1.9l4.8 -1.8l4.8 -1.8l4.8 -1.8l4.7 -1.7l4.7 -1.7l4.6 -1.7l4.6 -1.6l4.5 -1.6l4.5 -1.5l4.5 -1.5l4.4 -1.4l4.4 -1.4l4.3 -1.3l4.3 -1.3l4.3 -1.3l-3.4 -1.7l-4.3 1.2l-4.3 1.3l-4.4 1.3l-4.4 1.4l-4.4 1.4l-4.4 1.4l-4.6 1.5l-4.5 1.6l-4.6 1.6l-4.6 1.6l-4.7 1.7l-4.7 1.7l-4.7 1.7l-4.8 1.8l-4.9 1.8l-4.9 1.9l-4.9 1.8l-4.9 1.9l-5.1 2l-5 2l-5.1 2l-5.2 2l-5.2 2l-5.2 2.1l-5.3 2.1l-5.4 2.1l-5.4 2.2l-5.4 2.1z" fill="url(#e15)" stroke="url(#e15)"/><path d="M160.2 729.4l5.4 -2.2l5.4 -2.2l5.4 -2.2l5.3 -2.2l5.2 -2.1l5.2 -2.2l5.2 -2.1l5.1 -2l5 -2.1l5.1 -2l4.9 -2l4.9 -1.9l4.9 -1.9l4.9 -1.9l4.7 -1.9l4.8 -1.8l4.7 -1.7l4.7 -1.8l4.6 -1.7l4.6 -1.6l4.5 -1.6l4.5 -1.5l4.5 -1.6l4.4 -1.4l4.4 -1.4l4.3 -1.4l4.3 -1.3l4.3 -1.3l-3.5 -1.8l-4.3 1.3l-4.3 1.3l-4.3 1.3l-4.4 1.4l-4.4 1.4l-4.5 1.5l-4.5 1.5l-4.5 1.6l-4.6 1.6l-4.6 1.7l-4.7 1.7l-4.7 1.7l-4.8 1.8l-4.8 1.8l-4.8 1.8l-4.9 1.9l-4.9 1.9l-5 2l-5 1.9l-5 2.1l-5.1 2l-5.2 2l-5.2 2.1l-5.2 2.1l-5.3 2.2l-5.4 2.1l-5.4 2.2l-5.4 2.2z" fill="url(#e14)" stroke="url(#e14)"/><path d="M163.7 732.3l5.5 -2.3l5.4 -2.3l5.3 -2.2l5.3 -2.2l5.3 -2.2l5.2 -2.2l5.1 -2.1l5.1 -2.1l5.1 -2.1l5 -2.1l4.9 -2l5 -2l4.8 -1.9l4.9 -1.9l4.8 -1.9l4.7 -1.9l4.7 -1.8l4.7 -1.7l4.6 -1.7l4.6 -1.7l4.5 -1.6l4.5 -1.6l4.5 -1.6l4.4 -1.5l4.4 -1.4l4.3 -1.4l4.3 -1.4l4.3 -1.2l-3.5 -1.9l-4.3 1.3l-4.3 1.3l-4.3 1.4l-4.4 1.4l-4.4 1.4l-4.5 1.6l-4.5 1.5l-4.5 1.6l-4.6 1.6l-4.6 1.7l-4.7 1.8l-4.7 1.7l-4.8 1.8l-4.7 1.9l-4.9 1.9l-4.9 1.9l-4.9 1.9l-4.9 2l-5.1 2l-5 2.1l-5.1 2l-5.2 2.1l-5.2 2.2l-5.2 2.1l-5.3 2.2l-5.4 2.2l-5.4 2.2l-5.4 2.2z" fill="url(#e13)" stroke="url(#e13)"/><path d="M167.3 735.2l5.5 -2.3l5.3 -2.3l5.4 -2.3l5.3 -2.2l5.2 -2.3l5.2 -2.2l5.2 -2.2l5.1 -2.1l5 -2.1l5 -2.1l5 -2.1l4.9 -2l4.9 -2l4.8 -1.9l4.8 -2l4.7 -1.8l4.7 -1.9l4.7 -1.8l4.6 -1.7l4.6 -1.7l4.5 -1.7l4.5 -1.6l4.5 -1.6l4.4 -1.5l4.4 -1.5l4.3 -1.5l4.3 -1.3l4.3 -1.4l-3.5 -1.8l-4.3 1.2l-4.3 1.4l-4.3 1.4l-4.4 1.4l-4.4 1.5l-4.5 1.6l-4.5 1.6l-4.5 1.6l-4.6 1.7l-4.6 1.7l-4.7 1.7l-4.7 1.8l-4.7 1.9l-4.8 1.9l-4.9 1.9l-4.8 1.9l-5 2l-4.9 2l-5 2.1l-5.1 2.1l-5.1 2.1l-5.1 2.1l-5.2 2.2l-5.3 2.2l-5.3 2.2l-5.3 2.2l-5.4 2.3l-5.5 2.3z" fill="url(#e12)" stroke="url(#e12)"/><path d="M170.9 738.3l5.4 -2.4l5.4 -2.3l5.4 -2.3l5.3 -2.3l5.2 -2.3l5.2 -2.3l5.1 -2.2l5.1 -2.2l5.1 -2.1l5 -2.2l5 -2.1l4.9 -2l4.8 -2l4.9 -2l4.8 -2l4.7 -1.9l4.7 -1.9l4.7 -1.8l4.6 -1.8l4.6 -1.8l4.5 -1.7l4.5 -1.7l4.4 -1.6l4.4 -1.5l4.4 -1.6l4.4 -1.4l4.3 -1.5l4.2 -1.3l-3.5 -2l-4.3 1.4l-4.3 1.3l-4.3 1.5l-4.4 1.5l-4.4 1.5l-4.5 1.6l-4.5 1.6l-4.5 1.7l-4.6 1.7l-4.6 1.7l-4.7 1.8l-4.7 1.9l-4.7 1.8l-4.8 2l-4.8 1.9l-4.9 2l-4.9 2l-5 2.1l-5 2.1l-5 2.1l-5.1 2.1l-5.2 2.2l-5.2 2.2l-5.2 2.3l-5.3 2.2l-5.4 2.3l-5.3 2.3l-5.5 2.3z" fill="url(#e11)" stroke="url(#e11)"/><path d="M174.5 741.5l5.4 -2.4l5.4 -2.4l5.4 -2.4l5.3 -2.3l5.2 -2.3l5.2 -2.3l5.1 -2.3l5.1 -2.2l5.1 -2.2l5 -2.2l4.9 -2.1l5 -2.1l4.8 -2.1l4.9 -2l4.7 -2l4.8 -2l4.7 -1.9l4.6 -1.9l4.6 -1.8l4.6 -1.8l4.5 -1.8l4.5 -1.7l4.5 -1.7l4.4 -1.6l4.4 -1.6l4.3 -1.5l4.3 -1.5l4.3 -1.4l-3.6 -1.9l-4.2 1.3l-4.3 1.5l-4.4 1.4l-4.4 1.6l-4.4 1.5l-4.4 1.6l-4.5 1.7l-4.5 1.7l-4.6 1.8l-4.6 1.8l-4.7 1.8l-4.7 1.9l-4.7 1.9l-4.8 2l-4.9 2l-4.8 2l-4.9 2l-5 2.1l-5 2.2l-5.1 2.1l-5.1 2.2l-5.1 2.2l-5.2 2.3l-5.2 2.3l-5.3 2.3l-5.4 2.3l-5.4 2.3l-5.4 2.4z" fill="url(#e10)" stroke="url(#e10)"/><path d="M178.1 744.8l5.5 -2.5l5.4 -2.4l5.3 -2.4l5.3 -2.4l5.2 -2.3l5.2 -2.4l5.1 -2.3l5.1 -2.3l5.1 -2.2l5 -2.2l4.9 -2.2l5 -2.2l4.8 -2.1l4.9 -2l4.7 -2.1l4.8 -2l4.7 -2l4.6 -1.9l4.6 -1.9l4.6 -1.8l4.5 -1.8l4.5 -1.8l4.5 -1.7l4.4 -1.7l4.3 -1.6l4.4 -1.6l4.3 -1.5l4.2 -1.5l-3.5 -2l-4.3 1.4l-4.3 1.5l-4.3 1.5l-4.4 1.6l-4.4 1.6l-4.5 1.7l-4.5 1.7l-4.5 1.8l-4.6 1.8l-4.6 1.8l-4.6 1.9l-4.7 1.9l-4.8 2l-4.7 2l-4.9 2l-4.8 2.1l-5 2.1l-4.9 2.1l-5 2.2l-5.1 2.2l-5.1 2.2l-5.1 2.3l-5.2 2.3l-5.2 2.3l-5.3 2.3l-5.4 2.4l-5.4 2.4l-5.4 2.4z" fill="url(#e9)" stroke="url(#e9)"/><path d="M181.8 748.2l5.4 -2.5l5.4 -2.5l5.3 -2.4l5.3 -2.4l5.3 -2.4l5.1 -2.4l5.2 -2.4l5.1 -2.3l5 -2.3l5 -2.2l5 -2.3l4.9 -2.2l4.8 -2.1l4.9 -2.2l4.7 -2l4.8 -2.1l4.7 -2l4.6 -2l4.6 -1.9l4.6 -1.9l4.5 -1.9l4.5 -1.8l4.5 -1.8l4.4 -1.7l4.3 -1.7l4.4 -1.6l4.2 -1.6l4.3 -1.5l-3.6 -2.1l-4.2 1.5l-4.3 1.5l-4.4 1.6l-4.3 1.6l-4.4 1.7l-4.5 1.7l-4.5 1.8l-4.5 1.8l-4.6 1.8l-4.6 1.9l-4.6 1.9l-4.7 2l-4.8 2l-4.7 2.1l-4.9 2l-4.8 2.1l-5 2.2l-4.9 2.2l-5 2.2l-5.1 2.2l-5.1 2.3l-5.1 2.3l-5.2 2.4l-5.2 2.3l-5.3 2.4l-5.3 2.4l-5.4 2.4l-5.5 2.5z" fill="url(#e8)" stroke="url(#e8)"/><path d="M185.4 751.8l5.5 -2.6l5.4 -2.5l5.3 -2.5l5.3 -2.5l5.2 -2.4l5.2 -2.4l5.1 -2.4l5.1 -2.4l5.1 -2.3l5 -2.3l4.9 -2.3l4.9 -2.3l4.9 -2.2l4.8 -2.2l4.8 -2.1l4.7 -2.1l4.7 -2.1l4.6 -2l4.7 -2l4.5 -2l4.5 -1.9l4.5 -1.8l4.5 -1.9l4.4 -1.8l4.3 -1.7l4.4 -1.7l4.3 -1.7l4.2 -1.6l-3.6 -2l-4.3 1.5l-4.2 1.6l-4.4 1.6l-4.3 1.7l-4.4 1.7l-4.5 1.8l-4.5 1.8l-4.5 1.9l-4.6 1.9l-4.6 1.9l-4.6 2l-4.7 2l-4.8 2.1l-4.7 2l-4.9 2.2l-4.8 2.1l-4.9 2.2l-5 2.3l-5 2.2l-5 2.3l-5.1 2.3l-5.2 2.4l-5.1 2.4l-5.3 2.4l-5.3 2.4l-5.3 2.4l-5.4 2.5l-5.4 2.5z" fill="url(#e7)" stroke="url(#e7)"/><path d="M189.1 755.4l5.5 -2.6l5.4 -2.5l5.3 -2.6l5.3 -2.5l5.2 -2.5l5.2 -2.4l5.1 -2.5l5.1 -2.4l5 -2.4l5 -2.3l5 -2.4l4.9 -2.3l4.8 -2.2l4.9 -2.2l4.7 -2.2l4.8 -2.2l4.6 -2.1l4.7 -2.1l4.6 -2.1l4.6 -2l4.5 -2l4.5 -1.9l4.4 -1.9l4.4 -1.9l4.4 -1.8l4.3 -1.8l4.3 -1.7l4.2 -1.7l-3.6 -2.1l-4.2 1.6l-4.3 1.7l-4.4 1.7l-4.3 1.7l-4.4 1.8l-4.5 1.9l-4.5 1.8l-4.5 1.9l-4.5 2l-4.7 2l-4.6 2l-4.7 2.1l-4.7 2.1l-4.8 2.1l-4.8 2.2l-4.9 2.2l-4.9 2.3l-4.9 2.3l-5 2.3l-5.1 2.3l-5.1 2.4l-5.1 2.4l-5.2 2.4l-5.2 2.4l-5.3 2.5l-5.3 2.5l-5.4 2.5l-5.5 2.6z" fill="url(#e6)" stroke="url(#e6)"/><path d="M192.9 759.2l5.4 -2.6l5.4 -2.6l5.3 -2.6l5.3 -2.6l5.2 -2.5l5.2 -2.5l5.1 -2.5l5.1 -2.5l5 -2.4l5 -2.4l5 -2.4l4.9 -2.3l4.8 -2.4l4.8 -2.2l4.8 -2.3l4.7 -2.2l4.7 -2.2l4.6 -2.2l4.6 -2.1l4.6 -2.1l4.5 -2l4.5 -2l4.4 -2l4.4 -1.9l4.4 -1.9l4.3 -1.9l4.3 -1.8l4.3 -1.8l-3.7 -2.1l-4.2 1.7l-4.3 1.7l-4.3 1.8l-4.4 1.8l-4.4 1.9l-4.4 1.9l-4.5 1.9l-4.5 2l-4.6 2l-4.6 2.1l-4.7 2.1l-4.6 2.1l-4.8 2.2l-4.7 2.2l-4.9 2.2l-4.8 2.2l-4.9 2.3l-5 2.4l-5 2.3l-5 2.4l-5.1 2.4l-5.1 2.5l-5.2 2.4l-5.2 2.5l-5.3 2.5l-5.3 2.6l-5.4 2.5l-5.5 2.6z" fill="url(#e5)" stroke="url(#e5)"/><path d="M196.6 763.2l5.4 -2.7l5.4 -2.7l5.3 -2.6l5.3 -2.6l5.2 -2.6l5.2 -2.6l5.1 -2.5l5.1 -2.5l5 -2.5l5 -2.5l5 -2.4l4.9 -2.4l4.8 -2.4l4.8 -2.3l4.8 -2.4l4.7 -2.2l4.7 -2.3l4.6 -2.2l4.6 -2.2l4.6 -2.1l4.5 -2.2l4.5 -2l4.4 -2.1l4.4 -2l4.4 -2l4.3 -1.9l4.3 -2l4.2 -1.8l-3.6 -2.2l-4.3 1.8l-4.3 1.8l-4.3 1.9l-4.4 1.9l-4.4 1.9l-4.4 2l-4.5 2l-4.5 2l-4.6 2.1l-4.6 2.1l-4.6 2.2l-4.7 2.2l-4.7 2.2l-4.8 2.3l-4.8 2.2l-4.8 2.4l-4.9 2.3l-5 2.4l-5 2.4l-5 2.4l-5.1 2.5l-5.1 2.5l-5.2 2.5l-5.2 2.5l-5.3 2.6l-5.3 2.6l-5.4 2.6l-5.4 2.6z" fill="url(#e4)" stroke="url(#e4)"/><path d="M200.3 767.2l5.5 -2.7l5.3 -2.7l5.4 -2.7l5.2 -2.7l5.2 -2.6l5.2 -2.6l5.1 -2.6l5.1 -2.6l5 -2.5l5 -2.5l5 -2.5l4.9 -2.5l4.8 -2.4l4.8 -2.4l4.8 -2.4l4.7 -2.4l4.7 -2.3l4.6 -2.3l4.6 -2.2l4.6 -2.3l4.5 -2.2l4.5 -2.1l4.4 -2.2l4.4 -2.1l4.4 -2l4.3 -2.1l4.3 -2l4.2 -2l-3.7 -2.1l-4.2 1.8l-4.3 2l-4.3 1.9l-4.4 2l-4.4 2l-4.4 2.1l-4.5 2l-4.5 2.2l-4.6 2.1l-4.6 2.2l-4.6 2.2l-4.7 2.3l-4.7 2.2l-4.8 2.4l-4.8 2.3l-4.8 2.4l-4.9 2.4l-5 2.4l-5 2.5l-5 2.5l-5.1 2.5l-5.1 2.5l-5.2 2.6l-5.2 2.6l-5.3 2.6l-5.3 2.6l-5.4 2.7l-5.4 2.7z" fill="url(#e3)" stroke="url(#e3)"/><path d="M204.1 771.4l5.4 -2.8l5.4 -2.8l5.3 -2.7l5.3 -2.7l5.2 -2.7l5.2 -2.7l5.1 -2.6l5.1 -2.6l5 -2.6l5 -2.6l4.9 -2.5l4.9 -2.6l4.8 -2.5l4.8 -2.4l4.8 -2.5l4.7 -2.4l4.7 -2.4l4.6 -2.3l4.6 -2.4l4.6 -2.3l4.5 -2.3l4.5 -2.2l4.4 -2.3l4.4 -2.2l4.4 -2.1l4.3 -2.2l4.3 -2.1l4.2 -2.1l-3.7 -2.2l-4.2 2l-4.3 2l-4.3 2.1l-4.4 2l-4.4 2.1l-4.4 2.2l-4.5 2.1l-4.5 2.2l-4.6 2.3l-4.6 2.2l-4.6 2.3l-4.7 2.3l-4.7 2.4l-4.8 2.4l-4.8 2.4l-4.8 2.4l-4.9 2.5l-5 2.5l-5 2.5l-5 2.5l-5.1 2.6l-5.1 2.6l-5.2 2.6l-5.2 2.6l-5.2 2.7l-5.4 2.7l-5.3 2.7l-5.5 2.7z" fill="url(#e2)" stroke="url(#e2)"/><path d="M207.9 775.7l5.4 -2.9l5.4 -2.8l5.3 -2.8l5.3 -2.7l5.2 -2.8l5.1 -2.7l5.2 -2.7l5 -2.7l5 -2.6l5 -2.6l5 -2.6l4.8 -2.6l4.9 -2.6l4.8 -2.5l4.7 -2.5l4.8 -2.5l4.6 -2.5l4.7 -2.4l4.6 -2.4l4.5 -2.4l4.5 -2.4l4.5 -2.4l4.4 -2.3l4.4 -2.3l4.4 -2.3l4.3 -2.3l4.3 -2.2l4.2 -2.2l-3.7 -2.2l-4.2 2.1l-4.3 2.1l-4.3 2.2l-4.4 2.1l-4.4 2.2l-4.4 2.3l-4.5 2.2l-4.5 2.3l-4.6 2.3l-4.6 2.4l-4.6 2.3l-4.7 2.4l-4.7 2.4l-4.8 2.5l-4.8 2.4l-4.8 2.5l-4.9 2.6l-4.9 2.5l-5 2.6l-5 2.6l-5.1 2.6l-5.1 2.6l-5.2 2.7l-5.2 2.7l-5.3 2.7l-5.3 2.7l-5.4 2.8l-5.4 2.8z" fill="url(#e1)" stroke="url(#e1)"/><path d="M211.7 780.1l5.4 -2.9l5.4 -2.8l5.3 -2.9l5.3 -2.8l5.2 -2.8l5.1 -2.8l5.1 -2.7l5.1 -2.8l5 -2.7l5 -2.7l4.9 -2.6l4.9 -2.7l4.9 -2.6l4.7 -2.6l4.8 -2.6l4.7 -2.6l4.7 -2.5l4.6 -2.5l4.6 -2.5l4.6 -2.5l4.5 -2.5l4.4 -2.5l4.5 -2.4l4.4 -2.4l4.3 -2.4l4.3 -2.4l4.3 -2.4l4.3 -2.4l-3.8 -2.1l-4.2 2.2l-4.3 2.2l-4.3 2.3l-4.4 2.3l-4.4 2.3l-4.4 2.3l-4.5 2.4l-4.5 2.4l-4.5 2.4l-4.6 2.4l-4.7 2.4l-4.6 2.5l-4.8 2.5l-4.7 2.5l-4.8 2.5l-4.9 2.6l-4.8 2.6l-5 2.6l-5 2.6l-5 2.6l-5 2.7l-5.2 2.7l-5.1 2.7l-5.2 2.8l-5.3 2.7l-5.3 2.8l-5.4 2.8l-5.4 2.9z" fill="url(#e0)" stroke="url(#e0)"/></g><g fill="none" stroke="#000" stroke-width="0.54" stroke-opacity="1"><path d="M211.7 780.1l-15.1 -16.9l-14.8 -15l-14.5 -13l-14.1 -11.1l-13.8 -9.2l-13.4 -7.5l-13 -5.7l-12.6 -4l-12.3 -2.3l-11.8 -.8M218.9 776.3l-15.1 -16.7l-14.8 -14.7l-14.4 -12.8l-14.2 -10.9l-13.7 -9l-13.4 -7.3l-13 -5.5l-12.7 -3.8l-12.3 -2.3l-11.8 -.6M226 772.5l-15.1 -16.4l-14.7 -14.5l-14.5 -12.5l-14.1 -10.7l-13.8 -8.8l-13.4 -7.1l-13 -5.4l-12.7 -3.7l-12.2 -2.1l-12 -.5M233.1 768.7l-15.1 -16.1l-14.8 -14.2l-14.4 -12.3l-14.1 -10.5l-13.8 -8.6l-13.4 -6.9l-13 -5.2l-12.7 -3.6l-12.3 -2l-11.9 -.4M240 765l-15.1 -15.9l-14.7 -13.9l-14.4 -12.1l-14.1 -10.3l-13.8 -8.4l-13.4 -6.7l-13.1 -5.1l-12.6 -3.4l-12.4 -1.8l-11.9 -.4M246.8 761.3l-15 -15.6l-14.7 -13.7l-14.4 -11.8l-14.1 -10.1l-13.8 -8.2l-13.4 -6.6l-13.1 -4.9l-12.7 -3.3l-12.3 -1.7l-12 -.2M253.6 757.6l-15 -15.2l-14.7 -13.5l-14.4 -11.6l-14.1 -9.8l-13.8 -8.1l-13.4 -6.4l-13.1 -4.8l-12.7 -3.1l-12.3 -1.6l-12 -.1M260.3 754l-15 -15l-14.7 -13.1l-14.4 -11.4l-14.1 -9.7l-13.7 -7.9l-13.5 -6.2l-13 -4.6l-12.8 -3.1l-12.3 -1.4l-12 0M266.9 750.5l-15 -14.7l-14.7 -12.9l-14.4 -11.2l-14 -9.4l-13.8 -7.8l-13.4 -6.1l-13.1 -4.5l-12.7 -2.9l-12.4 -1.3l-12 .1M273.4 746.9l-14.9 -14.3l-14.7 -12.7l-14.4 -10.9l-14.1 -9.2l-13.7 -7.6l-13.4 -6l-13.1 -4.4l-12.7 -2.8l-12.4 -1.2l-12.1 .2M279.9 743.4l-15 -14l-14.6 -12.3l-14.4 -10.7l-14.1 -9.1l-13.7 -7.4l-13.4 -5.9l-13.1 -4.2l-12.8 -2.7l-12.4 -1.2l-12 .3M286.2 740l-14.9 -13.7l-14.6 -12l-14.4 -10.5l-14 -8.9l-13.8 -7.3l-13.4 -5.7l-13.1 -4.2l-12.7 -2.6l-12.5 -1.1l-12 .5M292.5 736.5l-14.9 -13.2l-14.6 -11.8l-14.4 -10.2l-14 -8.7l-13.7 -7.2l-13.4 -5.6l-13.1 -4.1l-12.8 -2.5l-12.4 -1l-12.1 .5M298.7 733.2l-14.9 -12.9l-14.6 -11.5l-14.3 -10l-14 -8.5l-13.7 -7l-13.5 -5.5l-13.1 -4l-12.7 -2.5l-12.5 -.9l-12.1 .6M304.9 729.8l-14.9 -12.5l-14.6 -11.1l-14.3 -9.7l-14 -8.4l-13.7 -6.9l-13.4 -5.4l-13.1 -3.9l-12.8 -2.4l-12.5 -.9l-12.1 .7M311 726.5l-14.9 -12l-14.6 -10.8l-14.3 -9.5l-14 -8.2l-13.7 -6.8l-13.4 -5.3l-13.1 -3.9l-12.8 -2.4l-12.5 -.8l-12.1 .8M317 723.2l-14.9 -11.6l-14.6 -10.4l-14.3 -9.3l-13.9 -8l-13.7 -6.6l-13.4 -5.3l-13.1 -3.9l-12.8 -2.3l-12.5 -.7l-12.2 .8M322.9 719.9l-14.9 -11l-14.5 -10.1l-14.3 -9l-14 -7.8l-13.7 -6.6l-13.3 -5.3l-13.1 -3.8l-12.8 -2.3l-12.5 -.7l-12.2 .9M328.8 716.7l-14.9 -10.5l-14.5 -9.7l-14.3 -8.7l-14 -7.7l-13.6 -6.5l-13.4 -5.2l-13.1 -3.8l-12.8 -2.3l-12.5 -.7l-12.2 .9M334.6 713.5l-14.9 -9.9l-14.5 -9.3l-14.3 -8.5l-13.9 -7.5l-13.7 -6.5l-13.4 -5.1l-13 -3.8l-12.8 -2.4l-12.5 -.6l-12.2 1M340.3 710.3l-14.8 -9.3l-14.6 -8.9l-14.2 -8.2l-13.9 -7.4l-13.7 -6.3l-13.4 -5.2l-13 -3.8l-12.8 -2.4l-12.5 -.6l-12.2 1.1M346 707.1l-14.9 -8.6l-14.5 -8.4l-14.2 -8l-13.9 -7.2l-13.7 -6.3l-13.3 -5.2l-13.1 -3.9l-12.8 -2.3l-12.5 -.7l-12.2 1.1"/><path d="M213.5 779.1l-15.1 -16.8l-14.8 -14.9l-14.5 -13l-14.1 -11l-13.8 -9.2l-13.3 -7.4l-13.1 -5.6l-12.6 -4l-12.2 -2.3l-11.9 -.8M220.7 775.3l-15.1 -16.6l-14.8 -14.6l-14.4 -12.7l-14.2 -10.9l-13.7 -9l-13.4 -7.2l-13 -5.5l-12.7 -3.8l-12.3 -2.2l-11.9 -.6M227.8 771.5l-15.1 -16.3l-14.8 -14.4l-14.4 -12.5l-14.1 -10.6l-13.8 -8.8l-13.4 -7l-13 -5.3l-12.7 -3.7l-12.3 -2.1l-11.9 -.5M234.8 767.8l-15.1 -16.1l-14.7 -14.1l-14.5 -12.3l-14.1 -10.4l-13.7 -8.6l-13.4 -6.8l-13.1 -5.2l-12.7 -3.5l-12.3 -2l-11.9 -.4M241.7 764l-15 -15.7l-14.8 -13.9l-14.4 -12l-14.1 -10.2l-13.8 -8.5l-13.4 -6.6l-13 -5l-12.7 -3.4l-12.3 -1.8l-12 -.3M248.5 760.4l-15 -15.5l-14.7 -13.7l-14.4 -11.8l-14.1 -9.9l-13.8 -8.3l-13.4 -6.5l-13.1 -4.8l-12.7 -3.3l-12.3 -1.7l-12 -.2M255.3 756.7l-15 -15.2l-14.7 -13.4l-14.4 -11.5l-14.1 -9.8l-13.8 -8.1l-13.4 -6.3l-13.1 -4.7l-12.7 -3.1l-12.3 -1.6l-12 -.1M261.9 753.1l-14.9 -14.9l-14.7 -13.1l-14.4 -11.3l-14.1 -9.6l-13.8 -7.9l-13.4 -6.2l-13.1 -4.6l-12.7 -3l-12.4 -1.4l-12 0M268.5 749.6l-14.9 -14.6l-14.7 -12.9l-14.4 -11.1l-14.1 -9.4l-13.7 -7.7l-13.4 -6l-13.1 -4.5l-12.8 -2.9l-12.3 -1.3l-12.1 .1M275 746.1l-14.9 -14.3l-14.7 -12.6l-14.4 -10.9l-14 -9.2l-13.8 -7.5l-13.4 -5.9l-13.1 -4.4l-12.7 -2.8l-12.4 -1.2l-12.1 .2M281.5 742.6l-15 -14l-14.6 -12.2l-14.4 -10.7l-14 -9l-13.8 -7.4l-13.4 -5.8l-13.1 -4.2l-12.7 -2.7l-12.5 -1.2l-12 .4M287.8 739.1l-14.9 -13.6l-14.7 -11.9l-14.3 -10.5l-14 -8.8l-13.8 -7.2l-13.4 -5.7l-13.1 -4.2l-12.7 -2.5l-12.5 -1.1l-12.1 .4M294.1 735.7l-14.9 -13.2l-14.7 -11.7l-14.3 -10.1l-14 -8.7l-13.7 -7.1l-13.5 -5.6l-13.1 -4l-12.7 -2.6l-12.5 -.9l-12.1 .5M300.3 732.3l-14.9 -12.8l-14.6 -11.3l-14.3 -10l-14.1 -8.4l-13.7 -7l-13.4 -5.5l-13.1 -4l-12.8 -2.4l-12.4 -1l-12.1 .7M306.4 729l-14.9 -12.4l-14.6 -11l-14.3 -9.7l-14 -8.3l-13.7 -6.9l-13.4 -5.4l-13.1 -3.9l-12.8 -2.4l-12.4 -.8l-12.2 .7M312.5 725.6l-14.9 -11.9l-14.6 -10.7l-14.3 -9.4l-14 -8.1l-13.7 -6.8l-13.4 -5.3l-13.1 -3.9l-12.8 -2.3l-12.4 -.8l-12.2 .8M318.4 722.3l-14.8 -11.4l-14.6 -10.3l-14.3 -9.2l-13.9 -8l-13.7 -6.6l-13.4 -5.3l-13.1 -3.8l-12.8 -2.3l-12.5 -.8l-12.2 .9M324.4 719.1l-14.9 -10.9l-14.5 -10l-14.3 -8.9l-14 -7.8l-13.7 -6.6l-13.4 -5.2l-13.1 -3.8l-12.7 -2.3l-12.5 -.7l-12.2 .9M330.2 715.9l-14.8 -10.4l-14.6 -9.6l-14.2 -8.6l-14 -7.7l-13.7 -6.5l-13.3 -5.2l-13.1 -3.8l-12.8 -2.3l-12.5 -.7l-12.2 1M336 712.7l-14.8 -9.8l-14.6 -9.2l-14.2 -8.4l-14 -7.5l-13.6 -6.4l-13.4 -5.2l-13.1 -3.8l-12.8 -2.3l-12.5 -.7l-12.2 1.1M341.7 709.5l-14.8 -9.2l-14.6 -8.7l-14.2 -8.1l-13.9 -7.4l-13.7 -6.3l-13.3 -5.2l-13.1 -3.8l-12.8 -2.4l-12.5 -.7l-12.2 1.1"/><path d="M215.3 778.2l-15.1 -16.8l-14.8 -14.9l-14.5 -12.8l-14.1 -11l-13.7 -9.2l-13.4 -7.3l-13 -5.6l-12.7 -3.9l-12.2 -2.3l-11.9 -.8M222.5 774.4l-15.1 -16.6l-14.8 -14.6l-14.5 -12.6l-14.1 -10.8l-13.7 -8.9l-13.4 -7.2l-13.1 -5.4l-12.6 -3.8l-12.3 -2.2l-11.9 -.6M229.6 770.6l-15.1 -16.3l-14.8 -14.3l-14.4 -12.4l-14.2 -10.6l-13.7 -8.7l-13.4 -7l-13.1 -5.3l-12.6 -3.6l-12.3 -2.1l-11.9 -.5M236.5 766.8l-15 -16l-14.8 -14l-14.4 -12.2l-14.1 -10.4l-13.8 -8.5l-13.4 -6.8l-13 -5.2l-12.7 -3.4l-12.3 -1.9l-12 -.4M243.4 763.1l-15 -15.7l-14.8 -13.8l-14.4 -12l-14.1 -10.1l-13.7 -8.4l-13.4 -6.6l-13.1 -5l-12.7 -3.3l-12.3 -1.8l-12 -.3M250.2 759.5l-15 -15.5l-14.7 -13.5l-14.4 -11.8l-14.1 -9.9l-13.8 -8.2l-13.4 -6.5l-13.1 -4.8l-12.7 -3.2l-12.3 -1.7l-12 -.1M257 755.8l-15 -15.1l-14.8 -13.3l-14.4 -11.5l-14 -9.8l-13.8 -8l-13.4 -6.3l-13.1 -4.7l-12.7 -3l-12.4 -1.6l-12 0M263.6 752.2l-15 -14.8l-14.7 -13l-14.4 -11.3l-14 -9.6l-13.8 -7.8l-13.4 -6.2l-13.1 -4.5l-12.7 -3l-12.4 -1.4l-12 .1M270.2 748.7l-15 -14.5l-14.7 -12.8l-14.4 -11l-14 -9.4l-13.8 -7.7l-13.4 -6l-13.1 -4.4l-12.7 -2.9l-12.4 -1.3l-12 .2M276.6 745.2l-14.9 -14.2l-14.7 -12.5l-14.3 -10.8l-14.1 -9.2l-13.7 -7.5l-13.5 -5.9l-13 -4.3l-12.8 -2.7l-12.4 -1.3l-12.1 .3M283 741.7l-14.9 -13.8l-14.6 -12.3l-14.4 -10.5l-14 -9l-13.8 -7.4l-13.4 -5.7l-13.1 -4.2l-12.7 -2.7l-12.5 -1.1l-12 .3M289.4 738.3l-14.9 -13.5l-14.7 -11.9l-14.3 -10.4l-14.1 -8.8l-13.7 -7.2l-13.4 -5.7l-13.1 -4.1l-12.8 -2.5l-12.4 -1.1l-12.1 .5M295.6 734.8l-14.9 -13l-14.6 -11.6l-14.3 -10.2l-14 -8.6l-13.8 -7.1l-13.4 -5.5l-13.1 -4l-12.8 -2.5l-12.4 -1l-12.1 .6M301.8 731.5l-14.9 -12.7l-14.6 -11.3l-14.3 -9.9l-14 -8.4l-13.7 -7l-13.4 -5.4l-13.1 -4l-12.8 -2.4l-12.5 -.9l-12.1 .6M307.9 728.1l-14.9 -12.2l-14.5 -11l-14.3 -9.6l-14.1 -8.3l-13.7 -6.8l-13.4 -5.4l-13.1 -3.9l-12.8 -2.4l-12.4 -.8l-12.1 .7M314 724.8l-14.9 -11.8l-14.6 -10.6l-14.3 -9.4l-14 -8l-13.7 -6.8l-13.4 -5.3l-13.1 -3.8l-12.8 -2.4l-12.4 -.8l-12.2 .8M319.9 721.5l-14.8 -11.2l-14.6 -10.3l-14.3 -9.1l-13.9 -8l-13.7 -6.6l-13.4 -5.2l-13.1 -3.9l-12.8 -2.3l-12.5 -.7l-12.2 .8M325.8 718.3l-14.8 -10.8l-14.6 -9.8l-14.2 -8.9l-14 -7.8l-13.7 -6.5l-13.4 -5.2l-13.1 -3.9l-12.8 -2.2l-12.4 -.8l-12.2 1M331.7 715.1l-14.9 -10.2l-14.5 -9.5l-14.3 -8.6l-13.9 -7.6l-13.7 -6.5l-13.4 -5.2l-13.1 -3.8l-12.8 -2.3l-12.5 -.7l-12.1 1M337.4 711.9l-14.8 -9.6l-14.5 -9.1l-14.3 -8.4l-13.9 -7.4l-13.7 -6.4l-13.4 -5.2l-13 -3.8l-12.8 -2.3l-12.5 -.7l-12.2 1.1M343.1 708.7l-14.8 -9l-14.5 -8.6l-14.3 -8.1l-13.9 -7.3l-13.6 -6.3l-13.4 -5.2l-13.1 -3.9l-12.8 -2.3l-12.5 -.7l-12.2 1.1"/><path d="M217.1 777.2l-15.1 -16.7l-14.8 -14.8l-14.4 -12.8l-14.2 -10.9l-13.7 -9.1l-13.4 -7.3l-13 -5.6l-12.7 -3.9l-12.2 -2.3l-11.9 -.7M224.3 773.4l-15.1 -16.5l-14.8 -14.5l-14.5 -12.6l-14.1 -10.7l-13.7 -8.9l-13.4 -7.1l-13.1 -5.4l-12.6 -3.7l-12.3 -2.2l-11.9 -.6M231.3 769.6l-15.1 -16.2l-14.7 -14.2l-14.5 -12.4l-14.1 -10.5l-13.7 -8.7l-13.5 -6.9l-13 -5.3l-12.7 -3.6l-12.3 -2l-11.9 -.4M238.3 765.9l-15.1 -15.9l-14.7 -14l-14.5 -12.2l-14.1 -10.3l-13.7 -8.5l-13.4 -6.7l-13.1 -5.1l-12.7 -3.5l-12.3 -1.8l-11.9 -.4M245.1 762.2l-15 -15.6l-14.7 -13.8l-14.5 -11.9l-14.1 -10.1l-13.7 -8.3l-13.4 -6.6l-13.1 -4.9l-12.7 -3.4l-12.3 -1.7l-12 -.2M251.9 758.6l-15 -15.4l-14.7 -13.5l-14.4 -11.7l-14.1 -9.9l-13.8 -8.1l-13.4 -6.5l-13.1 -4.7l-12.7 -3.2l-12.3 -1.6l-12 -.2M258.6 754.9l-15 -15l-14.7 -13.3l-14.4 -11.4l-14.1 -9.7l-13.7 -8l-13.4 -6.3l-13.1 -4.6l-12.7 -3.1l-12.4 -1.5l-12 0M265.2 751.4l-14.9 -14.8l-14.7 -13l-14.4 -11.2l-14.1 -9.5l-13.7 -7.8l-13.5 -6.1l-13 -4.5l-12.8 -3l-12.3 -1.4l-12.1 .1M271.8 747.8l-15 -14.4l-14.6 -12.7l-14.4 -11l-14.1 -9.3l-13.7 -7.7l-13.5 -6l-13 -4.3l-12.8 -2.9l-12.4 -1.3l-12 .2M278.3 744.3l-15 -14.1l-14.7 -12.4l-14.3 -10.8l-14.1 -9.1l-13.7 -7.5l-13.4 -5.8l-13.1 -4.3l-12.8 -2.7l-12.4 -1.2l-12 .3M284.6 740.8l-14.9 -13.7l-14.6 -12.2l-14.4 -10.5l-14 -8.9l-13.8 -7.3l-13.4 -5.8l-13.1 -4.2l-12.7 -2.6l-12.5 -1.1l-12 .4M290.9 737.4l-14.9 -13.4l-14.6 -11.8l-14.3 -10.3l-14.1 -8.8l-13.7 -7.1l-13.4 -5.7l-13.1 -4.1l-12.8 -2.5l-12.4 -1l-12.1 .5M297.2 734l-14.9 -13l-14.6 -11.5l-14.4 -10.1l-14 -8.5l-13.7 -7.1l-13.4 -5.5l-13.1 -4l-12.8 -2.5l-12.4 -.9l-12.1 .5M303.3 730.6l-14.8 -12.5l-14.6 -11.2l-14.3 -9.9l-14.1 -8.3l-13.7 -7l-13.4 -5.4l-13.1 -4l-12.8 -2.4l-12.4 -.9l-12.1 .7M309.4 727.3l-14.8 -12.1l-14.6 -10.9l-14.3 -9.6l-14 -8.2l-13.7 -6.8l-13.4 -5.4l-13.1 -3.8l-12.8 -2.4l-12.5 -.8l-12.1 .7M315.5 724l-14.9 -11.7l-14.6 -10.5l-14.3 -9.3l-14 -8.1l-13.7 -6.7l-13.4 -5.3l-13.1 -3.8l-12.7 -2.3l-12.5 -.8l-12.2 .8M321.4 720.7l-14.8 -11.1l-14.6 -10.2l-14.3 -9.1l-14 -7.8l-13.6 -6.7l-13.4 -5.2l-13.1 -3.8l-12.8 -2.3l-12.5 -.8l-12.2 .9M327.3 717.5l-14.8 -10.6l-14.6 -9.8l-14.3 -8.8l-13.9 -7.8l-13.7 -6.5l-13.4 -5.2l-13.1 -3.8l-12.8 -2.3l-12.5 -.7l-12.1 1M333.1 714.3l-14.8 -10.1l-14.6 -9.4l-14.2 -8.5l-14 -7.6l-13.6 -6.4l-13.4 -5.2l-13.1 -3.8l-12.8 -2.3l-12.5 -.7l-12.2 1M338.9 711.1l-14.9 -9.5l-14.5 -8.9l-14.2 -8.3l-14 -7.4l-13.6 -6.4l-13.4 -5.2l-13.1 -3.8l-12.8 -2.3l-12.5 -.7l-12.2 1.1M344.6 707.9l-14.9 -8.8l-14.5 -8.5l-14.2 -8l-14 -7.3l-13.6 -6.3l-13.4 -5.2l-13 -3.9l-12.8 -2.3l-12.5 -.7l-12.2 1.1"/><path d="M211.7 780.1l15 -8l14.7 -7.9l14.2 -7.6l13.9 -7.5l13.5 -7.4l13.3 -7.2l12.8 -7l12.6 -6.9l12.3 -6.8l12 -6.7M204.5 771.8l15 -7.8l14.7 -7.5l14.2 -7.4l13.9 -7.2l13.6 -7l13.2 -6.8l12.9 -6.6l12.6 -6.4l12.3 -6.1l12 -6M197.3 763.9l15.1 -7.5l14.6 -7.3l14.3 -7.1l13.9 -6.9l13.6 -6.6l13.3 -6.4l12.9 -6.2l12.6 -6l12.2 -5.6l12 -5.4M190.2 756.5l15.1 -7.2l14.7 -7.1l14.3 -6.8l13.9 -6.6l13.6 -6.4l13.3 -6.1l12.9 -5.8l12.6 -5.5l12.3 -5.3l12 -4.9M183.2 749.5l15.1 -6.9l14.7 -6.8l14.3 -6.6l13.9 -6.4l13.7 -6.1l13.2 -5.8l13 -5.5l12.6 -5.2l12.3 -4.9l12 -4.5M176.2 743l15.1 -6.7l14.7 -6.6l14.4 -6.3l13.9 -6.1l13.7 -5.9l13.2 -5.5l13 -5.3l12.6 -4.9l12.3 -4.5l12 -4.2M169.4 736.9l15.1 -6.5l14.7 -6.3l14.3 -6.1l14 -5.9l13.6 -5.6l13.3 -5.4l13 -5l12.6 -4.6l12.4 -4.4l12 -3.9M162.6 731.3l15.1 -6.3l14.7 -6.1l14.4 -5.9l14 -5.7l13.6 -5.4l13.3 -5.1l13 -4.9l12.6 -4.4l12.4 -4.1l12 -3.8M155.8 726.1l15.2 -6.1l14.7 -5.9l14.4 -5.7l14 -5.5l13.6 -5.2l13.3 -5l13 -4.6l12.7 -4.3l12.3 -4l12.1 -3.6M149.2 721.3l15.1 -5.9l14.8 -5.7l14.3 -5.5l14.1 -5.3l13.6 -5.1l13.3 -4.8l13 -4.5l12.7 -4.2l12.4 -3.8l12 -3.5M142.7 716.9l15.1 -5.7l14.7 -5.5l14.4 -5.3l14 -5.2l13.7 -4.9l13.3 -4.6l13 -4.4l12.7 -4.1l12.4 -3.8l12 -3.4M136.2 712.9l15.1 -5.4l14.8 -5.4l14.3 -5.1l14 -5l13.7 -4.8l13.3 -4.5l13 -4.3l12.7 -4l12.4 -3.7l12.1 -3.4M129.8 709.4l15.1 -5.3l14.8 -5.2l14.3 -5l14 -4.8l13.7 -4.7l13.3 -4.4l13.1 -4.2l12.7 -3.9l12.4 -3.7l12.1 -3.4M123.5 706.2l15.1 -5.1l14.8 -5l14.3 -4.9l14 -4.6l13.7 -4.6l13.3 -4.3l13 -4.1l12.7 -3.9l12.4 -3.7l12.2 -3.4M117.3 703.4l15.1 -4.9l14.7 -4.8l14.4 -4.7l14 -4.6l13.6 -4.4l13.4 -4.3l13 -4l12.7 -3.9l12.4 -3.7l12.1 -3.4M111.2 701.1l15.1 -4.8l14.7 -4.7l14.3 -4.6l14 -4.4l13.7 -4.3l13.3 -4.2l13 -4l12.7 -3.8l12.4 -3.7l12.1 -3.5M105.2 699.1l15 -4.7l14.7 -4.5l14.4 -4.4l13.9 -4.4l13.7 -4.2l13.3 -4.1l13 -3.9l12.7 -3.8l12.4 -3.7l12.1 -3.5M99.2 697.4l15.1 -4.5l14.6 -4.4l14.4 -4.3l13.9 -4.2l13.7 -4.1l13.3 -4l13 -3.9l12.7 -3.8l12.4 -3.6l12.1 -3.6M93.3 696.2l15.1 -4.4l14.6 -4.2l14.3 -4.2l14 -4.1l13.6 -4l13.3 -4l13 -3.8l12.7 -3.7l12.4 -3.7l12.1 -3.5M87.6 695.3l15 -4.2l14.6 -4.2l14.3 -4l14 -4l13.6 -3.9l13.2 -3.9l13 -3.7l12.7 -3.7l12.4 -3.7l12.1 -3.5M81.9 694.8l15 -4.1l14.6 -4.1l14.3 -3.9l13.9 -3.9l13.6 -3.8l13.2 -3.8l13 -3.7l12.7 -3.6l12.4 -3.6l12.1 -3.5M76.3 694.6l15 -4l14.6 -3.9l14.2 -3.9l13.9 -3.7l13.6 -3.8l13.2 -3.6l13 -3.6l12.6 -3.6l12.4 -3.4l12.1 -3.5"/><path d="M209.9 778l15 -8l14.7 -7.8l14.2 -7.5l13.9 -7.5l13.6 -7.2l13.2 -7.1l12.9 -7l12.5 -6.7l12.3 -6.6l12 -6.5M202.7 769.8l15 -7.7l14.7 -7.5l14.3 -7.3l13.9 -7.1l13.5 -6.9l13.3 -6.7l12.8 -6.5l12.6 -6.3l12.3 -6l12 -5.8M195.5 762l15.1 -7.4l14.7 -7.2l14.2 -7.1l14 -6.8l13.6 -6.6l13.2 -6.3l12.9 -6.1l12.6 -5.8l12.3 -5.6l12 -5.2M188.4 754.7l15.1 -7.1l14.7 -7l14.3 -6.8l14 -6.5l13.6 -6.3l13.2 -6.1l12.9 -5.7l12.6 -5.5l12.3 -5.1l12 -4.8M181.4 747.9l15.1 -6.9l14.7 -6.8l14.4 -6.5l13.9 -6.3l13.6 -6l13.3 -5.8l12.9 -5.4l12.7 -5.1l12.3 -4.8l12 -4.4M174.5 741.5l15.1 -6.7l14.7 -6.5l14.4 -6.3l13.9 -6.1l13.7 -5.7l13.2 -5.5l13 -5.2l12.6 -4.9l12.3 -4.5l12.1 -4.1M167.6 735.5l15.2 -6.5l14.7 -6.2l14.3 -6.1l14 -5.8l13.7 -5.6l13.2 -5.3l13 -4.9l12.7 -4.7l12.3 -4.2l12 -3.9M160.9 729.9l15.1 -6.2l14.7 -6l14.4 -5.9l14 -5.6l13.6 -5.4l13.3 -5.1l13 -4.7l12.7 -4.5l12.3 -4.1l12 -3.6M154.2 724.8l15.1 -6l14.7 -5.8l14.4 -5.7l14 -5.4l13.7 -5.2l13.3 -4.9l13 -4.6l12.6 -4.3l12.4 -3.9l12 -3.6M147.6 720.1l15.1 -5.8l14.7 -5.6l14.4 -5.5l14 -5.3l13.7 -5l13.3 -4.7l13 -4.5l12.7 -4.2l12.3 -3.8l12.1 -3.5M141 715.9l15.2 -5.6l14.7 -5.5l14.4 -5.3l14 -5.1l13.6 -4.9l13.4 -4.6l13 -4.4l12.7 -4l12.3 -3.8l12.1 -3.4M134.6 712l15.1 -5.4l14.8 -5.3l14.3 -5.1l14 -5l13.7 -4.7l13.3 -4.5l13 -4.3l12.7 -4l12.4 -3.7l12.1 -3.4M128.2 708.5l15.2 -5.2l14.7 -5.1l14.4 -5l14 -4.8l13.6 -4.6l13.4 -4.4l13 -4.2l12.7 -3.9l12.4 -3.7l12.1 -3.4M122 705.5l15.1 -5.1l14.7 -4.9l14.4 -4.9l14 -4.6l13.6 -4.5l13.4 -4.3l13 -4.1l12.7 -3.9l12.4 -3.7l12.1 -3.4M115.8 702.8l15.1 -4.9l14.7 -4.8l14.3 -4.7l14 -4.5l13.7 -4.4l13.3 -4.2l13 -4l12.7 -3.9l12.5 -3.7l12.1 -3.5M109.7 700.5l15.1 -4.7l14.7 -4.7l14.3 -4.5l14 -4.4l13.6 -4.3l13.4 -4.1l13 -4l12.7 -3.9l12.4 -3.6l12.1 -3.5M103.7 698.6l15 -4.6l14.7 -4.5l14.4 -4.4l13.9 -4.3l13.7 -4.2l13.3 -4l13 -4l12.7 -3.8l12.4 -3.6l12.1 -3.6M97.7 697.1l15.1 -4.5l14.7 -4.3l14.3 -4.3l13.9 -4.2l13.7 -4.1l13.3 -4l13 -3.8l12.7 -3.8l12.4 -3.7l12.1 -3.5M91.9 695.9l15 -4.3l14.7 -4.2l14.3 -4.2l13.9 -4.1l13.7 -3.9l13.2 -3.9l13 -3.9l12.7 -3.7l12.4 -3.6l12.1 -3.6M86.1 695.1l15.1 -4.2l14.6 -4.1l14.3 -4l13.9 -4l13.6 -3.9l13.3 -3.8l13 -3.7l12.6 -3.7l12.4 -3.6l12.1 -3.6M80.5 694.7l15 -4.1l14.6 -4l14.2 -3.9l14 -3.9l13.5 -3.8l13.3 -3.7l13 -3.7l12.6 -3.6l12.4 -3.5l12.1 -3.5"/><path d="M208.1 775.9l15 -7.9l14.7 -7.7l14.2 -7.5l13.9 -7.4l13.6 -7.1l13.2 -7l12.9 -6.8l12.5 -6.7l12.3 -6.4l12 -6.3M200.9 767.8l15 -7.6l14.7 -7.5l14.3 -7.2l13.9 -7l13.6 -6.9l13.2 -6.6l12.9 -6.3l12.6 -6.2l12.2 -5.9l12 -5.7M193.7 760.2l15.1 -7.4l14.7 -7.2l14.3 -6.9l13.9 -6.8l13.6 -6.5l13.2 -6.3l13 -6l12.6 -5.7l12.2 -5.4l12 -5.2M186.7 753l15.1 -7.1l14.7 -6.9l14.3 -6.8l13.9 -6.4l13.6 -6.3l13.3 -5.9l12.9 -5.7l12.6 -5.3l12.3 -5.1l12 -4.7M179.7 746.2l15.1 -6.8l14.7 -6.7l14.3 -6.5l14 -6.2l13.6 -6l13.3 -5.6l12.9 -5.4l12.6 -5.1l12.3 -4.7l12.1 -4.3M172.8 739.9l15.1 -6.6l14.7 -6.4l14.3 -6.3l14 -6l13.6 -5.7l13.3 -5.4l13 -5.2l12.6 -4.8l12.3 -4.4l12.1 -4M165.9 734.1l15.2 -6.4l14.7 -6.2l14.3 -6.1l14 -5.7l13.7 -5.6l13.3 -5.2l12.9 -4.9l12.7 -4.6l12.3 -4.2l12 -3.8M159.2 728.6l15.1 -6.1l14.7 -6l14.4 -5.9l14 -5.5l13.6 -5.4l13.4 -5l12.9 -4.7l12.7 -4.4l12.3 -4l12.1 -3.7M152.5 723.6l15.1 -5.9l14.8 -5.8l14.3 -5.7l14 -5.3l13.7 -5.2l13.3 -4.9l13 -4.5l12.7 -4.3l12.3 -3.9l12.1 -3.5M145.9 719l15.2 -5.7l14.7 -5.6l14.4 -5.5l14 -5.2l13.6 -5l13.4 -4.7l13 -4.4l12.6 -4.2l12.4 -3.8l12.1 -3.4M139.4 714.9l15.2 -5.6l14.7 -5.4l14.4 -5.3l14 -5l13.6 -4.9l13.4 -4.6l13 -4.3l12.7 -4l12.3 -3.8l12.1 -3.4M133 711.1l15.1 -5.4l14.8 -5.2l14.3 -5.1l14 -4.9l13.7 -4.7l13.3 -4.5l13 -4.2l12.7 -4l12.4 -3.7l12.1 -3.4M126.7 707.7l15.1 -5.2l14.7 -5l14.4 -5l14 -4.7l13.6 -4.6l13.4 -4.4l13 -4.1l12.7 -4l12.4 -3.7l12.1 -3.4M120.4 704.8l15.1 -5.1l14.7 -4.9l14.4 -4.7l14 -4.7l13.7 -4.4l13.3 -4.3l13 -4.1l12.7 -3.9l12.4 -3.7l12.1 -3.4M114.2 702.2l15.1 -4.9l14.8 -4.7l14.3 -4.7l14 -4.5l13.7 -4.3l13.3 -4.2l13 -4l12.7 -3.9l12.4 -3.7l12.1 -3.5M108.2 700l15 -4.7l14.7 -4.6l14.4 -4.5l14 -4.4l13.6 -4.2l13.3 -4.2l13 -3.9l12.8 -3.9l12.4 -3.6l12.1 -3.6M102.2 698.2l15 -4.6l14.7 -4.4l14.3 -4.4l14 -4.3l13.7 -4.1l13.3 -4.1l13 -3.9l12.7 -3.8l12.4 -3.7l12.1 -3.5M96.3 696.8l15 -4.5l14.7 -4.3l14.3 -4.2l14 -4.2l13.6 -4l13.3 -4l13 -3.9l12.7 -3.7l12.4 -3.7l12.1 -3.6M90.4 695.7l15.1 -4.3l14.6 -4.2l14.3 -4.1l14 -4.1l13.6 -3.9l13.3 -3.9l13 -3.8l12.6 -3.7l12.4 -3.7l12.2 -3.5M84.7 695l15 -4.2l14.7 -4.1l14.2 -4l14 -3.9l13.6 -3.9l13.2 -3.8l13 -3.7l12.7 -3.7l12.4 -3.6l12.1 -3.5M79.1 694.6l15 -4l14.6 -4l14.2 -3.9l13.9 -3.8l13.6 -3.8l13.3 -3.7l12.9 -3.6l12.7 -3.6l12.4 -3.5l12.1 -3.5"/><path d="M206.3 773.8l15 -7.8l14.7 -7.6l14.2 -7.5l13.9 -7.2l13.6 -7.1l13.2 -6.9l12.9 -6.7l12.6 -6.5l12.2 -6.3l12 -6.2M199.1 765.8l15 -7.5l14.7 -7.4l14.3 -7.1l13.9 -7l13.6 -6.7l13.2 -6.6l12.9 -6.2l12.6 -6.1l12.3 -5.8l12 -5.5M192 758.3l15 -7.3l14.7 -7.1l14.3 -6.9l14 -6.7l13.6 -6.4l13.2 -6.2l12.9 -5.9l12.6 -5.6l12.3 -5.3l12 -5.1M184.9 751.2l15.1 -7l14.7 -6.8l14.3 -6.7l14 -6.4l13.6 -6.2l13.2 -5.9l13 -5.6l12.6 -5.2l12.3 -5l12 -4.6M178 744.6l15.1 -6.8l14.7 -6.6l14.3 -6.4l14 -6.2l13.6 -5.9l13.3 -5.6l12.9 -5.3l12.6 -5l12.3 -4.6l12 -4.3M171.1 738.4l15.1 -6.5l14.7 -6.4l14.3 -6.2l14 -5.9l13.6 -5.7l13.3 -5.4l13 -5.1l12.6 -4.7l12.4 -4.4l12 -3.9M164.3 732.7l15.1 -6.4l14.7 -6.1l14.3 -6l14 -5.7l13.7 -5.5l13.3 -5.2l13 -4.8l12.6 -4.6l12.3 -4.1l12.1 -3.8M157.5 727.3l15.1 -6.1l14.8 -5.9l14.3 -5.8l14 -5.5l13.7 -5.3l13.3 -5l13 -4.7l12.6 -4.3l12.4 -4l12 -3.6M150.9 722.4l15.1 -5.9l14.7 -5.7l14.4 -5.6l14 -5.3l13.7 -5.1l13.3 -4.9l13 -4.5l12.6 -4.2l12.4 -3.9l12.1 -3.5M144.3 718l15.1 -5.8l14.8 -5.5l14.3 -5.4l14 -5.2l13.7 -4.9l13.3 -4.7l13 -4.4l12.7 -4.1l12.4 -3.8l12.1 -3.5M137.8 713.9l15.1 -5.5l14.8 -5.4l14.3 -5.2l14 -5l13.7 -4.8l13.3 -4.6l13 -4.3l12.7 -4l12.4 -3.8l12.1 -3.4M131.4 710.2l15.1 -5.3l14.8 -5.2l14.3 -5.1l14 -4.8l13.7 -4.7l13.3 -4.5l13 -4.2l12.7 -3.9l12.4 -3.7l12.1 -3.4M125.1 707l15.1 -5.2l14.7 -5l14.4 -4.9l14 -4.7l13.7 -4.6l13.3 -4.4l13 -4.1l12.7 -3.9l12.4 -3.7l12.1 -3.4M118.9 704.1l15.1 -5l14.7 -4.9l14.3 -4.7l14 -4.6l13.7 -4.4l13.3 -4.3l13 -4.1l12.7 -3.9l12.5 -3.6l12.1 -3.5M112.7 701.6l15.1 -4.8l14.7 -4.7l14.4 -4.6l14 -4.5l13.6 -4.3l13.3 -4.2l13 -4l12.8 -3.9l12.4 -3.7l12.1 -3.4M106.7 699.5l15 -4.6l14.7 -4.6l14.4 -4.5l14 -4.3l13.6 -4.3l13.3 -4.1l13 -3.9l12.7 -3.9l12.4 -3.6l12.2 -3.5M100.7 697.8l15 -4.5l14.7 -4.4l14.4 -4.4l13.9 -4.2l13.7 -4.2l13.3 -4l13 -3.9l12.7 -3.8l12.4 -3.6l12.1 -3.6M94.8 696.5l15 -4.4l14.7 -4.3l14.3 -4.2l14 -4.2l13.6 -4l13.3 -3.9l13 -3.9l12.7 -3.7l12.4 -3.7l12.1 -3.6M89 695.5l15 -4.3l14.7 -4.1l14.3 -4.1l13.9 -4.1l13.6 -3.9l13.3 -3.9l13 -3.7l12.7 -3.7l12.4 -3.7l12.1 -3.5M83.3 694.9l15 -4.2l14.6 -4l14.3 -4l13.9 -3.9l13.6 -3.9l13.3 -3.7l13 -3.7l12.6 -3.7l12.4 -3.6l12.1 -3.5M77.7 694.6l15 -4l14.6 -4l14.2 -3.8l13.9 -3.8l13.6 -3.8l13.2 -3.7l13 -3.6l12.7 -3.5l12.3 -3.6l12.1 -3.4"/></g><text transform="translate(297 877.5) rotate(-20.6)" font-family="Liberation Sans,sans-serif" font-weight="bold" font-size="11.45" text-anchor="middle">B: Duration of incubation</text><text transform="translate(302 889.5) rotate(-20.6)" font-family="Liberation Sans,sans-serif" font-weight="bold" font-size="11.45" text-anchor="middle">(hour)</text><text transform="translate(120 873.5) rotate(20.6)" font-family="Liberation Sans,sans-serif" font-weight="bold" font-size="11.55" text-anchor="middle">C: Volume of silver nitrate</text><text transform="translate(117.2 886.8) rotate(20.6)" font-family="Liberation Sans,sans-serif" font-weight="bold" font-size="11.55" text-anchor="middle">(mL)</text><text transform="translate(41.3 734.7) rotate(-90)" font-family="Liberation Serif,serif" font-weight="bold" font-size="12.1" text-anchor="middle">R: Absorbance (nm)</text><text x="8.8" y="642.3" font-family="Liberation Sans,sans-serif" font-weight="bold" font-size="17.5">(e)</text></g>
<g><rect x="470" y="22" width="245" height="3" fill="url(#b0)"/><rect x="470" y="25" width="245" height="3" fill="url(#b1)"/><rect x="470" y="28" width="245" height="3" fill="url(#b2)"/><rect x="470" y="31" width="245" height="3" fill="url(#b3)"/><rect x="470" y="34" width="245" height="3" fill="url(#b4)"/><rect x="470" y="37" width="245" height="3" fill="url(#b5)"/><rect x="470" y="40" width="245" height="3" fill="url(#b6)"/><rect x="470" y="43" width="245" height="3" fill="url(#b7)"/><rect x="470" y="46" width="245" height="3" fill="url(#b8)"/><rect x="470" y="49" width="245" height="3" fill="url(#b9)"/><rect x="470" y="52" width="245" height="3" fill="url(#b10)"/><rect x="470" y="55" width="245" height="3" fill="url(#b11)"/><rect x="470" y="58" width="245" height="3" fill="url(#b12)"/><rect x="470" y="61" width="245" height="3" fill="url(#b13)"/><rect x="470" y="64" width="245" height="3" fill="url(#b14)"/><rect x="470" y="67" width="245" height="3" fill="url(#b15)"/><rect x="470" y="70" width="245" height="3" fill="url(#b16)"/><rect x="470" y="73" width="245" height="3" fill="url(#b17)"/><rect x="470" y="76" width="245" height="3" fill="url(#b18)"/><rect x="470" y="79" width="245" height="3" fill="url(#b19)"/><rect x="470" y="82" width="245" height="3" fill="url(#b20)"/><rect x="470" y="85" width="245" height="3" fill="url(#b21)"/><rect x="470" y="88" width="245" height="3" fill="url(#b22)"/><rect x="470" y="91" width="245" height="3" fill="url(#b23)"/><rect x="470" y="94" width="245" height="3" fill="url(#b24)"/><rect x="470" y="97" width="245" height="3" fill="url(#b25)"/><rect x="470" y="100" width="245" height="3" fill="url(#b26)"/><rect x="470" y="103" width="245" height="3" fill="url(#b27)"/><rect x="470" y="106" width="245" height="3" fill="url(#b28)"/><rect x="470" y="109" width="245" height="3" fill="url(#b29)"/><rect x="470" y="112" width="245" height="3" fill="url(#b30)"/><rect x="470" y="115" width="245" height="3" fill="url(#b31)"/><rect x="470" y="118" width="245" height="3" fill="url(#b32)"/><rect x="470" y="121" width="245" height="3" fill="url(#b33)"/><rect x="470" y="124" width="245" height="3" fill="url(#b34)"/><rect x="470" y="127" width="245" height="3" fill="url(#b35)"/><rect x="470" y="130" width="245" height="3" fill="url(#b36)"/><rect x="470" y="133" width="245" height="3" fill="url(#b37)"/><rect x="470" y="136" width="245" height="3" fill="url(#b38)"/><rect x="470" y="139" width="245" height="3" fill="url(#b39)"/><rect x="470" y="142" width="245" height="3" fill="url(#b40)"/><rect x="470" y="145" width="245" height="3" fill="url(#b41)"/><rect x="470" y="148" width="245" height="3" fill="url(#b42)"/><rect x="470" y="151" width="245" height="3" fill="url(#b43)"/><rect x="470" y="154" width="245" height="3" fill="url(#b44)"/><rect x="470" y="157" width="245" height="3" fill="url(#b45)"/><rect x="470" y="160" width="245" height="3" fill="url(#b46)"/><rect x="470" y="163" width="245" height="3" fill="url(#b47)"/><rect x="470" y="166" width="245" height="3" fill="url(#b48)"/><rect x="470" y="169" width="245" height="3" fill="url(#b49)"/><rect x="470" y="172" width="245" height="3" fill="url(#b50)"/><rect x="470" y="175" width="245" height="3" fill="url(#b51)"/><rect x="470" y="178" width="245" height="3" fill="url(#b52)"/><rect x="470" y="181" width="245" height="3" fill="url(#b53)"/><rect x="470" y="184" width="245" height="3" fill="url(#b54)"/><rect x="470" y="187" width="245" height="3" fill="url(#b55)"/><rect x="470" y="190" width="245" height="3" fill="url(#b56)"/><rect x="470" y="193" width="245" height="3" fill="url(#b57)"/><rect x="470" y="196" width="245" height="3" fill="url(#b58)"/><rect x="470" y="199" width="245" height="3" fill="url(#b59)"/><rect x="470" y="202" width="245" height="3" fill="url(#b60)"/><rect x="470" y="205" width="245" height="3" fill="url(#b61)"/><rect x="470" y="208" width="245" height="3" fill="url(#b62)"/><rect x="470" y="211" width="245" height="3" fill="url(#b63)"/><rect x="470" y="214" width="245" height="3" fill="url(#b64)"/><rect x="470" y="217" width="245" height="3" fill="url(#b65)"/><rect x="470" y="220" width="245" height="3" fill="url(#b66)"/><rect x="470" y="223" width="245" height="3" fill="url(#b67)"/><rect x="470" y="226" width="245" height="3" fill="url(#b68)"/><rect x="470" y="229" width="245" height="3" fill="url(#b69)"/><rect x="470" y="232" width="245" height="3" fill="url(#b70)"/><rect x="470" y="235" width="245" height="3" fill="url(#b71)"/><rect x="470" y="238" width="245" height="3" fill="url(#b72)"/><rect x="470" y="241" width="245" height="3" fill="url(#b73)"/><rect x="470" y="244" width="245" height="3" fill="url(#b74)"/><rect x="470" y="247" width="245" height="3" fill="url(#b75)"/><rect x="470" y="250" width="245" height="3" fill="url(#b76)"/><rect x="470" y="253" width="245" height="3" fill="url(#b77)"/><rect x="470" y="256" width="245" height="3" fill="url(#b78)"/><path d="M470 233.6 476.1 236.5 482.1 239.2 486.4 241.2 492.5 243.9 498.6 246.7 504 249.1 508.8 251.2 514.9 254 521 256.7 526.4 259" fill="none" stroke="#2e3010" stroke-width=".85"/><path d="M470 155.7 474.1 159.4 478.2 162.9 482.2 166.3 486.7 169.9 491.7 173.9 496.5 177.5 500.6 180.5 505.1 183.8 510.7 187.8 514.9 190.6 519.5 193.7 525.1 197.4 529.2 200.1 534.7 203.6 539.4 206.5 544.3 209.5 549.6 212.7 554.2 215.5 559.8 218.8 564.3 221.4 570 224.7 574.7 227.3 580.2 230.4 585.4 233.3 590.5 236 596.3 239.2 600.7 241.5 606.8 244.8 611.2 247.1 617 250.1 622.7 253.1 627.2 255.4 633.3 258.5 634.3 259" fill="none" stroke="#2e3010" stroke-width=".85"/><path d="M596.8 21.5 592.9 25.5 589.2 29.4 585.8 33.4 582.3 37.7 578.2 43.3 575.6 47.2 572.2 53.2 570 57.3 567.6 63.1 565.5 69 563.9 75.4 562.8 82.9 562.5 90.8 563.1 98.7 564.1 104.6 566 111.6 568 117.4 570.1 122.4 573.1 128.4 576.2 133.9 578.9 138.3 582.3 143.1 586 148.2 589.2 152.1 592.5 156.1 596.6 160.6 600.7 165 604.8 169.1 608.8 173.1 612.9 176.9 617 180.6 621.1 184.1 625.4 187.8 630.2 191.7 635.1 195.7 639.5 199 643.5 202.1 648.1 205.6 653.6 209.5 657.8 212.5 662 215.5 667.8 219.4 672.1 222.3 676.7 225.4 682.3 229 686.4 231.7 692.1 235.2 696.6 238.1 701.7 241.2 706.8 244.3 711.5 247.1 715 249.2" fill="none" stroke="#2e3010" stroke-width=".85"/><path d="M713.4 21.5 709.7 25.5 706.2 29.4 702.8 33.5 698.7 38.8 695.5 43.3 692.5 47.8 689.4 53.2 686.4 59.1 684.4 63.7 682.3 69.2 680.3 76.2 678.9 82.9 678.2 88.8 678 96.7 678.3 102.6 679.4 110.6 680.8 116.5 682.5 122.4 684.7 128.4 687.3 134.3 690.3 140.2 692.5 144.2 696.2 150.1 698.8 154.1 702.8 159.6 706.2 164 709.4 168 713 172.1 715 174.4" fill="none" stroke="#2e3010" stroke-width=".85"/><rect x="470" y="21.5" width="245" height="237.5" fill="none" stroke="#3a3a20" stroke-width="1"/><path d="M470 259v5" stroke="#444" stroke-width="1"/><text x="470" y="276.2" font-family="Liberation Serif,serif" font-weight="bold" font-size="12.5" text-anchor="middle">7</text><path d="M505 259v5" stroke="#444" stroke-width="1"/><text x="505" y="276.2" font-family="Liberation Serif,serif" font-weight="bold" font-size="12.5" text-anchor="middle">9</text><path d="M540 259v5" stroke="#444" stroke-width="1"/><text x="540" y="276.2" font-family="Liberation Serif,serif" font-weight="bold" font-size="12.5" text-anchor="middle">11</text><path d="M575 259v5" stroke="#444" stroke-width="1"/><text x="575" y="276.2" font-family="Liberation Serif,serif" font-weight="bold" font-size="12.5" text-anchor="middle">13</text><path d="M610 259v5" stroke="#444" stroke-width="1"/><text x="610" y="276.2" font-family="Liberation Serif,serif" font-weight="bold" font-size="12.5" text-anchor="middle">15</text><path d="M645 259v5" stroke="#444" stroke-width="1"/><text x="645" y="276.2" font-family="Liberation Serif,serif" font-weight="bold" font-size="12.5" text-anchor="middle">17</text><path d="M680 259v5" stroke="#444" stroke-width="1"/><text x="680" y="276.2" font-family="Liberation Serif,serif" font-weight="bold" font-size="12.5" text-anchor="middle">19</text><path d="M715 259v5" stroke="#444" stroke-width="1"/><text x="715" y="276.2" font-family="Liberation Serif,serif" font-weight="bold" font-size="12.5" text-anchor="middle">21</text><path d="M470 259h-6.5" stroke="#444" stroke-width="1"/><text x="459.5" y="263.2" font-family="Liberation Serif,serif" font-weight="bold" font-size="12.5" text-anchor="end">5</text><path d="M470 199.6h-6.5" stroke="#444" stroke-width="1"/><text x="459.5" y="203.8" font-family="Liberation Serif,serif" font-weight="bold" font-size="12.5" text-anchor="end">10</text><path d="M470 140.2h-6.5" stroke="#444" stroke-width="1"/><text x="459.5" y="144.5" font-family="Liberation Serif,serif" font-weight="bold" font-size="12.5" text-anchor="end">15</text><path d="M470 80.9h-6.5" stroke="#444" stroke-width="1"/><text x="459.5" y="85.1" font-family="Liberation Serif,serif" font-weight="bold" font-size="12.5" text-anchor="end">20</text><path d="M470 21.5h-6.5" stroke="#444" stroke-width="1"/><text x="459.5" y="25.7" font-family="Liberation Serif,serif" font-weight="bold" font-size="12.5" text-anchor="end">25</text><text x="582" y="15.2" font-family="Liberation Serif,serif" font-weight="bold" font-size="12.35" text-anchor="middle">R: Absorbance (nm)</text><text x="603" y="290.5" font-family="Liberation Sans,sans-serif" font-weight="bold" font-size="12.25" text-anchor="middle">A: Days of fermentation</text><text transform="translate(438 146.5) rotate(-90)" font-family="Liberation Sans,sans-serif" font-weight="bold" font-size="12.45" text-anchor="middle">C: Volume of silver nitrate (mL)</text><rect x="670.3" y="90.2" width="13" height="8.6" fill="#fff" stroke="#222" stroke-width=".7"/><text x="676.8" y="97.2" font-family="Liberation Sans,sans-serif" font-size="7.4" text-anchor="middle" fill="#333">0.7</text><rect x="588.5" y="152.2" width="13" height="8.6" fill="#fff" stroke="#222" stroke-width=".7"/><text x="595" y="159.2" font-family="Liberation Sans,sans-serif" font-size="7.4" text-anchor="middle" fill="#333">0.6</text><rect x="539.5" y="202.7" width="13" height="8.6" fill="#fff" stroke="#222" stroke-width=".7"/><text x="546" y="209.7" font-family="Liberation Sans,sans-serif" font-size="7.4" text-anchor="middle" fill="#333">0.5</text><rect x="491" y="238" width="13" height="8.6" fill="#fff" stroke="#222" stroke-width=".7"/><text x="497.5" y="245" font-family="Liberation Sans,sans-serif" font-size="7.4" text-anchor="middle" fill="#333">0.4</text><circle cx="470" cy="259" r="2" fill="#b01218" stroke="#6a0a0a" stroke-width=".5"/><circle cx="470" cy="21.5" r="2" fill="#b01218" stroke="#6a0a0a" stroke-width=".5"/><circle cx="715" cy="259" r="2" fill="#b01218" stroke="#6a0a0a" stroke-width=".5"/><circle cx="715" cy="21.5" r="2" fill="#b01218" stroke="#6a0a0a" stroke-width=".5"/><circle cx="592.5" cy="140.2" r="2" fill="#b01218" stroke="#6a0a0a" stroke-width=".5"/><text x="408.3" y="21" font-family="Liberation Sans,sans-serif" font-weight="bold" font-size="19.5">(b)</text></g>
<g><rect x="470" y="348" width="242" height="3" fill="url(#d0)"/><rect x="470" y="351" width="242" height="3" fill="url(#d1)"/><rect x="470" y="354" width="242" height="3" fill="url(#d2)"/><rect x="470" y="357" width="242" height="3" fill="url(#d3)"/><rect x="470" y="360" width="242" height="3" fill="url(#d4)"/><rect x="470" y="363" width="242" height="3" fill="url(#d5)"/><rect x="470" y="366" width="242" height="3" fill="url(#d6)"/><rect x="470" y="369" width="242" height="3" fill="url(#d7)"/><rect x="470" y="372" width="242" height="3" fill="url(#d8)"/><rect x="470" y="375" width="242" height="3" fill="url(#d9)"/><rect x="470" y="378" width="242" height="3" fill="url(#d10)"/><rect x="470" y="381" width="242" height="3" fill="url(#d11)"/><rect x="470" y="384" width="242" height="3" fill="url(#d12)"/><rect x="470" y="387" width="242" height="3" fill="url(#d13)"/><rect x="470" y="390" width="242" height="3" fill="url(#d14)"/><rect x="470" y="393" width="242" height="3" fill="url(#d15)"/><rect x="470" y="396" width="242" height="3" fill="url(#d16)"/><rect x="470" y="399" width="242" height="3" fill="url(#d17)"/><rect x="470" y="402" width="242" height="3" fill="url(#d18)"/><rect x="470" y="405" width="242" height="3" fill="url(#d19)"/><rect x="470" y="408" width="242" height="3" fill="url(#d20)"/><rect x="470" y="411" width="242" height="3" fill="url(#d21)"/><rect x="470" y="414" width="242" height="3" fill="url(#d22)"/><rect x="470" y="417" width="242" height="3" fill="url(#d23)"/><rect x="470" y="420" width="242" height="3" fill="url(#d24)"/><rect x="470" y="423" width="242" height="3" fill="url(#d25)"/><rect x="470" y="426" width="242" height="3" fill="url(#d26)"/><rect x="470" y="429" width="242" height="3" fill="url(#d27)"/><rect x="470" y="432" width="242" height="3" fill="url(#d28)"/><rect x="470" y="435" width="242" height="3" fill="url(#d29)"/><rect x="470" y="438" width="242" height="3" fill="url(#d30)"/><rect x="470" y="441" width="242" height="3" fill="url(#d31)"/><rect x="470" y="444" width="242" height="3" fill="url(#d32)"/><rect x="470" y="447" width="242" height="3" fill="url(#d33)"/><rect x="470" y="450" width="242" height="3" fill="url(#d34)"/><rect x="470" y="453" width="242" height="3" fill="url(#d35)"/><rect x="470" y="456" width="242" height="3" fill="url(#d36)"/><rect x="470" y="459" width="242" height="3" fill="url(#d37)"/><rect x="470" y="462" width="242" height="3" fill="url(#d38)"/><rect x="470" y="465" width="242" height="3" fill="url(#d39)"/><rect x="470" y="468" width="242" height="3" fill="url(#d40)"/><rect x="470" y="471" width="242" height="3" fill="url(#d41)"/><rect x="470" y="474" width="242" height="3" fill="url(#d42)"/><rect x="470" y="477" width="242" height="3" fill="url(#d43)"/><rect x="470" y="480" width="242" height="3" fill="url(#d44)"/><rect x="470" y="483" width="242" height="3" fill="url(#d45)"/><rect x="470" y="486" width="242" height="3" fill="url(#d46)"/><rect x="470" y="489" width="242" height="3" fill="url(#d47)"/><rect x="470" y="492" width="242" height="3" fill="url(#d48)"/><rect x="470" y="495" width="242" height="3" fill="url(#d49)"/><rect x="470" y="498" width="242" height="3" fill="url(#d50)"/><rect x="470" y="501" width="242" height="3" fill="url(#d51)"/><rect x="470" y="504" width="242" height="3" fill="url(#d52)"/><rect x="470" y="507" width="242" height="3" fill="url(#d53)"/><rect x="470" y="510" width="242" height="3" fill="url(#d54)"/><rect x="470" y="513" width="242" height="3" fill="url(#d55)"/><rect x="470" y="516" width="242" height="3" fill="url(#d56)"/><rect x="470" y="519" width="242" height="3" fill="url(#d57)"/><rect x="470" y="522" width="242" height="3" fill="url(#d58)"/><rect x="470" y="525" width="242" height="3" fill="url(#d59)"/><rect x="470" y="528" width="242" height="3" fill="url(#d60)"/><rect x="470" y="531" width="242" height="3" fill="url(#d61)"/><rect x="470" y="534" width="242" height="3" fill="url(#d62)"/><rect x="470" y="537" width="242" height="3" fill="url(#d63)"/><rect x="470" y="540" width="242" height="3" fill="url(#d64)"/><rect x="470" y="543" width="242" height="3" fill="url(#d65)"/><rect x="470" y="546" width="242" height="3" fill="url(#d66)"/><rect x="470" y="549" width="242" height="3" fill="url(#d67)"/><rect x="470" y="552" width="242" height="3" fill="url(#d68)"/><rect x="470" y="555" width="242" height="3" fill="url(#d69)"/><rect x="470" y="558" width="242" height="3" fill="url(#d70)"/><rect x="470" y="561" width="242" height="3" fill="url(#d71)"/><rect x="470" y="564" width="242" height="3" fill="url(#d72)"/><rect x="470" y="567" width="242" height="3" fill="url(#d73)"/><rect x="470" y="570" width="242" height="3" fill="url(#d74)"/><path d="M469.7 528.9 475.8 531 481.8 533.2 487.7 535.2 492.9 537.1 498.2 539 504.1 541.1 510.1 543.2 516.2 545.3 522.3 547.5 528.4 549.6 534.4 551.7 540.5 553.8 546.3 555.8 551.7 557.7 557.1 559.6 562.7 561.6 568.8 563.7 574.9 565.8 580.9 567.9 587 569.9 593.1 572 595 572.7" fill="none" stroke="#2e3010" stroke-width=".85"/><path d="M469.7 452.1 473.7 455 478.7 458.5 483.9 462 487.9 464.6 493 467.8 498 470.9 502.2 473.5 508.1 477 512.2 479.3 518.2 482.8 522.3 485 528.4 488.3 532.4 490.5 538.5 493.7 542.7 495.9 548.6 499 553.7 501.5 558.7 504.1 564.8 507.1 568.8 509.1 574.9 512 580.4 514.7 585 516.8 591 519.7 596.4 522.1 601.2 524.3 607.2 527.1 612.8 529.6 617.3 531.7 623.4 534.4 629.5 537.1 633.8 539 639.6 541.5 645.7 544.2 651.1 546.5 655.8 548.5 661.8 551.1 667.9 553.7 673.1 555.8 678 557.9 684.1 560.4 690.2 563 695.6 565.2 700.3 567.1 706.3 569.6 712.4 572.1" fill="none" stroke="#2e3010" stroke-width=".85"/><path d="M614.6 348 611.2 351.7 607.2 356.5 603.9 361.1 601.2 365.3 598.3 370.5 595.8 376.1 594 381.7 592.7 387.3 592.1 394.8 592.5 402.3 593.5 407.9 595.1 413.6 597.2 419.2 600 424.8 603.2 430.3 605.7 434.1 609.3 439 612.9 443.5 616.1 447.2 619.6 451 623.4 454.9 627.5 458.8 631.5 462.5 635.5 466 640 469.7 644.6 473.5 649.4 477.2 653.7 480.4 657.8 483.4 662.2 486.6 667.6 490.3 672 493.2 676.1 495.9 681.9 499.7 686.1 502.4 690.8 505.3 696.2 508.6 700.3 511 706.3 514.6 710.4 516.9 712.4 518.1" fill="none" stroke="#2e3010" stroke-width=".85"/><rect x="469.7" y="348" width="242.7" height="224.7" fill="none" stroke="#3a3a20" stroke-width="1"/><path d="M469.7 572.7v5" stroke="#444" stroke-width="1"/><text x="469.7" y="589.9" font-family="Liberation Serif,serif" font-weight="bold" font-size="12.5" text-anchor="middle">7</text><path d="M504.4 572.7v5" stroke="#444" stroke-width="1"/><text x="504.4" y="589.9" font-family="Liberation Serif,serif" font-weight="bold" font-size="12.5" text-anchor="middle">9</text><path d="M539 572.7v5" stroke="#444" stroke-width="1"/><text x="539" y="589.9" font-family="Liberation Serif,serif" font-weight="bold" font-size="12.5" text-anchor="middle">11</text><path d="M573.7 572.7v5" stroke="#444" stroke-width="1"/><text x="573.7" y="589.9" font-family="Liberation Serif,serif" font-weight="bold" font-size="12.5" text-anchor="middle">13</text><path d="M608.4 572.7v5" stroke="#444" stroke-width="1"/><text x="608.4" y="589.9" font-family="Liberation Serif,serif" font-weight="bold" font-size="12.5" text-anchor="middle">15</text><path d="M643.1 572.7v5" stroke="#444" stroke-width="1"/><text x="643.1" y="589.9" font-family="Liberation Serif,serif" font-weight="bold" font-size="12.5" text-anchor="middle">17</text><path d="M677.7 572.7v5" stroke="#444" stroke-width="1"/><text x="677.7" y="589.9" font-family="Liberation Serif,serif" font-weight="bold" font-size="12.5" text-anchor="middle">19</text><path d="M712.4 572.7v5" stroke="#444" stroke-width="1"/><text x="712.4" y="589.9" font-family="Liberation Serif,serif" font-weight="bold" font-size="12.5" text-anchor="middle">21</text><path d="M469.7 572.7h-6.5" stroke="#444" stroke-width="1"/><text x="459.2" y="576.9" font-family="Liberation Serif,serif" font-weight="bold" font-size="12.5" text-anchor="end">5</text><path d="M469.7 516.5h-6.5" stroke="#444" stroke-width="1"/><text x="459.2" y="520.8" font-family="Liberation Serif,serif" font-weight="bold" font-size="12.5" text-anchor="end">10</text><path d="M469.7 460.4h-6.5" stroke="#444" stroke-width="1"/><text x="459.2" y="464.6" font-family="Liberation Serif,serif" font-weight="bold" font-size="12.5" text-anchor="end">15</text><path d="M469.7 404.2h-6.5" stroke="#444" stroke-width="1"/><text x="459.2" y="408.4" font-family="Liberation Serif,serif" font-weight="bold" font-size="12.5" text-anchor="end">20</text><path d="M469.7 348h-6.5" stroke="#444" stroke-width="1"/><text x="459.2" y="352.2" font-family="Liberation Serif,serif" font-weight="bold" font-size="12.5" text-anchor="end">25</text><text x="587.7" y="342" font-family="Liberation Serif,serif" font-weight="bold" font-size="11.9" text-anchor="middle">R: Absorbance (nm)</text><text x="599.5" y="608" font-family="Liberation Sans,sans-serif" font-weight="bold" font-size="12.25" text-anchor="middle">A: Days of fermentation</text><text transform="translate(438.8 463.6) rotate(-90)" font-family="Liberation Sans,sans-serif" font-weight="bold" font-size="12.15" text-anchor="middle">C: Volume of silver nitrate (mL)</text><rect x="611.5" y="442.7" width="13" height="8.6" fill="#fff" stroke="#222" stroke-width=".7"/><text x="618" y="449.7" font-family="Liberation Sans,sans-serif" font-size="7.4" text-anchor="middle" fill="#333">0.6</text><rect x="577.8" y="509" width="13" height="8.6" fill="#fff" stroke="#222" stroke-width=".7"/><text x="584.3" y="516" font-family="Liberation Sans,sans-serif" font-size="7.4" text-anchor="middle" fill="#333">0.5</text><rect x="523.5" y="542.4" width="13" height="8.6" fill="#fff" stroke="#222" stroke-width=".7"/><text x="530" y="549.4" font-family="Liberation Sans,sans-serif" font-size="7.4" text-anchor="middle" fill="#333">0.4</text><circle cx="591" cy="348" r="2" fill="#b01218" stroke="#6a0a0a" stroke-width=".5"/><circle cx="469.7" cy="460.4" r="2" fill="#b01218" stroke="#6a0a0a" stroke-width=".5"/><circle cx="712.4" cy="460.4" r="2" fill="#b01218" stroke="#6a0a0a" stroke-width=".5"/><circle cx="591" cy="572.7" r="2" fill="#b01218" stroke="#6a0a0a" stroke-width=".5"/><circle cx="591" cy="460.4" r="2" fill="#b01218" stroke="#6a0a0a" stroke-width=".5"/><text x="408" y="344.7" font-family="Liberation Sans,sans-serif" font-weight="bold" font-size="18">(d)</text><text x="587.3" y="463.2" font-family="Liberation Serif,serif" font-size="12" text-anchor="end" fill="#4a5a10">6</text></g>
<g><rect x="457" y="644" width="248" height="3" fill="url(#f0)"/><rect x="457" y="647" width="248" height="3" fill="url(#f1)"/><rect x="457" y="650" width="248" height="3" fill="url(#f2)"/><rect x="457" y="653" width="248" height="3" fill="url(#f3)"/><rect x="457" y="656" width="248" height="3" fill="url(#f4)"/><rect x="457" y="659" width="248" height="3" fill="url(#f5)"/><rect x="457" y="662" width="248" height="3" fill="url(#f6)"/><rect x="457" y="665" width="248" height="3" fill="url(#f7)"/><rect x="457" y="668" width="248" height="3" fill="url(#f8)"/><rect x="457" y="671" width="248" height="3" fill="url(#f9)"/><rect x="457" y="674" width="248" height="3" fill="url(#f10)"/><rect x="457" y="677" width="248" height="3" fill="url(#f11)"/><rect x="457" y="680" width="248" height="3" fill="url(#f12)"/><rect x="457" y="683" width="248" height="3" fill="url(#f13)"/><rect x="457" y="686" width="248" height="3" fill="url(#f14)"/><rect x="457" y="689" width="248" height="3" fill="url(#f15)"/><rect x="457" y="692" width="248" height="3" fill="url(#f16)"/><rect x="457" y="695" width="248" height="3" fill="url(#f17)"/><rect x="457" y="698" width="248" height="3" fill="url(#f18)"/><rect x="457" y="701" width="248" height="3" fill="url(#f19)"/><rect x="457" y="704" width="248" height="3" fill="url(#f20)"/><rect x="457" y="707" width="248" height="3" fill="url(#f21)"/><rect x="457" y="710" width="248" height="3" fill="url(#f22)"/><rect x="457" y="713" width="248" height="3" fill="url(#f23)"/><rect x="457" y="716" width="248" height="3" fill="url(#f24)"/><rect x="457" y="719" width="248" height="3" fill="url(#f25)"/><rect x="457" y="722" width="248" height="3" fill="url(#f26)"/><rect x="457" y="725" width="248" height="3" fill="url(#f27)"/><rect x="457" y="728" width="248" height="3" fill="url(#f28)"/><rect x="457" y="731" width="248" height="3" fill="url(#f29)"/><rect x="457" y="734" width="248" height="3" fill="url(#f30)"/><rect x="457" y="737" width="248" height="3" fill="url(#f31)"/><rect x="457" y="740" width="248" height="3" fill="url(#f32)"/><rect x="457" y="743" width="248" height="3" fill="url(#f33)"/><rect x="457" y="746" width="248" height="3" fill="url(#f34)"/><rect x="457" y="749" width="248" height="3" fill="url(#f35)"/><rect x="457" y="752" width="248" height="3" fill="url(#f36)"/><rect x="457" y="755" width="248" height="3" fill="url(#f37)"/><rect x="457" y="758" width="248" height="3" fill="url(#f38)"/><rect x="457" y="761" width="248" height="3" fill="url(#f39)"/><rect x="457" y="764" width="248" height="3" fill="url(#f40)"/><rect x="457" y="767" width="248" height="3" fill="url(#f41)"/><rect x="457" y="770" width="248" height="3" fill="url(#f42)"/><rect x="457" y="773" width="248" height="3" fill="url(#f43)"/><rect x="457" y="776" width="248" height="3" fill="url(#f44)"/><rect x="457" y="779" width="248" height="3" fill="url(#f45)"/><rect x="457" y="782" width="248" height="3" fill="url(#f46)"/><rect x="457" y="785" width="248" height="3" fill="url(#f47)"/><rect x="457" y="788" width="248" height="3" fill="url(#f48)"/><rect x="457" y="791" width="248" height="3" fill="url(#f49)"/><rect x="457" y="794" width="248" height="3" fill="url(#f50)"/><rect x="457" y="797" width="248" height="3" fill="url(#f51)"/><rect x="457" y="800" width="248" height="3" fill="url(#f52)"/><rect x="457" y="803" width="248" height="3" fill="url(#f53)"/><rect x="457" y="806" width="248" height="3" fill="url(#f54)"/><rect x="457" y="809" width="248" height="3" fill="url(#f55)"/><rect x="457" y="812" width="248" height="3" fill="url(#f56)"/><rect x="457" y="815" width="248" height="3" fill="url(#f57)"/><rect x="457" y="818" width="248" height="3" fill="url(#f58)"/><rect x="457" y="821" width="248" height="3" fill="url(#f59)"/><rect x="457" y="824" width="248" height="3" fill="url(#f60)"/><rect x="457" y="827" width="248" height="3" fill="url(#f61)"/><rect x="457" y="830" width="248" height="3" fill="url(#f62)"/><rect x="457" y="833" width="248" height="3" fill="url(#f63)"/><rect x="457" y="836" width="248" height="3" fill="url(#f64)"/><rect x="457" y="839" width="248" height="3" fill="url(#f65)"/><rect x="457" y="842" width="248" height="3" fill="url(#f66)"/><rect x="457" y="845" width="248" height="3" fill="url(#f67)"/><rect x="457" y="848" width="248" height="3" fill="url(#f68)"/><rect x="457" y="851" width="248" height="3" fill="url(#f69)"/><rect x="457" y="854" width="248" height="3" fill="url(#f70)"/><rect x="457" y="857" width="248" height="3" fill="url(#f71)"/><rect x="457" y="860" width="248" height="3" fill="url(#f72)"/><rect x="457" y="863" width="248" height="3" fill="url(#f73)"/><rect x="457" y="866" width="248" height="3" fill="url(#f74)"/><path d="M457 831 463.2 832.8 469.4 834.5 475.6 836.3 481.8 838.1 488 839.8 494.2 841.6 500.4 843.4 506.6 845.2 512.8 847 519 848.8 525.2 850.6 531.4 852.4 537.6 854.2 543.8 856 550 857.9 556.2 859.7 562.4 861.5 568.6 863.4 575 865.2 581.3 867.1 587.6 869" fill="none" stroke="#2e3010" stroke-width=".85"/><path d="M457 766.9 463.2 769.2 469.3 771.5 474.3 773.4 479.7 775.4 485.9 777.7 492.1 780.1 498.3 782.4 504.4 784.6 509.5 786.5 514.9 788.5 521.1 790.8 527.3 793.1 533.5 795.4 539.7 797.7 545 799.6 550.1 801.5 556.2 803.7 562.4 806 568.6 808.3 574.8 810.6 580.8 812.8 585.9 814.6 591.3 816.6 597.5 818.9 603.7 821.1 609.9 823.4 616.1 825.6 622 827.8 627.1 829.6 632.7 831.6 638.9 833.9 645.1 836.1 651.3 838.4 657.5 840.6 663.4 842.8 668.6 844.6 674 846.6 680.2 848.8 686.4 851.1 692.6 853.3 698.8 855.5 705 857.8 705 857.8" fill="none" stroke="#2e3010" stroke-width=".85"/><path d="M705 644.4 698.8 646.1 692.6 648 686.4 649.9 680.2 652 674 654.2 667.8 656.6 661.8 659 657.5 660.9 651.3 663.9 646.4 666.5 640.9 669.7 636.8 672.5 632.4 675.9 628.3 679.6 624.4 684.1 621.3 689 619.1 694.6 618.2 702.1 619.4 709.6 621.6 715.2 624.4 720.5 627.2 724.6 630.6 729 634.7 733.7 638.8 737.8 642.8 741.5 647 745.2 651.3 748.8 655.4 752 659.5 755.2 663.9 758.4 669.3 762.1 674 765.3 678.1 768.1 683.5 771.5 688.5 774.6 692.6 777.1 698.8 780.9 702.9 783.3 705 784.5" fill="none" stroke="#2e3010" stroke-width=".85"/><rect x="457" y="644" width="248" height="225" fill="none" stroke="#3a3a20" stroke-width="1"/><path d="M457 869v5" stroke="#444" stroke-width="1"/><text x="457" y="884.3" font-family="Liberation Serif,serif" font-weight="bold" font-size="12.2" text-anchor="middle">12</text><path d="M519 869v5" stroke="#444" stroke-width="1"/><text x="519" y="884.3" font-family="Liberation Serif,serif" font-weight="bold" font-size="12.2" text-anchor="middle">18</text><path d="M581 869v5" stroke="#444" stroke-width="1"/><text x="581" y="884.3" font-family="Liberation Serif,serif" font-weight="bold" font-size="12.2" text-anchor="middle">24</text><path d="M643 869v5" stroke="#444" stroke-width="1"/><text x="643" y="884.3" font-family="Liberation Serif,serif" font-weight="bold" font-size="12.2" text-anchor="middle">30</text><path d="M705 869v5" stroke="#444" stroke-width="1"/><text x="705" y="884.3" font-family="Liberation Serif,serif" font-weight="bold" font-size="12.2" text-anchor="middle">36</text><path d="M457 869h-6.5" stroke="#444" stroke-width="1"/><text x="448" y="873.1" font-family="Liberation Serif,serif" font-weight="bold" font-size="12.2" text-anchor="end">5</text><path d="M457 812.8h-6.5" stroke="#444" stroke-width="1"/><text x="448" y="816.9" font-family="Liberation Serif,serif" font-weight="bold" font-size="12.2" text-anchor="end">10</text><path d="M457 756.5h-6.5" stroke="#444" stroke-width="1"/><text x="448" y="760.6" font-family="Liberation Serif,serif" font-weight="bold" font-size="12.2" text-anchor="end">15</text><path d="M457 700.2h-6.5" stroke="#444" stroke-width="1"/><text x="448" y="704.4" font-family="Liberation Serif,serif" font-weight="bold" font-size="12.2" text-anchor="end">20</text><path d="M457 644h-6.5" stroke="#444" stroke-width="1"/><text x="448" y="648.1" font-family="Liberation Serif,serif" font-weight="bold" font-size="12.2" text-anchor="end">25</text><text x="577.8" y="636.5" font-family="Liberation Serif,serif" font-weight="bold" font-size="11.9" text-anchor="middle">R: Absorbance (nm)</text><text x="583" y="902" font-family="Liberation Sans,sans-serif" font-weight="bold" font-size="12.1" text-anchor="middle">B: Duration of incubation (hour)</text><text transform="translate(428.9 757) rotate(-90)" font-family="Liberation Sans,sans-serif" font-weight="bold" font-size="12.2" text-anchor="middle">C: Volume of silver nitrate (mL)</text><rect x="613" y="705.7" width="13" height="8.6" fill="#fff" stroke="#222" stroke-width=".7"/><text x="619.5" y="712.7" font-family="Liberation Sans,sans-serif" font-size="7.4" text-anchor="middle" fill="#333">0.7</text><rect x="572.7" y="804" width="13" height="8.6" fill="#fff" stroke="#222" stroke-width=".7"/><text x="579.2" y="811" font-family="Liberation Sans,sans-serif" font-size="7.4" text-anchor="middle" fill="#333">0.6</text><rect x="512.5" y="840.4" width="13" height="8.6" fill="#fff" stroke="#222" stroke-width=".7"/><text x="519" y="847.4" font-family="Liberation Sans,sans-serif" font-size="7.4" text-anchor="middle" fill="#333">0.5</text><text x="399" y="645.3" font-family="Liberation Sans,sans-serif" font-weight="bold" font-size="18">(f)</text></g>
</svg></body></html>
